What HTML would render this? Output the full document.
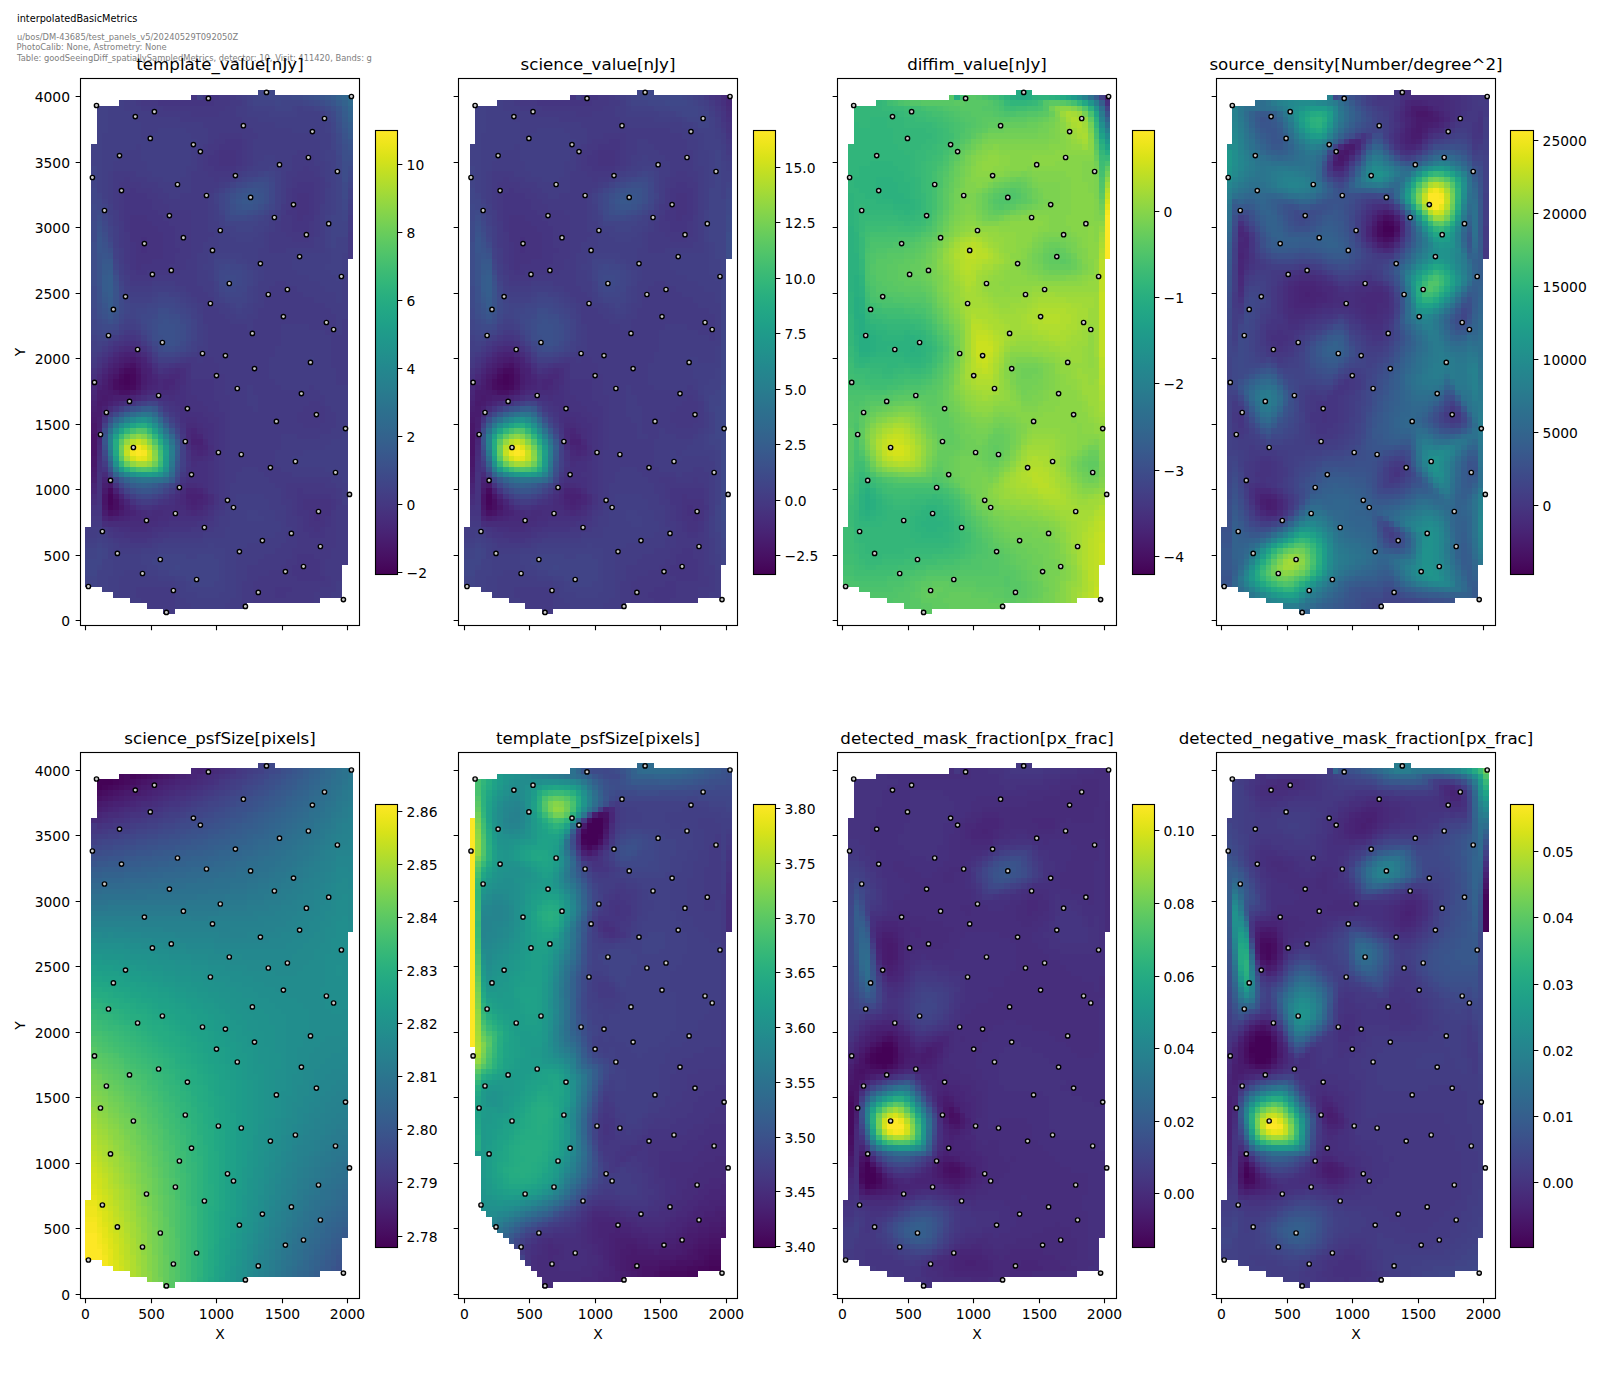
<!DOCTYPE html>
<html><head><meta charset="utf-8"><title>interpolatedBasicMetrics</title>
<style>html,body{margin:0;padding:0;background:#fff}svg{display:block}text{font-family:"DejaVu Sans","Liberation Sans",sans-serif;fill:#000}.t{font-size:13.89px}.h{font-size:16.67px}.g{font-size:8.33px;fill:#808080}.s{stroke:#000;stroke-width:1.11;fill:none}.k{stroke:#000;stroke-width:1.11}.p circle{fill:#cccccc;stroke:#000;stroke-width:1.4}</style></head><body>
<svg width="1600" height="1400" viewBox="0 0 1600 1400">
<rect width="1600" height="1400" fill="#fff"/>
<defs><linearGradient id="vg" x1="0" y1="0" x2="0" y2="1"><stop offset="0.0000" stop-color="#fde725"/><stop offset="0.0312" stop-color="#ece51b"/><stop offset="0.0625" stop-color="#d8e219"/><stop offset="0.0938" stop-color="#c2df23"/><stop offset="0.1250" stop-color="#addc30"/><stop offset="0.1562" stop-color="#98d83e"/><stop offset="0.1875" stop-color="#84d44b"/><stop offset="0.2188" stop-color="#70cf57"/><stop offset="0.2500" stop-color="#5ec962"/><stop offset="0.2812" stop-color="#4ec36b"/><stop offset="0.3125" stop-color="#3fbc73"/><stop offset="0.3438" stop-color="#32b67a"/><stop offset="0.3750" stop-color="#28ae80"/><stop offset="0.4062" stop-color="#22a785"/><stop offset="0.4375" stop-color="#1fa088"/><stop offset="0.4688" stop-color="#1f988b"/><stop offset="0.5000" stop-color="#21918c"/><stop offset="0.5312" stop-color="#23898e"/><stop offset="0.5625" stop-color="#26828e"/><stop offset="0.5938" stop-color="#297a8e"/><stop offset="0.6250" stop-color="#2c728e"/><stop offset="0.6562" stop-color="#2f6b8e"/><stop offset="0.6875" stop-color="#33638d"/><stop offset="0.7188" stop-color="#375b8d"/><stop offset="0.7500" stop-color="#3b528b"/><stop offset="0.7812" stop-color="#3e4989"/><stop offset="0.8125" stop-color="#424086"/><stop offset="0.8438" stop-color="#453781"/><stop offset="0.8750" stop-color="#472d7b"/><stop offset="0.9062" stop-color="#482374"/><stop offset="0.9375" stop-color="#48186a"/><stop offset="0.9688" stop-color="#470d60"/><stop offset="1.0000" stop-color="#440154"/></linearGradient><g id="pp" class="p"><circle cx="96.5" cy="105.5" r="2.15"/><circle cx="135.3" cy="116.6" r="2.15"/><circle cx="154.4" cy="111.7" r="2.15"/><circle cx="208.4" cy="98.4" r="2.15"/><circle cx="266.5" cy="92.4" r="2.15"/><circle cx="351.4" cy="96.5" r="2.15"/><circle cx="324.5" cy="118.5" r="2.15"/><circle cx="312.4" cy="131.6" r="2.15"/><circle cx="243.4" cy="125.7" r="2.15"/><circle cx="150.3" cy="138.4" r="2.15"/><circle cx="193.4" cy="144.6" r="2.15"/><circle cx="200.4" cy="151.6" r="2.15"/><circle cx="119.5" cy="155.6" r="2.15"/><circle cx="308.4" cy="157.5" r="2.15"/><circle cx="279.5" cy="164.7" r="2.15"/><circle cx="337.4" cy="171.5" r="2.15"/><circle cx="92.4" cy="177.5" r="2.15"/><circle cx="235.4" cy="175.6" r="2.15"/><circle cx="177.5" cy="184.5" r="2.15"/><circle cx="121.5" cy="190.6" r="2.15"/><circle cx="206.5" cy="195.5" r="2.15"/><circle cx="250.6" cy="197.4" r="2.15"/><circle cx="293.5" cy="204.6" r="2.15"/><circle cx="104.5" cy="210.5" r="2.15"/><circle cx="169.4" cy="215.6" r="2.15"/><circle cx="274.4" cy="217.5" r="2.15"/><circle cx="328.7" cy="223.7" r="2.15"/><circle cx="220.3" cy="230.5" r="2.15"/><circle cx="306.4" cy="234.7" r="2.15"/><circle cx="183.4" cy="237.7" r="2.15"/><circle cx="144.4" cy="243.6" r="2.15"/><circle cx="212.5" cy="250.4" r="2.15"/><circle cx="299.6" cy="256.6" r="2.15"/><circle cx="260.4" cy="263.6" r="2.15"/><circle cx="171.3" cy="270.4" r="2.15"/><circle cx="152.4" cy="274.4" r="2.15"/><circle cx="341.4" cy="276.5" r="2.15"/><circle cx="229.3" cy="283.5" r="2.15"/><circle cx="287.4" cy="289.5" r="2.15"/><circle cx="268.3" cy="294.5" r="2.15"/><circle cx="125.5" cy="296.6" r="2.15"/><circle cx="210.4" cy="303.5" r="2.15"/><circle cx="113.4" cy="309.4" r="2.15"/><circle cx="283.4" cy="316.6" r="2.15"/><circle cx="326.4" cy="322.5" r="2.15"/><circle cx="333.6" cy="329.5" r="2.15"/><circle cx="252.4" cy="333.4" r="2.15"/><circle cx="108.5" cy="335.5" r="2.15"/><circle cx="162.4" cy="342.5" r="2.15"/><circle cx="137.6" cy="349.5" r="2.15"/><circle cx="202.5" cy="353.5" r="2.15"/><circle cx="225.4" cy="355.6" r="2.15"/><circle cx="310.5" cy="362.4" r="2.15"/><circle cx="254.5" cy="368.6" r="2.15"/><circle cx="216.5" cy="375.6" r="2.15"/><circle cx="94.5" cy="382.4" r="2.15"/><circle cx="237.3" cy="388.5" r="2.15"/><circle cx="301.4" cy="393.6" r="2.15"/><circle cx="158.6" cy="395.5" r="2.15"/><circle cx="129.5" cy="401.4" r="2.15"/><circle cx="187.4" cy="408.6" r="2.15"/><circle cx="106.4" cy="412.5" r="2.15"/><circle cx="316.4" cy="414.6" r="2.15"/><circle cx="276.4" cy="421.4" r="2.15"/><circle cx="345.5" cy="428.6" r="2.15"/><circle cx="100.5" cy="434.5" r="2.15"/><circle cx="185.3" cy="441.5" r="2.15"/><circle cx="133.4" cy="447.5" r="2.15"/><circle cx="218.4" cy="452.5" r="2.15"/><circle cx="241.3" cy="454.5" r="2.15"/><circle cx="295.4" cy="461.5" r="2.15"/><circle cx="270.4" cy="467.6" r="2.15"/><circle cx="335.5" cy="472.5" r="2.15"/><circle cx="191.5" cy="474.6" r="2.15"/><circle cx="110.5" cy="480.4" r="2.15"/><circle cx="179.4" cy="487.5" r="2.15"/><circle cx="349.5" cy="494.4" r="2.15"/><circle cx="227.5" cy="500.3" r="2.15"/><circle cx="233.5" cy="507.5" r="2.15"/><circle cx="318.5" cy="511.5" r="2.15"/><circle cx="175.4" cy="513.5" r="2.15"/><circle cx="146.5" cy="520.5" r="2.15"/><circle cx="204.4" cy="527.5" r="2.15"/><circle cx="102.4" cy="531.5" r="2.15"/><circle cx="291.4" cy="533.4" r="2.15"/><circle cx="262.4" cy="540.6" r="2.15"/><circle cx="320.4" cy="546.5" r="2.15"/><circle cx="239.4" cy="551.6" r="2.15"/><circle cx="117.4" cy="553.4" r="2.15"/><circle cx="160.3" cy="559.5" r="2.15"/><circle cx="303.5" cy="566.5" r="2.15"/><circle cx="285.4" cy="571.6" r="2.15"/><circle cx="142.5" cy="573.5" r="2.15"/><circle cx="196.6" cy="579.5" r="2.15"/><circle cx="88.4" cy="586.5" r="2.15"/><circle cx="173.4" cy="590.5" r="2.15"/><circle cx="258.3" cy="592.4" r="2.15"/><circle cx="343.4" cy="599.6" r="2.15"/><circle cx="245.4" cy="606.4" r="2.15"/><circle cx="166.4" cy="612.4" r="2.15"/></g></defs>
<text x="17" y="22" style="font-size:9.72px">interpolatedBasicMetrics</text>
<text class="g" x="17" y="40">u/bos/DM-43685/test_panels_v5/20240529T092050Z</text>
<text class="g" x="16.5" y="50">PhotoCalib: None, Astrometry: None</text>
<text class="g" x="17" y="60.5">Table: goodSeeingDiff_spatiallySampledMetrics, detector: 10, Visit: 411420, Bands: g</text>
<g transform="translate(85.40,89.50) scale(5.5780,5.4640)" shape-rendering="crispEdges"><path fill="#450559" d="M7 52h1v1h-1zM7 53h1v1h-1zM4 74h1v1h-1zM4 75h1v1h-1z"/><path fill="#46085c" d="M8 52h1v1h-1zM6 53h1v1h-1zM8 53h1v1h-1zM7 54h1v1h-1zM4 76h1v1h-1z"/><path fill="#460b5e" d="M7 51h2v1h-2zM6 52h1v1h-1zM6 54h1v1h-1zM8 54h1v1h-1zM4 73h1v1h-1z"/><path fill="#470e61" d="M5 53h1v1h-1zM5 54h1v1h-1zM5 75h1v1h-1zM5 76h1v1h-1z"/><path fill="#471164" d="M8 50h1v1h-1zM6 51h1v1h-1zM9 52h1v1h-1zM9 53h1v1h-1zM6 55h2v1h-2zM4 77h1v1h-1z"/><path fill="#481467" d="M7 50h1v1h-1zM9 51h1v1h-1zM5 52h1v1h-1zM9 54h1v1h-1zM1 63h1v1h-1zM1 64h1v1h-1zM1 65h1v1h-1zM1 66h1v1h-1zM3 74h1v1h-1zM5 74h1v1h-1zM3 75h1v1h-1zM5 77h1v1h-1z"/><path fill="#481769" d="M4 53h1v1h-1zM4 54h1v1h-1zM5 55h1v1h-1zM8 55h1v1h-1zM1 61h1v1h-1zM1 62h1v1h-1zM1 67h1v1h-1zM1 68h1v1h-1zM3 76h1v1h-1zM6 76h1v1h-1z"/><path fill="#481a6c" d="M8 49h1v1h-1zM6 50h1v1h-1zM9 50h1v1h-1zM5 51h1v1h-1zM4 52h1v1h-1zM4 55h1v1h-1zM3 56h1v1h-1zM2 57h1v1h-1zM1 60h1v1h-1zM1 69h1v1h-1zM4 72h1v1h-1zM3 73h1v1h-1z"/><path fill="#481c6e" d="M7 49h1v1h-1zM10 52h1v1h-1zM10 53h1v1h-1zM3 54h1v1h-1zM2 55h2v1h-2zM9 55h1v1h-1zM2 56h1v1h-1zM4 56h1v1h-1zM3 57h1v1h-1zM2 58h1v1h-1zM1 59h2v1h-2zM1 70h1v1h-1zM6 75h1v1h-1zM3 77h1v1h-1zM6 77h1v1h-1z"/><path fill="#481f70" d="M6 49h1v1h-1zM9 49h1v1h-1zM5 50h1v1h-1zM4 51h1v1h-1zM10 51h1v1h-1zM3 53h1v1h-1zM10 54h1v1h-1zM5 56h3v1h-3zM1 58h1v1h-1zM2 60h1v1h-1zM2 61h1v1h-1zM1 71h1v1h-1zM3 72h1v1h-1zM4 78h1v1h-1z"/><path fill="#482173" d="M7 48h2v1h-2zM10 50h1v1h-1zM11 51h1v1h-1zM3 52h1v1h-1zM11 52h1v1h-1zM11 53h1v1h-1zM2 54h1v1h-1zM1 57h1v1h-1zM4 57h1v1h-1zM3 58h1v1h-1zM2 62h1v1h-1zM2 63h1v1h-1zM19 64h2v1h-2zM5 73h1v1h-1zM18 74h3v1h-3zM19 75h1v1h-1zM7 76h1v1h-1zM7 77h1v1h-1zM5 78h1v1h-1z"/><path fill="#482475" d="M6 48h1v1h-1zM5 49h1v1h-1zM10 49h1v1h-1zM4 50h1v1h-1zM12 53h1v1h-1zM11 54h1v1h-1zM10 55h1v1h-1zM1 56h1v1h-1zM8 56h1v1h-1zM19 63h1v1h-1zM20 65h1v1h-1zM3 71h1v1h-1zM1 72h1v1h-1zM18 73h2v1h-2zM6 74h1v1h-1zM18 75h1v1h-1zM20 75h1v1h-1zM19 76h1v1h-1zM8 77h1v1h-1zM3 78h1v1h-1zM6 78h1v1h-1z"/><path fill="#482677" d="M9 48h1v1h-1zM11 50h1v1h-1zM3 51h1v1h-1zM12 52h1v1h-1zM2 53h1v1h-1zM14 53h2v1h-2zM12 54h1v1h-1zM14 54h1v1h-1zM1 55h1v1h-1zM5 57h1v1h-1zM19 62h1v1h-1zM20 63h1v1h-1zM2 64h1v1h-1zM19 65h1v1h-1zM21 65h1v1h-1zM20 66h1v1h-1zM1 73h1v1h-1zM20 73h1v1h-1zM21 74h1v1h-1zM7 75h1v1h-1zM21 75h1v1h-1zM18 76h1v1h-1zM20 76h1v1h-1zM7 78h1v1h-1z"/><path fill="#482979" d="M7 47h2v1h-2zM5 48h1v1h-1zM4 49h1v1h-1zM2 52h1v1h-1zM15 52h2v1h-2zM13 53h1v1h-1zM1 54h1v1h-1zM13 54h1v1h-1zM15 54h1v1h-1zM11 55h1v1h-1zM9 56h1v1h-1zM18 62h1v1h-1zM18 63h1v1h-1zM21 64h1v1h-1zM2 65h1v1h-1zM19 66h1v1h-1zM21 66h1v1h-1zM17 74h1v1h-1zM17 75h1v1h-1zM8 76h1v1h-1zM9 77h1v1h-1zM19 77h1v1h-1zM8 78h2v1h-2z"/><path fill="#472c7a" d="M6 47h1v1h-1zM9 47h1v1h-1zM10 48h1v1h-1zM3 50h1v1h-1zM12 51h1v1h-1zM16 51h1v1h-1zM13 52h2v1h-2zM16 53h1v1h-1zM16 54h1v1h-1zM12 55h4v1h-4zM6 57h1v1h-1zM4 58h1v1h-1zM3 59h1v1h-1zM18 61h2v1h-2zM20 62h1v1h-1zM18 64h1v1h-1zM2 66h1v1h-1zM19 67h2v1h-2zM3 70h1v1h-1zM4 71h1v1h-1zM18 72h2v1h-2zM17 73h1v1h-1zM21 73h1v1h-1zM1 74h1v1h-1zM22 74h1v1h-1zM16 75h1v1h-1zM22 75h1v1h-1zM16 76h2v1h-2zM21 76h1v1h-1zM10 77h1v1h-1zM12 77h2v1h-2zM18 77h1v1h-1zM20 77h1v1h-1zM10 78h3v1h-3zM4 79h7v1h-7z"/><path fill="#472e7c" d="M11 49h1v1h-1zM2 51h1v1h-1zM15 51h1v1h-1zM17 51h1v1h-1zM17 52h1v1h-1zM1 53h1v1h-1zM17 53h1v1h-1zM16 55h1v1h-1zM10 56h1v1h-1zM15 56h1v1h-1zM18 60h2v1h-2zM20 61h1v1h-1zM21 62h1v1h-1zM21 63h1v1h-1zM18 65h1v1h-1zM22 65h1v1h-1zM22 66h1v1h-1zM2 67h1v1h-1zM21 67h1v1h-1zM19 68h1v1h-1zM20 72h1v1h-1zM16 74h1v1h-1zM1 75h1v1h-1zM13 76h3v1h-3zM11 77h1v1h-1zM14 77h4v1h-4zM21 77h1v1h-1zM13 78h2v1h-2zM3 79h1v1h-1zM11 79h2v1h-2zM8 80h3v1h-3z"/><path fill="#46307e" d="M10 27h1v1h-1zM10 28h1v1h-1zM10 29h1v1h-1zM7 46h2v1h-2zM5 47h1v1h-1zM4 48h1v1h-1zM3 49h1v1h-1zM12 50h1v1h-1zM14 51h1v1h-1zM1 52h1v1h-1zM17 54h1v1h-1zM17 55h1v1h-1zM13 56h2v1h-2zM16 56h2v1h-2zM7 57h1v1h-1zM16 57h2v1h-2zM17 58h2v1h-2zM17 59h4v1h-4zM17 60h1v1h-1zM20 60h2v1h-2zM21 61h2v1h-2zM22 62h1v1h-1zM22 63h1v1h-1zM22 64h1v1h-1zM22 67h1v1h-1zM2 68h1v1h-1zM20 68h2v1h-2zM2 69h1v1h-1zM19 69h3v1h-3zM19 70h3v1h-3zM18 71h4v1h-4zM17 72h1v1h-1zM21 72h1v1h-1zM15 75h1v1h-1zM9 76h1v1h-1zM12 76h1v1h-1zM22 76h1v1h-1zM41 77h1v1h-1zM15 78h6v1h-6zM41 78h1v1h-1zM13 79h2v1h-2zM6 80h2v1h-2zM11 80h1v1h-1z"/><path fill="#46337f" d="M24 11h3v1h-3zM24 12h3v1h-3zM24 13h3v1h-3zM38 19h2v1h-2zM38 20h2v1h-2zM37 21h3v1h-3zM38 22h2v1h-2zM8 23h3v1h-3zM38 23h1v1h-1zM8 24h4v1h-4zM8 25h5v1h-5zM8 26h6v1h-6zM8 27h2v1h-2zM11 27h3v1h-3zM9 28h1v1h-1zM11 28h3v1h-3zM9 29h1v1h-1zM11 29h3v1h-3zM9 30h5v1h-5zM9 31h3v1h-3zM9 32h1v1h-1zM6 46h1v1h-1zM9 46h1v1h-1zM10 47h1v1h-1zM11 48h1v1h-1zM2 50h1v1h-1zM16 50h3v1h-3zM1 51h1v1h-1zM13 51h1v1h-1zM18 51h1v1h-1zM18 52h1v1h-1zM18 53h1v1h-1zM18 54h1v1h-1zM18 55h1v1h-1zM11 56h2v1h-2zM18 56h2v1h-2zM15 57h1v1h-1zM18 57h3v1h-3zM16 58h1v1h-1zM19 58h3v1h-3zM21 59h2v1h-2zM22 60h2v1h-2zM17 61h1v1h-1zM23 61h1v1h-1zM23 62h1v1h-1zM23 63h1v1h-1zM23 64h1v1h-1zM23 65h1v1h-1zM18 66h1v1h-1zM23 66h1v1h-1zM18 67h1v1h-1zM22 68h1v1h-1zM18 69h1v1h-1zM22 69h1v1h-1zM2 70h1v1h-1zM18 70h1v1h-1zM22 70h1v1h-1zM2 71h1v1h-1zM22 71h1v1h-1zM2 72h1v1h-1zM5 72h1v1h-1zM22 72h1v1h-1zM2 73h1v1h-1zM16 73h1v1h-1zM22 73h1v1h-1zM2 74h1v1h-1zM15 74h1v1h-1zM23 74h1v1h-1zM2 75h1v1h-1zM8 75h1v1h-1zM14 75h1v1h-1zM23 75h1v1h-1zM39 75h5v1h-5zM1 76h1v1h-1zM10 76h2v1h-2zM39 76h5v1h-5zM22 77h1v1h-1zM40 77h1v1h-1zM42 77h2v1h-2zM21 78h1v1h-1zM40 78h1v1h-1zM42 78h1v1h-1zM15 79h5v1h-5zM40 79h3v1h-3zM5 80h1v1h-1zM12 80h2v1h-2zM41 80h1v1h-1zM7 81h5v1h-5z"/><path fill="#453581" d="M19 1h1v1h-1zM22 1h2v1h-2zM13 2h10v1h-10zM25 9h3v1h-3zM24 10h4v1h-4zM23 11h1v1h-1zM27 11h1v1h-1zM22 12h2v1h-2zM27 12h1v1h-1zM22 13h2v1h-2zM27 13h1v1h-1zM23 14h4v1h-4zM38 17h3v1h-3zM8 18h1v1h-1zM37 18h4v1h-4zM7 19h4v1h-4zM37 19h1v1h-1zM40 19h1v1h-1zM7 20h5v1h-5zM37 20h1v1h-1zM40 20h1v1h-1zM7 21h5v1h-5zM40 21h1v1h-1zM7 22h6v1h-6zM36 22h2v1h-2zM40 22h1v1h-1zM7 23h1v1h-1zM11 23h3v1h-3zM37 23h1v1h-1zM39 23h2v1h-2zM7 24h1v1h-1zM12 24h3v1h-3zM37 24h3v1h-3zM7 25h1v1h-1zM13 25h3v1h-3zM37 25h3v1h-3zM14 26h2v1h-2zM14 27h2v1h-2zM8 28h1v1h-1zM14 28h2v1h-2zM8 29h1v1h-1zM14 29h3v1h-3zM8 30h1v1h-1zM14 30h2v1h-2zM8 31h1v1h-1zM12 31h4v1h-4zM8 32h1v1h-1zM10 32h5v1h-5zM9 33h2v1h-2zM7 45h2v1h-2zM5 46h1v1h-1zM4 47h1v1h-1zM3 48h1v1h-1zM2 49h1v1h-1zM15 50h1v1h-1zM19 53h4v1h-4zM19 54h4v1h-4zM19 55h4v1h-4zM20 56h3v1h-3zM8 57h1v1h-1zM14 57h1v1h-1zM21 57h3v1h-3zM5 58h1v1h-1zM15 58h1v1h-1zM22 58h2v1h-2zM16 59h1v1h-1zM23 59h2v1h-2zM3 60h1v1h-1zM24 60h1v1h-1zM24 61h1v1h-1zM17 62h1v1h-1zM24 62h1v1h-1zM24 63h1v1h-1zM24 64h1v1h-1zM24 65h1v1h-1zM23 67h1v1h-1zM18 68h1v1h-1zM23 68h1v1h-1zM3 69h1v1h-1zM23 69h1v1h-1zM23 70h1v1h-1zM17 71h1v1h-1zM23 71h1v1h-1zM23 72h1v1h-1zM6 73h1v1h-1zM23 73h1v1h-1zM38 73h1v1h-1zM7 74h1v1h-1zM38 74h6v1h-6zM13 75h1v1h-1zM38 75h1v1h-1zM44 75h1v1h-1zM2 76h1v1h-1zM23 76h1v1h-1zM38 76h1v1h-1zM44 76h1v1h-1zM1 77h2v1h-2zM38 77h2v1h-2zM22 78h1v1h-1zM39 78h1v1h-1zM43 78h1v1h-1zM20 79h2v1h-2zM39 79h1v1h-1zM43 79h1v1h-1zM4 80h1v1h-1zM14 80h5v1h-5zM39 80h2v1h-2zM42 80h1v1h-1zM5 81h2v1h-2zM12 81h1v1h-1zM40 81h3v1h-3zM8 82h3v1h-3zM38 85h3v1h-3zM38 86h4v1h-4zM37 87h5v1h-5zM37 88h5v1h-5zM38 89h5v1h-5zM34 91h3v1h-3zM34 92h2v1h-2z"/><path fill="#453882" d="M21 1h1v1h-1zM24 1h2v1h-2zM10 2h3v1h-3zM23 2h3v1h-3zM14 3h11v1h-11zM19 4h5v1h-5zM24 8h4v1h-4zM23 9h2v1h-2zM28 9h1v1h-1zM22 10h2v1h-2zM28 10h1v1h-1zM21 11h2v1h-2zM28 11h1v1h-1zM21 12h1v1h-1zM28 12h1v1h-1zM21 13h1v1h-1zM28 13h1v1h-1zM21 14h2v1h-2zM27 14h1v1h-1zM39 14h1v1h-1zM22 15h5v1h-5zM38 15h3v1h-3zM7 16h1v1h-1zM23 16h1v1h-1zM37 16h5v1h-5zM6 17h4v1h-4zM37 17h1v1h-1zM41 17h1v1h-1zM6 18h2v1h-2zM9 18h3v1h-3zM36 18h1v1h-1zM41 18h1v1h-1zM6 19h1v1h-1zM11 19h2v1h-2zM36 19h1v1h-1zM41 19h1v1h-1zM6 20h1v1h-1zM12 20h2v1h-2zM36 20h1v1h-1zM41 20h1v1h-1zM6 21h1v1h-1zM12 21h3v1h-3zM36 21h1v1h-1zM41 21h1v1h-1zM6 22h1v1h-1zM13 22h6v1h-6zM41 22h1v1h-1zM6 23h1v1h-1zM14 23h5v1h-5zM35 23h2v1h-2zM15 24h4v1h-4zM35 24h2v1h-2zM40 24h1v1h-1zM16 25h3v1h-3zM35 25h2v1h-2zM40 25h1v1h-1zM7 26h1v1h-1zM16 26h3v1h-3zM36 26h5v1h-5zM47 26h1v1h-1zM7 27h1v1h-1zM16 27h3v1h-3zM37 27h3v1h-3zM47 27h1v1h-1zM7 28h1v1h-1zM16 28h3v1h-3zM47 28h1v1h-1zM7 29h1v1h-1zM17 29h2v1h-2zM47 29h1v1h-1zM7 30h1v1h-1zM16 30h3v1h-3zM47 30h1v1h-1zM7 31h1v1h-1zM16 31h2v1h-2zM15 32h3v1h-3zM8 33h1v1h-1zM11 33h6v1h-6zM8 34h4v1h-4zM6 45h1v1h-1zM9 45h1v1h-1zM12 49h1v1h-1zM18 49h2v1h-2zM21 49h2v1h-2zM1 50h1v1h-1zM13 50h2v1h-2zM19 50h5v1h-5zM19 51h5v1h-5zM19 52h6v1h-6zM23 53h2v1h-2zM23 54h2v1h-2zM23 55h2v1h-2zM23 56h3v1h-3zM24 57h2v1h-2zM40 57h2v1h-2zM24 58h2v1h-2zM39 58h4v1h-4zM25 59h1v1h-1zM38 59h5v1h-5zM16 60h1v1h-1zM25 60h1v1h-1zM38 60h5v1h-5zM25 61h1v1h-1zM39 61h3v1h-3zM25 62h1v1h-1zM17 63h1v1h-1zM25 63h1v1h-1zM25 64h1v1h-1zM25 65h1v1h-1zM24 66h1v1h-1zM24 67h1v1h-1zM24 68h1v1h-1zM24 69h1v1h-1zM24 70h1v1h-1zM24 71h1v1h-1zM24 72h1v1h-1zM36 72h7v1h-7zM24 73h1v1h-1zM36 73h2v1h-2zM39 73h6v1h-6zM24 74h1v1h-1zM36 74h2v1h-2zM44 74h1v1h-1zM24 75h1v1h-1zM37 75h1v1h-1zM45 75h1v1h-1zM24 76h1v1h-1zM37 76h1v1h-1zM23 77h1v1h-1zM37 77h1v1h-1zM44 77h1v1h-1zM1 78h2v1h-2zM38 78h1v1h-1zM44 78h1v1h-1zM22 79h1v1h-1zM38 79h1v1h-1zM44 79h1v1h-1zM3 80h1v1h-1zM19 80h3v1h-3zM38 80h1v1h-1zM43 80h2v1h-2zM4 81h1v1h-1zM13 81h2v1h-2zM38 81h2v1h-2zM43 81h2v1h-2zM6 82h2v1h-2zM11 82h1v1h-1zM38 82h7v1h-7zM38 83h7v1h-7zM37 84h7v1h-7zM37 85h1v1h-1zM41 85h3v1h-3zM36 86h2v1h-2zM42 86h1v1h-1zM35 87h2v1h-2zM42 87h1v1h-1zM33 88h4v1h-4zM42 88h1v1h-1zM31 89h7v1h-7zM43 89h1v1h-1zM30 90h14v1h-14zM30 91h4v1h-4zM37 91h5v1h-5zM30 92h4v1h-4zM36 92h5v1h-5zM30 93h11v1h-11z"/><path fill="#443a83" d="M26 1h1v1h-1zM9 2h1v1h-1zM26 2h2v1h-2zM10 3h4v1h-4zM25 3h2v1h-2zM12 4h7v1h-7zM24 4h3v1h-3zM17 5h11v1h-11zM21 6h8v1h-8zM22 7h8v1h-8zM22 8h2v1h-2zM28 8h3v1h-3zM22 9h1v1h-1zM29 9h1v1h-1zM21 10h1v1h-1zM29 10h1v1h-1zM20 11h1v1h-1zM29 11h1v1h-1zM38 11h2v1h-2zM20 12h1v1h-1zM29 12h1v1h-1zM37 12h4v1h-4zM20 13h1v1h-1zM29 13h1v1h-1zM37 13h4v1h-4zM20 14h1v1h-1zM28 14h1v1h-1zM37 14h2v1h-2zM40 14h2v1h-2zM5 15h4v1h-4zM19 15h3v1h-3zM36 15h2v1h-2zM41 15h1v1h-1zM5 16h2v1h-2zM8 16h3v1h-3zM19 16h4v1h-4zM24 16h2v1h-2zM36 16h1v1h-1zM42 16h1v1h-1zM5 17h1v1h-1zM10 17h3v1h-3zM19 17h5v1h-5zM36 17h1v1h-1zM42 17h1v1h-1zM5 18h1v1h-1zM12 18h2v1h-2zM19 18h4v1h-4zM42 18h1v1h-1zM5 19h1v1h-1zM13 19h2v1h-2zM17 19h5v1h-5zM42 19h1v1h-1zM5 20h1v1h-1zM14 20h8v1h-8zM42 20h1v1h-1zM5 21h1v1h-1zM15 21h7v1h-7zM35 21h1v1h-1zM19 22h3v1h-3zM35 22h1v1h-1zM19 23h3v1h-3zM41 23h1v1h-1zM47 23h1v1h-1zM6 24h1v1h-1zM19 24h3v1h-3zM34 24h1v1h-1zM41 24h1v1h-1zM47 24h1v1h-1zM6 25h1v1h-1zM19 25h3v1h-3zM34 25h1v1h-1zM41 25h1v1h-1zM47 25h1v1h-1zM6 26h1v1h-1zM19 26h4v1h-4zM33 26h3v1h-3zM41 26h1v1h-1zM6 27h1v1h-1zM19 27h3v1h-3zM33 27h4v1h-4zM40 27h1v1h-1zM6 28h1v1h-1zM19 28h2v1h-2zM33 28h8v1h-8zM19 29h2v1h-2zM33 29h3v1h-3zM19 30h1v1h-1zM18 31h2v1h-2zM7 32h1v1h-1zM18 32h2v1h-2zM7 33h1v1h-1zM17 33h3v1h-3zM12 34h8v1h-8zM8 35h4v1h-4zM16 35h4v1h-4zM34 35h2v1h-2zM18 36h3v1h-3zM33 36h5v1h-5zM19 37h3v1h-3zM32 37h7v1h-7zM20 38h3v1h-3zM32 38h9v1h-9zM21 39h2v1h-2zM32 39h11v1h-11zM21 40h3v1h-3zM31 40h13v1h-13zM21 41h4v1h-4zM31 41h14v1h-14zM21 42h5v1h-5zM30 42h15v1h-15zM46 42h1v1h-1zM22 43h7v1h-7zM30 43h5v1h-5zM40 43h5v1h-5zM46 43h1v1h-1zM7 44h2v1h-2zM22 44h13v1h-13zM43 44h2v1h-2zM46 44h1v1h-1zM22 45h13v1h-13zM44 45h3v1h-3zM4 46h1v1h-1zM10 46h1v1h-1zM22 46h13v1h-13zM44 46h3v1h-3zM3 47h1v1h-1zM11 47h1v1h-1zM22 47h12v1h-12zM44 47h3v1h-3zM2 48h1v1h-1zM20 48h14v1h-14zM44 48h3v1h-3zM1 49h1v1h-1zM17 49h1v1h-1zM20 49h1v1h-1zM23 49h10v1h-10zM44 49h3v1h-3zM24 50h9v1h-9zM44 50h3v1h-3zM24 51h9v1h-9zM45 51h2v1h-2zM25 52h8v1h-8zM45 52h2v1h-2zM25 53h9v1h-9zM45 53h2v1h-2zM25 54h4v1h-4zM30 54h5v1h-5zM40 54h1v1h-1zM25 55h4v1h-4zM30 55h12v1h-12zM26 56h3v1h-3zM31 56h12v1h-12zM13 57h1v1h-1zM26 57h3v1h-3zM31 57h9v1h-9zM42 57h1v1h-1zM14 58h1v1h-1zM26 58h4v1h-4zM31 58h8v1h-8zM43 58h1v1h-1zM15 59h1v1h-1zM26 59h12v1h-12zM43 59h2v1h-2zM26 60h12v1h-12zM43 60h2v1h-2zM26 61h13v1h-13zM42 61h3v1h-3zM26 62h18v1h-18zM26 63h9v1h-9zM38 63h4v1h-4zM26 64h9v1h-9zM26 65h9v1h-9zM25 66h9v1h-9zM25 67h9v1h-9zM25 68h9v1h-9zM25 69h3v1h-3zM31 69h4v1h-4zM17 70h1v1h-1zM25 70h2v1h-2zM32 70h5v1h-5zM25 71h2v1h-2zM33 71h11v1h-11zM25 72h1v1h-1zM34 72h2v1h-2zM43 72h2v1h-2zM25 73h1v1h-1zM35 73h1v1h-1zM45 73h1v1h-1zM14 74h1v1h-1zM25 74h1v1h-1zM35 74h1v1h-1zM45 74h1v1h-1zM9 75h1v1h-1zM12 75h1v1h-1zM25 75h1v1h-1zM35 75h2v1h-2zM36 76h1v1h-1zM45 76h2v1h-2zM24 77h1v1h-1zM36 77h1v1h-1zM45 77h2v1h-2zM23 78h1v1h-1zM36 78h2v1h-2zM45 78h2v1h-2zM1 79h2v1h-2zM23 79h1v1h-1zM36 79h2v1h-2zM45 79h2v1h-2zM22 80h1v1h-1zM37 80h1v1h-1zM45 80h2v1h-2zM15 81h6v1h-6zM36 81h2v1h-2zM45 81h2v1h-2zM5 82h1v1h-1zM12 82h2v1h-2zM36 82h2v1h-2zM45 82h2v1h-2zM6 83h6v1h-6zM35 83h3v1h-3zM45 83h2v1h-2zM34 84h3v1h-3zM44 84h3v1h-3zM32 85h5v1h-5zM44 85h3v1h-3zM31 86h5v1h-5zM43 86h4v1h-4zM29 87h6v1h-6zM43 87h3v1h-3zM29 88h4v1h-4zM43 88h3v1h-3zM29 89h2v1h-2zM44 89h2v1h-2zM28 90h2v1h-2zM44 90h1v1h-1zM9 91h7v1h-7zM28 91h2v1h-2zM42 91h3v1h-3zM9 92h7v1h-7zM28 92h2v1h-2zM41 92h3v1h-3zM10 93h6v1h-6zM28 93h2v1h-2zM41 93h1v1h-1zM11 94h5v1h-5zM28 94h1v1h-1zM14 95h2v1h-2z"/><path fill="#433d84" d="M27 1h1v1h-1zM7 2h2v1h-2zM28 2h1v1h-1zM7 3h3v1h-3zM27 3h2v1h-2zM9 4h3v1h-3zM27 4h2v1h-2zM9 5h8v1h-8zM28 5h3v1h-3zM10 6h11v1h-11zM29 6h5v1h-5zM10 7h3v1h-3zM18 7h4v1h-4zM30 7h7v1h-7zM10 8h2v1h-2zM19 8h3v1h-3zM31 8h10v1h-10zM20 9h2v1h-2zM30 9h12v1h-12zM9 10h1v1h-1zM19 10h2v1h-2zM30 10h12v1h-12zM7 11h3v1h-3zM19 11h1v1h-1zM30 11h8v1h-8zM40 11h2v1h-2zM6 12h4v1h-4zM19 12h1v1h-1zM30 12h2v1h-2zM34 12h3v1h-3zM41 12h1v1h-1zM5 13h6v1h-6zM19 13h1v1h-1zM30 13h1v1h-1zM35 13h2v1h-2zM41 13h2v1h-2zM5 14h6v1h-6zM18 14h2v1h-2zM29 14h1v1h-1zM35 14h2v1h-2zM42 14h1v1h-1zM4 15h1v1h-1zM9 15h3v1h-3zM18 15h1v1h-1zM27 15h1v1h-1zM35 15h1v1h-1zM42 15h1v1h-1zM4 16h1v1h-1zM11 16h3v1h-3zM17 16h2v1h-2zM26 16h1v1h-1zM35 16h1v1h-1zM4 17h1v1h-1zM13 17h3v1h-3zM17 17h2v1h-2zM24 17h1v1h-1zM35 17h1v1h-1zM43 17h1v1h-1zM4 18h1v1h-1zM14 18h5v1h-5zM23 18h1v1h-1zM35 18h1v1h-1zM4 19h1v1h-1zM15 19h2v1h-2zM22 19h1v1h-1zM35 19h1v1h-1zM4 20h1v1h-1zM22 20h1v1h-1zM35 20h1v1h-1zM22 21h1v1h-1zM42 21h1v1h-1zM47 21h1v1h-1zM5 22h1v1h-1zM22 22h1v1h-1zM34 22h1v1h-1zM42 22h1v1h-1zM47 22h1v1h-1zM5 23h1v1h-1zM22 23h1v1h-1zM34 23h1v1h-1zM42 23h1v1h-1zM5 24h1v1h-1zM22 24h2v1h-2zM33 24h1v1h-1zM42 24h1v1h-1zM22 25h2v1h-2zM33 25h1v1h-1zM42 25h1v1h-1zM23 26h1v1h-1zM32 26h1v1h-1zM42 26h1v1h-1zM22 27h2v1h-2zM32 27h1v1h-1zM41 27h2v1h-2zM21 28h3v1h-3zM32 28h1v1h-1zM41 28h2v1h-2zM6 29h1v1h-1zM21 29h2v1h-2zM31 29h2v1h-2zM36 29h7v1h-7zM6 30h1v1h-1zM20 30h2v1h-2zM31 30h7v1h-7zM6 31h1v1h-1zM20 31h2v1h-2zM31 31h6v1h-6zM20 32h1v1h-1zM32 32h5v1h-5zM20 33h2v1h-2zM32 33h6v1h-6zM7 34h1v1h-1zM20 34h2v1h-2zM32 34h8v1h-8zM46 34h1v1h-1zM7 35h1v1h-1zM12 35h4v1h-4zM20 35h3v1h-3zM31 35h3v1h-3zM36 35h6v1h-6zM46 35h1v1h-1zM8 36h4v1h-4zM16 36h2v1h-2zM21 36h2v1h-2zM31 36h2v1h-2zM38 36h5v1h-5zM46 36h1v1h-1zM18 37h1v1h-1zM22 37h1v1h-1zM31 37h1v1h-1zM39 37h6v1h-6zM46 37h1v1h-1zM19 38h1v1h-1zM31 38h1v1h-1zM41 38h4v1h-4zM46 38h1v1h-1zM20 39h1v1h-1zM23 39h2v1h-2zM30 39h2v1h-2zM43 39h4v1h-4zM20 40h1v1h-1zM24 40h2v1h-2zM30 40h1v1h-1zM44 40h3v1h-3zM25 41h2v1h-2zM29 41h2v1h-2zM45 41h2v1h-2zM26 42h4v1h-4zM45 42h1v1h-1zM21 43h1v1h-1zM29 43h1v1h-1zM35 43h5v1h-5zM45 43h1v1h-1zM9 44h1v1h-1zM21 44h1v1h-1zM35 44h8v1h-8zM45 44h1v1h-1zM5 45h1v1h-1zM21 45h1v1h-1zM35 45h9v1h-9zM21 46h1v1h-1zM35 46h9v1h-9zM20 47h2v1h-2zM34 47h10v1h-10zM1 48h1v1h-1zM12 48h1v1h-1zM19 48h1v1h-1zM34 48h10v1h-10zM16 49h1v1h-1zM33 49h7v1h-7zM41 49h3v1h-3zM33 50h7v1h-7zM41 50h3v1h-3zM33 51h12v1h-12zM33 52h12v1h-12zM34 53h11v1h-11zM29 54h1v1h-1zM35 54h5v1h-5zM41 54h6v1h-6zM29 55h1v1h-1zM42 55h5v1h-5zM29 56h2v1h-2zM43 56h4v1h-4zM9 57h1v1h-1zM29 57h2v1h-2zM43 57h4v1h-4zM30 58h1v1h-1zM44 58h3v1h-3zM4 59h1v1h-1zM45 59h2v1h-2zM45 60h2v1h-2zM16 61h1v1h-1zM45 61h2v1h-2zM44 62h2v1h-2zM35 63h3v1h-3zM42 63h4v1h-4zM35 64h9v1h-9zM35 65h8v1h-8zM34 66h5v1h-5zM34 67h3v1h-3zM3 68h1v1h-1zM34 68h4v1h-4zM28 69h3v1h-3zM35 69h8v1h-8zM27 70h5v1h-5zM37 70h8v1h-8zM27 71h6v1h-6zM44 71h2v1h-2zM16 72h1v1h-1zM26 72h8v1h-8zM45 72h2v1h-2zM15 73h1v1h-1zM26 73h9v1h-9zM46 73h1v1h-1zM26 74h1v1h-1zM32 74h3v1h-3zM46 74h1v1h-1zM10 75h2v1h-2zM26 75h1v1h-1zM33 75h2v1h-2zM46 75h1v1h-1zM25 76h1v1h-1zM33 76h3v1h-3zM25 77h1v1h-1zM34 77h2v1h-2zM24 78h2v1h-2zM34 78h2v1h-2zM24 79h2v1h-2zM35 79h1v1h-1zM0 80h3v1h-3zM23 80h2v1h-2zM35 80h2v1h-2zM0 81h2v1h-2zM3 81h1v1h-1zM21 81h4v1h-4zM34 81h2v1h-2zM4 82h1v1h-1zM14 82h7v1h-7zM32 82h4v1h-4zM5 83h1v1h-1zM12 83h1v1h-1zM29 83h6v1h-6zM5 84h5v1h-5zM28 84h6v1h-6zM27 85h5v1h-5zM27 86h4v1h-4zM27 87h2v1h-2zM7 88h3v1h-3zM27 88h2v1h-2zM6 89h7v1h-7zM27 89h2v1h-2zM6 90h10v1h-10zM27 90h1v1h-1zM45 90h1v1h-1zM6 91h3v1h-3zM16 91h1v1h-1zM27 91h1v1h-1zM45 91h1v1h-1zM6 92h3v1h-3zM16 92h1v1h-1zM27 92h1v1h-1zM44 92h2v1h-2zM8 93h2v1h-2zM16 93h2v1h-2zM26 93h2v1h-2zM16 94h3v1h-3zM25 94h3v1h-3z"/><path fill="#423f85" d="M28 1h1v1h-1zM6 2h1v1h-1zM4 3h3v1h-3zM29 3h1v1h-1zM38 3h1v1h-1zM4 4h5v1h-5zM29 4h4v1h-4zM38 4h4v1h-4zM4 5h5v1h-5zM31 5h12v1h-12zM4 6h6v1h-6zM34 6h9v1h-9zM4 7h6v1h-6zM13 7h5v1h-5zM37 7h6v1h-6zM3 8h7v1h-7zM12 8h7v1h-7zM41 8h3v1h-3zM3 9h17v1h-17zM42 9h2v1h-2zM3 10h6v1h-6zM10 10h9v1h-9zM42 10h2v1h-2zM3 11h4v1h-4zM10 11h9v1h-9zM42 11h1v1h-1zM3 12h3v1h-3zM10 12h9v1h-9zM32 12h2v1h-2zM42 12h1v1h-1zM3 13h2v1h-2zM11 13h8v1h-8zM31 13h4v1h-4zM43 13h1v1h-1zM3 14h2v1h-2zM11 14h7v1h-7zM30 14h3v1h-3zM34 14h1v1h-1zM43 14h1v1h-1zM3 15h1v1h-1zM12 15h6v1h-6zM28 15h1v1h-1zM43 15h1v1h-1zM3 16h1v1h-1zM14 16h3v1h-3zM43 16h1v1h-1zM3 17h1v1h-1zM16 17h1v1h-1zM25 17h1v1h-1zM3 18h1v1h-1zM43 18h1v1h-1zM3 19h1v1h-1zM43 19h1v1h-1zM43 20h1v1h-1zM47 20h1v1h-1zM4 21h1v1h-1zM23 21h1v1h-1zM43 21h1v1h-1zM4 22h1v1h-1zM23 22h1v1h-1zM43 22h1v1h-1zM23 23h1v1h-1zM33 23h1v1h-1zM5 25h1v1h-1zM24 25h1v1h-1zM32 25h1v1h-1zM5 26h1v1h-1zM24 26h2v1h-2zM31 26h1v1h-1zM5 27h1v1h-1zM24 27h3v1h-3zM30 27h2v1h-2zM5 28h1v1h-1zM24 28h8v1h-8zM23 29h8v1h-8zM43 29h1v1h-1zM22 30h1v1h-1zM28 30h3v1h-3zM38 30h6v1h-6zM46 30h1v1h-1zM22 31h1v1h-1zM29 31h2v1h-2zM37 31h7v1h-7zM46 31h1v1h-1zM6 32h1v1h-1zM21 32h2v1h-2zM30 32h2v1h-2zM37 32h6v1h-6zM46 32h1v1h-1zM6 33h1v1h-1zM22 33h1v1h-1zM31 33h1v1h-1zM38 33h6v1h-6zM46 33h1v1h-1zM22 34h1v1h-1zM31 34h1v1h-1zM40 34h5v1h-5zM42 35h4v1h-4zM7 36h1v1h-1zM12 36h4v1h-4zM30 36h1v1h-1zM43 36h3v1h-3zM8 37h4v1h-4zM17 37h1v1h-1zM23 37h1v1h-1zM30 37h1v1h-1zM45 37h1v1h-1zM18 38h1v1h-1zM23 38h1v1h-1zM30 38h1v1h-1zM45 38h1v1h-1zM19 39h1v1h-1zM25 39h1v1h-1zM29 39h1v1h-1zM26 40h1v1h-1zM28 40h2v1h-2zM20 41h1v1h-1zM27 41h2v1h-2zM20 42h1v1h-1zM7 43h2v1h-2zM20 43h1v1h-1zM6 44h1v1h-1zM20 44h1v1h-1zM4 45h1v1h-1zM10 45h1v1h-1zM20 45h1v1h-1zM1 46h1v1h-1zM3 46h1v1h-1zM20 46h1v1h-1zM1 47h2v1h-2zM18 48h1v1h-1zM13 49h3v1h-3zM40 49h1v1h-1zM40 50h1v1h-1zM6 58h1v1h-1zM46 62h1v1h-1zM46 63h1v1h-1zM17 64h1v1h-1zM44 64h3v1h-3zM43 65h4v1h-4zM39 66h8v1h-8zM37 67h10v1h-10zM38 68h9v1h-9zM17 69h1v1h-1zM43 69h4v1h-4zM45 70h2v1h-2zM46 71h1v1h-1zM8 74h1v1h-1zM13 74h1v1h-1zM27 74h5v1h-5zM27 75h6v1h-6zM26 76h7v1h-7zM26 77h3v1h-3zM31 77h3v1h-3zM26 78h3v1h-3zM32 78h2v1h-2zM26 79h9v1h-9zM25 80h10v1h-10zM2 81h1v1h-1zM25 81h9v1h-9zM0 82h2v1h-2zM3 82h1v1h-1zM21 82h11v1h-11zM4 83h1v1h-1zM13 83h9v1h-9zM23 83h6v1h-6zM4 84h1v1h-1zM10 84h3v1h-3zM25 84h3v1h-3zM4 85h6v1h-6zM25 85h2v1h-2zM5 86h5v1h-5zM25 86h2v1h-2zM5 87h6v1h-6zM25 87h2v1h-2zM5 88h2v1h-2zM10 88h3v1h-3zM25 88h2v1h-2zM4 89h2v1h-2zM13 89h3v1h-3zM25 89h2v1h-2zM4 90h2v1h-2zM16 90h2v1h-2zM25 90h2v1h-2zM4 91h2v1h-2zM17 91h1v1h-1zM25 91h2v1h-2zM5 92h1v1h-1zM17 92h3v1h-3zM24 92h3v1h-3zM18 93h8v1h-8zM19 94h6v1h-6z"/><path fill="#424186" d="M20 1h1v1h-1zM29 1h1v1h-1zM29 2h1v1h-1zM2 3h2v1h-2zM30 3h4v1h-4zM37 3h1v1h-1zM39 3h2v1h-2zM2 4h2v1h-2zM33 4h5v1h-5zM42 4h1v1h-1zM2 5h2v1h-2zM2 6h2v1h-2zM43 6h1v1h-1zM2 7h2v1h-2zM43 7h1v1h-1zM2 8h1v1h-1zM2 9h1v1h-1zM1 10h2v1h-2zM1 11h2v1h-2zM43 11h2v1h-2zM1 12h2v1h-2zM43 12h2v1h-2zM1 13h2v1h-2zM44 13h1v1h-1zM2 14h1v1h-1zM33 14h1v1h-1zM44 14h1v1h-1zM2 15h1v1h-1zM29 15h2v1h-2zM34 15h1v1h-1zM44 15h1v1h-1zM2 16h1v1h-1zM27 16h1v1h-1zM34 16h1v1h-1zM44 16h1v1h-1zM2 17h1v1h-1zM34 17h1v1h-1zM44 17h1v1h-1zM2 18h1v1h-1zM24 18h1v1h-1zM34 18h1v1h-1zM44 18h1v1h-1zM47 18h1v1h-1zM23 19h1v1h-1zM34 19h1v1h-1zM44 19h1v1h-1zM47 19h1v1h-1zM3 20h1v1h-1zM23 20h1v1h-1zM34 20h1v1h-1zM44 20h1v1h-1zM34 21h1v1h-1zM44 21h1v1h-1zM33 22h1v1h-1zM44 22h1v1h-1zM4 23h1v1h-1zM24 23h1v1h-1zM32 23h1v1h-1zM43 23h1v1h-1zM4 24h1v1h-1zM24 24h1v1h-1zM31 24h2v1h-2zM43 24h1v1h-1zM25 25h2v1h-2zM30 25h2v1h-2zM43 25h1v1h-1zM26 26h5v1h-5zM43 26h1v1h-1zM27 27h3v1h-3zM43 27h1v1h-1zM45 27h2v1h-2zM43 28h1v1h-1zM45 28h2v1h-2zM5 29h1v1h-1zM44 29h3v1h-3zM5 30h1v1h-1zM23 30h5v1h-5zM44 30h2v1h-2zM27 31h2v1h-2zM44 31h2v1h-2zM29 32h1v1h-1zM43 32h3v1h-3zM30 33h1v1h-1zM44 33h2v1h-2zM6 34h1v1h-1zM30 34h1v1h-1zM45 34h1v1h-1zM23 35h1v1h-1zM30 35h1v1h-1zM23 36h1v1h-1zM29 36h1v1h-1zM7 37h1v1h-1zM12 37h1v1h-1zM15 37h2v1h-2zM29 37h1v1h-1zM8 38h4v1h-4zM17 38h1v1h-1zM24 38h1v1h-1zM29 38h1v1h-1zM18 39h1v1h-1zM26 39h1v1h-1zM28 39h1v1h-1zM19 40h1v1h-1zM27 40h1v1h-1zM19 41h1v1h-1zM7 42h2v1h-2zM6 43h1v1h-1zM9 43h1v1h-1zM1 45h1v1h-1zM2 46h1v1h-1zM11 46h1v1h-1zM19 46h1v1h-1zM19 47h1v1h-1zM17 48h1v1h-1zM10 57h1v1h-1zM15 60h1v1h-1zM3 61h1v1h-1zM17 65h1v1h-1zM17 66h1v1h-1zM17 67h1v1h-1zM17 68h1v1h-1zM4 70h1v1h-1zM29 77h2v1h-2zM29 78h3v1h-3zM2 82h1v1h-1zM0 83h2v1h-2zM3 83h1v1h-1zM22 83h1v1h-1zM13 84h12v1h-12zM10 85h3v1h-3zM18 85h2v1h-2zM23 85h2v1h-2zM3 86h2v1h-2zM10 86h2v1h-2zM24 86h1v1h-1zM3 87h2v1h-2zM11 87h2v1h-2zM24 87h1v1h-1zM2 88h3v1h-3zM13 88h2v1h-2zM24 88h1v1h-1zM2 89h2v1h-2zM16 89h2v1h-2zM24 89h1v1h-1zM2 90h2v1h-2zM18 90h1v1h-1zM23 90h2v1h-2zM3 91h1v1h-1zM18 91h7v1h-7zM20 92h4v1h-4z"/><path fill="#414487" d="M30 1h1v1h-1zM30 2h4v1h-4zM35 2h4v1h-4zM34 3h3v1h-3zM41 3h1v1h-1zM43 5h1v1h-1zM44 8h1v1h-1zM44 9h1v1h-1zM44 10h1v1h-1zM1 14h1v1h-1zM1 15h1v1h-1zM31 15h1v1h-1zM33 15h1v1h-1zM1 16h1v1h-1zM28 16h1v1h-1zM45 16h1v1h-1zM1 17h1v1h-1zM26 17h1v1h-1zM45 17h1v1h-1zM47 17h1v1h-1zM45 18h1v1h-1zM2 19h1v1h-1zM45 19h1v1h-1zM45 20h1v1h-1zM3 21h1v1h-1zM45 21h1v1h-1zM3 22h1v1h-1zM24 22h1v1h-1zM45 22h1v1h-1zM31 23h1v1h-1zM44 23h2v1h-2zM25 24h6v1h-6zM44 24h3v1h-3zM4 25h1v1h-1zM27 25h3v1h-3zM44 25h3v1h-3zM4 26h1v1h-1zM44 26h3v1h-3zM44 27h1v1h-1zM44 28h1v1h-1zM5 31h1v1h-1zM23 31h4v1h-4zM23 32h1v1h-1zM28 32h1v1h-1zM23 33h1v1h-1zM29 33h1v1h-1zM23 34h1v1h-1zM29 34h1v1h-1zM6 35h1v1h-1zM29 35h1v1h-1zM13 37h2v1h-2zM24 37h1v1h-1zM28 37h1v1h-1zM7 38h1v1h-1zM12 38h1v1h-1zM16 38h1v1h-1zM25 38h4v1h-4zM8 39h3v1h-3zM17 39h1v1h-1zM27 39h1v1h-1zM8 40h1v1h-1zM18 40h1v1h-1zM7 41h2v1h-2zM9 42h1v1h-1zM19 42h1v1h-1zM19 43h1v1h-1zM1 44h1v1h-1zM5 44h1v1h-1zM10 44h1v1h-1zM19 44h1v1h-1zM2 45h2v1h-2zM19 45h1v1h-1zM12 47h1v1h-1zM18 47h1v1h-1zM16 48h1v1h-1zM12 57h1v1h-1zM14 59h1v1h-1zM16 62h1v1h-1zM3 67h1v1h-1zM7 73h1v1h-1zM14 73h1v1h-1zM12 74h1v1h-1zM2 83h1v1h-1zM0 84h2v1h-2zM3 84h1v1h-1zM0 85h2v1h-2zM3 85h1v1h-1zM13 85h5v1h-5zM20 85h3v1h-3zM12 86h12v1h-12zM2 87h1v1h-1zM13 87h3v1h-3zM17 87h7v1h-7zM15 88h9v1h-9zM0 89h2v1h-2zM18 89h6v1h-6zM0 90h2v1h-2zM19 90h4v1h-4z"/><path fill="#404688" d="M31 0h2v1h-2zM31 1h2v1h-2zM34 2h1v1h-1zM39 2h1v1h-1zM42 3h1v1h-1zM43 4h1v1h-1zM44 6h1v1h-1zM44 7h1v1h-1zM45 12h1v1h-1zM45 13h1v1h-1zM45 14h1v1h-1zM32 15h1v1h-1zM45 15h1v1h-1zM29 16h1v1h-1zM33 16h1v1h-1zM47 16h1v1h-1zM1 18h1v1h-1zM25 18h1v1h-1zM1 19h1v1h-1zM24 19h1v1h-1zM1 20h2v1h-2zM24 20h1v1h-1zM2 21h1v1h-1zM24 21h1v1h-1zM33 21h1v1h-1zM32 22h1v1h-1zM46 22h1v1h-1zM3 23h1v1h-1zM30 23h1v1h-1zM46 23h1v1h-1zM4 27h1v1h-1zM5 32h1v1h-1zM24 32h1v1h-1zM26 32h2v1h-2zM28 33h1v1h-1zM28 34h1v1h-1zM28 35h1v1h-1zM6 36h1v1h-1zM24 36h1v1h-1zM27 36h2v1h-2zM25 37h3v1h-3zM13 38h3v1h-3zM7 39h1v1h-1zM11 39h2v1h-2zM16 39h1v1h-1zM7 40h1v1h-1zM9 40h2v1h-2zM17 40h1v1h-1zM9 41h1v1h-1zM18 41h1v1h-1zM1 42h1v1h-1zM6 42h1v1h-1zM1 43h1v1h-1zM10 43h1v1h-1zM2 44h1v1h-1zM4 44h1v1h-1zM11 45h1v1h-1zM18 46h1v1h-1zM13 48h3v1h-3zM11 57h1v1h-1zM13 58h1v1h-1zM5 71h1v1h-1zM16 71h1v1h-1zM6 72h1v1h-1zM15 72h1v1h-1zM9 74h1v1h-1zM2 84h1v1h-1zM2 85h1v1h-1zM0 86h3v1h-3zM0 87h2v1h-2zM16 87h1v1h-1zM0 88h2v1h-2z"/><path fill="#3f4889" d="M33 0h1v1h-1zM33 1h4v1h-4zM40 2h1v1h-1zM44 5h1v1h-1zM45 10h1v1h-1zM45 11h1v1h-1zM47 15h1v1h-1zM30 16h1v1h-1zM27 17h1v1h-1zM33 17h1v1h-1zM33 18h1v1h-1zM33 19h1v1h-1zM33 20h1v1h-1zM46 20h1v1h-1zM1 21h1v1h-1zM46 21h1v1h-1zM1 22h1v1h-1zM1 23h1v1h-1zM25 23h1v1h-1zM29 23h1v1h-1zM3 24h1v1h-1zM25 32h1v1h-1zM24 33h4v1h-4zM24 34h1v1h-1zM27 34h1v1h-1zM24 35h1v1h-1zM27 35h1v1h-1zM25 36h2v1h-2zM6 37h1v1h-1zM13 39h3v1h-3zM1 40h1v1h-1zM11 40h2v1h-2zM16 40h1v1h-1zM1 41h1v1h-1zM6 41h1v1h-1zM10 41h2v1h-2zM17 41h1v1h-1zM10 42h1v1h-1zM18 42h1v1h-1zM2 43h1v1h-1zM5 43h1v1h-1zM18 43h1v1h-1zM3 44h1v1h-1zM11 44h1v1h-1zM18 44h1v1h-1zM18 45h1v1h-1zM12 46h1v1h-1zM17 47h1v1h-1zM7 58h1v1h-1zM10 74h2v1h-2z"/><path fill="#3e4a89" d="M37 1h2v1h-2zM41 2h1v1h-1zM43 3h1v1h-1zM44 4h1v1h-1zM45 8h1v1h-1zM45 9h1v1h-1zM47 14h1v1h-1zM31 16h2v1h-2zM28 17h1v1h-1zM46 17h1v1h-1zM26 18h1v1h-1zM46 18h1v1h-1zM25 19h1v1h-1zM46 19h1v1h-1zM25 20h1v1h-1zM25 21h1v1h-1zM32 21h1v1h-1zM2 22h1v1h-1zM25 22h1v1h-1zM31 22h1v1h-1zM26 23h3v1h-3zM1 24h1v1h-1zM1 25h1v1h-1zM3 25h1v1h-1zM1 26h1v1h-1zM1 27h1v1h-1zM4 28h1v1h-1zM5 33h1v1h-1zM25 34h2v1h-2zM25 35h2v1h-2zM1 36h1v1h-1zM1 37h1v1h-1zM1 38h1v1h-1zM6 38h1v1h-1zM1 39h1v1h-1zM6 39h1v1h-1zM6 40h1v1h-1zM15 40h1v1h-1zM12 41h1v1h-1zM2 42h1v1h-1zM11 42h1v1h-1zM17 42h1v1h-1zM3 43h2v1h-2zM11 43h1v1h-1zM17 46h1v1h-1zM13 47h1v1h-1zM16 47h1v1h-1zM5 59h1v1h-1zM15 61h1v1h-1zM3 66h1v1h-1z"/><path fill="#3d4d8a" d="M39 1h1v1h-1zM42 2h1v1h-1zM45 7h1v1h-1zM46 13h2v1h-2zM46 14h1v1h-1zM46 15h1v1h-1zM46 16h1v1h-1zM29 17h1v1h-1zM32 17h1v1h-1zM30 22h1v1h-1zM2 23h1v1h-1zM3 26h1v1h-1zM1 28h1v1h-1zM1 29h1v1h-1zM1 30h1v1h-1zM1 31h1v1h-1zM1 32h1v1h-1zM1 33h1v1h-1zM1 34h1v1h-1zM1 35h1v1h-1zM13 40h2v1h-2zM2 41h1v1h-1zM15 41h2v1h-2zM3 42h1v1h-1zM5 42h1v1h-1zM12 42h1v1h-1zM12 43h1v1h-1zM17 43h1v1h-1zM12 44h1v1h-1zM17 44h1v1h-1zM12 45h1v1h-1zM17 45h1v1h-1zM13 46h1v1h-1zM14 47h2v1h-2zM3 62h1v1h-1zM16 63h1v1h-1zM16 70h1v1h-1zM8 73h1v1h-1zM13 73h1v1h-1z"/><path fill="#3c4f8a" d="M40 1h1v1h-1zM44 3h1v1h-1zM45 6h1v1h-1zM46 10h1v1h-1zM46 11h1v1h-1zM46 12h2v1h-2zM30 17h2v1h-2zM27 18h1v1h-1zM32 18h1v1h-1zM26 19h1v1h-1zM32 19h1v1h-1zM32 20h1v1h-1zM26 21h1v1h-1zM31 21h1v1h-1zM26 22h1v1h-1zM29 22h1v1h-1zM2 24h1v1h-1zM3 27h1v1h-1zM4 29h1v1h-1zM5 34h1v1h-1zM2 39h1v1h-1zM2 40h1v1h-1zM5 41h1v1h-1zM13 41h2v1h-2zM13 42h1v1h-1zM15 42h2v1h-2zM16 43h1v1h-1zM16 44h1v1h-1zM13 45h1v1h-1zM16 45h1v1h-1zM16 46h1v1h-1zM4 60h1v1h-1zM14 72h1v1h-1z"/><path fill="#3b518b" d="M41 1h1v1h-1zM43 2h1v1h-1zM45 5h1v1h-1zM46 9h1v1h-1zM47 11h1v1h-1zM28 18h1v1h-1zM31 18h1v1h-1zM26 20h1v1h-1zM27 22h2v1h-2zM2 25h1v1h-1zM3 28h1v1h-1zM5 35h1v1h-1zM2 36h1v1h-1zM2 37h1v1h-1zM2 38h1v1h-1zM3 41h1v1h-1zM4 42h1v1h-1zM14 42h1v1h-1zM13 43h3v1h-3zM13 44h3v1h-3zM14 45h2v1h-2zM14 46h2v1h-2zM8 58h1v1h-1zM14 60h1v1h-1zM3 65h1v1h-1zM16 69h1v1h-1zM12 73h1v1h-1z"/><path fill="#3a538b" d="M45 4h1v1h-1zM46 8h1v1h-1zM47 10h1v1h-1zM29 18h2v1h-2zM27 19h1v1h-1zM31 19h1v1h-1zM31 20h1v1h-1zM27 21h1v1h-1zM30 21h1v1h-1zM2 26h1v1h-1zM3 29h1v1h-1zM2 30h1v1h-1zM4 30h1v1h-1zM2 31h1v1h-1zM2 32h1v1h-1zM2 33h1v1h-1zM2 34h1v1h-1zM2 35h1v1h-1zM5 36h1v1h-1zM5 37h1v1h-1zM5 38h1v1h-1zM5 39h1v1h-1zM3 40h1v1h-1zM5 40h1v1h-1zM4 69h1v1h-1zM7 72h1v1h-1zM9 73h1v1h-1z"/><path fill="#39558c" d="M42 1h1v1h-1zM44 2h1v1h-1zM45 3h1v1h-1zM46 7h1v1h-1zM47 9h1v1h-1zM28 19h1v1h-1zM30 19h1v1h-1zM27 20h1v1h-1zM30 20h1v1h-1zM28 21h2v1h-2zM2 27h1v1h-1zM2 28h1v1h-1zM2 29h1v1h-1zM3 30h1v1h-1zM3 39h1v1h-1zM4 41h1v1h-1zM9 58h1v1h-1zM13 59h1v1h-1zM3 63h1v1h-1zM3 64h1v1h-1zM16 68h1v1h-1zM13 72h1v1h-1zM10 73h2v1h-2z"/><path fill="#38588c" d="M43 1h1v1h-1zM46 6h1v1h-1zM29 19h1v1h-1zM28 20h2v1h-2zM3 31h2v1h-2zM3 38h1v1h-1zM4 40h1v1h-1zM12 58h1v1h-1zM6 59h1v1h-1zM15 62h1v1h-1zM16 64h1v1h-1zM6 71h1v1h-1z"/><path fill="#375a8c" d="M46 5h1v1h-1zM47 8h1v1h-1zM3 32h2v1h-2zM3 33h1v1h-1zM3 37h1v1h-1zM16 67h1v1h-1z"/><path fill="#365c8d" d="M44 1h1v1h-1zM45 2h1v1h-1zM46 4h1v1h-1zM47 7h1v1h-1zM4 33h1v1h-1zM3 34h1v1h-1zM3 35h1v1h-1zM3 36h1v1h-1zM4 38h1v1h-1zM4 39h1v1h-1zM10 58h1v1h-1zM16 66h1v1h-1zM15 71h1v1h-1zM8 72h1v1h-1zM12 72h1v1h-1z"/><path fill="#355e8d" d="M46 3h1v1h-1zM47 6h1v1h-1zM4 34h1v1h-1zM4 35h1v1h-1zM4 36h1v1h-1zM4 37h1v1h-1zM11 58h1v1h-1zM16 65h1v1h-1z"/><path fill="#34608d" d="M4 61h1v1h-1zM14 61h1v1h-1zM9 72h1v1h-1zM11 72h1v1h-1z"/><path fill="#33628d" d="M45 1h1v1h-1zM46 2h1v1h-1zM47 5h1v1h-1zM4 68h1v1h-1zM10 72h1v1h-1z"/><path fill="#32648e" d="M47 4h1v1h-1zM7 59h1v1h-1zM5 60h1v1h-1zM5 70h1v1h-1zM7 71h1v1h-1z"/><path fill="#31668e" d="M46 1h1v1h-1zM47 3h1v1h-1z"/><path fill="#31688e" d="M13 60h1v1h-1zM15 63h1v1h-1z"/><path fill="#306a8e" d="M47 2h1v1h-1zM12 59h1v1h-1zM15 70h1v1h-1zM14 71h1v1h-1z"/><path fill="#2f6c8e" d="M8 59h1v1h-1zM8 71h1v1h-1z"/><path fill="#2e6e8e" d="M47 1h1v1h-1zM4 67h1v1h-1z"/><path fill="#2d708e" d="M4 62h1v1h-1zM13 71h1v1h-1z"/><path fill="#2c718e" d="M6 60h1v1h-1zM14 62h1v1h-1zM15 69h1v1h-1zM9 71h1v1h-1zM12 71h1v1h-1z"/><path fill="#2c738e" d="M9 59h1v1h-1zM15 64h1v1h-1zM10 71h2v1h-2z"/><path fill="#2b758e" d="M11 59h1v1h-1z"/><path fill="#2a778e" d="M10 59h1v1h-1zM15 68h1v1h-1z"/><path fill="#29798e" d="M5 61h1v1h-1zM13 61h1v1h-1zM4 66h1v1h-1zM6 70h1v1h-1z"/><path fill="#297b8e" d="M15 65h1v1h-1zM15 67h1v1h-1z"/><path fill="#287d8e" d="M12 60h1v1h-1zM15 66h1v1h-1zM5 69h1v1h-1z"/><path fill="#277f8e" d="M7 60h1v1h-1zM4 63h1v1h-1z"/><path fill="#26818e" d="M14 63h1v1h-1zM4 65h1v1h-1z"/><path fill="#26828e" d="M4 64h1v1h-1zM14 70h1v1h-1z"/><path fill="#23888e" d="M8 60h1v1h-1zM7 70h1v1h-1z"/><path fill="#238a8d" d="M13 62h1v1h-1z"/><path fill="#228c8d" d="M11 60h1v1h-1zM6 61h1v1h-1z"/><path fill="#218e8d" d="M5 62h1v1h-1z"/><path fill="#21908d" d="M9 60h1v1h-1zM12 61h1v1h-1zM14 64h1v1h-1z"/><path fill="#20928c" d="M5 68h1v1h-1zM8 70h1v1h-1zM13 70h1v1h-1z"/><path fill="#20938c" d="M10 60h1v1h-1zM14 69h1v1h-1z"/><path fill="#1f998a" d="M7 61h1v1h-1zM9 70h1v1h-1zM12 70h1v1h-1z"/><path fill="#1e9b8a" d="M14 65h1v1h-1zM14 68h1v1h-1zM6 69h1v1h-1zM10 70h1v1h-1z"/><path fill="#1e9d89" d="M13 63h1v1h-1zM14 67h1v1h-1zM11 70h1v1h-1z"/><path fill="#1f9f88" d="M14 66h1v1h-1zM5 67h1v1h-1z"/><path fill="#1fa188" d="M5 63h1v1h-1z"/><path fill="#1fa287" d="M11 61h1v1h-1zM12 62h1v1h-1z"/><path fill="#20a486" d="M8 61h1v1h-1zM6 62h1v1h-1z"/><path fill="#22a884" d="M5 66h1v1h-1z"/><path fill="#25ac82" d="M9 61h1v1h-1zM5 64h1v1h-1zM13 64h1v1h-1zM5 65h1v1h-1zM13 69h1v1h-1z"/><path fill="#27ad81" d="M10 61h1v1h-1z"/><path fill="#29af7f" d="M7 69h1v1h-1z"/><path fill="#31b57b" d="M7 62h1v1h-1zM12 63h1v1h-1z"/><path fill="#34b679" d="M11 62h1v1h-1zM6 68h1v1h-1z"/><path fill="#37b878" d="M13 65h1v1h-1z"/><path fill="#3aba76" d="M6 63h1v1h-1zM13 68h1v1h-1z"/><path fill="#3dbc74" d="M8 69h1v1h-1zM12 69h1v1h-1z"/><path fill="#40bd72" d="M13 66h1v1h-1z"/><path fill="#44bf70" d="M8 62h1v1h-1zM13 67h1v1h-1z"/><path fill="#4cc26c" d="M9 69h1v1h-1zM11 69h1v1h-1z"/><path fill="#50c46a" d="M10 62h1v1h-1zM12 64h1v1h-1zM10 69h1v1h-1z"/><path fill="#54c568" d="M9 62h1v1h-1z"/><path fill="#58c765" d="M6 67h1v1h-1z"/><path fill="#5cc863" d="M11 63h1v1h-1zM6 64h1v1h-1z"/><path fill="#60ca60" d="M7 63h1v1h-1z"/><path fill="#69cd5b" d="M6 66h1v1h-1zM7 68h1v1h-1z"/><path fill="#6ece58" d="M6 65h1v1h-1zM12 68h1v1h-1z"/><path fill="#73d056" d="M12 65h1v1h-1z"/><path fill="#81d34d" d="M8 63h1v1h-1zM10 63h1v1h-1z"/><path fill="#86d549" d="M11 64h1v1h-1zM12 66h1v1h-1z"/><path fill="#8bd646" d="M12 67h1v1h-1z"/><path fill="#90d743" d="M9 63h1v1h-1zM8 68h1v1h-1z"/><path fill="#95d840" d="M7 64h1v1h-1zM11 68h1v1h-1z"/><path fill="#a5db36" d="M7 67h1v1h-1zM9 68h2v1h-2z"/><path fill="#b0dd2f" d="M11 65h1v1h-1z"/><path fill="#b5de2b" d="M10 64h1v1h-1z"/><path fill="#bade28" d="M8 64h1v1h-1zM7 65h1v1h-1z"/><path fill="#c5e021" d="M7 66h1v1h-1zM11 67h1v1h-1z"/><path fill="#cae11f" d="M9 64h1v1h-1zM11 66h1v1h-1z"/><path fill="#d5e21a" d="M8 67h1v1h-1z"/><path fill="#dfe318" d="M10 65h1v1h-1z"/><path fill="#e5e419" d="M10 67h1v1h-1z"/><path fill="#eae51a" d="M8 65h1v1h-1zM9 67h1v1h-1z"/><path fill="#f4e61e" d="M9 65h1v1h-1zM8 66h1v1h-1z"/><path fill="#f8e621" d="M10 66h1v1h-1z"/><path fill="#fde725" d="M9 66h1v1h-1z"/></g>
<use href="#pp" x="0.00" y="0.00"/>
<rect class="s" x="80.5" y="78.5" width="279.0" height="547.0"/><text class="t" text-anchor="end" x="70.0" y="625.6">0</text><text class="t" text-anchor="end" x="70.0" y="560.6">500</text><text class="t" text-anchor="end" x="70.0" y="494.6">1000</text><text class="t" text-anchor="end" x="70.0" y="429.6">1500</text><text class="t" text-anchor="end" x="70.0" y="363.6">2000</text><text class="t" text-anchor="end" x="70.0" y="298.6">2500</text><text class="t" text-anchor="end" x="70.0" y="232.6">3000</text><text class="t" text-anchor="end" x="70.0" y="167.6">3500</text><text class="t" text-anchor="end" x="70.0" y="101.6">4000</text><path class="k" d="M85.5 625.5v4.86M151.5 625.5v4.86M216.5 625.5v4.86M282.5 625.5v4.86M347.5 625.5v4.86M80.5 620.5h-4.86M80.5 555.5h-4.86M80.5 489.5h-4.86M80.5 424.5h-4.86M80.5 358.5h-4.86M80.5 293.5h-4.86M80.5 227.5h-4.86M80.5 162.5h-4.86M80.5 96.5h-4.86"/><text class="t" text-anchor="middle" transform="translate(24.5,352.0) rotate(-90)">Y</text><text class="h" text-anchor="middle" x="220.0" y="70.2">template_value[nJy]</text>
<rect x="375.5" y="130.5" width="22.0" height="444.0" fill="url(#vg)" class="k"/><text class="t" x="406.6" y="577.5">−2</text><text class="t" x="406.6" y="509.5">0</text><text class="t" x="406.6" y="441.5">2</text><text class="t" x="406.6" y="373.5">4</text><text class="t" x="406.6" y="305.5">6</text><text class="t" x="406.6" y="237.5">8</text><text class="t" x="406.6" y="169.5">10</text><path class="k" d="M397.5 572.5h4.86M397.5 504.5h4.86M397.5 436.5h4.86M397.5 368.5h4.86M397.5 300.5h4.86M397.5 232.5h4.86M397.5 164.5h4.86"/>
<g transform="translate(464.00,89.50) scale(5.5780,5.4640)" shape-rendering="crispEdges"><path fill="#450559" d="M7 52h1v1h-1zM7 53h1v1h-1zM4 74h1v1h-1zM4 75h1v1h-1z"/><path fill="#46085c" d="M8 52h1v1h-1zM6 53h1v1h-1zM8 53h1v1h-1zM7 54h1v1h-1zM4 76h1v1h-1z"/><path fill="#460b5e" d="M7 51h2v1h-2zM6 52h1v1h-1zM6 54h1v1h-1zM8 54h1v1h-1zM4 73h1v1h-1z"/><path fill="#470e61" d="M5 53h1v1h-1zM5 54h1v1h-1zM5 75h1v1h-1zM5 76h1v1h-1z"/><path fill="#471164" d="M8 50h1v1h-1zM6 51h1v1h-1zM9 52h1v1h-1zM9 53h1v1h-1zM6 55h2v1h-2zM4 77h1v1h-1z"/><path fill="#481467" d="M7 50h1v1h-1zM9 51h1v1h-1zM5 52h1v1h-1zM9 54h1v1h-1zM1 63h1v1h-1zM1 64h1v1h-1zM1 65h1v1h-1zM1 66h1v1h-1zM3 74h1v1h-1zM5 74h1v1h-1zM3 75h1v1h-1zM5 77h1v1h-1z"/><path fill="#481769" d="M4 53h1v1h-1zM4 54h1v1h-1zM5 55h1v1h-1zM8 55h1v1h-1zM1 61h1v1h-1zM1 62h1v1h-1zM1 67h1v1h-1zM1 68h1v1h-1zM3 76h1v1h-1zM6 76h1v1h-1z"/><path fill="#481a6c" d="M8 49h1v1h-1zM6 50h1v1h-1zM9 50h1v1h-1zM5 51h1v1h-1zM4 52h1v1h-1zM4 55h1v1h-1zM3 56h1v1h-1zM2 57h1v1h-1zM1 60h1v1h-1zM1 69h1v1h-1zM4 72h1v1h-1zM3 73h1v1h-1z"/><path fill="#481c6e" d="M7 49h1v1h-1zM10 52h1v1h-1zM10 53h1v1h-1zM3 54h1v1h-1zM2 55h2v1h-2zM9 55h1v1h-1zM2 56h1v1h-1zM4 56h1v1h-1zM3 57h1v1h-1zM2 58h1v1h-1zM1 59h2v1h-2zM1 70h1v1h-1zM6 75h1v1h-1zM3 77h1v1h-1zM6 77h1v1h-1z"/><path fill="#481f70" d="M6 49h1v1h-1zM9 49h1v1h-1zM5 50h1v1h-1zM4 51h1v1h-1zM10 51h1v1h-1zM3 53h1v1h-1zM10 54h1v1h-1zM5 56h3v1h-3zM1 58h1v1h-1zM2 60h1v1h-1zM2 61h1v1h-1zM1 71h1v1h-1zM3 72h1v1h-1zM4 78h1v1h-1z"/><path fill="#482173" d="M7 48h2v1h-2zM10 50h1v1h-1zM11 51h1v1h-1zM3 52h1v1h-1zM11 52h1v1h-1zM11 53h1v1h-1zM2 54h1v1h-1zM1 57h1v1h-1zM4 57h1v1h-1zM3 58h1v1h-1zM2 62h1v1h-1zM2 63h1v1h-1zM19 64h2v1h-2zM5 73h1v1h-1zM18 74h3v1h-3zM19 75h1v1h-1zM7 76h1v1h-1zM7 77h1v1h-1zM5 78h1v1h-1z"/><path fill="#482475" d="M6 48h1v1h-1zM5 49h1v1h-1zM10 49h1v1h-1zM4 50h1v1h-1zM12 53h1v1h-1zM11 54h1v1h-1zM10 55h1v1h-1zM1 56h1v1h-1zM8 56h1v1h-1zM19 63h1v1h-1zM20 65h1v1h-1zM3 71h1v1h-1zM1 72h1v1h-1zM18 73h2v1h-2zM6 74h1v1h-1zM18 75h1v1h-1zM20 75h1v1h-1zM19 76h1v1h-1zM8 77h1v1h-1zM3 78h1v1h-1zM6 78h1v1h-1z"/><path fill="#482677" d="M47 1h1v1h-1zM9 48h1v1h-1zM11 50h1v1h-1zM3 51h1v1h-1zM12 52h1v1h-1zM2 53h1v1h-1zM14 53h2v1h-2zM12 54h1v1h-1zM14 54h1v1h-1zM1 55h1v1h-1zM5 57h1v1h-1zM19 62h1v1h-1zM20 63h1v1h-1zM2 64h1v1h-1zM19 65h1v1h-1zM21 65h1v1h-1zM20 66h1v1h-1zM1 73h1v1h-1zM20 73h1v1h-1zM21 74h1v1h-1zM7 75h1v1h-1zM21 75h1v1h-1zM18 76h1v1h-1zM20 76h1v1h-1zM7 78h1v1h-1z"/><path fill="#482979" d="M47 2h1v1h-1zM7 47h2v1h-2zM5 48h1v1h-1zM4 49h1v1h-1zM2 52h1v1h-1zM15 52h2v1h-2zM13 53h1v1h-1zM1 54h1v1h-1zM13 54h1v1h-1zM15 54h1v1h-1zM11 55h1v1h-1zM9 56h1v1h-1zM18 62h1v1h-1zM18 63h1v1h-1zM21 64h1v1h-1zM2 65h1v1h-1zM19 66h1v1h-1zM21 66h1v1h-1zM17 74h1v1h-1zM17 75h1v1h-1zM8 76h1v1h-1zM9 77h1v1h-1zM19 77h1v1h-1zM8 78h2v1h-2z"/><path fill="#472c7a" d="M46 1h1v1h-1zM47 3h1v1h-1zM6 47h1v1h-1zM9 47h1v1h-1zM10 48h1v1h-1zM3 50h1v1h-1zM12 51h1v1h-1zM16 51h1v1h-1zM13 52h2v1h-2zM16 53h1v1h-1zM16 54h1v1h-1zM12 55h4v1h-4zM6 57h1v1h-1zM4 58h1v1h-1zM3 59h1v1h-1zM18 61h2v1h-2zM20 62h1v1h-1zM18 64h1v1h-1zM2 66h1v1h-1zM19 67h2v1h-2zM3 70h1v1h-1zM4 71h1v1h-1zM18 72h2v1h-2zM17 73h1v1h-1zM21 73h1v1h-1zM1 74h1v1h-1zM22 74h1v1h-1zM16 75h1v1h-1zM22 75h1v1h-1zM16 76h2v1h-2zM21 76h1v1h-1zM10 77h1v1h-1zM12 77h2v1h-2zM18 77h1v1h-1zM20 77h1v1h-1zM10 78h3v1h-3zM4 79h7v1h-7z"/><path fill="#472e7c" d="M47 4h1v1h-1zM11 49h1v1h-1zM2 51h1v1h-1zM15 51h1v1h-1zM17 51h1v1h-1zM17 52h1v1h-1zM1 53h1v1h-1zM17 53h1v1h-1zM16 55h1v1h-1zM10 56h1v1h-1zM15 56h1v1h-1zM18 60h2v1h-2zM20 61h1v1h-1zM21 62h1v1h-1zM21 63h1v1h-1zM18 65h1v1h-1zM22 65h1v1h-1zM22 66h1v1h-1zM2 67h1v1h-1zM21 67h1v1h-1zM19 68h1v1h-1zM20 72h1v1h-1zM16 74h1v1h-1zM1 75h1v1h-1zM13 76h3v1h-3zM11 77h1v1h-1zM14 77h4v1h-4zM21 77h1v1h-1zM13 78h2v1h-2zM3 79h1v1h-1zM11 79h2v1h-2zM8 80h3v1h-3z"/><path fill="#46307e" d="M46 2h1v1h-1zM47 5h1v1h-1zM10 27h1v1h-1zM10 28h1v1h-1zM10 29h1v1h-1zM7 46h2v1h-2zM5 47h1v1h-1zM4 48h1v1h-1zM3 49h1v1h-1zM12 50h1v1h-1zM14 51h1v1h-1zM1 52h1v1h-1zM17 54h1v1h-1zM17 55h1v1h-1zM13 56h2v1h-2zM16 56h2v1h-2zM7 57h1v1h-1zM16 57h2v1h-2zM17 58h2v1h-2zM17 59h4v1h-4zM17 60h1v1h-1zM20 60h2v1h-2zM21 61h2v1h-2zM22 62h1v1h-1zM22 63h1v1h-1zM22 64h1v1h-1zM22 67h1v1h-1zM2 68h1v1h-1zM20 68h2v1h-2zM2 69h1v1h-1zM19 69h3v1h-3zM19 70h2v1h-2zM18 71h4v1h-4zM17 72h1v1h-1zM21 72h1v1h-1zM15 75h1v1h-1zM9 76h1v1h-1zM12 76h1v1h-1zM22 76h1v1h-1zM40 76h1v1h-1zM40 77h2v1h-2zM15 78h6v1h-6zM41 78h1v1h-1zM13 79h2v1h-2zM6 80h2v1h-2zM11 80h1v1h-1z"/><path fill="#46337f" d="M45 1h1v1h-1zM46 3h1v1h-1zM47 6h1v1h-1zM47 7h1v1h-1zM24 11h3v1h-3zM24 12h3v1h-3zM24 13h3v1h-3zM38 19h2v1h-2zM38 20h2v1h-2zM37 21h3v1h-3zM38 22h2v1h-2zM8 23h3v1h-3zM38 23h1v1h-1zM8 24h4v1h-4zM8 25h5v1h-5zM8 26h6v1h-6zM8 27h2v1h-2zM11 27h3v1h-3zM9 28h1v1h-1zM11 28h3v1h-3zM9 29h1v1h-1zM11 29h3v1h-3zM9 30h5v1h-5zM9 31h3v1h-3zM9 32h1v1h-1zM6 46h1v1h-1zM9 46h1v1h-1zM10 47h1v1h-1zM11 48h1v1h-1zM2 50h1v1h-1zM16 50h3v1h-3zM1 51h1v1h-1zM13 51h1v1h-1zM18 51h1v1h-1zM18 52h1v1h-1zM18 53h1v1h-1zM18 54h1v1h-1zM18 55h1v1h-1zM11 56h2v1h-2zM18 56h2v1h-2zM15 57h1v1h-1zM18 57h3v1h-3zM16 58h1v1h-1zM19 58h3v1h-3zM21 59h2v1h-2zM22 60h2v1h-2zM17 61h1v1h-1zM23 61h1v1h-1zM23 62h1v1h-1zM23 63h1v1h-1zM23 64h1v1h-1zM23 65h1v1h-1zM18 66h1v1h-1zM23 66h1v1h-1zM18 67h1v1h-1zM22 68h1v1h-1zM18 69h1v1h-1zM22 69h1v1h-1zM2 70h1v1h-1zM18 70h1v1h-1zM21 70h2v1h-2zM2 71h1v1h-1zM22 71h1v1h-1zM2 72h1v1h-1zM5 72h1v1h-1zM22 72h1v1h-1zM2 73h1v1h-1zM16 73h1v1h-1zM22 73h1v1h-1zM2 74h1v1h-1zM15 74h1v1h-1zM23 74h1v1h-1zM39 74h1v1h-1zM2 75h1v1h-1zM8 75h1v1h-1zM14 75h1v1h-1zM23 75h1v1h-1zM39 75h4v1h-4zM1 76h1v1h-1zM10 76h2v1h-2zM39 76h1v1h-1zM41 76h2v1h-2zM22 77h1v1h-1zM39 77h1v1h-1zM42 77h1v1h-1zM21 78h1v1h-1zM39 78h2v1h-2zM42 78h1v1h-1zM15 79h5v1h-5zM40 79h2v1h-2zM5 80h1v1h-1zM12 80h2v1h-2zM40 80h2v1h-2zM7 81h5v1h-5z"/><path fill="#453581" d="M19 1h1v1h-1zM22 1h2v1h-2zM44 1h1v1h-1zM13 2h10v1h-10zM45 2h1v1h-1zM46 4h1v1h-1zM46 5h1v1h-1zM47 8h1v1h-1zM26 9h2v1h-2zM24 10h4v1h-4zM23 11h1v1h-1zM27 11h1v1h-1zM22 12h2v1h-2zM27 12h1v1h-1zM22 13h2v1h-2zM27 13h1v1h-1zM23 14h4v1h-4zM38 17h2v1h-2zM8 18h1v1h-1zM37 18h4v1h-4zM7 19h4v1h-4zM37 19h1v1h-1zM40 19h1v1h-1zM7 20h5v1h-5zM37 20h1v1h-1zM40 20h1v1h-1zM7 21h5v1h-5zM40 21h1v1h-1zM7 22h6v1h-6zM36 22h2v1h-2zM40 22h1v1h-1zM7 23h1v1h-1zM11 23h3v1h-3zM36 23h2v1h-2zM39 23h2v1h-2zM7 24h1v1h-1zM12 24h3v1h-3zM37 24h3v1h-3zM7 25h1v1h-1zM13 25h3v1h-3zM37 25h3v1h-3zM14 26h2v1h-2zM14 27h2v1h-2zM8 28h1v1h-1zM14 28h2v1h-2zM8 29h1v1h-1zM14 29h3v1h-3zM8 30h1v1h-1zM14 30h2v1h-2zM8 31h1v1h-1zM12 31h4v1h-4zM8 32h1v1h-1zM10 32h5v1h-5zM9 33h2v1h-2zM7 45h2v1h-2zM5 46h1v1h-1zM4 47h1v1h-1zM3 48h1v1h-1zM2 49h1v1h-1zM15 50h1v1h-1zM19 53h4v1h-4zM19 54h4v1h-4zM19 55h4v1h-4zM20 56h3v1h-3zM8 57h1v1h-1zM14 57h1v1h-1zM21 57h3v1h-3zM5 58h1v1h-1zM15 58h1v1h-1zM22 58h3v1h-3zM16 59h1v1h-1zM23 59h2v1h-2zM3 60h1v1h-1zM24 60h1v1h-1zM24 61h1v1h-1zM17 62h1v1h-1zM24 62h1v1h-1zM24 63h1v1h-1zM24 64h1v1h-1zM24 65h1v1h-1zM23 67h1v1h-1zM18 68h1v1h-1zM23 68h1v1h-1zM3 69h1v1h-1zM23 69h1v1h-1zM23 70h1v1h-1zM17 71h1v1h-1zM23 71h1v1h-1zM23 72h1v1h-1zM6 73h1v1h-1zM23 73h1v1h-1zM37 73h6v1h-6zM7 74h1v1h-1zM37 74h2v1h-2zM40 74h3v1h-3zM13 75h1v1h-1zM37 75h2v1h-2zM2 76h1v1h-1zM23 76h1v1h-1zM38 76h1v1h-1zM43 76h1v1h-1zM1 77h2v1h-2zM38 77h1v1h-1zM22 78h1v1h-1zM38 78h1v1h-1zM20 79h2v1h-2zM39 79h1v1h-1zM42 79h1v1h-1zM4 80h1v1h-1zM14 80h5v1h-5zM39 80h1v1h-1zM42 80h1v1h-1zM5 81h2v1h-2zM12 81h1v1h-1zM40 81h2v1h-2zM8 82h3v1h-3zM39 84h2v1h-2zM38 85h3v1h-3zM38 86h4v1h-4zM37 87h5v1h-5zM37 88h5v1h-5zM38 89h4v1h-4zM36 90h2v1h-2zM34 91h4v1h-4zM33 92h5v1h-5zM34 93h3v1h-3z"/><path fill="#453882" d="M21 1h1v1h-1zM24 1h2v1h-2zM10 2h3v1h-3zM23 2h3v1h-3zM14 3h11v1h-11zM45 3h1v1h-1zM20 4h3v1h-3zM46 6h1v1h-1zM25 8h4v1h-4zM23 9h3v1h-3zM28 9h1v1h-1zM47 9h1v1h-1zM22 10h2v1h-2zM28 10h1v1h-1zM21 11h2v1h-2zM28 11h1v1h-1zM21 12h1v1h-1zM28 12h1v1h-1zM21 13h1v1h-1zM28 13h1v1h-1zM21 14h2v1h-2zM27 14h1v1h-1zM22 15h5v1h-5zM38 15h2v1h-2zM7 16h1v1h-1zM23 16h1v1h-1zM37 16h4v1h-4zM6 17h4v1h-4zM37 17h1v1h-1zM40 17h2v1h-2zM6 18h2v1h-2zM9 18h3v1h-3zM36 18h1v1h-1zM41 18h1v1h-1zM6 19h1v1h-1zM11 19h2v1h-2zM36 19h1v1h-1zM41 19h1v1h-1zM6 20h1v1h-1zM12 20h2v1h-2zM36 20h1v1h-1zM41 20h1v1h-1zM6 21h1v1h-1zM12 21h3v1h-3zM36 21h1v1h-1zM41 21h1v1h-1zM6 22h1v1h-1zM13 22h5v1h-5zM41 22h1v1h-1zM6 23h1v1h-1zM14 23h5v1h-5zM35 23h1v1h-1zM15 24h4v1h-4zM35 24h2v1h-2zM40 24h1v1h-1zM16 25h3v1h-3zM35 25h2v1h-2zM40 25h1v1h-1zM7 26h1v1h-1zM16 26h3v1h-3zM36 26h5v1h-5zM7 27h1v1h-1zM16 27h3v1h-3zM37 27h3v1h-3zM7 28h1v1h-1zM16 28h3v1h-3zM7 29h1v1h-1zM17 29h2v1h-2zM7 30h1v1h-1zM16 30h3v1h-3zM7 31h1v1h-1zM16 31h2v1h-2zM15 32h3v1h-3zM8 33h1v1h-1zM11 33h6v1h-6zM8 34h4v1h-4zM6 45h1v1h-1zM9 45h1v1h-1zM12 49h1v1h-1zM18 49h2v1h-2zM21 49h2v1h-2zM1 50h1v1h-1zM13 50h2v1h-2zM19 50h5v1h-5zM19 51h5v1h-5zM19 52h6v1h-6zM23 53h2v1h-2zM23 54h2v1h-2zM23 55h2v1h-2zM23 56h3v1h-3zM40 56h1v1h-1zM24 57h2v1h-2zM39 57h3v1h-3zM25 58h1v1h-1zM38 58h4v1h-4zM25 59h1v1h-1zM37 59h5v1h-5zM16 60h1v1h-1zM25 60h1v1h-1zM37 60h5v1h-5zM25 61h1v1h-1zM38 61h3v1h-3zM25 62h1v1h-1zM17 63h1v1h-1zM25 63h1v1h-1zM25 64h1v1h-1zM25 65h1v1h-1zM24 66h1v1h-1zM24 67h1v1h-1zM24 68h1v1h-1zM24 69h1v1h-1zM24 70h1v1h-1zM24 71h1v1h-1zM35 71h3v1h-3zM41 71h1v1h-1zM24 72h1v1h-1zM36 72h7v1h-7zM24 73h1v1h-1zM36 73h1v1h-1zM43 73h1v1h-1zM24 74h1v1h-1zM36 74h1v1h-1zM43 74h1v1h-1zM24 75h1v1h-1zM43 75h1v1h-1zM24 76h1v1h-1zM37 76h1v1h-1zM23 77h1v1h-1zM37 77h1v1h-1zM43 77h1v1h-1zM1 78h2v1h-2zM37 78h1v1h-1zM43 78h1v1h-1zM22 79h1v1h-1zM38 79h1v1h-1zM3 80h1v1h-1zM19 80h3v1h-3zM38 80h1v1h-1zM4 81h1v1h-1zM13 81h2v1h-2zM38 81h2v1h-2zM42 81h1v1h-1zM6 82h2v1h-2zM11 82h1v1h-1zM38 82h5v1h-5zM38 83h5v1h-5zM37 84h2v1h-2zM41 84h2v1h-2zM37 85h1v1h-1zM41 85h2v1h-2zM36 86h2v1h-2zM42 86h1v1h-1zM35 87h2v1h-2zM42 87h1v1h-1zM33 88h4v1h-4zM42 88h1v1h-1zM31 89h7v1h-7zM42 89h2v1h-2zM30 90h6v1h-6zM38 90h6v1h-6zM30 91h4v1h-4zM38 91h4v1h-4zM30 92h3v1h-3zM38 92h4v1h-4zM30 93h4v1h-4zM37 93h5v1h-5z"/><path fill="#443a83" d="M26 1h1v1h-1zM43 1h1v1h-1zM9 2h1v1h-1zM26 2h2v1h-2zM44 2h1v1h-1zM10 3h4v1h-4zM25 3h2v1h-2zM12 4h8v1h-8zM23 4h4v1h-4zM45 4h1v1h-1zM17 5h11v1h-11zM21 6h8v1h-8zM22 7h15v1h-15zM46 7h1v1h-1zM22 8h3v1h-3zM29 8h10v1h-10zM22 9h1v1h-1zM29 9h2v1h-2zM33 9h7v1h-7zM21 10h1v1h-1zM29 10h2v1h-2zM34 10h6v1h-6zM47 10h1v1h-1zM20 11h1v1h-1zM29 11h2v1h-2zM35 11h6v1h-6zM47 11h1v1h-1zM20 12h1v1h-1zM29 12h1v1h-1zM36 12h5v1h-5zM20 13h1v1h-1zM29 13h1v1h-1zM37 13h4v1h-4zM20 14h1v1h-1zM28 14h1v1h-1zM37 14h4v1h-4zM5 15h4v1h-4zM19 15h3v1h-3zM37 15h1v1h-1zM40 15h2v1h-2zM5 16h2v1h-2zM8 16h3v1h-3zM19 16h4v1h-4zM24 16h2v1h-2zM36 16h1v1h-1zM41 16h1v1h-1zM5 17h1v1h-1zM10 17h3v1h-3zM19 17h5v1h-5zM36 17h1v1h-1zM5 18h1v1h-1zM12 18h2v1h-2zM19 18h4v1h-4zM5 19h1v1h-1zM13 19h2v1h-2zM17 19h5v1h-5zM5 20h1v1h-1zM14 20h8v1h-8zM5 21h1v1h-1zM15 21h7v1h-7zM35 21h1v1h-1zM18 22h4v1h-4zM35 22h1v1h-1zM19 23h3v1h-3zM41 23h1v1h-1zM6 24h1v1h-1zM19 24h3v1h-3zM34 24h1v1h-1zM41 24h1v1h-1zM6 25h1v1h-1zM19 25h3v1h-3zM34 25h1v1h-1zM41 25h1v1h-1zM6 26h1v1h-1zM19 26h4v1h-4zM33 26h3v1h-3zM41 26h1v1h-1zM6 27h1v1h-1zM19 27h3v1h-3zM33 27h4v1h-4zM40 27h2v1h-2zM6 28h1v1h-1zM19 28h2v1h-2zM33 28h8v1h-8zM19 29h2v1h-2zM33 29h3v1h-3zM19 30h1v1h-1zM18 31h2v1h-2zM7 32h1v1h-1zM18 32h2v1h-2zM7 33h1v1h-1zM17 33h3v1h-3zM12 34h8v1h-8zM8 35h4v1h-4zM16 35h4v1h-4zM34 35h2v1h-2zM18 36h3v1h-3zM33 36h5v1h-5zM19 37h3v1h-3zM32 37h7v1h-7zM20 38h3v1h-3zM32 38h9v1h-9zM21 39h2v1h-2zM32 39h10v1h-10zM21 40h3v1h-3zM31 40h13v1h-13zM21 41h4v1h-4zM31 41h14v1h-14zM21 42h5v1h-5zM30 42h15v1h-15zM22 43h6v1h-6zM30 43h6v1h-6zM40 43h5v1h-5zM7 44h2v1h-2zM22 44h13v1h-13zM42 44h3v1h-3zM22 45h13v1h-13zM44 45h1v1h-1zM4 46h1v1h-1zM10 46h1v1h-1zM22 46h13v1h-13zM3 47h1v1h-1zM11 47h1v1h-1zM22 47h13v1h-13zM2 48h1v1h-1zM20 48h14v1h-14zM1 49h1v1h-1zM17 49h1v1h-1zM20 49h1v1h-1zM23 49h11v1h-11zM24 50h9v1h-9zM24 51h9v1h-9zM25 52h8v1h-8zM25 53h8v1h-8zM25 54h4v1h-4zM30 54h4v1h-4zM40 54h1v1h-1zM25 55h4v1h-4zM30 55h12v1h-12zM26 56h3v1h-3zM31 56h9v1h-9zM41 56h1v1h-1zM13 57h1v1h-1zM26 57h3v1h-3zM31 57h8v1h-8zM42 57h1v1h-1zM14 58h1v1h-1zM26 58h3v1h-3zM32 58h6v1h-6zM42 58h1v1h-1zM15 59h1v1h-1zM26 59h3v1h-3zM32 59h5v1h-5zM42 59h1v1h-1zM26 60h4v1h-4zM32 60h5v1h-5zM42 60h1v1h-1zM26 61h5v1h-5zM32 61h6v1h-6zM41 61h2v1h-2zM26 62h5v1h-5zM32 62h3v1h-3zM36 62h6v1h-6zM26 63h5v1h-5zM33 63h2v1h-2zM38 63h3v1h-3zM26 64h8v1h-8zM26 65h8v1h-8zM25 66h9v1h-9zM25 67h9v1h-9zM25 68h9v1h-9zM25 69h3v1h-3zM31 69h4v1h-4zM41 69h2v1h-2zM17 70h1v1h-1zM25 70h2v1h-2zM32 70h6v1h-6zM39 70h5v1h-5zM25 71h2v1h-2zM33 71h2v1h-2zM38 71h3v1h-3zM42 71h2v1h-2zM25 72h1v1h-1zM34 72h2v1h-2zM43 72h1v1h-1zM25 73h1v1h-1zM34 73h2v1h-2zM14 74h1v1h-1zM25 74h1v1h-1zM35 74h1v1h-1zM9 75h1v1h-1zM12 75h1v1h-1zM25 75h1v1h-1zM35 75h2v1h-2zM36 76h1v1h-1zM24 77h1v1h-1zM36 77h1v1h-1zM23 78h1v1h-1zM36 78h1v1h-1zM1 79h2v1h-2zM23 79h1v1h-1zM36 79h2v1h-2zM43 79h1v1h-1zM22 80h1v1h-1zM37 80h1v1h-1zM43 80h1v1h-1zM15 81h6v1h-6zM37 81h1v1h-1zM43 81h1v1h-1zM5 82h1v1h-1zM12 82h2v1h-2zM36 82h2v1h-2zM43 82h1v1h-1zM6 83h6v1h-6zM36 83h2v1h-2zM43 83h1v1h-1zM34 84h3v1h-3zM43 84h1v1h-1zM32 85h5v1h-5zM43 85h1v1h-1zM31 86h5v1h-5zM43 86h1v1h-1zM29 87h6v1h-6zM43 87h2v1h-2zM29 88h4v1h-4zM43 88h2v1h-2zM29 89h2v1h-2zM44 89h1v1h-1zM28 90h2v1h-2zM44 90h1v1h-1zM9 91h7v1h-7zM28 91h2v1h-2zM42 91h3v1h-3zM9 92h7v1h-7zM28 92h2v1h-2zM42 92h2v1h-2zM10 93h6v1h-6zM28 93h2v1h-2zM11 94h5v1h-5zM28 94h1v1h-1zM14 95h2v1h-2z"/><path fill="#433d84" d="M27 1h1v1h-1zM7 2h2v1h-2zM28 2h1v1h-1zM7 3h3v1h-3zM27 3h2v1h-2zM44 3h1v1h-1zM9 4h3v1h-3zM27 4h2v1h-2zM9 5h8v1h-8zM28 5h6v1h-6zM45 5h1v1h-1zM10 6h11v1h-11zM29 6h10v1h-10zM45 6h1v1h-1zM10 7h3v1h-3zM18 7h4v1h-4zM37 7h3v1h-3zM10 8h2v1h-2zM19 8h3v1h-3zM39 8h2v1h-2zM46 8h1v1h-1zM20 9h2v1h-2zM31 9h2v1h-2zM40 9h2v1h-2zM46 9h1v1h-1zM9 10h1v1h-1zM19 10h2v1h-2zM31 10h3v1h-3zM40 10h2v1h-2zM7 11h3v1h-3zM19 11h1v1h-1zM31 11h4v1h-4zM41 11h1v1h-1zM6 12h4v1h-4zM19 12h1v1h-1zM30 12h2v1h-2zM33 12h3v1h-3zM41 12h1v1h-1zM47 12h1v1h-1zM5 13h6v1h-6zM18 13h2v1h-2zM30 13h1v1h-1zM35 13h2v1h-2zM41 13h1v1h-1zM5 14h6v1h-6zM18 14h2v1h-2zM29 14h1v1h-1zM35 14h2v1h-2zM41 14h2v1h-2zM4 15h1v1h-1zM9 15h3v1h-3zM18 15h1v1h-1zM27 15h1v1h-1zM35 15h2v1h-2zM42 15h1v1h-1zM4 16h1v1h-1zM11 16h3v1h-3zM17 16h2v1h-2zM26 16h1v1h-1zM35 16h1v1h-1zM42 16h1v1h-1zM4 17h1v1h-1zM13 17h3v1h-3zM17 17h2v1h-2zM24 17h1v1h-1zM35 17h1v1h-1zM42 17h1v1h-1zM4 18h1v1h-1zM14 18h5v1h-5zM23 18h1v1h-1zM35 18h1v1h-1zM42 18h1v1h-1zM4 19h1v1h-1zM15 19h2v1h-2zM22 19h1v1h-1zM35 19h1v1h-1zM42 19h1v1h-1zM4 20h1v1h-1zM22 20h1v1h-1zM35 20h1v1h-1zM42 20h1v1h-1zM22 21h1v1h-1zM42 21h1v1h-1zM5 22h1v1h-1zM22 22h1v1h-1zM34 22h1v1h-1zM42 22h1v1h-1zM5 23h1v1h-1zM22 23h1v1h-1zM34 23h1v1h-1zM42 23h1v1h-1zM5 24h1v1h-1zM22 24h2v1h-2zM33 24h1v1h-1zM42 24h1v1h-1zM22 25h2v1h-2zM33 25h1v1h-1zM42 25h1v1h-1zM23 26h1v1h-1zM32 26h1v1h-1zM42 26h1v1h-1zM22 27h2v1h-2zM32 27h1v1h-1zM42 27h1v1h-1zM21 28h3v1h-3zM32 28h1v1h-1zM41 28h2v1h-2zM6 29h1v1h-1zM21 29h2v1h-2zM31 29h2v1h-2zM36 29h7v1h-7zM6 30h1v1h-1zM20 30h2v1h-2zM31 30h7v1h-7zM6 31h1v1h-1zM20 31h2v1h-2zM31 31h6v1h-6zM20 32h1v1h-1zM32 32h5v1h-5zM20 33h2v1h-2zM32 33h6v1h-6zM7 34h1v1h-1zM20 34h2v1h-2zM32 34h8v1h-8zM7 35h1v1h-1zM12 35h4v1h-4zM20 35h3v1h-3zM31 35h3v1h-3zM36 35h6v1h-6zM8 36h4v1h-4zM16 36h2v1h-2zM21 36h2v1h-2zM31 36h2v1h-2zM38 36h5v1h-5zM18 37h1v1h-1zM22 37h1v1h-1zM31 37h1v1h-1zM39 37h6v1h-6zM19 38h1v1h-1zM31 38h1v1h-1zM41 38h4v1h-4zM20 39h1v1h-1zM23 39h2v1h-2zM30 39h2v1h-2zM42 39h4v1h-4zM20 40h1v1h-1zM24 40h2v1h-2zM30 40h1v1h-1zM44 40h2v1h-2zM25 41h2v1h-2zM29 41h2v1h-2zM45 41h1v1h-1zM26 42h4v1h-4zM45 42h1v1h-1zM21 43h1v1h-1zM28 43h2v1h-2zM36 43h4v1h-4zM45 43h1v1h-1zM9 44h1v1h-1zM21 44h1v1h-1zM35 44h7v1h-7zM45 44h1v1h-1zM5 45h1v1h-1zM21 45h1v1h-1zM35 45h9v1h-9zM45 45h1v1h-1zM21 46h1v1h-1zM35 46h11v1h-11zM20 47h2v1h-2zM35 47h10v1h-10zM1 48h1v1h-1zM12 48h1v1h-1zM19 48h1v1h-1zM34 48h11v1h-11zM16 49h1v1h-1zM34 49h6v1h-6zM42 49h3v1h-3zM33 50h7v1h-7zM33 51h8v1h-8zM33 52h8v1h-8zM33 53h9v1h-9zM29 54h1v1h-1zM34 54h6v1h-6zM41 54h1v1h-1zM29 55h1v1h-1zM29 56h2v1h-2zM42 56h1v1h-1zM9 57h1v1h-1zM29 57h2v1h-2zM29 58h3v1h-3zM4 59h1v1h-1zM29 59h3v1h-3zM43 59h1v1h-1zM30 60h2v1h-2zM43 60h1v1h-1zM16 61h1v1h-1zM31 61h1v1h-1zM43 61h1v1h-1zM31 62h1v1h-1zM35 62h1v1h-1zM42 62h1v1h-1zM31 63h2v1h-2zM35 63h3v1h-3zM41 63h1v1h-1zM34 64h7v1h-7zM34 65h6v1h-6zM34 66h3v1h-3zM38 66h1v1h-1zM34 67h3v1h-3zM39 67h5v1h-5zM3 68h1v1h-1zM34 68h11v1h-11zM28 69h3v1h-3zM35 69h6v1h-6zM43 69h2v1h-2zM27 70h5v1h-5zM38 70h1v1h-1zM44 70h1v1h-1zM27 71h6v1h-6zM44 71h1v1h-1zM16 72h1v1h-1zM26 72h8v1h-8zM44 72h1v1h-1zM15 73h1v1h-1zM26 73h8v1h-8zM44 73h1v1h-1zM26 74h1v1h-1zM32 74h3v1h-3zM44 74h1v1h-1zM10 75h2v1h-2zM26 75h1v1h-1zM33 75h2v1h-2zM44 75h1v1h-1zM25 76h1v1h-1zM33 76h3v1h-3zM44 76h1v1h-1zM25 77h1v1h-1zM34 77h2v1h-2zM44 77h1v1h-1zM24 78h2v1h-2zM34 78h2v1h-2zM24 79h2v1h-2zM35 79h1v1h-1zM0 80h3v1h-3zM23 80h2v1h-2zM35 80h2v1h-2zM0 81h2v1h-2zM3 81h1v1h-1zM21 81h4v1h-4zM34 81h3v1h-3zM4 82h1v1h-1zM14 82h7v1h-7zM32 82h4v1h-4zM44 82h1v1h-1zM5 83h1v1h-1zM12 83h1v1h-1zM29 83h7v1h-7zM44 83h1v1h-1zM5 84h5v1h-5zM28 84h6v1h-6zM44 84h1v1h-1zM27 85h5v1h-5zM44 85h1v1h-1zM27 86h4v1h-4zM44 86h1v1h-1zM27 87h2v1h-2zM7 88h3v1h-3zM27 88h2v1h-2zM45 88h1v1h-1zM6 89h7v1h-7zM27 89h2v1h-2zM45 89h1v1h-1zM6 90h10v1h-10zM27 90h1v1h-1zM45 90h1v1h-1zM6 91h3v1h-3zM16 91h1v1h-1zM27 91h1v1h-1zM45 91h1v1h-1zM6 92h3v1h-3zM16 92h1v1h-1zM27 92h1v1h-1zM44 92h2v1h-2zM8 93h2v1h-2zM16 93h2v1h-2zM26 93h2v1h-2zM16 94h3v1h-3zM25 94h3v1h-3z"/><path fill="#423f85" d="M20 1h1v1h-1zM28 1h1v1h-1zM42 1h1v1h-1zM6 2h1v1h-1zM43 2h1v1h-1zM4 3h3v1h-3zM29 3h1v1h-1zM4 4h5v1h-5zM29 4h6v1h-6zM44 4h1v1h-1zM4 5h5v1h-5zM34 5h5v1h-5zM4 6h6v1h-6zM39 6h2v1h-2zM4 7h6v1h-6zM13 7h5v1h-5zM40 7h2v1h-2zM45 7h1v1h-1zM3 8h7v1h-7zM12 8h7v1h-7zM41 8h2v1h-2zM45 8h1v1h-1zM3 9h17v1h-17zM42 9h1v1h-1zM3 10h6v1h-6zM10 10h9v1h-9zM42 10h1v1h-1zM46 10h1v1h-1zM3 11h4v1h-4zM10 11h9v1h-9zM42 11h2v1h-2zM46 11h1v1h-1zM3 12h3v1h-3zM10 12h9v1h-9zM32 12h1v1h-1zM42 12h2v1h-2zM46 12h1v1h-1zM3 13h2v1h-2zM11 13h7v1h-7zM31 13h4v1h-4zM42 13h2v1h-2zM47 13h1v1h-1zM3 14h2v1h-2zM11 14h7v1h-7zM30 14h2v1h-2zM34 14h1v1h-1zM43 14h1v1h-1zM47 14h1v1h-1zM3 15h1v1h-1zM12 15h6v1h-6zM28 15h1v1h-1zM43 15h1v1h-1zM3 16h1v1h-1zM14 16h3v1h-3zM43 16h1v1h-1zM3 17h1v1h-1zM16 17h1v1h-1zM25 17h1v1h-1zM43 17h1v1h-1zM3 18h1v1h-1zM43 18h1v1h-1zM3 19h1v1h-1zM43 19h1v1h-1zM43 20h1v1h-1zM4 21h1v1h-1zM23 21h1v1h-1zM34 21h1v1h-1zM43 21h1v1h-1zM4 22h1v1h-1zM23 22h1v1h-1zM23 23h1v1h-1zM33 23h1v1h-1zM5 25h1v1h-1zM24 25h1v1h-1zM32 25h1v1h-1zM5 26h1v1h-1zM24 26h2v1h-2zM31 26h1v1h-1zM5 27h1v1h-1zM24 27h3v1h-3zM30 27h2v1h-2zM5 28h1v1h-1zM24 28h8v1h-8zM43 28h1v1h-1zM23 29h8v1h-8zM43 29h1v1h-1zM22 30h1v1h-1zM28 30h3v1h-3zM38 30h6v1h-6zM22 31h1v1h-1zM29 31h2v1h-2zM37 31h7v1h-7zM6 32h1v1h-1zM21 32h2v1h-2zM30 32h2v1h-2zM37 32h7v1h-7zM6 33h1v1h-1zM22 33h1v1h-1zM31 33h1v1h-1zM38 33h6v1h-6zM22 34h1v1h-1zM31 34h1v1h-1zM40 34h5v1h-5zM42 35h4v1h-4zM7 36h1v1h-1zM12 36h4v1h-4zM30 36h1v1h-1zM43 36h3v1h-3zM8 37h4v1h-4zM17 37h1v1h-1zM23 37h1v1h-1zM30 37h1v1h-1zM45 37h1v1h-1zM18 38h1v1h-1zM23 38h1v1h-1zM30 38h1v1h-1zM45 38h1v1h-1zM19 39h1v1h-1zM25 39h1v1h-1zM29 39h1v1h-1zM26 40h1v1h-1zM29 40h1v1h-1zM20 41h1v1h-1zM27 41h2v1h-2zM20 42h1v1h-1zM7 43h2v1h-2zM20 43h1v1h-1zM6 44h1v1h-1zM20 44h1v1h-1zM4 45h1v1h-1zM10 45h1v1h-1zM20 45h1v1h-1zM1 46h1v1h-1zM3 46h1v1h-1zM20 46h1v1h-1zM1 47h2v1h-2zM45 47h1v1h-1zM18 48h1v1h-1zM45 48h1v1h-1zM13 49h3v1h-3zM40 49h2v1h-2zM45 49h1v1h-1zM40 50h6v1h-6zM41 51h4v1h-4zM41 52h4v1h-4zM42 53h2v1h-2zM42 54h1v1h-1zM42 55h1v1h-1zM43 57h1v1h-1zM6 58h1v1h-1zM43 58h1v1h-1zM43 62h1v1h-1zM42 63h1v1h-1zM17 64h1v1h-1zM41 64h2v1h-2zM40 65h3v1h-3zM37 66h1v1h-1zM39 66h6v1h-6zM37 67h2v1h-2zM44 67h1v1h-1zM17 69h1v1h-1zM8 74h1v1h-1zM13 74h1v1h-1zM27 74h5v1h-5zM27 75h6v1h-6zM26 76h7v1h-7zM26 77h3v1h-3zM31 77h3v1h-3zM26 78h3v1h-3zM32 78h2v1h-2zM44 78h1v1h-1zM26 79h4v1h-4zM32 79h3v1h-3zM44 79h1v1h-1zM25 80h10v1h-10zM44 80h1v1h-1zM2 81h1v1h-1zM25 81h9v1h-9zM44 81h1v1h-1zM0 82h2v1h-2zM3 82h1v1h-1zM21 82h11v1h-11zM4 83h1v1h-1zM13 83h9v1h-9zM23 83h6v1h-6zM4 84h1v1h-1zM10 84h3v1h-3zM25 84h3v1h-3zM4 85h6v1h-6zM25 85h2v1h-2zM45 85h1v1h-1zM5 86h5v1h-5zM25 86h2v1h-2zM45 86h1v1h-1zM5 87h6v1h-6zM25 87h2v1h-2zM45 87h1v1h-1zM5 88h2v1h-2zM10 88h3v1h-3zM25 88h2v1h-2zM4 89h2v1h-2zM13 89h3v1h-3zM25 89h2v1h-2zM4 90h2v1h-2zM16 90h2v1h-2zM25 90h2v1h-2zM4 91h2v1h-2zM17 91h1v1h-1zM25 91h2v1h-2zM5 92h1v1h-1zM17 92h3v1h-3zM24 92h3v1h-3zM18 93h8v1h-8zM19 94h6v1h-6z"/><path fill="#424186" d="M29 1h1v1h-1zM41 1h1v1h-1zM29 2h1v1h-1zM42 2h1v1h-1zM2 3h2v1h-2zM30 3h4v1h-4zM43 3h1v1h-1zM2 4h2v1h-2zM35 4h3v1h-3zM2 5h2v1h-2zM39 5h1v1h-1zM44 5h1v1h-1zM2 6h2v1h-2zM41 6h1v1h-1zM44 6h1v1h-1zM2 7h2v1h-2zM42 7h3v1h-3zM2 8h1v1h-1zM43 8h2v1h-2zM2 9h1v1h-1zM43 9h3v1h-3zM1 10h2v1h-2zM43 10h3v1h-3zM1 11h2v1h-2zM44 11h1v1h-1zM1 12h2v1h-2zM44 12h1v1h-1zM1 13h2v1h-2zM44 13h1v1h-1zM46 13h1v1h-1zM2 14h1v1h-1zM32 14h2v1h-2zM44 14h1v1h-1zM46 14h1v1h-1zM2 15h1v1h-1zM29 15h2v1h-2zM34 15h1v1h-1zM44 15h1v1h-1zM46 15h2v1h-2zM2 16h1v1h-1zM27 16h1v1h-1zM34 16h1v1h-1zM44 16h1v1h-1zM46 16h2v1h-2zM2 17h1v1h-1zM34 17h1v1h-1zM44 17h1v1h-1zM46 17h1v1h-1zM2 18h1v1h-1zM24 18h1v1h-1zM34 18h1v1h-1zM46 18h1v1h-1zM23 19h1v1h-1zM46 19h1v1h-1zM3 20h1v1h-1zM23 20h1v1h-1zM34 20h1v1h-1zM33 22h1v1h-1zM43 22h1v1h-1zM4 23h1v1h-1zM24 23h1v1h-1zM32 23h1v1h-1zM43 23h1v1h-1zM4 24h1v1h-1zM24 24h1v1h-1zM31 24h2v1h-2zM43 24h1v1h-1zM25 25h2v1h-2zM30 25h2v1h-2zM43 25h1v1h-1zM26 26h5v1h-5zM43 26h1v1h-1zM27 27h3v1h-3zM43 27h1v1h-1zM44 28h1v1h-1zM5 29h1v1h-1zM44 29h1v1h-1zM5 30h1v1h-1zM23 30h5v1h-5zM44 30h1v1h-1zM27 31h2v1h-2zM44 31h2v1h-2zM29 32h1v1h-1zM44 32h2v1h-2zM30 33h1v1h-1zM44 33h2v1h-2zM6 34h1v1h-1zM30 34h1v1h-1zM45 34h1v1h-1zM23 35h1v1h-1zM30 35h1v1h-1zM23 36h1v1h-1zM29 36h1v1h-1zM7 37h1v1h-1zM12 37h1v1h-1zM15 37h2v1h-2zM29 37h1v1h-1zM8 38h4v1h-4zM17 38h1v1h-1zM24 38h1v1h-1zM29 38h1v1h-1zM18 39h1v1h-1zM26 39h1v1h-1zM28 39h1v1h-1zM19 40h1v1h-1zM27 40h2v1h-2zM19 41h1v1h-1zM7 42h2v1h-2zM6 43h1v1h-1zM9 43h1v1h-1zM1 45h1v1h-1zM2 46h1v1h-1zM11 46h1v1h-1zM19 46h1v1h-1zM19 47h1v1h-1zM17 48h1v1h-1zM45 51h1v1h-1zM45 52h1v1h-1zM44 53h2v1h-2zM43 54h3v1h-3zM43 55h2v1h-2zM43 56h1v1h-1zM10 57h1v1h-1zM44 59h1v1h-1zM15 60h1v1h-1zM44 60h1v1h-1zM3 61h1v1h-1zM44 61h1v1h-1zM44 62h1v1h-1zM43 63h1v1h-1zM43 64h1v1h-1zM17 65h1v1h-1zM43 65h2v1h-2zM17 66h1v1h-1zM45 66h1v1h-1zM17 67h1v1h-1zM45 67h1v1h-1zM17 68h1v1h-1zM45 68h1v1h-1zM45 69h1v1h-1zM4 70h1v1h-1zM45 70h1v1h-1zM45 71h1v1h-1zM45 72h1v1h-1zM45 73h1v1h-1zM45 74h1v1h-1zM45 75h1v1h-1zM29 77h2v1h-2zM29 78h3v1h-3zM30 79h2v1h-2zM45 81h1v1h-1zM2 82h1v1h-1zM45 82h1v1h-1zM0 83h2v1h-2zM3 83h1v1h-1zM22 83h1v1h-1zM45 83h1v1h-1zM13 84h12v1h-12zM45 84h1v1h-1zM10 85h3v1h-3zM18 85h2v1h-2zM23 85h2v1h-2zM3 86h2v1h-2zM10 86h2v1h-2zM24 86h1v1h-1zM3 87h2v1h-2zM11 87h2v1h-2zM24 87h1v1h-1zM2 88h3v1h-3zM13 88h2v1h-2zM24 88h1v1h-1zM2 89h2v1h-2zM16 89h2v1h-2zM24 89h1v1h-1zM2 90h2v1h-2zM18 90h1v1h-1zM23 90h2v1h-2zM3 91h1v1h-1zM18 91h7v1h-7zM20 92h4v1h-4z"/><path fill="#414487" d="M30 1h1v1h-1zM40 1h1v1h-1zM30 2h3v1h-3zM41 2h1v1h-1zM34 3h3v1h-3zM42 3h1v1h-1zM38 4h1v1h-1zM42 4h2v1h-2zM40 5h4v1h-4zM42 6h2v1h-2zM45 11h1v1h-1zM45 12h1v1h-1zM45 13h1v1h-1zM1 14h1v1h-1zM45 14h1v1h-1zM1 15h1v1h-1zM31 15h1v1h-1zM33 15h1v1h-1zM45 15h1v1h-1zM1 16h1v1h-1zM28 16h1v1h-1zM45 16h1v1h-1zM1 17h1v1h-1zM26 17h1v1h-1zM45 17h1v1h-1zM47 17h1v1h-1zM44 18h2v1h-2zM2 19h1v1h-1zM34 19h1v1h-1zM44 19h2v1h-2zM44 20h3v1h-3zM3 21h1v1h-1zM44 21h3v1h-3zM3 22h1v1h-1zM24 22h1v1h-1zM44 22h3v1h-3zM31 23h1v1h-1zM44 23h3v1h-3zM25 24h6v1h-6zM44 24h3v1h-3zM4 25h1v1h-1zM27 25h3v1h-3zM44 25h3v1h-3zM4 26h1v1h-1zM44 26h3v1h-3zM44 27h3v1h-3zM45 28h2v1h-2zM45 29h2v1h-2zM45 30h2v1h-2zM5 31h1v1h-1zM23 31h4v1h-4zM46 31h1v1h-1zM23 32h1v1h-1zM28 32h1v1h-1zM46 32h1v1h-1zM23 33h1v1h-1zM29 33h1v1h-1zM46 33h1v1h-1zM23 34h1v1h-1zM29 34h1v1h-1zM46 34h1v1h-1zM6 35h1v1h-1zM29 35h1v1h-1zM46 35h1v1h-1zM46 36h1v1h-1zM13 37h2v1h-2zM24 37h1v1h-1zM28 37h1v1h-1zM46 37h1v1h-1zM7 38h1v1h-1zM12 38h1v1h-1zM16 38h1v1h-1zM25 38h4v1h-4zM46 38h1v1h-1zM8 39h3v1h-3zM17 39h1v1h-1zM27 39h1v1h-1zM46 39h1v1h-1zM8 40h1v1h-1zM18 40h1v1h-1zM46 40h1v1h-1zM7 41h2v1h-2zM46 41h1v1h-1zM9 42h1v1h-1zM19 42h1v1h-1zM46 42h1v1h-1zM19 43h1v1h-1zM46 43h1v1h-1zM1 44h1v1h-1zM5 44h1v1h-1zM10 44h1v1h-1zM19 44h1v1h-1zM2 45h2v1h-2zM19 45h1v1h-1zM12 47h1v1h-1zM18 47h1v1h-1zM16 48h1v1h-1zM45 55h1v1h-1zM44 56h2v1h-2zM12 57h1v1h-1zM44 57h2v1h-2zM44 58h1v1h-1zM14 59h1v1h-1zM16 62h1v1h-1zM44 63h1v1h-1zM44 64h2v1h-2zM45 65h1v1h-1zM3 67h1v1h-1zM7 73h1v1h-1zM14 73h1v1h-1zM12 74h1v1h-1zM45 76h1v1h-1zM45 77h1v1h-1zM45 78h1v1h-1zM45 79h1v1h-1zM45 80h1v1h-1zM2 83h1v1h-1zM0 84h2v1h-2zM3 84h1v1h-1zM46 84h1v1h-1zM0 85h2v1h-2zM3 85h1v1h-1zM13 85h5v1h-5zM20 85h3v1h-3zM46 85h1v1h-1zM12 86h12v1h-12zM46 86h1v1h-1zM2 87h1v1h-1zM13 87h3v1h-3zM17 87h7v1h-7zM15 88h9v1h-9zM0 89h2v1h-2zM18 89h6v1h-6zM0 90h2v1h-2zM19 90h4v1h-4z"/><path fill="#404688" d="M31 0h1v1h-1zM31 1h1v1h-1zM39 1h1v1h-1zM33 2h3v1h-3zM40 2h1v1h-1zM37 3h5v1h-5zM39 4h3v1h-3zM32 15h1v1h-1zM29 16h1v1h-1zM33 16h1v1h-1zM1 18h1v1h-1zM25 18h1v1h-1zM47 18h1v1h-1zM1 19h1v1h-1zM24 19h1v1h-1zM47 19h1v1h-1zM1 20h2v1h-2zM24 20h1v1h-1zM2 21h1v1h-1zM24 21h1v1h-1zM33 21h1v1h-1zM32 22h1v1h-1zM3 23h1v1h-1zM30 23h1v1h-1zM4 27h1v1h-1zM5 32h1v1h-1zM24 32h1v1h-1zM26 32h2v1h-2zM28 33h1v1h-1zM28 34h1v1h-1zM28 35h1v1h-1zM6 36h1v1h-1zM24 36h1v1h-1zM27 36h2v1h-2zM25 37h3v1h-3zM13 38h3v1h-3zM7 39h1v1h-1zM11 39h2v1h-2zM16 39h1v1h-1zM7 40h1v1h-1zM9 40h2v1h-2zM17 40h1v1h-1zM9 41h1v1h-1zM18 41h1v1h-1zM1 42h1v1h-1zM6 42h1v1h-1zM1 43h1v1h-1zM10 43h1v1h-1zM2 44h1v1h-1zM4 44h1v1h-1zM46 44h1v1h-1zM11 45h1v1h-1zM46 45h1v1h-1zM18 46h1v1h-1zM46 46h1v1h-1zM46 47h1v1h-1zM13 48h3v1h-3zM46 48h1v1h-1zM46 49h1v1h-1zM46 50h1v1h-1zM46 51h1v1h-1zM46 52h1v1h-1zM46 53h1v1h-1zM11 57h1v1h-1zM13 58h1v1h-1zM45 58h1v1h-1zM45 59h1v1h-1zM45 60h1v1h-1zM45 61h1v1h-1zM45 62h1v1h-1zM45 63h1v1h-1zM5 71h1v1h-1zM16 71h1v1h-1zM6 72h1v1h-1zM15 72h1v1h-1zM9 74h1v1h-1zM46 82h1v1h-1zM46 83h1v1h-1zM2 84h1v1h-1zM2 85h1v1h-1zM0 86h3v1h-3zM0 87h2v1h-2zM16 87h1v1h-1zM0 88h2v1h-2z"/><path fill="#3f4889" d="M32 0h2v1h-2zM32 1h7v1h-7zM36 2h4v1h-4zM30 16h1v1h-1zM27 17h1v1h-1zM33 17h1v1h-1zM33 18h1v1h-1zM33 19h1v1h-1zM33 20h1v1h-1zM47 20h1v1h-1zM1 21h1v1h-1zM47 21h1v1h-1zM1 22h1v1h-1zM47 22h1v1h-1zM1 23h1v1h-1zM25 23h1v1h-1zM29 23h1v1h-1zM3 24h1v1h-1zM25 32h1v1h-1zM24 33h4v1h-4zM24 34h1v1h-1zM27 34h1v1h-1zM24 35h1v1h-1zM27 35h1v1h-1zM25 36h2v1h-2zM6 37h1v1h-1zM13 39h3v1h-3zM1 40h1v1h-1zM11 40h2v1h-2zM16 40h1v1h-1zM1 41h1v1h-1zM6 41h1v1h-1zM10 41h2v1h-2zM17 41h1v1h-1zM10 42h1v1h-1zM18 42h1v1h-1zM2 43h1v1h-1zM5 43h1v1h-1zM18 43h1v1h-1zM3 44h1v1h-1zM11 44h1v1h-1zM18 44h1v1h-1zM18 45h1v1h-1zM12 46h1v1h-1zM17 47h1v1h-1zM46 54h1v1h-1zM46 55h1v1h-1zM46 56h1v1h-1zM46 57h1v1h-1zM7 58h1v1h-1zM46 58h1v1h-1zM46 59h1v1h-1zM46 60h1v1h-1zM46 61h1v1h-1zM46 62h1v1h-1zM46 63h1v1h-1zM46 64h1v1h-1zM46 65h1v1h-1zM46 66h1v1h-1zM46 67h1v1h-1zM46 68h1v1h-1zM46 69h1v1h-1zM46 70h1v1h-1zM46 71h1v1h-1zM46 72h1v1h-1zM46 73h1v1h-1zM10 74h2v1h-2zM46 74h1v1h-1zM46 79h1v1h-1zM46 80h1v1h-1zM46 81h1v1h-1z"/><path fill="#3e4a89" d="M31 16h2v1h-2zM28 17h1v1h-1zM26 18h1v1h-1zM25 19h1v1h-1zM25 20h1v1h-1zM25 21h1v1h-1zM32 21h1v1h-1zM2 22h1v1h-1zM25 22h1v1h-1zM31 22h1v1h-1zM26 23h3v1h-3zM47 23h1v1h-1zM1 24h1v1h-1zM47 24h1v1h-1zM1 25h1v1h-1zM3 25h1v1h-1zM47 25h1v1h-1zM1 26h1v1h-1zM1 27h1v1h-1zM4 28h1v1h-1zM5 33h1v1h-1zM25 34h2v1h-2zM25 35h2v1h-2zM1 36h1v1h-1zM1 37h1v1h-1zM1 38h1v1h-1zM6 38h1v1h-1zM1 39h1v1h-1zM6 39h1v1h-1zM6 40h1v1h-1zM15 40h1v1h-1zM12 41h1v1h-1zM2 42h1v1h-1zM11 42h1v1h-1zM17 42h1v1h-1zM3 43h2v1h-2zM11 43h1v1h-1zM17 46h1v1h-1zM13 47h1v1h-1zM16 47h1v1h-1zM5 59h1v1h-1zM15 61h1v1h-1zM3 66h1v1h-1zM46 75h1v1h-1zM46 76h1v1h-1zM46 77h1v1h-1zM46 78h1v1h-1z"/><path fill="#3d4d8a" d="M29 17h1v1h-1zM32 17h1v1h-1zM30 22h1v1h-1zM2 23h1v1h-1zM3 26h1v1h-1zM47 26h1v1h-1zM47 27h1v1h-1zM1 28h1v1h-1zM47 28h1v1h-1zM1 29h1v1h-1zM47 29h1v1h-1zM1 30h1v1h-1zM47 30h1v1h-1zM1 31h1v1h-1zM1 32h1v1h-1zM1 33h1v1h-1zM1 34h1v1h-1zM1 35h1v1h-1zM13 40h2v1h-2zM2 41h1v1h-1zM15 41h2v1h-2zM3 42h1v1h-1zM5 42h1v1h-1zM12 42h1v1h-1zM12 43h1v1h-1zM17 43h1v1h-1zM12 44h1v1h-1zM17 44h1v1h-1zM12 45h1v1h-1zM17 45h1v1h-1zM13 46h1v1h-1zM14 47h2v1h-2zM3 62h1v1h-1zM16 63h1v1h-1zM16 70h1v1h-1zM8 73h1v1h-1zM13 73h1v1h-1z"/><path fill="#3c4f8a" d="M30 17h2v1h-2zM27 18h1v1h-1zM32 18h1v1h-1zM26 19h1v1h-1zM32 19h1v1h-1zM32 20h1v1h-1zM26 21h1v1h-1zM31 21h1v1h-1zM26 22h1v1h-1zM29 22h1v1h-1zM2 24h1v1h-1zM3 27h1v1h-1zM4 29h1v1h-1zM5 34h1v1h-1zM2 39h1v1h-1zM2 40h1v1h-1zM5 41h1v1h-1zM13 41h2v1h-2zM13 42h1v1h-1zM15 42h2v1h-2zM16 43h1v1h-1zM16 44h1v1h-1zM13 45h1v1h-1zM16 45h1v1h-1zM16 46h1v1h-1zM4 60h1v1h-1zM14 72h1v1h-1z"/><path fill="#3b518b" d="M28 18h1v1h-1zM26 20h1v1h-1zM27 22h2v1h-2zM2 25h1v1h-1zM3 28h1v1h-1zM5 35h1v1h-1zM2 36h1v1h-1zM2 37h1v1h-1zM2 38h1v1h-1zM3 41h1v1h-1zM4 42h1v1h-1zM14 42h1v1h-1zM13 43h3v1h-3zM13 44h3v1h-3zM14 45h2v1h-2zM14 46h2v1h-2zM8 58h1v1h-1zM14 60h1v1h-1zM3 65h1v1h-1zM16 69h1v1h-1zM12 73h1v1h-1z"/><path fill="#3a538b" d="M29 18h3v1h-3zM27 19h1v1h-1zM31 19h1v1h-1zM31 20h1v1h-1zM27 21h1v1h-1zM30 21h1v1h-1zM2 26h1v1h-1zM3 29h1v1h-1zM2 30h1v1h-1zM4 30h1v1h-1zM2 31h1v1h-1zM2 32h1v1h-1zM2 33h1v1h-1zM2 34h1v1h-1zM2 35h1v1h-1zM5 36h1v1h-1zM5 37h1v1h-1zM5 38h1v1h-1zM5 39h1v1h-1zM3 40h1v1h-1zM5 40h1v1h-1zM4 69h1v1h-1zM7 72h1v1h-1zM9 73h1v1h-1z"/><path fill="#39558c" d="M28 19h1v1h-1zM30 19h1v1h-1zM27 20h1v1h-1zM30 20h1v1h-1zM28 21h2v1h-2zM2 27h1v1h-1zM2 28h1v1h-1zM2 29h1v1h-1zM3 30h1v1h-1zM3 39h1v1h-1zM4 41h1v1h-1zM9 58h1v1h-1zM13 59h1v1h-1zM3 63h1v1h-1zM3 64h1v1h-1zM16 68h1v1h-1zM13 72h1v1h-1zM10 73h2v1h-2z"/><path fill="#38588c" d="M29 19h1v1h-1zM28 20h2v1h-2zM3 31h2v1h-2zM3 38h1v1h-1zM4 40h1v1h-1zM12 58h1v1h-1zM6 59h1v1h-1zM15 62h1v1h-1zM16 64h1v1h-1zM6 71h1v1h-1z"/><path fill="#375a8c" d="M3 32h2v1h-2zM3 33h1v1h-1zM3 37h1v1h-1zM16 67h1v1h-1z"/><path fill="#365c8d" d="M4 33h1v1h-1zM3 34h1v1h-1zM3 35h1v1h-1zM3 36h1v1h-1zM4 38h1v1h-1zM4 39h1v1h-1zM10 58h1v1h-1zM16 66h1v1h-1zM15 71h1v1h-1zM8 72h1v1h-1zM12 72h1v1h-1z"/><path fill="#355e8d" d="M4 34h1v1h-1zM4 35h1v1h-1zM4 36h1v1h-1zM4 37h1v1h-1zM11 58h1v1h-1zM16 65h1v1h-1z"/><path fill="#34608d" d="M4 61h1v1h-1zM14 61h1v1h-1zM9 72h1v1h-1zM11 72h1v1h-1z"/><path fill="#33628d" d="M4 68h1v1h-1zM10 72h1v1h-1z"/><path fill="#32648e" d="M7 59h1v1h-1zM5 60h1v1h-1zM5 70h1v1h-1zM7 71h1v1h-1z"/><path fill="#31668e" d="M15 63h1v1h-1z"/><path fill="#31688e" d="M13 60h1v1h-1z"/><path fill="#306a8e" d="M12 59h1v1h-1zM15 70h1v1h-1zM14 71h1v1h-1z"/><path fill="#2f6c8e" d="M8 59h1v1h-1zM8 71h1v1h-1z"/><path fill="#2e6e8e" d="M4 67h1v1h-1z"/><path fill="#2d708e" d="M4 62h1v1h-1zM13 71h1v1h-1z"/><path fill="#2c718e" d="M6 60h1v1h-1zM14 62h1v1h-1zM15 69h1v1h-1zM9 71h1v1h-1zM12 71h1v1h-1z"/><path fill="#2c738e" d="M9 59h1v1h-1zM15 64h1v1h-1zM10 71h2v1h-2z"/><path fill="#2b758e" d="M11 59h1v1h-1z"/><path fill="#2a778e" d="M10 59h1v1h-1zM15 68h1v1h-1z"/><path fill="#29798e" d="M5 61h1v1h-1zM13 61h1v1h-1zM4 66h1v1h-1zM6 70h1v1h-1z"/><path fill="#297b8e" d="M15 65h1v1h-1zM15 67h1v1h-1z"/><path fill="#287d8e" d="M12 60h1v1h-1zM15 66h1v1h-1zM5 69h1v1h-1z"/><path fill="#277f8e" d="M7 60h1v1h-1zM4 63h1v1h-1z"/><path fill="#26818e" d="M14 63h1v1h-1zM4 65h1v1h-1z"/><path fill="#26828e" d="M4 64h1v1h-1zM14 70h1v1h-1z"/><path fill="#23888e" d="M8 60h1v1h-1zM7 70h1v1h-1z"/><path fill="#238a8d" d="M13 62h1v1h-1z"/><path fill="#228c8d" d="M11 60h1v1h-1zM6 61h1v1h-1z"/><path fill="#218e8d" d="M5 62h1v1h-1z"/><path fill="#21908d" d="M9 60h1v1h-1zM12 61h1v1h-1zM14 64h1v1h-1z"/><path fill="#20928c" d="M5 68h1v1h-1zM8 70h1v1h-1zM13 70h1v1h-1z"/><path fill="#20938c" d="M10 60h1v1h-1zM14 69h1v1h-1z"/><path fill="#1f998a" d="M7 61h1v1h-1zM9 70h1v1h-1zM12 70h1v1h-1z"/><path fill="#1e9b8a" d="M14 65h1v1h-1zM14 68h1v1h-1zM6 69h1v1h-1zM10 70h1v1h-1z"/><path fill="#1e9d89" d="M13 63h1v1h-1zM14 67h1v1h-1zM11 70h1v1h-1z"/><path fill="#1f9f88" d="M14 66h1v1h-1zM5 67h1v1h-1z"/><path fill="#1fa188" d="M5 63h1v1h-1z"/><path fill="#1fa287" d="M11 61h1v1h-1zM12 62h1v1h-1z"/><path fill="#20a486" d="M8 61h1v1h-1zM6 62h1v1h-1z"/><path fill="#22a884" d="M5 66h1v1h-1z"/><path fill="#25ac82" d="M9 61h1v1h-1zM5 64h1v1h-1zM13 64h1v1h-1zM5 65h1v1h-1zM13 69h1v1h-1z"/><path fill="#27ad81" d="M10 61h1v1h-1z"/><path fill="#29af7f" d="M7 69h1v1h-1z"/><path fill="#31b57b" d="M7 62h1v1h-1zM12 63h1v1h-1z"/><path fill="#34b679" d="M11 62h1v1h-1zM6 68h1v1h-1z"/><path fill="#37b878" d="M13 65h1v1h-1z"/><path fill="#3aba76" d="M6 63h1v1h-1zM13 68h1v1h-1z"/><path fill="#3dbc74" d="M8 69h1v1h-1zM12 69h1v1h-1z"/><path fill="#40bd72" d="M13 66h1v1h-1z"/><path fill="#44bf70" d="M8 62h1v1h-1zM13 67h1v1h-1z"/><path fill="#4cc26c" d="M9 69h1v1h-1zM11 69h1v1h-1z"/><path fill="#50c46a" d="M10 62h1v1h-1zM12 64h1v1h-1zM10 69h1v1h-1z"/><path fill="#54c568" d="M9 62h1v1h-1z"/><path fill="#58c765" d="M6 67h1v1h-1z"/><path fill="#5cc863" d="M11 63h1v1h-1zM6 64h1v1h-1z"/><path fill="#60ca60" d="M7 63h1v1h-1z"/><path fill="#69cd5b" d="M6 66h1v1h-1zM7 68h1v1h-1z"/><path fill="#6ece58" d="M6 65h1v1h-1zM12 68h1v1h-1z"/><path fill="#73d056" d="M12 65h1v1h-1z"/><path fill="#81d34d" d="M8 63h1v1h-1zM10 63h1v1h-1z"/><path fill="#86d549" d="M11 64h1v1h-1zM12 66h1v1h-1z"/><path fill="#8bd646" d="M12 67h1v1h-1z"/><path fill="#90d743" d="M9 63h1v1h-1zM8 68h1v1h-1z"/><path fill="#95d840" d="M7 64h1v1h-1zM11 68h1v1h-1z"/><path fill="#a5db36" d="M7 67h1v1h-1zM9 68h2v1h-2z"/><path fill="#b0dd2f" d="M11 65h1v1h-1z"/><path fill="#b5de2b" d="M10 64h1v1h-1z"/><path fill="#bade28" d="M8 64h1v1h-1zM7 65h1v1h-1z"/><path fill="#c5e021" d="M7 66h1v1h-1zM11 67h1v1h-1z"/><path fill="#cae11f" d="M9 64h1v1h-1zM11 66h1v1h-1z"/><path fill="#d5e21a" d="M8 67h1v1h-1z"/><path fill="#dfe318" d="M10 65h1v1h-1z"/><path fill="#e5e419" d="M10 67h1v1h-1z"/><path fill="#eae51a" d="M8 65h1v1h-1zM9 67h1v1h-1z"/><path fill="#f4e61e" d="M9 65h1v1h-1zM8 66h1v1h-1z"/><path fill="#f8e621" d="M10 66h1v1h-1z"/><path fill="#fde725" d="M9 66h1v1h-1z"/></g>
<use href="#pp" x="378.60" y="0.00"/>
<rect class="s" x="458.5" y="78.5" width="279.0" height="547.0"/><path class="k" d="M464.5 625.5v4.86M529.5 625.5v4.86M595.5 625.5v4.86M660.5 625.5v4.86M726.5 625.5v4.86M458.5 620.5h-4.86M458.5 555.5h-4.86M458.5 489.5h-4.86M458.5 424.5h-4.86M458.5 358.5h-4.86M458.5 293.5h-4.86M458.5 227.5h-4.86M458.5 162.5h-4.86M458.5 96.5h-4.86"/><text class="h" text-anchor="middle" x="598.0" y="70.2">science_value[nJy]</text>
<rect x="753.5" y="130.5" width="22.0" height="444.0" fill="url(#vg)" class="k"/><text class="t" x="784.6" y="560.5">−2.5</text><text class="t" x="784.6" y="505.5">0.0</text><text class="t" x="784.6" y="449.5">2.5</text><text class="t" x="784.6" y="394.5">5.0</text><text class="t" x="784.6" y="338.5">7.5</text><text class="t" x="784.6" y="283.5">10.0</text><text class="t" x="784.6" y="227.5">12.5</text><text class="t" x="784.6" y="172.5">15.0</text><path class="k" d="M775.5 555.5h4.86M775.5 500.5h4.86M775.5 444.5h4.86M775.5 389.5h4.86M775.5 333.5h4.86M775.5 278.5h4.86M775.5 222.5h4.86M775.5 167.5h4.86"/>
<g transform="translate(842.60,89.50) scale(5.5780,5.4640)" shape-rendering="crispEdges"><path fill="#481c6e" d="M47 1h1v1h-1z"/><path fill="#46307e" d="M47 2h1v1h-1z"/><path fill="#424186" d="M46 1h1v1h-1z"/><path fill="#414487" d="M47 3h1v1h-1z"/><path fill="#3a538b" d="M47 4h1v1h-1z"/><path fill="#365c8d" d="M45 1h1v1h-1z"/><path fill="#355e8d" d="M46 2h1v1h-1z"/><path fill="#32648e" d="M47 5h1v1h-1z"/><path fill="#2d708e" d="M46 3h1v1h-1z"/><path fill="#2c718e" d="M44 1h1v1h-1zM47 6h1v1h-1z"/><path fill="#297b8e" d="M46 4h1v1h-1z"/><path fill="#287d8e" d="M45 2h1v1h-1z"/><path fill="#277f8e" d="M47 7h1v1h-1z"/><path fill="#26828e" d="M43 1h1v1h-1z"/><path fill="#25848e" d="M46 5h1v1h-1z"/><path fill="#228c8d" d="M47 8h1v1h-1z"/><path fill="#21908d" d="M42 1h1v1h-1zM46 6h1v1h-1z"/><path fill="#20938c" d="M45 3h1v1h-1z"/><path fill="#1f958b" d="M44 2h1v1h-1z"/><path fill="#1f978b" d="M47 9h1v1h-1z"/><path fill="#1f998a" d="M46 7h1v1h-1z"/><path fill="#1e9b8a" d="M41 1h1v1h-1z"/><path fill="#1fa287" d="M46 8h1v1h-1zM47 10h1v1h-1z"/><path fill="#20a486" d="M40 1h1v1h-1zM45 4h1v1h-1z"/><path fill="#22a884" d="M43 2h1v1h-1z"/><path fill="#24aa83" d="M31 0h2v1h-2zM31 1h2v1h-2zM39 1h1v1h-1z"/><path fill="#25ac82" d="M33 0h1v1h-1zM20 1h1v1h-1zM33 1h1v1h-1zM46 9h1v1h-1z"/><path fill="#27ad81" d="M30 1h1v1h-1zM47 11h1v1h-1zM2 38h1v1h-1zM2 39h1v1h-1zM2 40h1v1h-1zM2 41h2v1h-2zM3 42h1v1h-1zM3 43h1v1h-1zM3 44h1v1h-1zM3 45h2v1h-2zM3 46h2v1h-2zM3 47h2v1h-2zM4 74h1v1h-1zM4 75h1v1h-1zM4 76h1v1h-1z"/><path fill="#29af7f" d="M38 1h1v1h-1zM45 5h1v1h-1zM2 34h1v1h-1zM2 35h1v1h-1zM2 36h1v1h-1zM2 37h1v1h-1zM3 38h1v1h-1zM3 39h1v1h-1zM3 40h1v1h-1zM2 42h1v1h-1zM2 43h1v1h-1zM2 44h1v1h-1zM4 44h1v1h-1zM5 45h1v1h-1zM5 46h1v1h-1zM5 47h1v1h-1zM12 47h1v1h-1zM3 48h2v1h-2zM4 73h1v1h-1zM5 75h1v1h-1zM5 76h1v1h-1zM4 77h1v1h-1z"/><path fill="#2cb17e" d="M34 1h1v1h-1zM37 1h1v1h-1zM44 3h1v1h-1zM46 10h1v1h-1zM6 16h3v1h-3zM6 17h4v1h-4zM6 18h4v1h-4zM7 19h4v1h-4zM9 20h3v1h-3zM1 25h1v1h-1zM1 26h1v1h-1zM1 27h1v1h-1zM1 28h1v1h-1zM1 29h1v1h-1zM1 30h2v1h-2zM1 31h2v1h-2zM1 32h2v1h-2zM1 33h2v1h-2zM1 34h1v1h-1zM1 35h1v1h-1zM1 36h1v1h-1zM3 36h1v1h-1zM3 37h1v1h-1zM4 43h1v1h-1zM5 44h1v1h-1zM2 45h1v1h-1zM6 45h1v1h-1zM11 45h2v1h-2zM2 46h1v1h-1zM6 46h8v1h-8zM6 47h2v1h-2zM9 47h3v1h-3zM13 47h1v1h-1zM5 48h1v1h-1zM11 48h3v1h-3zM3 74h1v1h-1zM5 74h1v1h-1zM3 75h1v1h-1zM3 76h1v1h-1zM3 77h1v1h-1zM5 77h1v1h-1zM16 77h1v1h-1zM4 78h1v1h-1zM15 78h2v1h-2zM14 79h4v1h-4zM15 80h2v1h-2z"/><path fill="#2eb37c" d="M29 1h1v1h-1zM35 1h2v1h-2zM5 13h4v1h-4zM3 14h7v1h-7zM3 15h8v1h-8zM2 16h4v1h-4zM9 16h2v1h-2zM2 17h4v1h-4zM10 17h2v1h-2zM3 18h3v1h-3zM10 18h2v1h-2zM1 19h1v1h-1zM4 19h3v1h-3zM11 19h1v1h-1zM1 20h1v1h-1zM6 20h3v1h-3zM12 20h1v1h-1zM1 21h1v1h-1zM9 21h4v1h-4zM1 22h1v1h-1zM11 22h1v1h-1zM1 23h1v1h-1zM1 24h1v1h-1zM2 26h1v1h-1zM2 27h1v1h-1zM2 28h1v1h-1zM2 29h1v1h-1zM3 34h1v1h-1zM3 35h1v1h-1zM1 37h1v1h-1zM1 38h1v1h-1zM1 39h1v1h-1zM1 40h1v1h-1zM4 42h1v1h-1zM5 43h1v1h-1zM6 44h2v1h-2zM11 44h1v1h-1zM7 45h4v1h-4zM13 45h1v1h-1zM14 46h1v1h-1zM2 47h1v1h-1zM8 47h1v1h-1zM14 47h1v1h-1zM6 48h5v1h-5zM14 48h1v1h-1zM3 49h2v1h-2zM11 49h3v1h-3zM4 72h1v1h-1zM3 73h1v1h-1zM5 73h1v1h-1zM6 75h1v1h-1zM6 76h1v1h-1zM15 76h2v1h-2zM6 77h1v1h-1zM14 77h2v1h-2zM17 77h1v1h-1zM3 78h1v1h-1zM5 78h1v1h-1zM13 78h2v1h-2zM17 78h2v1h-2zM13 79h1v1h-1zM18 79h1v1h-1zM13 80h2v1h-2zM17 80h2v1h-2zM14 81h4v1h-4z"/><path fill="#31b57b" d="M30 2h3v1h-3zM42 2h1v1h-1zM5 5h3v1h-3zM2 6h1v1h-1zM5 6h3v1h-3zM45 6h1v1h-1zM2 7h7v1h-7zM2 8h7v1h-7zM2 9h7v1h-7zM1 10h9v1h-9zM1 11h10v1h-10zM1 12h11v1h-11zM1 13h4v1h-4zM9 13h3v1h-3zM1 14h2v1h-2zM10 14h2v1h-2zM1 15h2v1h-2zM11 15h1v1h-1zM1 16h1v1h-1zM11 16h2v1h-2zM1 17h1v1h-1zM12 17h1v1h-1zM1 18h2v1h-2zM12 18h1v1h-1zM2 19h2v1h-2zM12 19h1v1h-1zM2 20h4v1h-4zM13 20h1v1h-1zM2 21h1v1h-1zM4 21h5v1h-5zM13 21h1v1h-1zM2 22h1v1h-1zM9 22h2v1h-2zM12 22h1v1h-1zM2 23h1v1h-1zM2 24h1v1h-1zM2 25h1v1h-1zM3 33h1v1h-1zM1 41h1v1h-1zM4 41h1v1h-1zM1 42h1v1h-1zM1 43h1v1h-1zM6 43h2v1h-2zM8 44h3v1h-3zM12 44h2v1h-2zM14 45h1v1h-1zM15 47h1v1h-1zM2 48h1v1h-1zM2 49h1v1h-1zM5 49h6v1h-6zM14 49h1v1h-1zM3 50h1v1h-1zM8 50h2v1h-2zM12 50h2v1h-2zM3 72h1v1h-1zM6 74h1v1h-1zM7 76h1v1h-1zM14 76h1v1h-1zM17 76h1v1h-1zM7 77h1v1h-1zM13 77h1v1h-1zM18 77h1v1h-1zM6 78h2v1h-2zM12 78h1v1h-1zM3 79h4v1h-4zM12 79h1v1h-1zM19 79h1v1h-1zM12 80h1v1h-1zM19 80h1v1h-1zM12 81h2v1h-2zM18 81h1v1h-1zM13 82h6v1h-6z"/><path fill="#34b679" d="M6 2h1v1h-1zM33 2h1v1h-1zM2 3h5v1h-5zM2 4h8v1h-8zM2 5h3v1h-3zM8 5h3v1h-3zM3 6h2v1h-2zM8 6h3v1h-3zM9 7h6v1h-6zM9 8h7v1h-7zM9 9h6v1h-6zM10 10h4v1h-4zM11 11h2v1h-2zM46 11h1v1h-1zM12 12h1v1h-1zM12 13h1v1h-1zM12 14h1v1h-1zM12 15h1v1h-1zM13 16h1v1h-1zM13 17h1v1h-1zM13 18h1v1h-1zM13 19h1v1h-1zM3 21h1v1h-1zM3 22h6v1h-6zM13 22h1v1h-1zM10 23h3v1h-3zM3 31h1v1h-1zM3 32h1v1h-1zM4 40h1v1h-1zM5 42h2v1h-2zM8 43h5v1h-5zM1 44h1v1h-1zM14 44h1v1h-1zM1 45h1v1h-1zM1 46h1v1h-1zM15 46h1v1h-1zM15 48h1v1h-1zM15 49h1v1h-1zM2 50h1v1h-1zM4 50h4v1h-4zM10 50h2v1h-2zM14 50h1v1h-1zM7 51h2v1h-2zM3 71h2v1h-2zM7 75h1v1h-1zM15 75h3v1h-3zM8 76h1v1h-1zM12 76h2v1h-2zM18 76h1v1h-1zM2 77h1v1h-1zM8 77h5v1h-5zM2 78h1v1h-1zM8 78h4v1h-4zM19 78h1v1h-1zM2 79h1v1h-1zM7 79h5v1h-5zM2 80h10v1h-10zM3 81h9v1h-9zM19 81h1v1h-1zM3 82h10v1h-10zM19 82h1v1h-1zM4 83h15v1h-15zM4 84h7v1h-7zM5 85h2v1h-2z"/><path fill="#37b878" d="M28 1h1v1h-1zM7 2h1v1h-1zM29 2h1v1h-1zM34 2h1v1h-1zM7 3h2v1h-2zM10 4h1v1h-1zM11 5h2v1h-2zM11 6h5v1h-5zM15 7h2v1h-2zM16 8h1v1h-1zM15 9h2v1h-2zM14 10h2v1h-2zM13 11h2v1h-2zM13 12h2v1h-2zM47 12h1v1h-1zM13 13h1v1h-1zM13 14h1v1h-1zM13 15h1v1h-1zM14 19h1v1h-1zM14 20h1v1h-1zM14 21h1v1h-1zM14 22h1v1h-1zM3 23h7v1h-7zM13 23h1v1h-1zM3 24h1v1h-1zM11 24h1v1h-1zM3 25h1v1h-1zM3 27h1v1h-1zM3 28h1v1h-1zM3 29h1v1h-1zM3 30h1v1h-1zM5 41h1v1h-1zM7 42h5v1h-5zM13 43h1v1h-1zM15 45h1v1h-1zM1 47h1v1h-1zM16 47h1v1h-1zM1 48h1v1h-1zM5 51h2v1h-2zM9 51h2v1h-2zM12 51h2v1h-2zM7 52h2v1h-2zM3 70h1v1h-1zM5 72h1v1h-1zM6 73h1v1h-1zM2 74h1v1h-1zM7 74h1v1h-1zM16 74h1v1h-1zM2 75h1v1h-1zM8 75h1v1h-1zM12 75h3v1h-3zM2 76h1v1h-1zM9 76h3v1h-3zM19 77h1v1h-1zM20 79h1v1h-1zM20 80h1v1h-1zM2 81h1v1h-1zM20 81h1v1h-1zM2 82h1v1h-1zM20 82h1v1h-1zM3 83h1v1h-1zM19 83h1v1h-1zM3 84h1v1h-1zM11 84h7v1h-7zM3 85h2v1h-2zM7 85h5v1h-5zM4 86h3v1h-3z"/><path fill="#3aba76" d="M9 3h2v1h-2zM11 4h2v1h-2zM13 5h2v1h-2zM16 6h1v1h-1zM17 7h1v1h-1zM17 8h1v1h-1zM17 9h1v1h-1zM16 10h1v1h-1zM15 11h2v1h-2zM15 12h1v1h-1zM46 12h1v1h-1zM14 13h1v1h-1zM14 14h1v1h-1zM14 15h1v1h-1zM14 16h1v1h-1zM14 17h1v1h-1zM14 18h1v1h-1zM14 23h1v1h-1zM4 24h7v1h-7zM12 24h2v1h-2zM3 26h1v1h-1zM4 39h1v1h-1zM6 41h2v1h-2zM12 42h2v1h-2zM14 43h1v1h-1zM15 44h1v1h-1zM16 46h1v1h-1zM16 48h1v1h-1zM1 49h1v1h-1zM15 50h1v1h-1zM2 51h3v1h-3zM11 51h1v1h-1zM14 51h1v1h-1zM4 52h3v1h-3zM9 52h1v1h-1zM2 72h1v1h-1zM2 73h1v1h-1zM8 74h1v1h-1zM13 74h3v1h-3zM17 74h1v1h-1zM9 75h3v1h-3zM18 75h1v1h-1zM1 76h1v1h-1zM19 76h1v1h-1zM1 77h1v1h-1zM1 78h1v1h-1zM20 78h1v1h-1zM1 79h1v1h-1zM2 83h1v1h-1zM20 83h1v1h-1zM2 84h1v1h-1zM18 84h2v1h-2zM12 85h4v1h-4zM3 86h1v1h-1zM7 86h4v1h-4zM4 87h2v1h-2z"/><path fill="#3dbc74" d="M11 3h1v1h-1zM30 3h1v1h-1zM13 4h2v1h-2zM15 5h2v1h-2zM17 6h1v1h-1zM18 7h1v1h-1zM45 7h1v1h-1zM18 8h1v1h-1zM18 9h1v1h-1zM17 10h1v1h-1zM17 11h1v1h-1zM16 12h1v1h-1zM15 13h1v1h-1zM46 13h1v1h-1zM15 14h1v1h-1zM15 15h1v1h-1zM15 16h1v1h-1zM15 17h1v1h-1zM15 18h1v1h-1zM15 19h1v1h-1zM15 20h1v1h-1zM15 21h1v1h-1zM15 22h1v1h-1zM14 24h1v1h-1zM4 25h4v1h-4zM10 25h3v1h-3zM4 38h1v1h-1zM5 40h2v1h-2zM8 41h4v1h-4zM14 42h1v1h-1zM16 45h1v1h-1zM16 49h1v1h-1zM1 50h1v1h-1zM1 51h1v1h-1zM15 51h1v1h-1zM2 52h2v1h-2zM10 52h4v1h-4zM4 53h5v1h-5zM3 69h1v1h-1zM2 70h1v1h-1zM4 70h1v1h-1zM2 71h1v1h-1zM5 71h1v1h-1zM6 72h1v1h-1zM7 73h1v1h-1zM9 74h4v1h-4zM18 74h1v1h-1zM1 75h1v1h-1zM19 75h1v1h-1zM20 77h1v1h-1zM21 79h1v1h-1zM0 80h2v1h-2zM21 80h1v1h-1zM0 81h2v1h-2zM21 81h1v1h-1zM0 82h2v1h-2zM21 82h1v1h-1zM0 83h2v1h-2zM21 83h1v1h-1zM0 84h2v1h-2zM20 84h1v1h-1zM2 85h1v1h-1zM16 85h3v1h-3zM2 86h1v1h-1zM11 86h3v1h-3zM3 87h1v1h-1zM6 87h4v1h-4z"/><path fill="#40bd72" d="M27 1h1v1h-1zM8 2h1v1h-1zM35 2h1v1h-1zM12 3h2v1h-2zM29 3h1v1h-1zM31 3h2v1h-2zM15 4h1v1h-1zM17 5h1v1h-1zM18 6h1v1h-1zM19 8h1v1h-1zM18 10h1v1h-1zM17 12h1v1h-1zM16 13h1v1h-1zM16 14h1v1h-1zM46 14h1v1h-1zM15 23h1v1h-1zM8 25h2v1h-2zM13 25h1v1h-1zM4 26h1v1h-1zM4 37h1v1h-1zM5 39h1v1h-1zM7 40h4v1h-4zM12 41h2v1h-2zM15 43h1v1h-1zM17 47h1v1h-1zM16 50h1v1h-1zM1 52h1v1h-1zM14 52h1v1h-1zM2 53h2v1h-2zM9 53h2v1h-2zM5 54h3v1h-3zM2 68h2v1h-2zM2 69h1v1h-1zM7 72h1v1h-1zM8 73h10v1h-10zM1 74h1v1h-1zM20 76h1v1h-1zM21 78h1v1h-1zM22 81h1v1h-1zM22 82h1v1h-1zM21 84h1v1h-1zM0 85h2v1h-2zM19 85h2v1h-2zM0 86h2v1h-2zM14 86h3v1h-3zM2 87h1v1h-1zM10 87h3v1h-3zM2 88h7v1h-7z"/><path fill="#44bf70" d="M21 1h1v1h-1zM26 1h1v1h-1zM9 2h1v1h-1zM28 2h1v1h-1zM41 2h1v1h-1zM14 3h1v1h-1zM33 3h2v1h-2zM16 4h2v1h-2zM18 5h1v1h-1zM19 6h1v1h-1zM19 7h1v1h-1zM45 8h1v1h-1zM19 9h1v1h-1zM18 11h1v1h-1zM17 13h1v1h-1zM16 15h1v1h-1zM46 15h1v1h-1zM16 16h1v1h-1zM16 17h1v1h-1zM16 18h1v1h-1zM16 19h1v1h-1zM16 20h1v1h-1zM16 21h1v1h-1zM15 24h1v1h-1zM14 25h1v1h-1zM5 26h8v1h-8zM4 27h1v1h-1zM4 28h1v1h-1zM4 36h1v1h-1zM6 39h1v1h-1zM11 40h2v1h-2zM14 41h1v1h-1zM15 42h1v1h-1zM16 44h1v1h-1zM17 46h1v1h-1zM17 48h1v1h-1zM17 49h1v1h-1zM15 52h1v1h-1zM1 53h1v1h-1zM11 53h3v1h-3zM1 54h4v1h-4zM8 54h2v1h-2zM2 66h1v1h-1zM2 67h1v1h-1zM6 71h1v1h-1zM1 72h1v1h-1zM8 72h1v1h-1zM1 73h1v1h-1zM18 73h1v1h-1zM19 74h1v1h-1zM20 75h1v1h-1zM22 80h1v1h-1zM22 83h1v1h-1zM22 84h1v1h-1zM21 85h1v1h-1zM17 86h3v1h-3zM0 87h2v1h-2zM13 87h2v1h-2zM0 88h2v1h-2zM9 88h2v1h-2zM2 89h6v1h-6z"/><path fill="#48c16e" d="M15 3h2v1h-2zM28 3h1v1h-1zM35 3h1v1h-1zM18 4h1v1h-1zM44 4h1v1h-1zM19 5h1v1h-1zM20 6h1v1h-1zM20 7h1v1h-1zM20 8h1v1h-1zM19 10h1v1h-1zM18 12h1v1h-1zM47 13h1v1h-1zM17 14h1v1h-1zM16 22h1v1h-1zM13 26h1v1h-1zM5 27h5v1h-5zM4 29h1v1h-1zM4 35h1v1h-1zM5 38h1v1h-1zM7 39h4v1h-4zM13 40h2v1h-2zM16 43h1v1h-1zM17 45h1v1h-1zM16 51h1v1h-1zM14 53h1v1h-1zM10 54h1v1h-1zM1 55h7v1h-7zM2 64h1v1h-1zM2 65h1v1h-1zM3 67h1v1h-1zM4 69h1v1h-1zM1 71h1v1h-1zM9 72h9v1h-9zM21 77h1v1h-1zM22 79h1v1h-1zM23 81h1v1h-1zM23 82h1v1h-1zM23 83h1v1h-1zM23 84h1v1h-1zM22 85h1v1h-1zM20 86h1v1h-1zM15 87h3v1h-3zM11 88h2v1h-2zM0 89h2v1h-2zM8 89h3v1h-3zM3 90h5v1h-5z"/><path fill="#4cc26c" d="M25 1h1v1h-1zM10 2h1v1h-1zM27 2h1v1h-1zM17 3h1v1h-1zM19 4h1v1h-1zM29 4h2v1h-2zM20 5h1v1h-1zM21 6h1v1h-1zM21 7h1v1h-1zM20 9h1v1h-1zM19 11h1v1h-1zM18 13h1v1h-1zM17 15h1v1h-1zM17 16h1v1h-1zM46 16h1v1h-1zM17 17h1v1h-1zM16 23h1v1h-1zM15 25h1v1h-1zM10 27h3v1h-3zM5 28h4v1h-4zM5 29h1v1h-1zM4 30h1v1h-1zM4 31h1v1h-1zM4 32h1v1h-1zM4 33h1v1h-1zM4 34h1v1h-1zM5 36h1v1h-1zM5 37h1v1h-1zM6 38h3v1h-3zM11 39h3v1h-3zM15 41h1v1h-1zM18 47h1v1h-1zM17 50h1v1h-1zM16 52h1v1h-1zM15 53h1v1h-1zM11 54h3v1h-3zM8 55h1v1h-1zM1 56h3v1h-3zM2 57h1v1h-1zM2 61h1v1h-1zM2 62h1v1h-1zM2 63h1v1h-1zM1 70h1v1h-1zM5 70h1v1h-1zM7 71h1v1h-1zM19 73h1v1h-1zM20 74h1v1h-1zM21 76h1v1h-1zM22 78h1v1h-1zM23 80h1v1h-1zM24 82h1v1h-1zM24 83h1v1h-1zM24 84h1v1h-1zM23 85h1v1h-1zM21 86h2v1h-2zM18 87h3v1h-3zM13 88h2v1h-2zM11 89h1v1h-1zM0 90h3v1h-3zM8 90h3v1h-3zM3 91h6v1h-6z"/><path fill="#50c46a" d="M11 2h1v1h-1zM40 2h1v1h-1zM18 3h1v1h-1zM27 3h1v1h-1zM43 3h1v1h-1zM20 4h1v1h-1zM28 4h1v1h-1zM31 4h2v1h-2zM21 5h1v1h-1zM22 6h1v1h-1zM21 8h1v1h-1zM45 9h1v1h-1zM20 10h1v1h-1zM18 14h1v1h-1zM46 17h1v1h-1zM17 18h1v1h-1zM17 19h1v1h-1zM29 19h2v1h-2zM17 20h1v1h-1zM28 20h2v1h-2zM17 21h1v1h-1zM16 24h1v1h-1zM14 26h1v1h-1zM13 27h1v1h-1zM9 28h3v1h-3zM6 29h2v1h-2zM5 30h1v1h-1zM5 31h1v1h-1zM5 34h1v1h-1zM5 35h1v1h-1zM6 37h2v1h-2zM9 38h3v1h-3zM14 39h1v1h-1zM15 40h1v1h-1zM16 42h1v1h-1zM17 44h1v1h-1zM18 46h1v1h-1zM18 48h1v1h-1zM17 51h1v1h-1zM14 54h1v1h-1zM9 55h2v1h-2zM4 56h3v1h-3zM1 57h1v1h-1zM3 57h1v1h-1zM1 58h2v1h-2zM2 59h1v1h-1zM2 60h1v1h-1zM3 66h1v1h-1zM4 68h1v1h-1zM1 69h1v1h-1zM8 71h1v1h-1zM16 71h1v1h-1zM18 72h1v1h-1zM21 75h1v1h-1zM22 77h1v1h-1zM23 79h1v1h-1zM24 81h1v1h-1zM25 83h1v1h-1zM25 84h1v1h-1zM24 85h2v1h-2zM23 86h2v1h-2zM21 87h4v1h-4zM15 88h5v1h-5zM12 89h2v1h-2zM11 90h1v1h-1zM9 91h2v1h-2zM5 92h5v1h-5zM8 93h1v1h-1z"/><path fill="#54c568" d="M24 1h1v1h-1zM12 2h2v1h-2zM26 2h1v1h-1zM36 2h1v1h-1zM19 3h2v1h-2zM25 3h2v1h-2zM36 3h1v1h-1zM21 4h2v1h-2zM27 4h1v1h-1zM33 4h2v1h-2zM22 5h2v1h-2zM23 6h1v1h-1zM22 7h1v1h-1zM22 8h1v1h-1zM21 9h1v1h-1zM19 12h1v1h-1zM18 15h1v1h-1zM30 18h1v1h-1zM46 18h1v1h-1zM28 19h1v1h-1zM31 19h1v1h-1zM27 20h1v1h-1zM30 20h1v1h-1zM28 21h1v1h-1zM17 22h1v1h-1zM16 25h1v1h-1zM15 26h1v1h-1zM12 28h1v1h-1zM8 29h3v1h-3zM6 30h2v1h-2zM5 32h1v1h-1zM5 33h1v1h-1zM6 35h1v1h-1zM6 36h2v1h-2zM8 37h3v1h-3zM12 38h3v1h-3zM15 39h1v1h-1zM16 41h1v1h-1zM17 43h1v1h-1zM18 45h1v1h-1zM18 49h1v1h-1zM17 52h1v1h-1zM16 53h1v1h-1zM15 54h1v1h-1zM11 55h4v1h-4zM7 56h2v1h-2zM4 57h1v1h-1zM3 58h1v1h-1zM1 59h1v1h-1zM1 60h1v1h-1zM1 61h1v1h-1zM1 66h1v1h-1zM1 67h1v1h-1zM1 68h1v1h-1zM9 71h1v1h-1zM17 71h1v1h-1zM20 73h1v1h-1zM23 78h1v1h-1zM24 80h1v1h-1zM25 82h1v1h-1zM26 84h1v1h-1zM26 85h1v1h-1zM25 86h3v1h-3zM25 87h3v1h-3zM20 88h8v1h-8zM14 89h1v1h-1zM29 89h1v1h-1zM12 90h1v1h-1zM29 90h1v1h-1zM11 91h2v1h-2zM10 92h2v1h-2zM9 93h3v1h-3zM11 94h1v1h-1z"/><path fill="#58c765" d="M19 1h1v1h-1zM22 1h2v1h-2zM14 2h6v1h-6zM22 2h4v1h-4zM39 2h1v1h-1zM21 3h4v1h-4zM23 4h4v1h-4zM35 4h1v1h-1zM24 5h1v1h-1zM28 5h2v1h-2zM24 6h1v1h-1zM23 7h1v1h-1zM45 10h1v1h-1zM20 11h1v1h-1zM19 13h1v1h-1zM18 16h1v1h-1zM18 17h1v1h-1zM29 18h1v1h-1zM31 18h1v1h-1zM27 19h1v1h-1zM31 20h1v1h-1zM27 21h1v1h-1zM29 21h1v1h-1zM17 23h1v1h-1zM14 27h1v1h-1zM13 28h1v1h-1zM11 29h2v1h-2zM8 30h3v1h-3zM6 31h3v1h-3zM6 32h2v1h-2zM6 33h2v1h-2zM6 34h2v1h-2zM7 35h2v1h-2zM8 36h2v1h-2zM11 37h4v1h-4zM18 44h1v1h-1zM18 50h1v1h-1zM17 53h1v1h-1zM16 54h1v1h-1zM15 55h2v1h-2zM9 56h1v1h-1zM5 57h2v1h-2zM4 58h1v1h-1zM3 59h1v1h-1zM1 62h1v1h-1zM1 63h1v1h-1zM1 64h1v1h-1zM1 65h1v1h-1zM3 65h1v1h-1zM16 70h2v1h-2zM10 71h6v1h-6zM18 71h1v1h-1zM19 72h1v1h-1zM21 74h1v1h-1zM22 76h1v1h-1zM24 79h1v1h-1zM25 81h1v1h-1zM26 82h1v1h-1zM26 83h1v1h-1zM27 84h1v1h-1zM27 85h2v1h-2zM28 86h1v1h-1zM28 87h2v1h-2zM28 88h3v1h-3zM15 89h14v1h-14zM30 89h1v1h-1zM13 90h1v1h-1zM24 90h5v1h-5zM30 90h2v1h-2zM13 91h1v1h-1zM29 91h3v1h-3zM12 92h1v1h-1zM29 92h2v1h-2zM12 93h2v1h-2zM12 94h2v1h-2zM14 95h1v1h-1z"/><path fill="#5cc863" d="M20 2h2v1h-2zM37 2h2v1h-2zM36 4h1v1h-1zM25 5h3v1h-3zM30 5h3v1h-3zM25 6h1v1h-1zM24 7h1v1h-1zM23 8h1v1h-1zM22 9h1v1h-1zM21 10h1v1h-1zM20 12h1v1h-1zM19 14h1v1h-1zM18 18h1v1h-1zM28 18h1v1h-1zM18 19h1v1h-1zM32 19h1v1h-1zM46 19h1v1h-1zM18 20h1v1h-1zM26 20h1v1h-1zM32 20h1v1h-1zM18 21h1v1h-1zM30 21h1v1h-1zM17 24h1v1h-1zM16 26h1v1h-1zM15 27h1v1h-1zM14 28h1v1h-1zM13 29h1v1h-1zM11 30h2v1h-2zM38 30h1v1h-1zM9 31h2v1h-2zM39 31h1v1h-1zM8 32h2v1h-2zM8 33h2v1h-2zM8 34h2v1h-2zM9 35h2v1h-2zM10 36h4v1h-4zM15 38h1v1h-1zM16 40h1v1h-1zM17 42h1v1h-1zM19 47h1v1h-1zM18 51h1v1h-1zM17 54h1v1h-1zM10 56h7v1h-7zM7 57h1v1h-1zM15 57h2v1h-2zM3 60h1v1h-1zM3 61h1v1h-1zM3 64h1v1h-1zM4 67h1v1h-1zM17 69h1v1h-1zM6 70h1v1h-1zM22 75h1v1h-1zM23 77h1v1h-1zM24 78h1v1h-1zM25 80h1v1h-1zM26 81h1v1h-1zM27 83h1v1h-1zM28 84h1v1h-1zM29 85h1v1h-1zM29 86h1v1h-1zM30 87h1v1h-1zM31 88h1v1h-1zM31 89h1v1h-1zM14 90h2v1h-2zM19 90h5v1h-5zM32 90h1v1h-1zM24 91h5v1h-5zM32 91h1v1h-1zM13 92h1v1h-1zM27 92h2v1h-2zM31 92h2v1h-2zM29 93h2v1h-2zM14 94h2v1h-2zM15 95h1v1h-1z"/><path fill="#60ca60" d="M33 5h2v1h-2zM44 5h1v1h-1zM26 6h2v1h-2zM25 7h1v1h-1zM45 11h1v1h-1zM47 14h1v1h-1zM19 15h1v1h-1zM19 16h1v1h-1zM30 17h2v1h-2zM27 18h1v1h-1zM32 18h1v1h-1zM26 19h1v1h-1zM33 20h1v1h-1zM26 21h1v1h-1zM18 22h1v1h-1zM27 22h2v1h-2zM17 25h1v1h-1zM14 29h1v1h-1zM38 29h1v1h-1zM13 30h1v1h-1zM37 30h1v1h-1zM39 30h1v1h-1zM11 31h2v1h-2zM37 31h2v1h-2zM40 31h1v1h-1zM10 32h2v1h-2zM10 33h1v1h-1zM10 34h2v1h-2zM11 35h3v1h-3zM14 36h1v1h-1zM15 37h1v1h-1zM16 39h1v1h-1zM17 41h1v1h-1zM18 43h1v1h-1zM19 45h1v1h-1zM19 46h1v1h-1zM19 48h1v1h-1zM19 49h1v1h-1zM18 52h1v1h-1zM17 55h1v1h-1zM17 56h1v1h-1zM8 57h1v1h-1zM14 57h1v1h-1zM17 57h1v1h-1zM5 58h1v1h-1zM15 58h3v1h-3zM4 59h1v1h-1zM16 59h3v1h-3zM17 60h2v1h-2zM17 61h2v1h-2zM3 62h1v1h-1zM17 62h3v1h-3zM3 63h1v1h-1zM18 63h2v1h-2zM18 64h2v1h-2zM27 65h1v1h-1zM27 66h1v1h-1zM17 68h1v1h-1zM44 68h2v1h-2zM5 69h1v1h-1zM16 69h1v1h-1zM44 69h1v1h-1zM18 70h1v1h-1zM19 71h1v1h-1zM20 72h1v1h-1zM21 73h1v1h-1zM22 74h1v1h-1zM23 76h1v1h-1zM25 79h1v1h-1zM26 80h1v1h-1zM27 82h1v1h-1zM28 83h1v1h-1zM29 84h1v1h-1zM30 85h1v1h-1zM30 86h1v1h-1zM31 87h1v1h-1zM32 88h1v1h-1zM32 89h1v1h-1zM16 90h3v1h-3zM33 90h1v1h-1zM14 91h2v1h-2zM18 91h6v1h-6zM33 91h1v1h-1zM14 92h1v1h-1zM17 92h2v1h-2zM23 92h4v1h-4zM33 92h1v1h-1zM14 93h4v1h-4zM26 93h3v1h-3zM31 93h2v1h-2zM16 94h3v1h-3z"/><path fill="#65cb5e" d="M35 5h1v1h-1zM28 6h5v1h-5zM24 8h1v1h-1zM22 10h1v1h-1zM21 11h1v1h-1zM20 13h1v1h-1zM19 17h1v1h-1zM29 17h1v1h-1zM32 17h1v1h-1zM19 18h1v1h-1zM33 18h1v1h-1zM33 19h1v1h-1zM46 20h1v1h-1zM31 21h1v1h-1zM26 22h1v1h-1zM29 22h1v1h-1zM18 23h1v1h-1zM16 27h1v1h-1zM15 28h1v1h-1zM37 29h1v1h-1zM39 29h1v1h-1zM14 30h1v1h-1zM36 30h1v1h-1zM40 30h1v1h-1zM13 31h1v1h-1zM36 31h1v1h-1zM12 32h2v1h-2zM37 32h4v1h-4zM11 33h2v1h-2zM12 34h2v1h-2zM14 35h1v1h-1zM15 36h1v1h-1zM16 38h1v1h-1zM17 40h1v1h-1zM19 50h1v1h-1zM18 53h1v1h-1zM18 54h1v1h-1zM9 57h2v1h-2zM13 57h1v1h-1zM6 58h1v1h-1zM14 58h1v1h-1zM18 58h1v1h-1zM15 59h1v1h-1zM16 60h1v1h-1zM19 60h1v1h-1zM16 61h1v1h-1zM19 61h1v1h-1zM17 63h1v1h-1zM20 63h1v1h-1zM27 63h2v1h-2zM17 64h1v1h-1zM20 64h1v1h-1zM26 64h3v1h-3zM18 65h3v1h-3zM26 65h1v1h-1zM28 65h1v1h-1zM17 66h3v1h-3zM26 66h1v1h-1zM28 66h1v1h-1zM17 67h2v1h-2zM26 67h2v1h-2zM44 67h2v1h-2zM18 68h1v1h-1zM43 68h1v1h-1zM18 69h1v1h-1zM45 69h1v1h-1zM7 70h1v1h-1zM15 70h1v1h-1zM24 77h1v1h-1zM25 78h1v1h-1zM27 81h1v1h-1zM28 82h1v1h-1zM29 83h1v1h-1zM30 84h1v1h-1zM31 85h1v1h-1zM31 86h2v1h-2zM32 87h1v1h-1zM33 88h1v1h-1zM33 89h1v1h-1zM34 90h1v1h-1zM16 91h2v1h-2zM34 91h1v1h-1zM15 92h2v1h-2zM19 92h4v1h-4zM34 92h1v1h-1zM18 93h8v1h-8zM33 93h1v1h-1zM19 94h10v1h-10z"/><path fill="#69cd5b" d="M37 4h1v1h-1zM36 5h1v1h-1zM33 6h2v1h-2zM26 7h3v1h-3zM23 9h1v1h-1zM21 12h1v1h-1zM45 12h1v1h-1zM20 14h1v1h-1zM20 15h1v1h-1zM31 16h1v1h-1zM28 17h1v1h-1zM26 18h1v1h-1zM19 19h1v1h-1zM25 19h1v1h-1zM19 20h1v1h-1zM25 20h1v1h-1zM34 20h1v1h-1zM19 21h1v1h-1zM25 21h1v1h-1zM32 21h1v1h-1zM18 24h1v1h-1zM17 26h1v1h-1zM37 28h2v1h-2zM15 29h1v1h-1zM36 29h1v1h-1zM14 31h1v1h-1zM41 31h1v1h-1zM14 32h1v1h-1zM36 32h1v1h-1zM41 32h1v1h-1zM13 33h2v1h-2zM14 34h1v1h-1zM15 35h1v1h-1zM16 37h1v1h-1zM18 42h1v1h-1zM19 44h1v1h-1zM19 51h1v1h-1zM18 55h1v1h-1zM18 56h1v1h-1zM11 57h2v1h-2zM18 57h1v1h-1zM7 58h1v1h-1zM5 59h1v1h-1zM14 59h1v1h-1zM19 59h1v1h-1zM4 60h1v1h-1zM15 60h1v1h-1zM20 61h1v1h-1zM16 62h1v1h-1zM20 62h1v1h-1zM27 62h2v1h-2zM26 63h1v1h-1zM29 63h1v1h-1zM21 64h1v1h-1zM29 64h1v1h-1zM17 65h1v1h-1zM21 65h1v1h-1zM25 65h1v1h-1zM29 65h1v1h-1zM4 66h1v1h-1zM20 66h1v1h-1zM25 66h1v1h-1zM44 66h2v1h-2zM19 67h1v1h-1zM25 67h1v1h-1zM28 67h1v1h-1zM43 67h1v1h-1zM16 68h1v1h-1zM19 68h1v1h-1zM26 68h2v1h-2zM19 69h1v1h-1zM43 69h1v1h-1zM8 70h1v1h-1zM19 70h1v1h-1zM44 70h2v1h-2zM20 71h1v1h-1zM23 75h1v1h-1zM26 79h1v1h-1zM27 80h1v1h-1zM28 81h1v1h-1zM29 82h1v1h-1zM30 83h2v1h-2zM31 84h2v1h-2zM32 85h2v1h-2zM33 86h1v1h-1zM33 87h2v1h-2zM34 88h1v1h-1zM34 89h1v1h-1zM35 90h1v1h-1zM35 91h1v1h-1zM35 92h1v1h-1zM34 93h1v1h-1z"/><path fill="#6ece58" d="M42 3h1v1h-1zM35 6h1v1h-1zM29 7h6v1h-6zM25 8h1v1h-1zM24 9h1v1h-1zM23 10h1v1h-1zM22 11h1v1h-1zM21 13h1v1h-1zM20 16h1v1h-1zM30 16h1v1h-1zM32 16h1v1h-1zM20 17h1v1h-1zM27 17h1v1h-1zM33 17h1v1h-1zM34 18h1v1h-1zM34 19h1v1h-1zM33 21h1v1h-1zM46 21h1v1h-1zM19 22h1v1h-1zM25 22h1v1h-1zM30 22h1v1h-1zM26 23h2v1h-2zM18 25h1v1h-1zM16 28h1v1h-1zM36 28h1v1h-1zM39 28h1v1h-1zM40 29h1v1h-1zM15 30h1v1h-1zM35 30h1v1h-1zM41 30h1v1h-1zM15 31h1v1h-1zM35 31h1v1h-1zM15 33h1v1h-1zM37 33h4v1h-4zM15 34h1v1h-1zM16 36h1v1h-1zM17 39h1v1h-1zM18 41h1v1h-1zM19 43h1v1h-1zM20 47h1v1h-1zM32 51h3v1h-3zM19 52h1v1h-1zM32 52h2v1h-2zM19 53h1v1h-1zM19 57h1v1h-1zM8 58h1v1h-1zM13 58h1v1h-1zM19 58h1v1h-1zM20 59h1v1h-1zM20 60h1v1h-1zM4 61h1v1h-1zM15 61h1v1h-1zM21 61h1v1h-1zM28 61h1v1h-1zM21 62h1v1h-1zM29 62h1v1h-1zM16 63h1v1h-1zM21 63h2v1h-2zM22 64h2v1h-2zM25 64h1v1h-1zM22 65h3v1h-3zM21 66h4v1h-4zM29 66h1v1h-1zM16 67h1v1h-1zM20 67h1v1h-1zM24 67h1v1h-1zM5 68h1v1h-1zM20 68h1v1h-1zM25 68h1v1h-1zM42 68h1v1h-1zM15 69h1v1h-1zM20 69h1v1h-1zM26 69h1v1h-1zM42 69h1v1h-1zM9 70h1v1h-1zM14 70h1v1h-1zM20 70h1v1h-1zM43 70h1v1h-1zM21 71h1v1h-1zM44 71h1v1h-1zM21 72h1v1h-1zM22 73h1v1h-1zM23 74h1v1h-1zM24 76h1v1h-1zM25 77h1v1h-1zM26 78h1v1h-1zM27 79h1v1h-1zM28 80h1v1h-1zM29 81h1v1h-1zM30 82h2v1h-2zM32 83h2v1h-2zM33 84h2v1h-2zM34 85h2v1h-2zM34 86h2v1h-2zM35 87h1v1h-1zM35 88h1v1h-1zM35 89h1v1h-1zM36 91h1v1h-1zM35 93h1v1h-1z"/><path fill="#73d056" d="M37 3h1v1h-1zM37 5h1v1h-1zM36 6h1v1h-1zM44 6h1v1h-1zM35 7h2v1h-2zM26 8h9v1h-9zM45 13h1v1h-1zM21 14h1v1h-1zM21 15h1v1h-1zM47 15h1v1h-1zM29 16h1v1h-1zM33 16h1v1h-1zM20 18h1v1h-1zM25 18h1v1h-1zM20 19h1v1h-1zM24 19h1v1h-1zM35 19h1v1h-1zM20 20h1v1h-1zM24 20h1v1h-1zM35 20h1v1h-1zM24 21h1v1h-1zM34 21h1v1h-1zM31 22h1v1h-1zM19 23h1v1h-1zM25 23h1v1h-1zM28 23h1v1h-1zM17 27h1v1h-1zM37 27h3v1h-3zM40 28h1v1h-1zM16 29h1v1h-1zM35 29h1v1h-1zM34 30h1v1h-1zM34 31h1v1h-1zM42 31h1v1h-1zM15 32h1v1h-1zM35 32h1v1h-1zM42 32h1v1h-1zM36 33h1v1h-1zM41 33h1v1h-1zM16 35h1v1h-1zM17 38h1v1h-1zM18 40h1v1h-1zM20 45h1v1h-1zM20 46h1v1h-1zM20 48h1v1h-1zM20 49h1v1h-1zM31 50h4v1h-4zM31 51h1v1h-1zM35 51h1v1h-1zM31 52h1v1h-1zM34 52h2v1h-2zM31 53h4v1h-4zM19 54h1v1h-1zM32 54h2v1h-2zM19 55h1v1h-1zM32 55h1v1h-1zM19 56h1v1h-1zM9 58h1v1h-1zM20 58h1v1h-1zM6 59h1v1h-1zM5 60h1v1h-1zM14 60h1v1h-1zM21 60h1v1h-1zM22 61h1v1h-1zM27 61h1v1h-1zM29 61h1v1h-1zM15 62h1v1h-1zM22 62h2v1h-2zM26 62h1v1h-1zM30 62h1v1h-1zM23 63h3v1h-3zM30 63h1v1h-1zM16 64h1v1h-1zM24 64h1v1h-1zM30 64h1v1h-1zM4 65h1v1h-1zM16 65h1v1h-1zM44 65h2v1h-2zM16 66h1v1h-1zM43 66h1v1h-1zM21 67h3v1h-3zM29 67h1v1h-1zM42 67h1v1h-1zM21 68h4v1h-4zM28 68h1v1h-1zM6 69h1v1h-1zM21 69h3v1h-3zM25 69h1v1h-1zM27 69h1v1h-1zM10 70h1v1h-1zM13 70h1v1h-1zM21 70h2v1h-2zM26 70h1v1h-1zM22 71h1v1h-1zM43 71h1v1h-1zM45 71h1v1h-1zM22 72h1v1h-1zM23 73h1v1h-1zM24 75h1v1h-1zM25 76h1v1h-1zM26 77h1v1h-1zM27 78h1v1h-1zM28 79h1v1h-1zM29 80h1v1h-1zM30 81h4v1h-4zM32 82h4v1h-4zM34 83h3v1h-3zM35 84h2v1h-2zM36 85h1v1h-1zM36 86h2v1h-2zM36 87h2v1h-2zM36 88h1v1h-1zM36 89h1v1h-1zM36 90h1v1h-1zM36 92h1v1h-1zM36 93h1v1h-1z"/><path fill="#77d153" d="M43 4h1v1h-1zM37 6h1v1h-1zM35 8h2v1h-2zM25 9h1v1h-1zM24 10h1v1h-1zM23 11h1v1h-1zM22 12h1v1h-1zM22 13h1v1h-1zM45 14h1v1h-1zM32 15h1v1h-1zM45 15h1v1h-1zM21 16h1v1h-1zM28 16h1v1h-1zM21 17h1v1h-1zM26 17h1v1h-1zM34 17h1v1h-1zM35 18h1v1h-1zM36 20h1v1h-1zM20 21h1v1h-1zM35 21h1v1h-1zM20 22h1v1h-1zM24 22h1v1h-1zM32 22h1v1h-1zM46 22h1v1h-1zM19 24h1v1h-1zM18 26h1v1h-1zM36 27h1v1h-1zM40 27h1v1h-1zM17 28h1v1h-1zM35 28h1v1h-1zM41 28h1v1h-1zM34 29h1v1h-1zM41 29h1v1h-1zM16 30h1v1h-1zM16 31h1v1h-1zM16 32h1v1h-1zM34 32h1v1h-1zM16 33h1v1h-1zM35 33h1v1h-1zM42 33h1v1h-1zM16 34h1v1h-1zM17 37h1v1h-1zM18 39h1v1h-1zM19 42h1v1h-1zM20 44h1v1h-1zM20 50h1v1h-1zM35 50h1v1h-1zM30 51h1v1h-1zM35 53h1v1h-1zM31 54h1v1h-1zM34 54h2v1h-2zM33 55h2v1h-2zM32 56h2v1h-2zM20 57h1v1h-1zM10 58h3v1h-3zM7 59h1v1h-1zM13 59h1v1h-1zM21 59h1v1h-1zM22 60h1v1h-1zM27 60h3v1h-3zM14 61h1v1h-1zM23 61h1v1h-1zM26 61h1v1h-1zM30 61h1v1h-1zM4 62h1v1h-1zM24 62h2v1h-2zM15 63h1v1h-1zM4 64h1v1h-1zM30 65h1v1h-1zM15 68h1v1h-1zM41 68h1v1h-1zM24 69h1v1h-1zM11 70h2v1h-2zM23 70h3v1h-3zM27 70h1v1h-1zM42 70h1v1h-1zM23 71h2v1h-2zM26 71h1v1h-1zM23 72h2v1h-2zM24 73h1v1h-1zM24 74h1v1h-1zM28 78h1v1h-1zM29 79h3v1h-3zM30 80h5v1h-5zM34 81h3v1h-3zM36 82h1v1h-1zM37 83h1v1h-1zM37 84h1v1h-1zM37 85h1v1h-1zM38 86h1v1h-1zM38 87h1v1h-1zM37 88h2v1h-2zM37 89h1v1h-1zM37 90h1v1h-1zM37 91h1v1h-1zM37 92h1v1h-1zM37 93h1v1h-1z"/><path fill="#7cd250" d="M38 5h1v1h-1zM37 7h1v1h-1zM44 7h1v1h-1zM37 8h1v1h-1zM26 9h11v1h-11zM22 14h1v1h-1zM22 15h1v1h-1zM30 15h2v1h-2zM33 15h1v1h-1zM27 16h1v1h-1zM34 16h1v1h-1zM45 16h1v1h-1zM35 17h4v1h-4zM45 17h1v1h-1zM21 18h1v1h-1zM24 18h1v1h-1zM36 18h3v1h-3zM45 18h1v1h-1zM21 19h3v1h-3zM36 19h3v1h-3zM45 19h1v1h-1zM21 20h3v1h-3zM37 20h2v1h-2zM21 21h1v1h-1zM23 21h1v1h-1zM36 21h2v1h-2zM21 22h1v1h-1zM33 22h1v1h-1zM20 23h1v1h-1zM24 23h1v1h-1zM29 23h1v1h-1zM19 25h1v1h-1zM36 26h5v1h-5zM35 27h1v1h-1zM41 27h1v1h-1zM34 28h1v1h-1zM42 29h1v1h-1zM33 30h1v1h-1zM42 30h1v1h-1zM33 31h1v1h-1zM33 32h1v1h-1zM43 32h1v1h-1zM34 33h1v1h-1zM17 34h1v1h-1zM36 34h4v1h-4zM17 35h1v1h-1zM17 36h1v1h-1zM18 38h1v1h-1zM19 41h1v1h-1zM20 43h1v1h-1zM31 49h4v1h-4zM30 50h1v1h-1zM36 50h1v1h-1zM20 51h1v1h-1zM36 51h1v1h-1zM30 52h1v1h-1zM36 52h1v1h-1zM30 53h1v1h-1zM36 53h1v1h-1zM36 54h1v1h-1zM31 55h1v1h-1zM35 55h1v1h-1zM20 56h1v1h-1zM34 56h2v1h-2zM32 57h3v1h-3zM21 58h1v1h-1zM8 59h1v1h-1zM22 59h1v1h-1zM28 59h1v1h-1zM23 60h1v1h-1zM30 60h1v1h-1zM24 61h2v1h-2zM31 61h1v1h-1zM31 62h1v1h-1zM4 63h1v1h-1zM31 63h1v1h-1zM31 64h1v1h-1zM45 64h1v1h-1zM43 65h1v1h-1zM30 66h1v1h-1zM42 66h1v1h-1zM5 67h1v1h-1zM15 67h1v1h-1zM41 67h1v1h-1zM29 68h1v1h-1zM46 68h1v1h-1zM28 69h1v1h-1zM41 69h1v1h-1zM46 69h1v1h-1zM46 70h1v1h-1zM25 71h1v1h-1zM42 71h1v1h-1zM25 72h1v1h-1zM43 72h3v1h-3zM25 73h1v1h-1zM25 74h1v1h-1zM25 75h1v1h-1zM26 76h1v1h-1zM27 77h2v1h-2zM29 78h2v1h-2zM32 79h3v1h-3zM35 80h2v1h-2zM37 81h1v1h-1zM37 82h1v1h-1zM38 83h1v1h-1zM38 84h1v1h-1zM38 85h1v1h-1zM39 87h1v1h-1zM38 89h1v1h-1zM38 90h1v1h-1zM38 91h1v1h-1z"/><path fill="#81d34d" d="M41 3h1v1h-1zM38 4h1v1h-1zM38 6h1v1h-1zM38 7h1v1h-1zM38 8h1v1h-1zM37 9h2v1h-2zM25 10h2v1h-2zM28 10h9v1h-9zM24 11h1v1h-1zM23 12h1v1h-1zM23 13h1v1h-1zM43 13h2v1h-2zM33 14h1v1h-1zM43 14h2v1h-2zM29 15h1v1h-1zM34 15h6v1h-6zM43 15h2v1h-2zM22 16h1v1h-1zM35 16h6v1h-6zM43 16h2v1h-2zM22 17h2v1h-2zM25 17h1v1h-1zM39 17h2v1h-2zM44 17h1v1h-1zM22 18h2v1h-2zM39 18h2v1h-2zM44 18h1v1h-1zM39 19h2v1h-2zM39 20h2v1h-2zM45 20h1v1h-1zM22 21h1v1h-1zM38 21h3v1h-3zM45 21h1v1h-1zM22 22h2v1h-2zM34 22h7v1h-7zM45 22h1v1h-1zM21 23h1v1h-1zM30 23h2v1h-2zM37 23h3v1h-3zM45 23h2v1h-2zM20 24h1v1h-1zM25 24h3v1h-3zM37 24h3v1h-3zM37 25h4v1h-4zM19 26h1v1h-1zM35 26h1v1h-1zM41 26h1v1h-1zM18 27h1v1h-1zM34 27h1v1h-1zM42 27h1v1h-1zM42 28h1v1h-1zM17 29h1v1h-1zM33 29h1v1h-1zM43 29h1v1h-1zM17 30h1v1h-1zM43 30h1v1h-1zM32 31h1v1h-1zM43 31h1v1h-1zM32 32h1v1h-1zM17 33h1v1h-1zM33 33h1v1h-1zM43 33h1v1h-1zM35 34h1v1h-1zM40 34h2v1h-2zM18 37h1v1h-1zM19 40h1v1h-1zM20 42h1v1h-1zM30 49h1v1h-1zM35 49h1v1h-1zM37 50h1v1h-1zM37 51h1v1h-1zM20 52h1v1h-1zM37 52h1v1h-1zM20 53h1v1h-1zM37 53h1v1h-1zM30 54h1v1h-1zM37 54h1v1h-1zM20 55h1v1h-1zM36 55h1v1h-1zM31 56h1v1h-1zM36 56h1v1h-1zM21 57h1v1h-1zM35 57h1v1h-1zM32 58h3v1h-3zM9 59h1v1h-1zM12 59h1v1h-1zM27 59h1v1h-1zM29 59h2v1h-2zM6 60h1v1h-1zM13 60h1v1h-1zM24 60h3v1h-3zM31 60h1v1h-1zM5 61h1v1h-1zM32 61h1v1h-1zM14 62h1v1h-1zM32 62h1v1h-1zM15 64h1v1h-1zM44 64h1v1h-1zM15 65h1v1h-1zM31 65h1v1h-1zM15 66h1v1h-1zM46 66h1v1h-1zM30 67h1v1h-1zM46 67h1v1h-1zM7 69h1v1h-1zM14 69h1v1h-1zM41 70h1v1h-1zM27 71h1v1h-1zM46 71h1v1h-1zM26 72h1v1h-1zM26 75h1v1h-1zM27 76h1v1h-1zM29 77h1v1h-1zM31 78h3v1h-3zM35 79h2v1h-2zM37 80h1v1h-1zM38 82h1v1h-1zM39 85h1v1h-1zM39 86h1v1h-1zM39 88h1v1h-1zM39 89h1v1h-1zM38 92h1v1h-1zM38 93h1v1h-1z"/><path fill="#86d549" d="M38 3h1v1h-1zM39 8h1v1h-1zM44 8h1v1h-1zM39 9h1v1h-1zM27 10h1v1h-1zM37 10h3v1h-3zM25 11h1v1h-1zM28 11h10v1h-10zM24 12h1v1h-1zM30 12h4v1h-4zM40 12h5v1h-5zM30 13h4v1h-4zM38 13h5v1h-5zM23 14h1v1h-1zM29 14h4v1h-4zM34 14h9v1h-9zM23 15h1v1h-1zM27 15h2v1h-2zM40 15h3v1h-3zM23 16h4v1h-4zM41 16h2v1h-2zM24 17h1v1h-1zM41 17h3v1h-3zM41 18h3v1h-3zM41 19h4v1h-4zM41 20h4v1h-4zM41 21h4v1h-4zM41 22h4v1h-4zM22 23h2v1h-2zM32 23h2v1h-2zM35 23h2v1h-2zM40 23h5v1h-5zM21 24h1v1h-1zM24 24h1v1h-1zM28 24h2v1h-2zM36 24h1v1h-1zM40 24h6v1h-6zM20 25h1v1h-1zM35 25h2v1h-2zM41 25h3v1h-3zM45 25h1v1h-1zM34 26h1v1h-1zM42 26h2v1h-2zM45 26h1v1h-1zM43 27h1v1h-1zM45 27h1v1h-1zM18 28h1v1h-1zM33 28h1v1h-1zM43 28h1v1h-1zM32 29h1v1h-1zM32 30h1v1h-1zM17 31h1v1h-1zM31 31h1v1h-1zM44 31h1v1h-1zM17 32h1v1h-1zM31 32h1v1h-1zM44 32h1v1h-1zM32 33h1v1h-1zM44 33h1v1h-1zM18 34h1v1h-1zM33 34h2v1h-2zM42 34h1v1h-1zM18 35h1v1h-1zM18 36h1v1h-1zM19 39h1v1h-1zM20 41h1v1h-1zM21 44h1v1h-1zM21 45h1v1h-1zM21 46h1v1h-1zM21 47h1v1h-1zM21 48h1v1h-1zM30 48h4v1h-4zM36 49h1v1h-1zM29 50h1v1h-1zM29 51h1v1h-1zM29 52h1v1h-1zM38 52h1v1h-1zM38 53h1v1h-1zM20 54h1v1h-1zM38 54h1v1h-1zM30 55h1v1h-1zM37 55h2v1h-2zM21 56h1v1h-1zM30 56h1v1h-1zM37 56h2v1h-2zM31 57h1v1h-1zM36 57h3v1h-3zM22 58h1v1h-1zM27 58h5v1h-5zM35 58h3v1h-3zM10 59h2v1h-2zM23 59h2v1h-2zM26 59h1v1h-1zM31 59h5v1h-5zM41 59h1v1h-1zM7 60h1v1h-1zM32 60h3v1h-3zM41 60h1v1h-1zM13 61h1v1h-1zM33 61h1v1h-1zM42 61h1v1h-1zM42 62h1v1h-1zM32 63h1v1h-1zM42 63h4v1h-4zM42 64h2v1h-2zM46 64h1v1h-1zM42 65h1v1h-1zM46 65h1v1h-1zM5 66h1v1h-1zM41 66h1v1h-1zM40 67h1v1h-1zM40 68h1v1h-1zM29 69h1v1h-1zM40 69h1v1h-1zM28 70h1v1h-1zM41 71h1v1h-1zM42 72h1v1h-1zM46 72h1v1h-1zM26 73h1v1h-1zM43 73h2v1h-2zM26 74h1v1h-1zM27 75h1v1h-1zM28 76h1v1h-1zM30 77h3v1h-3zM34 78h2v1h-2zM37 79h1v1h-1zM38 80h1v1h-1zM38 81h1v1h-1zM39 83h1v1h-1zM39 84h1v1h-1zM40 87h1v1h-1zM40 88h1v1h-1zM40 89h1v1h-1zM39 90h1v1h-1zM39 91h1v1h-1zM39 92h1v1h-1zM39 93h1v1h-1z"/><path fill="#8bd646" d="M39 3h2v1h-2zM39 6h1v1h-1zM39 7h1v1h-1zM40 9h1v1h-1zM44 9h1v1h-1zM40 10h1v1h-1zM44 10h1v1h-1zM26 11h2v1h-2zM38 11h7v1h-7zM25 12h1v1h-1zM28 12h2v1h-2zM34 12h6v1h-6zM24 13h1v1h-1zM28 13h2v1h-2zM34 13h4v1h-4zM24 14h1v1h-1zM27 14h2v1h-2zM24 15h3v1h-3zM47 16h1v1h-1zM34 23h1v1h-1zM22 24h2v1h-2zM30 24h6v1h-6zM46 24h1v1h-1zM21 25h1v1h-1zM28 25h7v1h-7zM44 25h1v1h-1zM20 26h1v1h-1zM31 26h3v1h-3zM44 26h1v1h-1zM19 27h1v1h-1zM31 27h3v1h-3zM44 27h1v1h-1zM31 28h2v1h-2zM44 28h2v1h-2zM31 29h1v1h-1zM44 29h2v1h-2zM30 30h2v1h-2zM44 30h2v1h-2zM30 32h1v1h-1zM18 33h1v1h-1zM29 33h3v1h-3zM29 34h4v1h-4zM43 34h1v1h-1zM28 35h15v1h-15zM29 36h1v1h-1zM19 37h1v1h-1zM19 38h1v1h-1zM20 40h1v1h-1zM21 43h1v1h-1zM34 48h2v1h-2zM21 49h1v1h-1zM29 49h1v1h-1zM37 49h1v1h-1zM38 50h1v1h-1zM38 51h1v1h-1zM39 52h1v1h-1zM29 53h1v1h-1zM39 53h1v1h-1zM29 54h1v1h-1zM39 54h2v1h-2zM21 55h1v1h-1zM39 55h3v1h-3zM39 56h3v1h-3zM22 57h1v1h-1zM28 57h3v1h-3zM39 57h4v1h-4zM23 58h1v1h-1zM38 58h5v1h-5zM25 59h1v1h-1zM36 59h5v1h-5zM42 59h2v1h-2zM12 60h1v1h-1zM35 60h6v1h-6zM42 60h2v1h-2zM34 61h8v1h-8zM43 61h2v1h-2zM5 62h1v1h-1zM33 62h1v1h-1zM39 62h3v1h-3zM43 62h2v1h-2zM14 63h1v1h-1zM40 63h2v1h-2zM46 63h1v1h-1zM32 64h1v1h-1zM40 64h2v1h-2zM40 65h2v1h-2zM31 66h1v1h-1zM40 66h1v1h-1zM6 68h1v1h-1zM14 68h1v1h-1zM30 68h1v1h-1zM8 69h1v1h-1zM13 69h1v1h-1zM40 70h1v1h-1zM27 72h1v1h-1zM42 73h1v1h-1zM45 73h1v1h-1zM27 74h1v1h-1zM29 76h2v1h-2zM33 77h2v1h-2zM36 78h1v1h-1zM38 79h1v1h-1zM39 81h1v1h-1zM39 82h1v1h-1zM40 85h1v1h-1zM40 86h1v1h-1z"/><path fill="#90d743" d="M39 5h1v1h-1zM40 8h1v1h-1zM41 10h2v1h-2zM26 12h2v1h-2zM25 13h3v1h-3zM25 14h2v1h-2zM22 25h1v1h-1zM24 25h4v1h-4zM28 26h3v1h-3zM29 27h2v1h-2zM29 28h2v1h-2zM18 29h1v1h-1zM29 29h2v1h-2zM30 31h1v1h-1zM45 31h1v1h-1zM18 32h1v1h-1zM29 32h1v1h-1zM45 32h1v1h-1zM28 33h1v1h-1zM45 33h1v1h-1zM27 34h2v1h-2zM44 34h1v1h-1zM19 35h1v1h-1zM26 35h2v1h-2zM43 35h1v1h-1zM19 36h1v1h-1zM26 36h3v1h-3zM30 36h4v1h-4zM27 37h5v1h-5zM20 39h1v1h-1zM21 42h1v1h-1zM44 45h1v1h-1zM44 46h1v1h-1zM30 47h4v1h-4zM44 47h1v1h-1zM29 48h1v1h-1zM36 48h2v1h-2zM44 48h1v1h-1zM38 49h1v1h-1zM44 49h1v1h-1zM21 50h1v1h-1zM39 50h1v1h-1zM44 50h1v1h-1zM21 51h1v1h-1zM39 51h2v1h-2zM40 52h1v1h-1zM40 53h2v1h-2zM21 54h1v1h-1zM41 54h1v1h-1zM29 55h1v1h-1zM42 55h1v1h-1zM22 56h1v1h-1zM29 56h1v1h-1zM42 56h1v1h-1zM23 57h1v1h-1zM27 57h1v1h-1zM43 57h1v1h-1zM24 58h3v1h-3zM43 58h1v1h-1zM8 60h1v1h-1zM44 60h1v1h-1zM6 61h1v1h-1zM45 61h1v1h-1zM13 62h1v1h-1zM34 62h5v1h-5zM45 62h2v1h-2zM5 63h1v1h-1zM33 63h1v1h-1zM38 63h2v1h-2zM14 64h1v1h-1zM39 64h1v1h-1zM5 65h1v1h-1zM39 65h1v1h-1zM14 67h1v1h-1zM31 67h1v1h-1zM39 67h1v1h-1zM39 68h1v1h-1zM9 69h1v1h-1zM28 71h1v1h-1zM41 72h1v1h-1zM27 73h1v1h-1zM46 73h1v1h-1zM43 74h1v1h-1zM28 75h2v1h-2zM31 76h3v1h-3zM35 77h1v1h-1zM37 78h1v1h-1zM39 80h1v1h-1zM40 83h1v1h-1zM40 84h1v1h-1zM41 87h1v1h-1zM41 88h1v1h-1zM41 89h1v1h-1zM40 90h1v1h-1zM40 91h1v1h-1zM40 92h1v1h-1zM40 93h1v1h-1z"/><path fill="#95d840" d="M43 5h1v1h-1zM40 7h1v1h-1zM41 9h1v1h-1zM23 25h1v1h-1zM46 25h1v1h-1zM21 26h1v1h-1zM26 26h2v1h-2zM27 27h2v1h-2zM19 28h1v1h-1zM28 28h1v1h-1zM28 29h1v1h-1zM18 30h1v1h-1zM29 30h1v1h-1zM18 31h1v1h-1zM29 31h1v1h-1zM28 32h1v1h-1zM19 33h1v1h-1zM27 33h1v1h-1zM19 34h1v1h-1zM26 34h1v1h-1zM45 34h1v1h-1zM25 35h1v1h-1zM44 35h2v1h-2zM20 36h1v1h-1zM25 36h1v1h-1zM34 36h12v1h-12zM20 37h1v1h-1zM26 37h1v1h-1zM32 37h2v1h-2zM20 38h1v1h-1zM27 38h5v1h-5zM28 39h2v1h-2zM21 41h1v1h-1zM44 43h1v1h-1zM44 44h1v1h-1zM31 46h4v1h-4zM34 47h3v1h-3zM43 47h1v1h-1zM38 48h1v1h-1zM43 48h1v1h-1zM39 49h2v1h-2zM43 49h1v1h-1zM45 49h1v1h-1zM40 50h4v1h-4zM45 50h1v1h-1zM28 51h1v1h-1zM41 51h1v1h-1zM43 51h3v1h-3zM21 52h1v1h-1zM28 52h1v1h-1zM41 52h1v1h-1zM44 52h2v1h-2zM21 53h1v1h-1zM28 53h1v1h-1zM42 53h1v1h-1zM44 53h1v1h-1zM28 54h1v1h-1zM42 54h1v1h-1zM22 55h1v1h-1zM28 55h1v1h-1zM23 56h1v1h-1zM27 56h2v1h-2zM43 56h1v1h-1zM24 57h3v1h-3zM44 58h1v1h-1zM44 59h1v1h-1zM9 60h1v1h-1zM11 60h1v1h-1zM45 60h1v1h-1zM12 61h1v1h-1zM46 61h1v1h-1zM34 63h4v1h-4zM5 64h1v1h-1zM33 64h1v1h-1zM38 64h1v1h-1zM14 65h1v1h-1zM32 65h1v1h-1zM38 65h1v1h-1zM14 66h1v1h-1zM39 66h1v1h-1zM10 69h3v1h-3zM30 69h1v1h-1zM39 69h1v1h-1zM29 70h1v1h-1zM40 71h1v1h-1zM28 72h1v1h-1zM28 73h1v1h-1zM41 73h1v1h-1zM28 74h1v1h-1zM42 74h1v1h-1zM44 74h1v1h-1zM30 75h2v1h-2zM34 76h1v1h-1zM36 77h2v1h-2zM38 78h1v1h-1zM39 79h1v1h-1zM40 81h1v1h-1zM40 82h1v1h-1zM41 85h1v1h-1zM41 86h1v1h-1zM41 90h1v1h-1z"/><path fill="#9bd93c" d="M39 4h1v1h-1zM42 4h1v1h-1zM40 6h1v1h-1zM41 8h1v1h-1zM42 9h1v1h-1zM43 10h1v1h-1zM22 26h1v1h-1zM24 26h2v1h-2zM20 27h1v1h-1zM26 27h1v1h-1zM27 28h1v1h-1zM28 30h1v1h-1zM19 32h1v1h-1zM27 32h1v1h-1zM26 33h1v1h-1zM25 34h1v1h-1zM20 35h1v1h-1zM25 37h1v1h-1zM34 37h2v1h-2zM38 37h8v1h-8zM21 38h1v1h-1zM26 38h1v1h-1zM32 38h2v1h-2zM45 38h1v1h-1zM21 39h1v1h-1zM27 39h1v1h-1zM30 39h3v1h-3zM45 39h1v1h-1zM21 40h1v1h-1zM28 40h3v1h-3zM44 40h2v1h-2zM44 41h2v1h-2zM44 42h2v1h-2zM45 43h1v1h-1zM43 44h1v1h-1zM45 44h1v1h-1zM31 45h3v1h-3zM43 45h1v1h-1zM45 45h1v1h-1zM30 46h1v1h-1zM35 46h2v1h-2zM42 46h2v1h-2zM45 46h1v1h-1zM29 47h1v1h-1zM37 47h2v1h-2zM41 47h2v1h-2zM45 47h1v1h-1zM39 48h4v1h-4zM45 48h1v1h-1zM41 49h2v1h-2zM28 50h1v1h-1zM42 51h1v1h-1zM42 52h2v1h-2zM43 53h1v1h-1zM45 53h1v1h-1zM22 54h1v1h-1zM43 54h3v1h-3zM23 55h1v1h-1zM43 55h3v1h-3zM24 56h1v1h-1zM26 56h1v1h-1zM44 56h2v1h-2zM44 57h2v1h-2zM45 58h1v1h-1zM45 59h1v1h-1zM10 60h1v1h-1zM46 60h1v1h-1zM7 61h1v1h-1zM6 62h1v1h-1zM13 63h1v1h-1zM34 64h4v1h-4zM37 65h1v1h-1zM32 66h1v1h-1zM38 66h1v1h-1zM6 67h1v1h-1zM38 67h1v1h-1zM31 68h1v1h-1zM38 68h1v1h-1zM39 70h1v1h-1zM29 71h1v1h-1zM40 72h1v1h-1zM29 73h1v1h-1zM29 74h2v1h-2zM41 74h1v1h-1zM45 74h1v1h-1zM32 75h3v1h-3zM42 75h2v1h-2zM35 76h2v1h-2zM38 77h1v1h-1zM39 78h1v1h-1zM40 79h1v1h-1zM40 80h1v1h-1zM41 83h1v1h-1zM41 84h1v1h-1zM42 88h1v1h-1zM42 89h1v1h-1zM42 90h1v1h-1zM41 91h1v1h-1zM41 92h1v1h-1zM41 93h1v1h-1z"/><path fill="#a0da39" d="M43 6h1v1h-1zM41 7h1v1h-1zM47 17h1v1h-1zM23 26h1v1h-1zM46 26h1v1h-1zM25 27h1v1h-1zM26 28h1v1h-1zM19 29h1v1h-1zM27 29h1v1h-1zM19 30h1v1h-1zM19 31h1v1h-1zM28 31h1v1h-1zM25 33h1v1h-1zM20 34h1v1h-1zM24 34h1v1h-1zM24 35h1v1h-1zM21 36h1v1h-1zM24 36h1v1h-1zM21 37h1v1h-1zM24 37h1v1h-1zM36 37h2v1h-2zM25 38h1v1h-1zM34 38h1v1h-1zM40 38h5v1h-5zM26 39h1v1h-1zM33 39h1v1h-1zM43 39h2v1h-2zM27 40h1v1h-1zM31 40h2v1h-2zM28 41h4v1h-4zM22 42h1v1h-1zM29 42h3v1h-3zM43 42h1v1h-1zM22 43h1v1h-1zM30 43h2v1h-2zM43 43h1v1h-1zM22 44h1v1h-1zM30 44h4v1h-4zM42 44h1v1h-1zM22 45h1v1h-1zM30 45h1v1h-1zM34 45h2v1h-2zM41 45h2v1h-2zM22 46h1v1h-1zM29 46h1v1h-1zM37 46h1v1h-1zM40 46h2v1h-2zM22 47h1v1h-1zM39 47h2v1h-2zM22 48h1v1h-1zM22 49h1v1h-1zM28 49h1v1h-1zM22 53h1v1h-1zM27 54h1v1h-1zM24 55h1v1h-1zM27 55h1v1h-1zM25 56h1v1h-1zM46 59h1v1h-1zM8 61h1v1h-1zM12 62h1v1h-1zM13 64h1v1h-1zM33 65h4v1h-4zM37 66h1v1h-1zM32 67h1v1h-1zM37 67h1v1h-1zM7 68h1v1h-1zM13 68h1v1h-1zM38 69h1v1h-1zM30 70h1v1h-1zM39 71h1v1h-1zM29 72h1v1h-1zM39 72h1v1h-1zM30 73h1v1h-1zM40 73h1v1h-1zM31 74h3v1h-3zM40 74h1v1h-1zM46 74h1v1h-1zM35 75h1v1h-1zM41 75h1v1h-1zM44 75h2v1h-2zM37 76h1v1h-1zM42 76h3v1h-3zM39 77h2v1h-2zM40 78h1v1h-1zM41 79h1v1h-1zM41 80h1v1h-1zM41 81h1v1h-1zM41 82h1v1h-1zM42 87h1v1h-1zM42 91h1v1h-1z"/><path fill="#a5db36" d="M41 4h1v1h-1zM40 5h1v1h-1zM43 7h1v1h-1zM42 8h1v1h-1zM43 9h1v1h-1zM21 27h1v1h-1zM46 27h1v1h-1zM20 28h1v1h-1zM27 30h1v1h-1zM27 31h1v1h-1zM25 32h2v1h-2zM20 33h1v1h-1zM24 33h1v1h-1zM21 35h1v1h-1zM23 36h1v1h-1zM22 37h2v1h-2zM22 38h3v1h-3zM35 38h5v1h-5zM22 39h4v1h-4zM34 39h1v1h-1zM41 39h2v1h-2zM22 40h1v1h-1zM26 40h1v1h-1zM33 40h1v1h-1zM42 40h2v1h-2zM22 41h1v1h-1zM27 41h1v1h-1zM32 41h1v1h-1zM42 41h2v1h-2zM28 42h1v1h-1zM32 42h1v1h-1zM42 42h1v1h-1zM29 43h1v1h-1zM32 43h2v1h-2zM42 43h1v1h-1zM29 44h1v1h-1zM34 44h1v1h-1zM41 44h1v1h-1zM29 45h1v1h-1zM36 45h1v1h-1zM40 45h1v1h-1zM38 46h2v1h-2zM28 48h1v1h-1zM22 50h1v1h-1zM22 51h1v1h-1zM22 52h1v1h-1zM27 52h1v1h-1zM27 53h1v1h-1zM23 54h1v1h-1zM25 55h2v1h-2zM46 57h1v1h-1zM46 58h1v1h-1zM11 61h1v1h-1zM6 63h1v1h-1zM6 66h1v1h-1zM33 66h4v1h-4zM13 67h1v1h-1zM32 68h1v1h-1zM37 68h1v1h-1zM31 69h1v1h-1zM38 70h1v1h-1zM30 71h1v1h-1zM38 71h1v1h-1zM30 72h1v1h-1zM31 73h2v1h-2zM39 73h1v1h-1zM34 74h1v1h-1zM36 75h1v1h-1zM40 75h1v1h-1zM46 75h1v1h-1zM38 76h4v1h-4zM45 76h1v1h-1zM41 77h4v1h-4zM41 78h3v1h-3zM42 79h1v1h-1zM42 80h1v1h-1zM42 81h1v1h-1zM42 82h1v1h-1zM42 83h1v1h-1zM42 84h1v1h-1zM42 85h1v1h-1zM42 86h1v1h-1zM42 92h1v1h-1z"/><path fill="#aadc32" d="M40 4h1v1h-1zM42 5h1v1h-1zM41 6h1v1h-1zM42 7h1v1h-1zM43 8h1v1h-1zM22 27h1v1h-1zM24 27h1v1h-1zM25 28h1v1h-1zM46 28h1v1h-1zM20 29h1v1h-1zM26 29h1v1h-1zM20 31h1v1h-1zM26 31h1v1h-1zM20 32h1v1h-1zM21 34h1v1h-1zM23 35h1v1h-1zM22 36h1v1h-1zM35 39h6v1h-6zM23 40h3v1h-3zM34 40h1v1h-1zM40 40h2v1h-2zM24 41h3v1h-3zM33 41h2v1h-2zM41 41h1v1h-1zM26 42h2v1h-2zM33 42h1v1h-1zM41 42h1v1h-1zM27 43h2v1h-2zM34 43h1v1h-1zM40 43h2v1h-2zM28 44h1v1h-1zM35 44h2v1h-2zM39 44h2v1h-2zM37 45h3v1h-3zM28 47h1v1h-1zM27 50h1v1h-1zM27 51h1v1h-1zM23 53h1v1h-1zM24 54h3v1h-3zM46 55h1v1h-1zM46 56h1v1h-1zM9 61h2v1h-2zM7 62h1v1h-1zM12 63h1v1h-1zM13 65h1v1h-1zM13 66h1v1h-1zM33 67h1v1h-1zM35 67h2v1h-2zM8 68h1v1h-1zM12 68h1v1h-1zM36 68h1v1h-1zM32 69h1v1h-1zM37 69h1v1h-1zM31 70h1v1h-1zM37 70h1v1h-1zM31 71h1v1h-1zM31 72h2v1h-2zM38 72h1v1h-1zM33 73h2v1h-2zM35 74h1v1h-1zM39 74h1v1h-1zM37 75h3v1h-3zM44 78h1v1h-1zM43 79h1v1h-1zM43 80h1v1h-1zM43 88h1v1h-1zM43 89h1v1h-1zM43 90h1v1h-1zM43 91h1v1h-1z"/><path fill="#b0dd2f" d="M41 5h1v1h-1zM42 6h1v1h-1zM23 27h1v1h-1zM21 28h1v1h-1zM46 29h1v1h-1zM20 30h1v1h-1zM26 30h1v1h-1zM25 31h1v1h-1zM24 32h1v1h-1zM21 33h1v1h-1zM23 33h1v1h-1zM22 34h2v1h-2zM22 35h1v1h-1zM35 40h5v1h-5zM23 41h1v1h-1zM35 41h1v1h-1zM39 41h2v1h-2zM25 42h1v1h-1zM34 42h2v1h-2zM39 42h2v1h-2zM26 43h1v1h-1zM35 43h5v1h-5zM27 44h1v1h-1zM37 44h2v1h-2zM28 45h1v1h-1zM28 46h1v1h-1zM27 49h1v1h-1zM23 52h1v1h-1zM24 53h3v1h-3zM46 54h1v1h-1zM8 62h1v1h-1zM11 62h1v1h-1zM6 64h1v1h-1zM6 65h1v1h-1zM34 67h1v1h-1zM9 68h1v1h-1zM11 68h1v1h-1zM33 68h3v1h-3zM36 69h1v1h-1zM32 70h1v1h-1zM32 71h2v1h-2zM37 71h1v1h-1zM33 72h1v1h-1zM37 72h1v1h-1zM38 73h1v1h-1zM36 74h3v1h-3zM46 76h1v1h-1zM45 77h1v1h-1zM44 79h1v1h-1zM43 81h1v1h-1zM43 82h1v1h-1zM43 83h1v1h-1zM43 84h1v1h-1zM43 85h1v1h-1zM43 86h1v1h-1zM43 87h1v1h-1zM43 92h1v1h-1z"/><path fill="#b5de2b" d="M47 18h1v1h-1zM22 28h1v1h-1zM24 28h1v1h-1zM21 29h1v1h-1zM25 29h1v1h-1zM21 30h1v1h-1zM46 30h1v1h-1zM21 31h1v1h-1zM24 31h1v1h-1zM21 32h1v1h-1zM23 32h1v1h-1zM22 33h1v1h-1zM36 41h3v1h-3zM23 42h2v1h-2zM36 42h3v1h-3zM25 43h1v1h-1zM27 45h1v1h-1zM27 48h1v1h-1zM23 49h1v1h-1zM23 50h1v1h-1zM23 51h1v1h-1zM46 51h1v1h-1zM24 52h3v1h-3zM46 52h1v1h-1zM46 53h1v1h-1zM7 63h1v1h-1zM12 64h1v1h-1zM7 67h1v1h-1zM10 68h1v1h-1zM33 69h3v1h-3zM33 70h1v1h-1zM35 70h2v1h-2zM36 71h1v1h-1zM34 72h1v1h-1zM35 73h3v1h-3zM46 77h1v1h-1zM45 78h1v1h-1zM44 80h1v1h-1zM44 81h1v1h-1zM44 90h1v1h-1zM44 91h1v1h-1z"/><path fill="#bade28" d="M23 28h1v1h-1zM24 29h1v1h-1zM24 30h2v1h-2zM22 31h2v1h-2zM46 31h1v1h-1zM22 32h1v1h-1zM46 32h1v1h-1zM23 43h2v1h-2zM23 44h1v1h-1zM26 44h1v1h-1zM23 45h1v1h-1zM23 46h1v1h-1zM27 46h1v1h-1zM23 47h1v1h-1zM27 47h1v1h-1zM23 48h1v1h-1zM46 49h1v1h-1zM26 50h1v1h-1zM46 50h1v1h-1zM24 51h1v1h-1zM26 51h1v1h-1zM9 62h2v1h-2zM11 63h1v1h-1zM12 65h1v1h-1zM12 66h1v1h-1zM12 67h1v1h-1zM34 70h1v1h-1zM34 71h2v1h-2zM35 72h2v1h-2zM46 78h1v1h-1zM45 79h1v1h-1zM45 80h1v1h-1zM44 82h1v1h-1zM44 83h1v1h-1zM44 84h1v1h-1zM44 85h1v1h-1zM44 86h1v1h-1zM44 87h1v1h-1zM44 88h1v1h-1zM44 89h1v1h-1zM44 92h1v1h-1z"/><path fill="#c0df25" d="M22 29h2v1h-2zM22 30h2v1h-2zM46 33h1v1h-1zM46 34h1v1h-1zM46 35h1v1h-1zM46 36h1v1h-1zM24 44h2v1h-2zM46 44h1v1h-1zM26 45h1v1h-1zM46 45h1v1h-1zM46 46h1v1h-1zM46 47h1v1h-1zM46 48h1v1h-1zM26 49h1v1h-1zM24 50h1v1h-1zM25 51h1v1h-1zM8 63h1v1h-1zM7 64h1v1h-1zM11 64h1v1h-1zM7 66h1v1h-1zM8 67h1v1h-1zM46 79h1v1h-1zM46 80h1v1h-1zM45 81h1v1h-1zM45 82h1v1h-1zM45 83h1v1h-1zM45 84h1v1h-1zM45 85h1v1h-1zM45 86h1v1h-1zM45 87h1v1h-1zM45 88h1v1h-1zM45 89h1v1h-1zM45 90h1v1h-1z"/><path fill="#c5e021" d="M47 19h1v1h-1zM46 37h1v1h-1zM46 38h1v1h-1zM46 39h1v1h-1zM46 40h1v1h-1zM46 41h1v1h-1zM46 42h1v1h-1zM46 43h1v1h-1zM24 45h2v1h-2zM26 46h1v1h-1zM26 48h1v1h-1zM24 49h1v1h-1zM25 50h1v1h-1zM9 63h2v1h-2zM7 65h1v1h-1zM11 67h1v1h-1zM46 81h1v1h-1zM46 82h1v1h-1zM45 91h1v1h-1zM45 92h1v1h-1z"/><path fill="#cae11f" d="M24 46h2v1h-2zM24 47h3v1h-3zM24 48h2v1h-2zM25 49h1v1h-1zM8 64h1v1h-1zM10 64h1v1h-1zM11 65h1v1h-1zM11 66h1v1h-1zM9 67h2v1h-2zM46 83h1v1h-1zM46 84h1v1h-1zM46 85h1v1h-1zM46 86h1v1h-1z"/><path fill="#d0e11c" d="M9 64h1v1h-1zM8 65h1v1h-1zM8 66h1v1h-1z"/><path fill="#d5e21a" d="M47 20h1v1h-1zM9 65h2v1h-2zM9 66h2v1h-2z"/><path fill="#e5e419" d="M47 21h1v1h-1z"/><path fill="#f4e61e" d="M47 22h1v1h-1z"/><path fill="#fde725" d="M47 23h1v1h-1zM47 24h1v1h-1zM47 25h1v1h-1zM47 26h1v1h-1zM47 27h1v1h-1zM47 28h1v1h-1zM47 29h1v1h-1zM47 30h1v1h-1z"/></g>
<use href="#pp" x="757.20" y="0.00"/>
<rect class="s" x="837.5" y="78.5" width="279.0" height="547.0"/><path class="k" d="M842.5 625.5v4.86M908.5 625.5v4.86M973.5 625.5v4.86M1039.5 625.5v4.86M1104.5 625.5v4.86M837.5 620.5h-4.86M837.5 555.5h-4.86M837.5 489.5h-4.86M837.5 424.5h-4.86M837.5 358.5h-4.86M837.5 293.5h-4.86M837.5 227.5h-4.86M837.5 162.5h-4.86M837.5 96.5h-4.86"/><text class="h" text-anchor="middle" x="977.0" y="70.2">diffim_value[nJy]</text>
<rect x="1132.5" y="130.5" width="22.0" height="444.0" fill="url(#vg)" class="k"/><text class="t" x="1163.6" y="561.5">−4</text><text class="t" x="1163.6" y="475.5">−3</text><text class="t" x="1163.6" y="388.5">−2</text><text class="t" x="1163.6" y="302.5">−1</text><text class="t" x="1163.6" y="216.5">0</text><path class="k" d="M1154.5 556.5h4.86M1154.5 470.5h4.86M1154.5 383.5h4.86M1154.5 297.5h4.86M1154.5 211.5h4.86"/>
<g transform="translate(1221.20,89.50) scale(5.5780,5.4640)" shape-rendering="crispEdges"><path fill="#440256" d="M29 25h2v1h-2z"/><path fill="#450559" d="M29 24h1v1h-1zM29 26h2v1h-2z"/><path fill="#46085c" d="M30 24h1v1h-1z"/><path fill="#460b5e" d="M28 25h1v1h-1zM28 26h1v1h-1z"/><path fill="#470e61" d="M29 23h1v1h-1zM28 24h1v1h-1zM31 25h1v1h-1zM29 27h1v1h-1z"/><path fill="#471164" d="M30 23h1v1h-1zM30 27h1v1h-1z"/><path fill="#481467" d="M31 24h1v1h-1zM31 26h1v1h-1zM28 27h1v1h-1z"/><path fill="#481769" d="M35 4h2v1h-2zM22 11h1v1h-1zM21 12h1v1h-1zM28 23h1v1h-1zM27 25h1v1h-1zM27 26h1v1h-1z"/><path fill="#481a6c" d="M37 4h1v1h-1zM35 5h3v1h-3zM35 6h1v1h-1zM35 7h1v1h-1zM23 10h1v1h-1zM21 11h1v1h-1zM21 13h1v1h-1zM29 28h1v1h-1z"/><path fill="#481c6e" d="M34 3h3v1h-3zM34 4h1v1h-1zM38 5h1v1h-1zM36 6h1v1h-1zM34 7h1v1h-1zM34 8h2v1h-2zM22 10h1v1h-1zM22 12h1v1h-1zM20 13h1v1h-1zM29 22h1v1h-1zM27 24h1v1h-1zM8 75h1v1h-1zM8 76h1v1h-1z"/><path fill="#481f70" d="M38 4h1v1h-1zM34 5h1v1h-1zM34 6h1v1h-1zM37 6h1v1h-1zM36 7h1v1h-1zM34 9h1v1h-1zM23 11h1v1h-1zM31 23h1v1h-1zM27 27h1v1h-1zM31 27h1v1h-1zM28 28h1v1h-1zM30 28h1v1h-1zM7 75h1v1h-1zM9 75h1v1h-1zM9 76h1v1h-1z"/><path fill="#482173" d="M37 3h1v1h-1zM33 4h1v1h-1zM39 5h1v1h-1zM38 6h1v1h-1zM33 7h1v1h-1zM33 8h1v1h-1zM33 9h1v1h-1zM35 9h1v1h-1zM20 12h1v1h-1zM28 22h1v1h-1zM30 22h1v1h-1zM27 23h1v1h-1zM15 37h1v1h-1zM7 74h2v1h-2zM7 76h1v1h-1z"/><path fill="#482475" d="M34 2h2v1h-2zM33 3h1v1h-1zM39 4h1v1h-1zM33 5h1v1h-1zM33 6h1v1h-1zM36 8h1v1h-1zM20 14h2v1h-2zM26 25h1v1h-1zM26 26h1v1h-1zM3 30h1v1h-1zM14 36h3v1h-3zM14 37h1v1h-1zM16 37h2v1h-2zM14 38h3v1h-3zM9 74h1v1h-1zM8 77h2v1h-2z"/><path fill="#482677" d="M33 2h1v1h-1zM36 2h1v1h-1zM38 3h1v1h-1zM40 5h1v1h-1zM39 6h1v1h-1zM37 7h1v1h-1zM32 8h1v1h-1zM24 9h1v1h-1zM32 9h1v1h-1zM24 10h1v1h-1zM33 10h2v1h-2zM22 13h1v1h-1zM3 26h1v1h-1zM4 27h1v1h-1zM3 28h2v1h-2zM3 29h1v1h-1zM3 31h1v1h-1zM3 32h1v1h-1zM3 33h1v1h-1zM14 35h3v1h-3zM13 36h1v1h-1zM17 36h1v1h-1zM13 37h1v1h-1zM18 37h1v1h-1zM13 38h1v1h-1zM17 38h2v1h-2zM13 39h4v1h-4zM6 74h1v1h-1zM6 75h1v1h-1zM10 75h1v1h-1zM10 76h1v1h-1z"/><path fill="#482979" d="M37 2h3v1h-3zM39 3h1v1h-1zM32 4h1v1h-1zM40 4h1v1h-1zM32 5h1v1h-1zM32 7h1v1h-1zM38 7h1v1h-1zM23 9h1v1h-1zM21 10h1v1h-1zM27 22h1v1h-1zM26 24h1v1h-1zM32 24h1v1h-1zM3 25h1v1h-1zM32 25h1v1h-1zM4 26h1v1h-1zM3 27h1v1h-1zM26 27h1v1h-1zM27 28h1v1h-1zM4 29h1v1h-1zM29 29h1v1h-1zM4 30h1v1h-1zM3 34h1v1h-1zM3 35h1v1h-1zM13 35h1v1h-1zM17 35h1v1h-1zM12 36h1v1h-1zM18 36h2v1h-2zM12 37h1v1h-1zM19 37h1v1h-1zM26 37h3v1h-3zM12 38h1v1h-1zM19 38h1v1h-1zM25 38h4v1h-4zM12 39h1v1h-1zM17 39h1v1h-1zM26 39h2v1h-2zM13 40h3v1h-3zM26 40h2v1h-2zM6 73h3v1h-3zM7 77h1v1h-1z"/><path fill="#472c7a" d="M34 1h6v1h-6zM40 2h1v1h-1zM32 3h1v1h-1zM40 3h1v1h-1zM32 6h1v1h-1zM40 6h1v1h-1zM39 7h1v1h-1zM32 10h1v1h-1zM35 10h1v1h-1zM20 11h1v1h-1zM23 12h1v1h-1zM29 21h1v1h-1zM26 23h1v1h-1zM32 26h1v1h-1zM31 28h1v1h-1zM30 29h1v1h-1zM4 31h1v1h-1zM14 34h3v1h-3zM12 35h1v1h-1zM18 35h1v1h-1zM3 36h1v1h-1zM20 36h1v1h-1zM27 36h2v1h-2zM20 37h1v1h-1zM24 37h2v1h-2zM29 37h1v1h-1zM20 38h2v1h-2zM24 38h1v1h-1zM29 38h1v1h-1zM18 39h2v1h-2zM24 39h2v1h-2zM28 39h2v1h-2zM12 40h1v1h-1zM16 40h1v1h-1zM25 40h1v1h-1zM28 40h1v1h-1zM12 41h3v1h-3zM26 41h2v1h-2zM10 74h1v1h-1zM6 76h1v1h-1zM10 77h1v1h-1z"/><path fill="#472e7c" d="M33 0h1v1h-1zM33 1h1v1h-1zM40 1h1v1h-1zM32 2h1v1h-1zM41 2h1v1h-1zM41 3h1v1h-1zM41 4h1v1h-1zM41 5h1v1h-1zM31 8h1v1h-1zM37 8h1v1h-1zM31 9h1v1h-1zM36 9h1v1h-1zM28 21h1v1h-1zM28 29h1v1h-1zM4 32h1v1h-1zM13 34h1v1h-1zM17 34h1v1h-1zM19 35h1v1h-1zM11 36h1v1h-1zM24 36h3v1h-3zM3 37h1v1h-1zM11 37h1v1h-1zM21 37h3v1h-3zM11 38h1v1h-1zM22 38h2v1h-2zM11 39h1v1h-1zM20 39h4v1h-4zM11 40h1v1h-1zM17 40h1v1h-1zM24 40h1v1h-1zM29 40h1v1h-1zM15 41h1v1h-1zM25 41h1v1h-1zM28 41h1v1h-1zM12 42h2v1h-2zM26 42h3v1h-3zM9 73h1v1h-1zM11 75h1v1h-1zM11 76h1v1h-1z"/><path fill="#46307e" d="M32 0h1v1h-1zM32 1h1v1h-1zM41 1h2v1h-2zM42 2h1v1h-1zM42 3h1v1h-1zM31 4h1v1h-1zM42 4h1v1h-1zM31 5h1v1h-1zM31 7h1v1h-1zM24 11h1v1h-1zM33 11h1v1h-1zM22 14h1v1h-1zM21 15h1v1h-1zM27 21h1v1h-1zM26 22h1v1h-1zM31 22h1v1h-1zM3 24h1v1h-1zM14 33h2v1h-2zM12 34h1v1h-1zM18 34h1v1h-1zM11 35h1v1h-1zM26 35h2v1h-2zM21 36h1v1h-1zM23 36h1v1h-1zM29 36h1v1h-1zM18 40h2v1h-2zM23 40h1v1h-1zM11 41h1v1h-1zM16 41h1v1h-1zM24 41h1v1h-1zM29 41h1v1h-1zM14 42h1v1h-1zM25 42h1v1h-1zM12 43h2v1h-2zM26 43h3v1h-3zM10 44h1v1h-1zM9 45h3v1h-3zM10 46h1v1h-1zM6 72h2v1h-2zM5 73h1v1h-1zM5 74h1v1h-1zM6 77h1v1h-1zM8 78h1v1h-1z"/><path fill="#46337f" d="M43 1h1v1h-1zM43 2h1v1h-1zM31 3h1v1h-1zM43 3h1v1h-1zM42 5h1v1h-1zM46 5h1v1h-1zM31 6h1v1h-1zM41 6h1v1h-1zM46 6h1v1h-1zM40 7h1v1h-1zM46 7h1v1h-1zM38 8h1v1h-1zM25 9h1v1h-1zM31 10h1v1h-1zM32 11h1v1h-1zM34 11h1v1h-1zM20 15h1v1h-1zM30 21h1v1h-1zM25 24h1v1h-1zM4 25h1v1h-1zM25 25h1v1h-1zM25 26h1v1h-1zM26 28h1v1h-1zM27 29h1v1h-1zM5 30h1v1h-1zM5 31h1v1h-1zM4 33h1v1h-1zM13 33h1v1h-1zM16 33h1v1h-1zM11 34h1v1h-1zM20 35h1v1h-1zM24 35h2v1h-2zM28 35h1v1h-1zM10 36h1v1h-1zM22 36h1v1h-1zM10 37h1v1h-1zM3 38h1v1h-1zM10 38h1v1h-1zM30 38h1v1h-1zM10 39h1v1h-1zM30 39h1v1h-1zM10 40h1v1h-1zM20 40h3v1h-3zM30 40h1v1h-1zM17 41h1v1h-1zM11 42h1v1h-1zM15 42h1v1h-1zM29 42h1v1h-1zM10 43h2v1h-2zM14 43h1v1h-1zM8 44h2v1h-2zM11 44h2v1h-2zM27 44h2v1h-2zM8 45h1v1h-1zM12 45h1v1h-1zM9 46h1v1h-1zM11 46h1v1h-1zM9 47h2v1h-2zM18 59h1v1h-1zM18 60h1v1h-1zM7 68h2v1h-2zM7 69h2v1h-2zM6 70h3v1h-3zM31 70h1v1h-1zM7 71h1v1h-1zM5 72h1v1h-1zM8 72h1v1h-1zM10 73h1v1h-1zM11 74h1v1h-1zM5 75h1v1h-1zM7 78h1v1h-1zM9 78h1v1h-1z"/><path fill="#453581" d="M31 0h1v1h-1zM28 1h4v1h-4zM44 1h1v1h-1zM31 2h1v1h-1zM44 2h1v1h-1zM44 3h1v1h-1zM43 4h1v1h-1zM46 4h1v1h-1zM45 6h1v1h-1zM45 7h1v1h-1zM25 8h1v1h-1zM30 8h1v1h-1zM39 8h1v1h-1zM45 8h2v1h-2zM19 13h1v1h-1zM19 14h1v1h-1zM26 21h1v1h-1zM25 23h1v1h-1zM32 23h1v1h-1zM5 27h1v1h-1zM25 27h1v1h-1zM32 27h1v1h-1zM5 28h1v1h-1zM5 29h1v1h-1zM5 32h1v1h-1zM12 33h1v1h-1zM17 33h1v1h-1zM19 34h1v1h-1zM26 34h1v1h-1zM10 35h1v1h-1zM23 35h1v1h-1zM30 37h1v1h-1zM10 41h1v1h-1zM18 41h2v1h-2zM23 41h1v1h-1zM30 41h1v1h-1zM9 42h2v1h-2zM16 42h1v1h-1zM24 42h1v1h-1zM8 43h2v1h-2zM25 43h1v1h-1zM29 43h1v1h-1zM13 44h1v1h-1zM26 44h1v1h-1zM27 45h2v1h-2zM8 46h1v1h-1zM12 46h1v1h-1zM11 47h1v1h-1zM22 53h1v1h-1zM21 54h2v1h-2zM20 55h2v1h-2zM19 56h2v1h-2zM17 57h4v1h-4zM17 58h4v1h-4zM3 59h1v1h-1zM16 59h2v1h-2zM19 59h2v1h-2zM41 59h1v1h-1zM3 60h1v1h-1zM16 60h2v1h-2zM19 60h2v1h-2zM3 61h1v1h-1zM17 61h3v1h-3zM17 62h2v1h-2zM7 67h2v1h-2zM6 68h1v1h-1zM9 68h1v1h-1zM6 69h1v1h-1zM9 69h1v1h-1zM31 69h1v1h-1zM9 70h1v1h-1zM6 71h1v1h-1zM8 71h2v1h-2zM9 72h1v1h-1zM11 77h1v1h-1z"/><path fill="#453882" d="M45 1h2v1h-2zM28 2h3v1h-3zM45 2h1v1h-1zM30 3h1v1h-1zM45 3h2v1h-2zM30 4h1v1h-1zM44 4h2v1h-2zM30 5h1v1h-1zM43 5h3v1h-3zM30 6h1v1h-1zM42 6h1v1h-1zM30 7h1v1h-1zM41 7h1v1h-1zM30 9h1v1h-1zM37 9h1v1h-1zM45 9h2v1h-2zM36 10h1v1h-1zM25 22h1v1h-1zM5 26h1v1h-1zM47 29h1v1h-1zM47 30h1v1h-1zM6 31h1v1h-1zM6 32h1v1h-1zM5 33h1v1h-1zM11 33h1v1h-1zM4 34h1v1h-1zM10 34h1v1h-1zM25 34h1v1h-1zM21 35h2v1h-2zM9 36h1v1h-1zM9 37h1v1h-1zM9 38h1v1h-1zM3 39h1v1h-1zM9 39h1v1h-1zM9 40h1v1h-1zM9 41h1v1h-1zM20 41h1v1h-1zM22 41h1v1h-1zM8 42h1v1h-1zM17 42h1v1h-1zM23 42h1v1h-1zM15 43h1v1h-1zM14 44h1v1h-1zM25 44h1v1h-1zM29 44h1v1h-1zM13 45h1v1h-1zM26 45h1v1h-1zM27 46h1v1h-1zM8 47h1v1h-1zM12 47h1v1h-1zM9 48h3v1h-3zM23 53h1v1h-1zM23 54h1v1h-1zM22 55h1v1h-1zM16 56h2v1h-2zM21 56h1v1h-1zM16 57h1v1h-1zM21 57h1v1h-1zM16 58h1v1h-1zM21 58h1v1h-1zM41 58h1v1h-1zM2 59h1v1h-1zM21 59h1v1h-1zM42 59h1v1h-1zM2 60h1v1h-1zM21 60h1v1h-1zM41 60h1v1h-1zM16 61h1v1h-1zM20 61h1v1h-1zM3 62h1v1h-1zM16 62h1v1h-1zM19 62h2v1h-2zM17 63h3v1h-3zM6 67h1v1h-1zM9 67h1v1h-1zM5 68h1v1h-1zM10 68h1v1h-1zM5 69h1v1h-1zM10 69h1v1h-1zM30 69h1v1h-1zM32 69h1v1h-1zM5 70h1v1h-1zM10 70h1v1h-1zM30 70h1v1h-1zM5 71h1v1h-1zM10 71h1v1h-1zM30 71h1v1h-1zM12 75h1v1h-1zM5 76h1v1h-1zM10 78h1v1h-1z"/><path fill="#443a83" d="M27 1h1v1h-1zM47 1h1v1h-1zM27 2h1v1h-1zM46 2h2v1h-2zM29 3h1v1h-1zM47 3h1v1h-1zM47 4h1v1h-1zM43 6h2v1h-2zM44 7h1v1h-1zM40 8h1v1h-1zM22 9h1v1h-1zM45 10h1v1h-1zM35 11h1v1h-1zM23 13h1v1h-1zM22 15h1v1h-1zM27 20h2v1h-2zM47 25h1v1h-1zM47 26h1v1h-1zM47 27h1v1h-1zM47 28h1v1h-1zM31 29h1v1h-1zM28 30h3v1h-3zM7 32h1v1h-1zM14 32h2v1h-2zM9 33h2v1h-2zM18 33h1v1h-1zM26 33h1v1h-1zM9 34h1v1h-1zM20 34h1v1h-1zM24 34h1v1h-1zM27 34h1v1h-1zM4 35h1v1h-1zM9 35h1v1h-1zM29 35h1v1h-1zM30 36h1v1h-1zM2 37h1v1h-1zM2 38h1v1h-1zM2 39h1v1h-1zM3 40h1v1h-1zM8 41h1v1h-1zM18 42h1v1h-1zM30 42h1v1h-1zM7 43h1v1h-1zM16 43h1v1h-1zM24 43h1v1h-1zM7 44h1v1h-1zM7 45h1v1h-1zM29 45h1v1h-1zM7 46h1v1h-1zM13 46h1v1h-1zM26 46h1v1h-1zM28 46h1v1h-1zM8 48h1v1h-1zM12 48h1v1h-1zM10 49h1v1h-1zM23 52h1v1h-1zM21 53h1v1h-1zM24 53h1v1h-1zM20 54h1v1h-1zM24 54h1v1h-1zM16 55h1v1h-1zM19 55h1v1h-1zM23 55h1v1h-1zM15 56h1v1h-1zM18 56h1v1h-1zM22 56h1v1h-1zM2 57h1v1h-1zM15 57h1v1h-1zM22 57h1v1h-1zM2 58h2v1h-2zM15 58h1v1h-1zM22 58h1v1h-1zM15 59h1v1h-1zM22 59h1v1h-1zM40 59h1v1h-1zM15 60h1v1h-1zM22 60h1v1h-1zM42 60h1v1h-1zM2 61h1v1h-1zM21 61h1v1h-1zM2 62h1v1h-1zM4 62h1v1h-1zM21 62h1v1h-1zM3 63h1v1h-1zM16 63h1v1h-1zM20 63h1v1h-1zM17 64h2v1h-2zM5 65h1v1h-1zM5 66h5v1h-5zM5 67h1v1h-1zM10 67h1v1h-1zM4 68h1v1h-1zM31 68h2v1h-2zM4 69h1v1h-1zM11 69h1v1h-1zM4 70h1v1h-1zM11 70h1v1h-1zM32 70h1v1h-1zM4 71h1v1h-1zM31 71h1v1h-1zM4 72h1v1h-1zM10 72h1v1h-1zM11 73h1v1h-1zM12 74h1v1h-1zM12 76h1v1h-1zM6 78h1v1h-1z"/><path fill="#433d84" d="M26 1h1v1h-1zM28 3h1v1h-1zM29 4h1v1h-1zM47 5h1v1h-1zM47 6h1v1h-1zM42 7h2v1h-2zM47 7h1v1h-1zM26 8h1v1h-1zM44 8h1v1h-1zM47 8h1v1h-1zM25 10h1v1h-1zM46 10h1v1h-1zM19 12h1v1h-1zM19 15h1v1h-1zM21 16h1v1h-1zM26 20h1v1h-1zM29 20h1v1h-1zM25 21h1v1h-1zM47 22h1v1h-1zM47 23h1v1h-1zM4 24h1v1h-1zM47 24h1v1h-1zM25 28h1v1h-1zM32 28h1v1h-1zM26 29h1v1h-1zM6 30h1v1h-1zM27 30h1v1h-1zM7 31h1v1h-1zM2 32h1v1h-1zM8 32h1v1h-1zM13 32h1v1h-1zM16 32h1v1h-1zM2 33h1v1h-1zM6 33h3v1h-3zM25 33h1v1h-1zM27 33h1v1h-1zM2 34h1v1h-1zM5 34h1v1h-1zM8 34h1v1h-1zM23 34h1v1h-1zM28 34h1v1h-1zM2 35h1v1h-1zM8 35h1v1h-1zM2 36h1v1h-1zM8 36h1v1h-1zM8 37h1v1h-1zM2 40h1v1h-1zM8 40h1v1h-1zM2 41h1v1h-1zM7 41h1v1h-1zM21 41h1v1h-1zM2 42h1v1h-1zM7 42h1v1h-1zM19 42h1v1h-1zM2 43h1v1h-1zM17 43h1v1h-1zM23 43h1v1h-1zM30 43h1v1h-1zM15 44h1v1h-1zM24 44h1v1h-1zM14 45h1v1h-1zM25 45h1v1h-1zM29 46h1v1h-1zM7 47h1v1h-1zM13 47h1v1h-1zM26 47h3v1h-3zM11 49h1v1h-1zM22 52h1v1h-1zM24 52h1v1h-1zM15 55h1v1h-1zM17 55h2v1h-2zM23 56h1v1h-1zM23 57h1v1h-1zM23 58h1v1h-1zM23 59h1v1h-1zM40 60h1v1h-1zM4 61h1v1h-1zM15 61h1v1h-1zM22 61h1v1h-1zM15 62h1v1h-1zM22 62h1v1h-1zM2 63h1v1h-1zM4 63h1v1h-1zM15 63h1v1h-1zM21 63h1v1h-1zM3 64h3v1h-3zM15 64h2v1h-2zM19 64h2v1h-2zM3 65h2v1h-2zM6 65h2v1h-2zM4 66h1v1h-1zM10 66h2v1h-2zM4 67h1v1h-1zM11 67h1v1h-1zM11 68h1v1h-1zM30 68h1v1h-1zM11 71h1v1h-1zM11 72h1v1h-1zM4 73h1v1h-1zM4 74h1v1h-1zM5 77h1v1h-1zM30 81h1v1h-1z"/><path fill="#423f85" d="M26 2h1v1h-1zM29 5h1v1h-1zM29 6h1v1h-1zM29 7h1v1h-1zM24 8h1v1h-1zM29 8h1v1h-1zM41 8h1v1h-1zM38 9h1v1h-1zM47 9h1v1h-1zM47 10h1v1h-1zM31 11h1v1h-1zM45 11h1v1h-1zM47 11h1v1h-1zM24 12h1v1h-1zM33 12h1v1h-1zM47 19h1v1h-1zM47 20h1v1h-1zM47 21h1v1h-1zM3 23h1v1h-1zM24 23h1v1h-1zM24 24h1v1h-1zM24 25h1v1h-1zM2 29h1v1h-1zM2 30h1v1h-1zM2 31h1v1h-1zM27 31h2v1h-2zM9 32h4v1h-4zM17 32h1v1h-1zM26 32h2v1h-2zM19 33h1v1h-1zM24 33h1v1h-1zM28 33h1v1h-1zM6 34h2v1h-2zM21 34h2v1h-2zM5 35h1v1h-1zM4 36h1v1h-1zM8 38h1v1h-1zM8 39h1v1h-1zM31 39h1v1h-1zM7 40h1v1h-1zM3 41h1v1h-1zM22 42h1v1h-1zM2 44h1v1h-1zM6 44h1v1h-1zM16 44h1v1h-1zM30 44h1v1h-1zM2 45h1v1h-1zM6 45h1v1h-1zM6 46h1v1h-1zM14 46h1v1h-1zM25 46h1v1h-1zM6 47h1v1h-1zM7 48h1v1h-1zM13 48h1v1h-1zM26 48h2v1h-2zM9 49h1v1h-1zM12 49h1v1h-1zM10 50h2v1h-2zM23 51h2v1h-2zM25 52h1v1h-1zM25 53h1v1h-1zM15 54h2v1h-2zM25 54h1v1h-1zM14 55h1v1h-1zM24 55h1v1h-1zM2 56h1v1h-1zM14 56h1v1h-1zM24 56h1v1h-1zM14 57h1v1h-1zM14 58h1v1h-1zM4 60h1v1h-1zM23 60h1v1h-1zM14 61h1v1h-1zM23 61h1v1h-1zM14 62h1v1h-1zM23 62h1v1h-1zM5 63h1v1h-1zM14 63h1v1h-1zM22 63h1v1h-1zM2 64h1v1h-1zM6 64h1v1h-1zM13 64h2v1h-2zM21 64h1v1h-1zM2 65h1v1h-1zM8 65h13v1h-13zM3 66h1v1h-1zM12 66h3v1h-3zM3 67h1v1h-1zM12 67h1v1h-1zM3 68h1v1h-1zM12 68h1v1h-1zM12 69h1v1h-1zM29 69h1v1h-1zM12 70h1v1h-1zM29 70h1v1h-1zM29 71h1v1h-1zM32 71h1v1h-1zM29 72h2v1h-2zM12 73h1v1h-1zM7 79h2v1h-2z"/><path fill="#424186" d="M27 3h1v1h-1zM28 4h1v1h-1zM28 5h1v1h-1zM42 8h2v1h-2zM39 9h1v1h-1zM44 9h1v1h-1zM30 10h1v1h-1zM46 11h1v1h-1zM47 12h1v1h-1zM47 13h1v1h-1zM47 14h1v1h-1zM47 15h1v1h-1zM20 16h1v1h-1zM47 16h1v1h-1zM47 17h1v1h-1zM47 18h1v1h-1zM25 20h1v1h-1zM31 21h1v1h-1zM24 22h1v1h-1zM5 25h1v1h-1zM24 26h1v1h-1zM2 28h1v1h-1zM6 28h1v1h-1zM6 29h1v1h-1zM26 30h1v1h-1zM8 31h1v1h-1zM26 31h1v1h-1zM29 31h1v1h-1zM25 32h1v1h-1zM28 32h1v1h-1zM6 35h2v1h-2zM7 36h1v1h-1zM4 37h1v1h-1zM7 37h1v1h-1zM31 38h1v1h-1zM7 39h1v1h-1zM31 40h1v1h-1zM3 42h1v1h-1zM6 42h1v1h-1zM20 42h1v1h-1zM6 43h1v1h-1zM18 43h1v1h-1zM23 44h1v1h-1zM15 45h1v1h-1zM24 45h1v1h-1zM30 45h1v1h-1zM2 46h1v1h-1zM14 47h1v1h-1zM25 47h1v1h-1zM29 47h1v1h-1zM6 48h1v1h-1zM25 48h1v1h-1zM28 48h1v1h-1zM7 49h1v1h-1zM13 49h1v1h-1zM26 49h2v1h-2zM12 50h2v1h-2zM26 50h1v1h-1zM25 51h1v1h-1zM21 52h1v1h-1zM20 53h1v1h-1zM14 54h1v1h-1zM17 54h3v1h-3zM1 56h1v1h-1zM1 57h1v1h-1zM3 57h1v1h-1zM24 57h1v1h-1zM41 57h1v1h-1zM1 58h1v1h-1zM24 58h1v1h-1zM40 58h1v1h-1zM42 58h1v1h-1zM1 59h1v1h-1zM14 59h1v1h-1zM24 59h1v1h-1zM1 60h1v1h-1zM14 60h1v1h-1zM24 60h1v1h-1zM1 61h1v1h-1zM41 61h1v1h-1zM1 62h1v1h-1zM5 62h1v1h-1zM1 63h1v1h-1zM6 63h1v1h-1zM13 63h1v1h-1zM23 63h1v1h-1zM1 64h1v1h-1zM7 64h1v1h-1zM11 64h2v1h-2zM22 64h1v1h-1zM1 65h1v1h-1zM21 65h1v1h-1zM1 66h2v1h-2zM15 66h3v1h-3zM13 67h2v1h-2zM31 67h2v1h-2zM13 68h1v1h-1zM3 69h1v1h-1zM33 69h1v1h-1zM33 70h1v1h-1zM12 71h1v1h-1zM12 72h1v1h-1zM31 72h1v1h-1zM13 74h1v1h-1zM4 75h1v1h-1zM13 75h1v1h-1zM12 77h1v1h-1zM5 78h1v1h-1zM29 80h1v1h-1zM30 82h2v1h-2z"/><path fill="#414487" d="M25 1h1v1h-1zM27 4h1v1h-1zM28 6h1v1h-1zM27 7h1v1h-1zM40 9h1v1h-1zM20 10h1v1h-1zM37 10h1v1h-1zM32 12h1v1h-1zM34 12h1v1h-1zM45 12h2v1h-2zM30 20h1v1h-1zM24 21h1v1h-1zM4 23h1v1h-1zM33 25h1v1h-1zM33 26h1v1h-1zM2 27h1v1h-1zM6 27h1v1h-1zM24 27h1v1h-1zM25 29h1v1h-1zM7 30h1v1h-1zM14 31h2v1h-2zM25 31h1v1h-1zM18 32h1v1h-1zM20 33h1v1h-1zM23 33h1v1h-1zM29 34h1v1h-1zM30 35h1v1h-1zM5 36h2v1h-2zM31 37h1v1h-1zM4 38h1v1h-1zM7 38h1v1h-1zM6 40h1v1h-1zM6 41h1v1h-1zM31 41h1v1h-1zM5 44h1v1h-1zM17 44h1v1h-1zM5 45h1v1h-1zM5 46h1v1h-1zM24 46h1v1h-1zM30 46h1v1h-1zM2 47h1v1h-1zM5 47h1v1h-1zM14 48h1v1h-1zM29 48h1v1h-1zM1 49h1v1h-1zM6 49h1v1h-1zM8 49h1v1h-1zM14 49h1v1h-1zM25 49h1v1h-1zM28 49h1v1h-1zM1 50h1v1h-1zM14 50h1v1h-1zM24 50h2v1h-2zM27 50h1v1h-1zM1 51h1v1h-1zM11 51h4v1h-4zM22 51h1v1h-1zM26 51h1v1h-1zM1 52h1v1h-1zM13 52h2v1h-2zM26 52h1v1h-1zM1 53h1v1h-1zM14 53h3v1h-3zM1 54h1v1h-1zM1 55h2v1h-2zM25 55h1v1h-1zM25 56h1v1h-1zM25 57h1v1h-1zM4 59h1v1h-1zM39 59h1v1h-1zM39 60h1v1h-1zM13 61h1v1h-1zM24 61h1v1h-1zM42 61h1v1h-1zM13 62h1v1h-1zM24 62h1v1h-1zM12 63h1v1h-1zM9 64h2v1h-2zM23 64h1v1h-1zM22 65h1v1h-1zM18 66h2v1h-2zM1 67h2v1h-2zM15 67h2v1h-2zM30 67h1v1h-1zM1 68h1v1h-1zM14 68h1v1h-1zM29 68h1v1h-1zM33 68h1v1h-1zM1 69h1v1h-1zM13 69h1v1h-1zM3 70h1v1h-1zM13 70h1v1h-1zM3 71h1v1h-1zM4 76h1v1h-1zM11 78h1v1h-1zM6 79h1v1h-1zM9 79h1v1h-1zM30 80h1v1h-1zM29 81h1v1h-1zM31 81h1v1h-1zM29 93h4v1h-4zM28 94h1v1h-1z"/><path fill="#404688" d="M25 2h1v1h-1zM26 3h1v1h-1zM27 5h1v1h-1zM27 6h1v1h-1zM26 7h1v1h-1zM28 7h1v1h-1zM26 9h1v1h-1zM29 9h1v1h-1zM41 9h1v1h-1zM43 9h1v1h-1zM44 10h1v1h-1zM36 11h1v1h-1zM23 14h1v1h-1zM22 16h1v1h-1zM24 20h1v1h-1zM32 22h1v1h-1zM2 26h1v1h-1zM6 26h1v1h-1zM25 30h1v1h-1zM31 30h1v1h-1zM9 31h1v1h-1zM13 31h1v1h-1zM16 31h1v1h-1zM24 32h1v1h-1zM29 32h1v1h-1zM21 33h2v1h-2zM5 37h2v1h-2zM6 38h1v1h-1zM4 39h1v1h-1zM6 39h1v1h-1zM43 41h1v1h-1zM5 42h1v1h-1zM21 42h1v1h-1zM3 43h1v1h-1zM5 43h1v1h-1zM19 43h1v1h-1zM22 43h1v1h-1zM1 45h1v1h-1zM16 45h1v1h-1zM23 45h1v1h-1zM1 46h1v1h-1zM15 46h1v1h-1zM1 47h1v1h-1zM24 47h1v1h-1zM1 48h2v1h-2zM5 48h1v1h-1zM5 49h1v1h-1zM24 49h1v1h-1zM23 50h1v1h-1zM27 51h1v1h-1zM12 52h1v1h-1zM15 52h1v1h-1zM13 53h1v1h-1zM17 53h1v1h-1zM26 53h1v1h-1zM13 54h1v1h-1zM26 54h1v1h-1zM13 55h1v1h-1zM13 56h1v1h-1zM25 58h1v1h-1zM13 59h1v1h-1zM25 59h1v1h-1zM13 60h1v1h-1zM25 60h1v1h-1zM43 60h1v1h-1zM5 61h1v1h-1zM40 61h1v1h-1zM12 62h1v1h-1zM11 63h1v1h-1zM24 63h1v1h-1zM8 64h1v1h-1zM24 64h1v1h-1zM23 65h1v1h-1zM20 66h2v1h-2zM17 67h1v1h-1zM2 68h1v1h-1zM15 68h1v1h-1zM14 69h1v1h-1zM1 70h1v1h-1zM28 70h1v1h-1zM1 71h1v1h-1zM13 71h1v1h-1zM28 71h1v1h-1zM33 71h1v1h-1zM3 72h1v1h-1zM13 72h1v1h-1zM28 72h1v1h-1zM32 72h1v1h-1zM13 73h1v1h-1zM13 76h1v1h-1zM29 92h2v1h-2zM33 93h2v1h-2zM27 94h1v1h-1z"/><path fill="#3f4889" d="M20 1h1v1h-1zM42 9h1v1h-1zM46 13h1v1h-1zM21 17h1v1h-1zM26 19h2v1h-2zM14 23h1v1h-1zM23 23h1v1h-1zM5 24h1v1h-1zM33 24h1v1h-1zM2 25h1v1h-1zM33 27h1v1h-1zM24 28h1v1h-1zM32 29h1v1h-1zM10 31h3v1h-3zM17 31h1v1h-1zM24 31h1v1h-1zM30 31h1v1h-1zM19 32h1v1h-1zM23 32h1v1h-1zM29 33h1v1h-1zM5 38h1v1h-1zM5 39h1v1h-1zM4 40h2v1h-2zM43 40h1v1h-1zM5 41h1v1h-1zM1 42h1v1h-1zM31 42h1v1h-1zM43 42h1v1h-1zM1 43h1v1h-1zM4 43h1v1h-1zM1 44h1v1h-1zM3 44h2v1h-2zM31 44h1v1h-1zM4 45h1v1h-1zM31 45h1v1h-1zM4 46h1v1h-1zM4 47h1v1h-1zM30 47h1v1h-1zM4 48h1v1h-1zM24 48h1v1h-1zM2 49h1v1h-1zM4 49h1v1h-1zM29 49h1v1h-1zM2 50h1v1h-1zM4 50h3v1h-3zM9 50h1v1h-1zM15 50h1v1h-1zM28 50h1v1h-1zM2 51h1v1h-1zM10 51h1v1h-1zM15 51h1v1h-1zM21 51h1v1h-1zM2 52h1v1h-1zM11 52h1v1h-1zM16 52h1v1h-1zM20 52h1v1h-1zM27 52h1v1h-1zM12 53h1v1h-1zM18 53h2v1h-2zM27 53h1v1h-1zM2 54h1v1h-1zM26 55h1v1h-1zM3 56h1v1h-1zM26 56h1v1h-1zM13 57h1v1h-1zM26 57h1v1h-1zM40 57h1v1h-1zM13 58h1v1h-1zM12 61h1v1h-1zM25 61h1v1h-1zM6 62h1v1h-1zM11 62h1v1h-1zM25 62h1v1h-1zM7 63h1v1h-1zM9 63h2v1h-2zM22 66h2v1h-2zM32 66h1v1h-1zM18 67h1v1h-1zM29 67h1v1h-1zM33 67h1v1h-1zM16 68h1v1h-1zM2 69h1v1h-1zM15 69h1v1h-1zM28 69h1v1h-1zM14 70h1v1h-1zM1 72h1v1h-1zM3 73h1v1h-1zM29 73h2v1h-2zM4 77h1v1h-1zM5 79h1v1h-1zM31 92h1v1h-1zM27 93h2v1h-2zM35 93h1v1h-1zM26 94h1v1h-1z"/><path fill="#3e4a89" d="M24 1h1v1h-1zM26 4h1v1h-1zM26 6h1v1h-1zM25 7h1v1h-1zM19 11h1v1h-1zM25 11h1v1h-1zM44 11h1v1h-1zM45 13h1v1h-1zM19 16h1v1h-1zM25 19h1v1h-1zM28 19h1v1h-1zM23 21h1v1h-1zM13 22h1v1h-1zM23 22h1v1h-1zM13 23h1v1h-1zM15 23h1v1h-1zM14 24h1v1h-1zM23 24h1v1h-1zM23 25h1v1h-1zM7 29h1v1h-1zM8 30h1v1h-1zM20 32h1v1h-1zM30 34h1v1h-1zM31 36h1v1h-1zM1 40h1v1h-1zM1 41h1v1h-1zM4 41h1v1h-1zM4 42h1v1h-1zM31 43h1v1h-1zM18 44h1v1h-1zM3 45h1v1h-1zM3 46h1v1h-1zM23 46h1v1h-1zM3 47h1v1h-1zM15 47h1v1h-1zM3 48h1v1h-1zM15 48h1v1h-1zM30 48h1v1h-1zM3 49h1v1h-1zM15 49h1v1h-1zM23 49h1v1h-1zM3 50h1v1h-1zM7 50h1v1h-1zM22 50h1v1h-1zM3 51h2v1h-2zM16 51h1v1h-1zM28 51h1v1h-1zM3 52h1v1h-1zM17 52h1v1h-1zM2 53h1v1h-1zM12 54h1v1h-1zM27 54h1v1h-1zM4 58h1v1h-1zM26 58h1v1h-1zM43 59h1v1h-1zM12 60h1v1h-1zM39 61h1v1h-1zM25 63h1v1h-1zM24 65h1v1h-1zM31 66h1v1h-1zM19 67h3v1h-3zM17 68h1v1h-1zM28 68h1v1h-1zM16 69h1v1h-1zM2 70h1v1h-1zM15 70h1v1h-1zM34 70h1v1h-1zM14 71h1v1h-1zM33 72h1v1h-1zM1 73h1v1h-1zM14 73h1v1h-1zM28 73h1v1h-1zM31 73h1v1h-1zM1 74h1v1h-1zM3 74h1v1h-1zM14 74h1v1h-1zM10 79h1v1h-1zM29 79h1v1h-1zM29 82h1v1h-1zM30 83h2v1h-2zM29 91h2v1h-2zM26 93h1v1h-1zM36 93h1v1h-1zM25 94h1v1h-1z"/><path fill="#3d4d8a" d="M25 3h1v1h-1zM26 5h1v1h-1zM23 8h1v1h-1zM27 8h2v1h-2zM38 10h2v1h-2zM43 10h1v1h-1zM35 12h1v1h-1zM24 13h1v1h-1zM46 14h1v1h-1zM23 15h1v1h-1zM20 17h1v1h-1zM24 19h1v1h-1zM29 19h1v1h-1zM23 20h1v1h-1zM3 22h2v1h-2zM14 22h3v1h-3zM2 24h1v1h-1zM13 24h1v1h-1zM15 24h1v1h-1zM6 25h1v1h-1zM23 26h1v1h-1zM24 29h1v1h-1zM14 30h1v1h-1zM24 30h1v1h-1zM18 31h1v1h-1zM21 32h2v1h-2zM30 32h1v1h-1zM1 38h1v1h-1zM1 39h1v1h-1zM44 40h1v1h-1zM42 42h1v1h-1zM20 43h2v1h-2zM22 44h1v1h-1zM17 45h1v1h-1zM16 46h1v1h-1zM31 46h1v1h-1zM8 50h1v1h-1zM29 50h1v1h-1zM5 51h1v1h-1zM18 52h2v1h-2zM28 52h1v1h-1zM27 55h1v1h-1zM41 56h1v1h-1zM39 58h1v1h-1zM12 59h1v1h-1zM26 59h1v1h-1zM5 60h1v1h-1zM38 60h1v1h-1zM11 61h1v1h-1zM43 61h1v1h-1zM10 62h1v1h-1zM25 64h1v1h-1zM24 66h1v1h-1zM30 66h1v1h-1zM33 66h1v1h-1zM22 67h2v1h-2zM28 67h1v1h-1zM2 71h1v1h-1zM34 71h1v1h-1zM14 72h1v1h-1zM32 73h1v1h-1zM1 75h1v1h-1zM3 75h1v1h-1zM14 75h1v1h-1zM4 78h1v1h-1zM28 79h1v1h-1zM6 80h2v1h-2zM32 82h1v1h-1zM25 92h4v1h-4zM32 92h1v1h-1zM25 93h1v1h-1zM37 93h1v1h-1z"/><path fill="#3c4f8a" d="M24 2h1v1h-1zM25 6h1v1h-1zM24 7h1v1h-1zM21 9h1v1h-1zM40 10h1v1h-1zM42 10h1v1h-1zM30 11h1v1h-1zM18 14h1v1h-1zM46 15h1v1h-1zM21 18h1v1h-1zM23 19h1v1h-1zM22 21h1v1h-1zM12 22h1v1h-1zM17 22h1v1h-1zM22 22h1v1h-1zM2 23h1v1h-1zM5 23h1v1h-1zM12 23h1v1h-1zM16 23h1v1h-1zM7 27h1v1h-1zM23 27h1v1h-1zM7 28h1v1h-1zM33 28h1v1h-1zM9 30h1v1h-1zM13 30h1v1h-1zM15 30h2v1h-2zM23 31h1v1h-1zM30 33h1v1h-1zM1 37h1v1h-1zM43 39h2v1h-2zM42 41h1v1h-1zM23 47h1v1h-1zM31 47h1v1h-1zM23 48h1v1h-1zM30 49h1v1h-1zM16 50h1v1h-1zM17 51h1v1h-1zM29 51h1v1h-1zM4 52h1v1h-1zM11 53h1v1h-1zM28 53h1v1h-1zM28 54h1v1h-1zM12 55h1v1h-1zM27 56h1v1h-1zM40 56h1v1h-1zM12 57h1v1h-1zM27 57h1v1h-1zM42 57h1v1h-1zM12 58h1v1h-1zM38 59h1v1h-1zM11 60h1v1h-1zM26 60h1v1h-1zM10 61h1v1h-1zM26 61h1v1h-1zM9 62h1v1h-1zM8 63h1v1h-1zM25 65h1v1h-1zM25 66h1v1h-1zM29 66h1v1h-1zM24 67h2v1h-2zM18 68h6v1h-6zM27 68h1v1h-1zM17 69h1v1h-1zM27 69h1v1h-1zM16 70h1v1h-1zM27 70h1v1h-1zM15 71h1v1h-1zM27 71h1v1h-1zM2 72h1v1h-1zM27 72h1v1h-1zM1 76h1v1h-1zM3 76h1v1h-1zM1 77h1v1h-1zM1 78h1v1h-1zM8 80h1v1h-1zM28 80h1v1h-1zM31 80h1v1h-1zM24 93h1v1h-1zM38 93h2v1h-2zM24 94h1v1h-1z"/><path fill="#3b518b" d="M21 1h1v1h-1zM23 1h1v1h-1zM25 4h1v1h-1zM41 10h1v1h-1zM37 11h1v1h-1zM31 12h1v1h-1zM44 12h1v1h-1zM45 14h1v1h-1zM18 15h1v1h-1zM46 16h1v1h-1zM22 17h1v1h-1zM22 19h1v1h-1zM22 20h1v1h-1zM12 21h1v1h-1zM17 21h2v1h-2zM22 23h1v1h-1zM12 24h1v1h-1zM16 24h1v1h-1zM22 24h1v1h-1zM13 25h3v1h-3zM23 28h1v1h-1zM8 29h1v1h-1zM10 30h3v1h-3zM17 30h1v1h-1zM23 30h1v1h-1zM19 31h1v1h-1zM31 31h1v1h-1zM31 35h1v1h-1zM1 36h1v1h-1zM44 38h1v1h-1zM44 41h1v1h-1zM42 43h2v1h-2zM19 44h1v1h-1zM32 45h1v1h-1zM16 47h1v1h-1zM16 48h1v1h-1zM16 49h1v1h-1zM22 49h1v1h-1zM21 50h1v1h-1zM30 50h1v1h-1zM6 51h1v1h-1zM18 51h1v1h-1zM20 51h1v1h-1zM10 52h1v1h-1zM29 52h1v1h-1zM3 53h1v1h-1zM3 55h1v1h-1zM28 55h1v1h-1zM12 56h1v1h-1zM4 57h1v1h-1zM27 58h1v1h-1zM6 61h1v1h-1zM26 62h1v1h-1zM41 62h1v1h-1zM26 63h1v1h-1zM32 65h1v1h-1zM26 66h1v1h-1zM26 67h2v1h-2zM24 68h3v1h-3zM26 69h1v1h-1zM34 69h1v1h-1zM16 71h1v1h-1zM15 72h1v1h-1zM2 73h1v1h-1zM15 73h1v1h-1zM27 73h1v1h-1zM28 74h3v1h-3zM1 79h1v1h-1zM4 79h1v1h-1zM0 80h2v1h-2zM5 80h1v1h-1zM32 81h1v1h-1zM29 83h1v1h-1zM32 83h1v1h-1zM29 90h2v1h-2zM25 91h4v1h-4zM31 91h1v1h-1zM24 92h1v1h-1zM33 92h1v1h-1zM40 93h1v1h-1zM23 94h1v1h-1z"/><path fill="#3a538b" d="M7 5h1v1h-1zM25 5h1v1h-1zM29 10h1v1h-1zM43 11h1v1h-1zM18 13h1v1h-1zM46 17h1v1h-1zM21 19h1v1h-1zM19 20h3v1h-3zM11 21h1v1h-1zM13 21h1v1h-1zM16 21h1v1h-1zM19 21h1v1h-1zM21 21h1v1h-1zM5 22h1v1h-1zM11 22h1v1h-1zM18 22h1v1h-1zM17 23h1v1h-1zM33 23h1v1h-1zM6 24h1v1h-1zM22 25h1v1h-1zM7 26h1v1h-1zM44 27h1v1h-1zM23 29h1v1h-1zM32 30h1v1h-1zM20 31h3v1h-3zM1 34h1v1h-1zM1 35h1v1h-1zM32 44h1v1h-1zM18 45h1v1h-1zM22 45h1v1h-1zM32 46h1v1h-1zM31 48h1v1h-1zM17 50h1v1h-1zM9 51h1v1h-1zM19 51h1v1h-1zM29 53h1v1h-1zM28 56h1v1h-1zM11 59h1v1h-1zM27 59h1v1h-1zM38 61h1v1h-1zM7 62h1v1h-1zM40 62h1v1h-1zM42 62h1v1h-1zM26 64h1v1h-1zM26 65h1v1h-1zM31 65h1v1h-1zM33 65h1v1h-1zM27 66h2v1h-2zM44 68h1v1h-1zM18 69h2v1h-2zM21 69h5v1h-5zM44 69h2v1h-2zM17 70h1v1h-1zM26 70h1v1h-1zM26 71h1v1h-1zM35 71h1v1h-1zM34 72h1v1h-1zM33 73h1v1h-1zM2 74h1v1h-1zM15 74h1v1h-1zM31 74h1v1h-1zM3 77h1v1h-1zM13 77h1v1h-1zM12 78h1v1h-1zM28 78h1v1h-1zM0 81h2v1h-2zM28 81h1v1h-1zM0 82h2v1h-2zM0 89h2v1h-2zM24 91h1v1h-1zM23 92h1v1h-1zM34 92h1v1h-1zM23 93h1v1h-1zM41 93h1v1h-1zM22 94h1v1h-1z"/><path fill="#39558c" d="M24 3h1v1h-1zM8 5h1v1h-1zM7 6h2v1h-2zM24 6h1v1h-1zM8 7h2v1h-2zM9 8h1v1h-1zM22 8h1v1h-1zM9 9h2v1h-2zM28 9h1v1h-1zM26 10h1v1h-1zM33 13h1v1h-1zM20 18h1v1h-1zM22 18h1v1h-1zM46 18h1v1h-1zM20 19h1v1h-1zM30 19h1v1h-1zM46 19h1v1h-1zM18 20h1v1h-1zM20 21h1v1h-1zM2 22h1v1h-1zM19 22h1v1h-1zM21 22h1v1h-1zM11 23h1v1h-1zM21 23h1v1h-1zM17 24h1v1h-1zM12 25h1v1h-1zM16 25h1v1h-1zM22 26h1v1h-1zM44 26h1v1h-1zM44 28h1v1h-1zM14 29h2v1h-2zM18 30h1v1h-1zM1 33h1v1h-1zM31 34h1v1h-1zM32 38h1v1h-1zM32 39h1v1h-1zM32 40h1v1h-1zM42 40h1v1h-1zM41 42h1v1h-1zM44 42h1v1h-1zM20 44h2v1h-2zM17 46h1v1h-1zM22 46h1v1h-1zM17 49h1v1h-1zM31 49h1v1h-1zM18 50h1v1h-1zM7 51h1v1h-1zM30 51h1v1h-1zM5 52h1v1h-1zM3 54h1v1h-1zM11 54h1v1h-1zM29 54h1v1h-1zM29 55h1v1h-1zM28 57h1v1h-1zM39 57h1v1h-1zM11 58h1v1h-1zM28 58h1v1h-1zM38 58h1v1h-1zM5 59h1v1h-1zM10 60h1v1h-1zM27 60h1v1h-1zM37 60h1v1h-1zM27 61h1v1h-1zM39 62h1v1h-1zM27 64h1v1h-1zM27 65h4v1h-4zM45 68h1v1h-1zM20 69h1v1h-1zM23 70h3v1h-3zM44 70h1v1h-1zM17 71h1v1h-1zM16 72h1v1h-1zM26 72h1v1h-1zM35 72h1v1h-1zM27 74h1v1h-1zM32 74h1v1h-1zM2 75h1v1h-1zM3 78h1v1h-1zM30 79h1v1h-1zM4 80h1v1h-1zM0 83h2v1h-2zM0 88h2v1h-2zM0 90h2v1h-2zM28 90h1v1h-1zM23 91h1v1h-1zM22 93h1v1h-1z"/><path fill="#38588c" d="M22 1h1v1h-1zM7 4h1v1h-1zM6 5h1v1h-1zM9 6h1v1h-1zM7 7h1v1h-1zM23 7h1v1h-1zM8 8h1v1h-1zM10 8h1v1h-1zM27 9h1v1h-1zM9 10h2v1h-2zM42 11h1v1h-1zM25 12h1v1h-1zM36 12h1v1h-1zM34 13h1v1h-1zM45 15h1v1h-1zM18 16h1v1h-1zM23 16h1v1h-1zM19 17h1v1h-1zM46 20h1v1h-1zM4 21h1v1h-1zM10 21h1v1h-1zM14 21h2v1h-2zM46 21h1v1h-1zM10 22h1v1h-1zM20 22h1v1h-1zM46 22h1v1h-1zM6 23h1v1h-1zM18 23h1v1h-1zM20 23h1v1h-1zM46 23h1v1h-1zM11 24h1v1h-1zM21 24h1v1h-1zM46 24h1v1h-1zM7 25h1v1h-1zM21 25h1v1h-1zM46 25h1v1h-1zM46 26h1v1h-1zM8 27h1v1h-1zM22 27h1v1h-1zM8 28h1v1h-1zM9 29h1v1h-1zM12 29h2v1h-2zM16 29h1v1h-1zM33 29h1v1h-1zM19 30h1v1h-1zM22 30h1v1h-1zM1 32h1v1h-1zM31 32h1v1h-1zM32 37h1v1h-1zM32 43h1v1h-1zM42 44h1v1h-1zM17 47h1v1h-1zM22 47h1v1h-1zM32 47h1v1h-1zM17 48h1v1h-1zM22 48h1v1h-1zM21 49h1v1h-1zM19 50h2v1h-2zM8 51h1v1h-1zM30 52h1v1h-1zM4 53h1v1h-1zM40 55h1v1h-1zM29 56h1v1h-1zM43 58h1v1h-1zM28 59h1v1h-1zM37 59h1v1h-1zM28 60h1v1h-1zM8 62h1v1h-1zM27 62h1v1h-1zM27 63h2v1h-2zM28 64h1v1h-1zM44 67h2v1h-2zM18 70h5v1h-5zM45 70h1v1h-1zM24 71h2v1h-2zM44 71h1v1h-1zM16 73h1v1h-1zM26 73h1v1h-1zM28 75h2v1h-2zM2 76h1v1h-1zM14 76h1v1h-1zM11 79h1v1h-1zM9 80h1v1h-1zM5 81h2v1h-2zM28 82h1v1h-1zM0 84h2v1h-2zM31 84h1v1h-1zM0 85h2v1h-2zM0 86h2v1h-2zM0 87h2v1h-2zM29 89h2v1h-2zM25 90h3v1h-3zM32 91h1v1h-1zM22 92h1v1h-1zM35 92h1v1h-1zM21 94h1v1h-1z"/><path fill="#375a8c" d="M23 2h1v1h-1zM6 4h1v1h-1zM8 4h1v1h-1zM24 4h1v1h-1zM9 5h1v1h-1zM24 5h1v1h-1zM6 6h1v1h-1zM10 7h1v1h-1zM8 9h1v1h-1zM38 11h1v1h-1zM32 13h1v1h-1zM44 13h1v1h-1zM19 19h1v1h-1zM17 20h1v1h-1zM31 20h1v1h-1zM2 21h2v1h-2zM5 21h1v1h-1zM19 23h1v1h-1zM18 24h1v1h-1zM20 24h1v1h-1zM11 25h1v1h-1zM17 25h1v1h-1zM44 25h1v1h-1zM12 26h4v1h-4zM21 26h1v1h-1zM34 26h1v1h-1zM34 27h1v1h-1zM46 27h1v1h-1zM22 28h1v1h-1zM46 28h1v1h-1zM10 29h2v1h-2zM17 29h1v1h-1zM22 29h1v1h-1zM44 29h1v1h-1zM46 29h1v1h-1zM20 30h2v1h-2zM1 31h1v1h-1zM31 33h1v1h-1zM44 37h1v1h-1zM43 38h1v1h-1zM32 41h1v1h-1zM41 41h1v1h-1zM41 43h1v1h-1zM43 44h1v1h-1zM19 45h1v1h-1zM33 45h1v1h-1zM18 46h1v1h-1zM32 48h1v1h-1zM18 49h1v1h-1zM31 50h1v1h-1zM10 53h1v1h-1zM30 53h1v1h-1zM30 54h1v1h-1zM41 55h1v1h-1zM4 56h1v1h-1zM29 57h1v1h-1zM29 58h1v1h-1zM44 60h1v1h-1zM9 61h1v1h-1zM28 61h1v1h-1zM28 62h1v1h-1zM29 64h1v1h-1zM32 64h2v1h-2zM34 68h1v1h-1zM18 71h1v1h-1zM23 71h1v1h-1zM17 72h1v1h-1zM24 72h2v1h-2zM44 72h1v1h-1zM34 73h1v1h-1zM26 74h1v1h-1zM27 75h1v1h-1zM30 75h1v1h-1zM2 77h1v1h-1zM27 78h1v1h-1zM3 79h1v1h-1zM30 84h1v1h-1zM28 89h1v1h-1zM24 90h1v1h-1zM31 90h1v1h-1zM45 91h1v1h-1zM36 92h1v1h-1zM45 92h1v1h-1zM21 93h1v1h-1zM20 94h1v1h-1z"/><path fill="#365c8d" d="M7 8h1v1h-1zM11 9h1v1h-1zM41 11h1v1h-1zM43 12h1v1h-1zM24 14h1v1h-1zM23 18h1v1h-1zM10 20h2v1h-2zM32 21h1v1h-1zM6 22h1v1h-1zM10 23h1v1h-1zM7 24h1v1h-1zM19 24h1v1h-1zM20 25h1v1h-1zM34 25h1v1h-1zM8 26h1v1h-1zM16 26h1v1h-1zM21 27h1v1h-1zM9 28h1v1h-1zM14 28h3v1h-3zM18 29h1v1h-1zM1 30h1v1h-1zM46 30h1v1h-1zM32 31h1v1h-1zM46 31h1v1h-1zM46 32h1v1h-1zM45 37h1v1h-1zM45 38h1v1h-1zM45 39h1v1h-1zM32 42h1v1h-1zM44 43h1v1h-1zM20 45h2v1h-2zM33 46h1v1h-1zM19 49h2v1h-2zM31 51h1v1h-1zM6 52h1v1h-1zM11 55h1v1h-1zM30 55h1v1h-1zM30 56h1v1h-1zM11 57h1v1h-1zM5 58h1v1h-1zM29 59h1v1h-1zM6 60h1v1h-1zM29 60h1v1h-1zM29 61h1v1h-1zM37 61h1v1h-1zM44 61h1v1h-1zM29 62h1v1h-1zM43 62h1v1h-1zM29 63h1v1h-1zM30 64h2v1h-2zM43 69h1v1h-1zM35 70h1v1h-1zM43 70h1v1h-1zM19 71h4v1h-4zM43 71h1v1h-1zM45 71h1v1h-1zM18 72h1v1h-1zM23 72h1v1h-1zM36 72h1v1h-1zM43 72h1v1h-1zM17 73h1v1h-1zM25 73h1v1h-1zM33 74h1v1h-1zM15 75h1v1h-1zM31 75h1v1h-1zM27 77h1v1h-1zM2 78h1v1h-1zM29 78h1v1h-1zM27 79h1v1h-1zM3 80h1v1h-1zM4 81h1v1h-1zM7 81h1v1h-1zM33 82h1v1h-1zM28 83h1v1h-1zM43 83h1v1h-1zM29 84h1v1h-1zM32 84h1v1h-1zM43 84h1v1h-1zM43 85h1v1h-1zM43 86h1v1h-1zM44 87h1v1h-1zM29 88h1v1h-1zM44 88h1v1h-1zM44 89h1v1h-1zM23 90h1v1h-1zM45 90h1v1h-1zM22 91h1v1h-1zM37 92h2v1h-2z"/><path fill="#355e8d" d="M10 6h1v1h-1zM23 6h1v1h-1zM6 7h1v1h-1zM8 10h1v1h-1zM11 10h1v1h-1zM10 11h1v1h-1zM39 11h2v1h-2zM18 12h1v1h-1zM45 16h1v1h-1zM19 18h1v1h-1zM24 18h2v1h-2zM30 18h1v1h-1zM9 20h1v1h-1zM12 20h1v1h-1zM9 21h1v1h-1zM7 23h1v1h-1zM10 24h1v1h-1zM18 25h2v1h-2zM11 26h1v1h-1zM17 26h1v1h-1zM20 26h1v1h-1zM9 27h1v1h-1zM14 27h3v1h-3zM10 28h4v1h-4zM17 28h1v1h-1zM21 28h1v1h-1zM34 28h1v1h-1zM1 29h1v1h-1zM19 29h3v1h-3zM46 33h1v1h-1zM46 34h1v1h-1zM32 36h1v1h-1zM45 36h1v1h-1zM45 40h1v1h-1zM33 44h1v1h-1zM41 44h1v1h-1zM19 46h1v1h-1zM21 46h1v1h-1zM18 47h1v1h-1zM33 47h1v1h-1zM18 48h1v1h-1zM21 48h1v1h-1zM32 49h1v1h-1zM9 52h1v1h-1zM31 52h1v1h-1zM31 53h1v1h-1zM4 54h1v1h-1zM31 54h1v1h-1zM11 56h1v1h-1zM39 56h1v1h-1zM42 56h1v1h-1zM30 57h1v1h-1zM30 58h1v1h-1zM10 59h1v1h-1zM36 60h1v1h-1zM7 61h1v1h-1zM38 62h1v1h-1zM30 63h1v1h-1zM34 66h1v1h-1zM44 66h2v1h-2zM34 67h1v1h-1zM43 68h1v1h-1zM19 72h1v1h-1zM21 72h2v1h-2zM24 73h1v1h-1zM35 73h2v1h-2zM43 73h2v1h-2zM16 74h1v1h-1zM25 74h1v1h-1zM43 74h1v1h-1zM26 75h1v1h-1zM27 76h2v1h-2zM2 79h1v1h-1zM3 81h1v1h-1zM43 81h1v1h-1zM43 82h1v1h-1zM33 83h1v1h-1zM44 85h1v1h-1zM44 86h1v1h-1zM2 87h1v1h-1zM43 87h1v1h-1zM28 88h1v1h-1zM26 89h2v1h-2zM44 90h1v1h-1zM33 91h1v1h-1zM21 92h1v1h-1zM39 92h1v1h-1zM20 93h1v1h-1zM19 94h1v1h-1z"/><path fill="#34608d" d="M23 3h1v1h-1zM9 4h1v1h-1zM22 7h1v1h-1zM11 8h1v1h-1zM7 9h1v1h-1zM19 10h1v1h-1zM9 11h1v1h-1zM11 11h1v1h-1zM29 11h1v1h-1zM30 12h1v1h-1zM35 13h1v1h-1zM23 17h1v1h-1zM26 18h1v1h-1zM18 19h1v1h-1zM2 20h1v1h-1zM4 20h2v1h-2zM6 21h1v1h-1zM9 22h1v1h-1zM44 24h1v1h-1zM8 25h1v1h-1zM10 25h1v1h-1zM18 26h2v1h-2zM11 27h3v1h-3zM17 27h1v1h-1zM20 27h1v1h-1zM1 28h1v1h-1zM18 28h1v1h-1zM33 30h1v1h-1zM45 31h1v1h-1zM45 35h2v1h-2zM42 39h1v1h-1zM45 41h1v1h-1zM21 47h1v1h-1zM19 48h2v1h-2zM32 50h1v1h-1zM7 52h1v1h-1zM5 53h1v1h-1zM4 55h1v1h-1zM31 55h1v1h-1zM31 56h1v1h-1zM31 57h1v1h-1zM38 57h1v1h-1zM37 58h1v1h-1zM30 59h1v1h-1zM30 60h1v1h-1zM30 61h1v1h-1zM30 62h1v1h-1zM31 63h3v1h-3zM20 72h1v1h-1zM18 73h2v1h-2zM22 73h2v1h-2zM17 74h1v1h-1zM24 74h1v1h-1zM34 74h1v1h-1zM25 75h1v1h-1zM32 75h1v1h-1zM26 76h1v1h-1zM29 76h1v1h-1zM26 77h1v1h-1zM28 77h1v1h-1zM43 79h1v1h-1zM2 80h1v1h-1zM27 80h1v1h-1zM43 80h1v1h-1zM3 82h2v1h-2zM42 83h1v1h-1zM44 84h1v1h-1zM2 86h1v1h-1zM29 87h1v1h-1zM2 88h1v1h-1zM30 88h1v1h-1zM24 89h2v1h-2zM45 89h1v1h-1zM22 90h1v1h-1zM40 92h2v1h-2zM44 92h1v1h-1zM18 94h1v1h-1z"/><path fill="#33628d" d="M5 4h1v1h-1zM23 4h1v1h-1zM5 5h1v1h-1zM23 5h1v1h-1zM6 8h1v1h-1zM21 8h1v1h-1zM20 9h1v1h-1zM28 10h1v1h-1zM8 11h1v1h-1zM37 12h1v1h-1zM44 14h1v1h-1zM24 15h1v1h-1zM27 18h1v1h-1zM29 18h1v1h-1zM8 20h1v1h-1zM13 20h1v1h-1zM16 20h1v1h-1zM8 21h1v1h-1zM7 22h1v1h-1zM8 23h2v1h-2zM8 24h2v1h-2zM9 25h1v1h-1zM9 26h2v1h-2zM10 27h1v1h-1zM18 27h2v1h-2zM19 28h2v1h-2zM44 30h1v1h-1zM45 32h1v1h-1zM44 36h1v1h-1zM46 36h1v1h-1zM46 37h1v1h-1zM40 42h1v1h-1zM45 42h1v1h-1zM33 43h1v1h-1zM42 45h1v1h-1zM20 46h1v1h-1zM34 46h1v1h-1zM19 47h2v1h-2zM33 48h1v1h-1zM32 51h1v1h-1zM8 52h1v1h-1zM40 54h1v1h-1zM31 58h1v1h-1zM31 59h1v1h-1zM36 59h1v1h-1zM9 60h1v1h-1zM8 61h1v1h-1zM36 61h1v1h-1zM31 62h1v1h-1zM40 63h1v1h-1zM34 65h1v1h-1zM43 67h1v1h-1zM36 71h1v1h-1zM45 72h1v1h-1zM20 73h2v1h-2zM37 73h1v1h-1zM18 74h1v1h-1zM23 74h1v1h-1zM42 74h1v1h-1zM24 75h1v1h-1zM42 75h2v1h-2zM25 76h1v1h-1zM30 76h1v1h-1zM42 76h1v1h-1zM24 77h2v1h-2zM42 77h1v1h-1zM26 78h1v1h-1zM42 78h2v1h-2zM42 79h1v1h-1zM10 80h1v1h-1zM32 80h1v1h-1zM42 80h1v1h-1zM2 81h1v1h-1zM8 81h1v1h-1zM27 81h1v1h-1zM33 81h1v1h-1zM42 81h1v1h-1zM2 82h1v1h-1zM5 82h1v1h-1zM42 82h1v1h-1zM2 83h2v1h-2zM44 83h1v1h-1zM2 84h1v1h-1zM28 84h1v1h-1zM42 84h1v1h-1zM2 85h1v1h-1zM42 85h1v1h-1zM28 87h1v1h-1zM27 88h1v1h-1zM43 88h1v1h-1zM45 88h1v1h-1zM31 89h1v1h-1zM21 91h1v1h-1zM34 91h1v1h-1zM44 91h1v1h-1zM20 92h1v1h-1zM42 92h2v1h-2zM19 93h1v1h-1z"/><path fill="#32648e" d="M22 2h1v1h-1zM10 5h1v1h-1zM5 6h1v1h-1zM7 10h1v1h-1zM12 10h1v1h-1zM27 10h1v1h-1zM26 11h1v1h-1zM42 12h1v1h-1zM25 13h1v1h-1zM31 13h1v1h-1zM18 17h1v1h-1zM45 17h1v1h-1zM28 18h1v1h-1zM3 20h1v1h-1zM6 20h1v1h-1zM7 21h1v1h-1zM8 22h1v1h-1zM33 22h1v1h-1zM44 23h1v1h-1zM34 24h1v1h-1zM1 27h1v1h-1zM45 30h1v1h-1zM45 33h1v1h-1zM45 34h1v1h-1zM32 35h1v1h-1zM46 38h1v1h-1zM41 40h1v1h-1zM40 43h1v1h-1zM45 43h1v1h-1zM44 44h1v1h-1zM34 45h1v1h-1zM41 45h1v1h-1zM43 45h1v1h-1zM34 47h1v1h-1zM33 49h1v1h-1zM32 52h1v1h-1zM32 53h1v1h-1zM10 54h1v1h-1zM32 54h1v1h-1zM32 55h1v1h-1zM32 56h1v1h-1zM5 57h1v1h-1zM32 57h1v1h-1zM32 58h1v1h-1zM6 59h1v1h-1zM44 59h1v1h-1zM31 60h1v1h-1zM35 60h1v1h-1zM31 61h1v1h-1zM32 62h2v1h-2zM37 62h1v1h-1zM39 63h1v1h-1zM41 63h1v1h-1zM34 64h1v1h-1zM45 65h1v1h-1zM42 73h1v1h-1zM19 74h4v1h-4zM44 74h1v1h-1zM16 75h1v1h-1zM18 75h2v1h-2zM23 75h1v1h-1zM33 75h1v1h-1zM23 76h2v1h-2zM31 76h1v1h-1zM43 76h1v1h-1zM14 77h1v1h-1zM23 77h1v1h-1zM29 77h1v1h-1zM43 77h1v1h-1zM13 78h1v1h-1zM23 78h3v1h-3zM24 79h3v1h-3zM26 80h1v1h-1zM6 82h1v1h-1zM27 82h1v1h-1zM44 82h1v1h-1zM4 83h1v1h-1zM3 84h1v1h-1zM33 84h1v1h-1zM3 85h1v1h-1zM28 86h2v1h-2zM26 88h1v1h-1zM2 89h1v1h-1zM23 89h1v1h-1zM32 90h1v1h-1zM17 94h1v1h-1zM15 95h1v1h-1z"/><path fill="#31668e" d="M11 7h1v1h-1zM6 9h1v1h-1zM12 11h1v1h-1zM10 12h1v1h-1zM43 13h1v1h-1zM18 18h1v1h-1zM5 19h1v1h-1zM8 19h2v1h-2zM17 19h1v1h-1zM7 20h1v1h-1zM14 20h2v1h-2zM1 26h1v1h-1zM43 26h1v1h-1zM43 27h1v1h-1zM34 29h1v1h-1zM32 32h1v1h-1zM43 37h1v1h-1zM46 39h1v1h-1zM46 40h1v1h-1zM40 41h1v1h-1zM45 44h1v1h-1zM33 50h1v1h-1zM6 53h1v1h-1zM9 53h1v1h-1zM5 54h1v1h-1zM41 54h1v1h-1zM33 57h1v1h-1zM37 57h1v1h-1zM10 58h1v1h-1zM33 58h1v1h-1zM36 58h1v1h-1zM32 59h2v1h-2zM35 59h1v1h-1zM32 60h1v1h-1zM32 61h1v1h-1zM44 62h1v1h-1zM34 63h1v1h-1zM44 65h1v1h-1zM42 71h1v1h-1zM37 72h1v1h-1zM42 72h1v1h-1zM35 74h4v1h-4zM17 75h1v1h-1zM20 75h3v1h-3zM15 76h1v1h-1zM19 76h4v1h-4zM22 77h1v1h-1zM30 77h1v1h-1zM41 77h1v1h-1zM22 78h1v1h-1zM44 78h1v1h-1zM12 79h1v1h-1zM23 79h1v1h-1zM31 79h1v1h-1zM44 79h1v1h-1zM24 80h2v1h-2zM44 80h1v1h-1zM26 81h1v1h-1zM44 81h1v1h-1zM27 83h1v1h-1zM28 85h2v1h-2zM3 86h1v1h-1zM42 86h1v1h-1zM27 87h1v1h-1zM30 87h1v1h-1zM45 87h1v1h-1zM25 88h1v1h-1zM43 89h1v1h-1zM2 90h1v1h-1zM21 90h1v1h-1zM35 91h1v1h-1zM18 93h1v1h-1z"/><path fill="#31688e" d="M22 6h1v1h-1zM5 7h1v1h-1zM12 9h1v1h-1zM7 11h1v1h-1zM18 11h1v1h-1zM9 12h1v1h-1zM11 12h1v1h-1zM17 14h1v1h-1zM33 14h1v1h-1zM17 15h1v1h-1zM17 16h1v1h-1zM45 18h1v1h-1zM4 19h1v1h-1zM6 19h2v1h-2zM10 19h1v1h-1zM31 19h1v1h-1zM45 29h1v1h-1zM33 31h1v1h-1zM32 34h1v1h-1zM46 41h1v1h-1zM34 44h1v1h-1zM40 44h1v1h-1zM34 48h1v1h-1zM33 51h1v1h-1zM33 55h1v1h-1zM39 55h1v1h-1zM33 56h1v1h-1zM38 56h1v1h-1zM43 57h1v1h-1zM34 58h2v1h-2zM34 59h1v1h-1zM7 60h1v1h-1zM33 60h2v1h-2zM33 61h3v1h-3zM34 62h1v1h-1zM38 63h1v1h-1zM42 63h1v1h-1zM43 66h1v1h-1zM35 69h1v1h-1zM42 69h1v1h-1zM42 70h1v1h-1zM45 73h1v1h-1zM34 75h1v1h-1zM44 75h1v1h-1zM18 76h1v1h-1zM32 76h1v1h-1zM41 76h1v1h-1zM20 77h2v1h-2zM44 77h1v1h-1zM21 78h1v1h-1zM30 78h1v1h-1zM41 78h1v1h-1zM22 79h1v1h-1zM41 79h1v1h-1zM23 80h1v1h-1zM24 81h2v1h-2zM26 82h1v1h-1zM4 84h1v1h-1zM27 84h1v1h-1zM30 85h2v1h-2zM27 86h1v1h-1zM45 86h1v1h-1zM26 87h1v1h-1zM24 88h1v1h-1zM22 89h1v1h-1zM20 91h1v1h-1zM19 92h1v1h-1z"/><path fill="#306a8e" d="M22 3h1v1h-1zM10 4h1v1h-1zM6 10h1v1h-1zM12 12h1v1h-1zM38 12h1v1h-1zM41 12h1v1h-1zM17 13h1v1h-1zM31 17h1v1h-1zM31 18h1v1h-1zM45 19h1v1h-1zM44 22h1v1h-1zM1 25h1v1h-1zM43 25h1v1h-1zM35 27h1v1h-1zM43 28h1v1h-1zM33 42h1v1h-1zM46 42h1v1h-1zM46 43h1v1h-1zM45 45h1v1h-1zM35 46h1v1h-1zM42 46h1v1h-1zM34 49h1v1h-1zM7 53h1v1h-1zM40 53h1v1h-1zM33 54h1v1h-1zM5 55h1v1h-1zM10 55h1v1h-1zM5 56h1v1h-1zM34 57h3v1h-3zM45 64h1v1h-1zM42 68h1v1h-1zM38 73h1v1h-1zM38 75h2v1h-2zM41 75h1v1h-1zM40 76h1v1h-1zM44 76h1v1h-1zM19 77h1v1h-1zM31 77h1v1h-1zM20 78h1v1h-1zM21 79h1v1h-1zM22 80h1v1h-1zM41 80h1v1h-1zM23 81h1v1h-1zM25 82h1v1h-1zM5 83h1v1h-1zM26 83h1v1h-1zM27 85h1v1h-1zM32 85h1v1h-1zM30 86h1v1h-1zM3 87h1v1h-1zM25 87h1v1h-1zM42 87h1v1h-1zM31 88h1v1h-1zM43 90h1v1h-1zM36 91h1v1h-1zM43 91h1v1h-1zM16 94h1v1h-1zM14 95h1v1h-1z"/><path fill="#2f6c8e" d="M4 4h1v1h-1zM22 4h1v1h-1zM22 5h1v1h-1zM11 6h1v1h-1zM21 7h1v1h-1zM5 8h1v1h-1zM13 11h1v1h-1zM8 12h1v1h-1zM17 12h1v1h-1zM40 12h1v1h-1zM36 13h1v1h-1zM32 14h1v1h-1zM34 14h1v1h-1zM44 15h1v1h-1zM24 16h1v1h-1zM24 17h1v1h-1zM30 17h1v1h-1zM5 18h2v1h-2zM3 19h1v1h-1zM11 19h1v1h-1zM44 21h1v1h-1zM1 24h1v1h-1zM35 26h1v1h-1zM35 28h1v1h-1zM45 28h1v1h-1zM44 31h1v1h-1zM32 33h1v1h-1zM42 38h1v1h-1zM33 39h1v1h-1zM33 40h1v1h-1zM33 41h1v1h-1zM34 43h1v1h-1zM46 44h1v1h-1zM35 45h1v1h-1zM40 45h1v1h-1zM44 45h1v1h-1zM41 46h1v1h-1zM43 46h1v1h-1zM35 47h1v1h-1zM34 50h1v1h-1zM33 52h1v1h-1zM8 53h1v1h-1zM33 53h1v1h-1zM34 56h1v1h-1zM37 56h1v1h-1zM10 57h1v1h-1zM6 58h1v1h-1zM9 59h1v1h-1zM8 60h1v1h-1zM45 61h1v1h-1zM36 62h1v1h-1zM39 74h1v1h-1zM41 74h1v1h-1zM40 75h1v1h-1zM16 76h2v1h-2zM33 76h1v1h-1zM22 81h1v1h-1zM41 81h1v1h-1zM7 82h1v1h-1zM24 82h1v1h-1zM25 83h1v1h-1zM26 84h1v1h-1zM4 85h1v1h-1zM45 85h1v1h-1zM26 86h1v1h-1zM23 88h1v1h-1zM33 90h1v1h-1zM3 91h1v1h-1zM17 93h1v1h-1z"/><path fill="#2e6e8e" d="M6 2h2v1h-2zM21 2h1v1h-1zM5 3h3v1h-3zM4 5h1v1h-1zM12 8h1v1h-1zM13 10h1v1h-1zM28 11h1v1h-1zM13 12h1v1h-1zM29 12h1v1h-1zM39 12h1v1h-1zM7 18h1v1h-1zM16 19h1v1h-1zM45 20h1v1h-1zM45 27h1v1h-1zM34 30h1v1h-1zM44 35h1v1h-1zM33 38h1v1h-1zM39 42h1v1h-1zM46 45h1v1h-1zM45 46h1v1h-1zM35 48h1v1h-1zM34 51h1v1h-1zM6 54h1v1h-1zM34 55h1v1h-1zM38 55h1v1h-1zM42 55h1v1h-1zM10 56h1v1h-1zM35 56h2v1h-2zM35 62h1v1h-1zM43 63h1v1h-1zM44 64h1v1h-1zM42 67h1v1h-1zM35 75h1v1h-1zM37 75h1v1h-1zM39 76h1v1h-1zM40 77h1v1h-1zM31 78h1v1h-1zM20 79h1v1h-1zM11 80h1v1h-1zM21 80h1v1h-1zM9 81h1v1h-1zM23 82h1v1h-1zM34 82h1v1h-1zM41 82h1v1h-1zM34 83h1v1h-1zM41 83h1v1h-1zM41 84h1v1h-1zM45 84h1v1h-1zM26 85h1v1h-1zM33 85h1v1h-1zM24 87h1v1h-1zM31 87h1v1h-1zM42 88h1v1h-1zM21 89h1v1h-1zM32 89h1v1h-1zM20 90h1v1h-1zM19 91h1v1h-1zM37 91h1v1h-1zM18 92h1v1h-1z"/><path fill="#2d708e" d="M4 3h1v1h-1zM8 3h1v1h-1zM5 9h1v1h-1zM6 11h1v1h-1zM27 11h1v1h-1zM7 12h1v1h-1zM26 12h1v1h-1zM11 13h2v1h-2zM30 13h1v1h-1zM42 13h1v1h-1zM25 14h1v1h-1zM43 14h1v1h-1zM32 15h1v1h-1zM31 16h2v1h-2zM17 17h1v1h-1zM4 18h1v1h-1zM8 18h1v1h-1zM17 18h1v1h-1zM12 19h1v1h-1zM44 20h1v1h-1zM45 21h1v1h-1zM1 23h1v1h-1zM45 26h1v1h-1zM39 43h1v1h-1zM35 44h1v1h-1zM46 46h1v1h-1zM36 47h1v1h-1zM42 47h2v1h-2zM46 47h1v1h-1zM35 49h1v1h-1zM34 52h1v1h-1zM9 54h1v1h-1zM34 54h1v1h-1zM39 54h1v1h-1zM44 58h1v1h-1zM37 63h1v1h-1zM43 65h1v1h-1zM35 68h1v1h-1zM36 70h1v1h-1zM46 70h1v1h-1zM46 71h1v1h-1zM41 73h1v1h-1zM45 74h1v1h-1zM36 75h1v1h-1zM34 76h1v1h-1zM15 77h1v1h-1zM18 77h1v1h-1zM32 77h1v1h-1zM19 78h1v1h-1zM21 81h1v1h-1zM22 82h1v1h-1zM24 83h1v1h-1zM45 83h1v1h-1zM25 84h1v1h-1zM41 85h1v1h-1zM25 86h1v1h-1zM31 86h1v1h-1zM3 88h1v1h-1zM22 88h1v1h-1zM15 94h1v1h-1z"/><path fill="#2c718e" d="M11 5h1v1h-1zM4 6h1v1h-1zM20 8h1v1h-1zM5 10h1v1h-1zM14 11h1v1h-1zM14 12h1v1h-1zM9 13h2v1h-2zM13 13h2v1h-2zM16 13h1v1h-1zM16 14h1v1h-1zM33 15h1v1h-1zM44 16h1v1h-1zM5 17h3v1h-3zM2 19h1v1h-1zM13 19h1v1h-1zM15 19h1v1h-1zM44 19h1v1h-1zM1 22h1v1h-1zM45 22h1v1h-1zM34 23h1v1h-1zM45 23h1v1h-1zM43 24h1v1h-1zM45 24h1v1h-1zM45 25h1v1h-1zM35 29h1v1h-1zM43 29h1v1h-1zM33 32h1v1h-1zM44 32h1v1h-1zM44 33h1v1h-1zM41 39h1v1h-1zM40 40h1v1h-1zM39 41h1v1h-1zM39 44h1v1h-1zM36 46h1v1h-1zM40 46h1v1h-1zM44 46h1v1h-1zM41 47h1v1h-1zM46 48h1v1h-1zM35 50h1v1h-1zM35 51h1v1h-1zM34 53h1v1h-1zM7 54h1v1h-1zM35 55h3v1h-3zM43 56h1v1h-1zM6 57h1v1h-1zM9 58h1v1h-1zM7 59h1v1h-1zM45 60h1v1h-1zM45 62h1v1h-1zM35 63h1v1h-1zM44 63h2v1h-2zM39 64h2v1h-2zM46 69h1v1h-1zM41 72h1v1h-1zM46 72h1v1h-1zM38 76h1v1h-1zM14 78h1v1h-1zM40 78h1v1h-1zM33 80h1v1h-1zM45 82h1v1h-1zM6 83h1v1h-1zM23 83h1v1h-1zM5 84h1v1h-1zM24 84h1v1h-1zM34 84h1v1h-1zM25 85h1v1h-1zM24 86h1v1h-1zM41 86h1v1h-1zM23 87h1v1h-1zM42 89h1v1h-1zM42 90h1v1h-1zM38 91h1v1h-1z"/><path fill="#2c738e" d="M8 2h1v1h-1zM9 3h1v1h-1zM21 3h1v1h-1zM21 6h1v1h-1zM4 7h1v1h-1zM12 7h1v1h-1zM13 9h1v1h-1zM19 9h1v1h-1zM18 10h1v1h-1zM17 11h1v1h-1zM6 12h1v1h-1zM15 12h2v1h-2zM7 13h2v1h-2zM15 13h1v1h-1zM31 14h1v1h-1zM16 15h1v1h-1zM6 16h1v1h-1zM25 17h1v1h-1zM44 17h1v1h-1zM3 18h1v1h-1zM9 18h1v1h-1zM44 18h1v1h-1zM14 19h1v1h-1zM35 25h1v1h-1zM34 31h1v1h-1zM44 34h1v1h-1zM43 36h1v1h-1zM33 37h1v1h-1zM34 42h1v1h-1zM36 45h1v1h-1zM45 47h1v1h-1zM36 48h1v1h-1zM46 49h1v1h-1zM46 50h1v1h-1zM40 52h1v1h-1zM41 53h1v1h-1zM8 54h1v1h-1zM35 54h1v1h-1zM6 55h1v1h-1zM44 57h1v1h-1zM8 59h1v1h-1zM36 63h1v1h-1zM38 64h1v1h-1zM35 67h1v1h-1zM46 68h1v1h-1zM41 71h1v1h-1zM40 74h1v1h-1zM45 75h1v1h-1zM45 76h1v1h-1zM16 77h2v1h-2zM33 77h1v1h-1zM45 77h1v1h-1zM32 78h1v1h-1zM45 78h1v1h-1zM32 79h1v1h-1zM45 79h1v1h-1zM20 80h1v1h-1zM45 80h1v1h-1zM34 81h1v1h-1zM45 81h1v1h-1zM21 82h1v1h-1zM22 83h1v1h-1zM23 84h1v1h-1zM24 85h1v1h-1zM4 86h1v1h-1zM32 88h1v1h-1zM3 90h1v1h-1zM34 90h1v1h-1zM39 91h1v1h-1zM42 91h1v1h-1zM16 93h1v1h-1z"/><path fill="#2b758e" d="M4 8h1v1h-1zM14 10h1v1h-1zM5 11h1v1h-1zM6 13h1v1h-1zM37 13h1v1h-1zM7 14h1v1h-1zM14 14h2v1h-2zM6 15h2v1h-2zM5 16h1v1h-1zM7 16h1v1h-1zM16 16h1v1h-1zM4 17h1v1h-1zM8 17h1v1h-1zM29 17h1v1h-1zM1 21h1v1h-1zM35 43h1v1h-1zM39 45h1v1h-1zM40 47h1v1h-1zM44 47h1v1h-1zM42 48h2v1h-2zM36 49h1v1h-1zM36 50h1v1h-1zM46 51h1v1h-1zM35 52h1v1h-1zM46 52h1v1h-1zM35 53h1v1h-1zM36 54h1v1h-1zM38 54h1v1h-1zM9 55h1v1h-1zM43 55h1v1h-1zM6 56h1v1h-1zM44 56h1v1h-1zM45 59h1v1h-1zM35 64h1v1h-1zM41 64h1v1h-1zM43 64h1v1h-1zM35 65h1v1h-1zM35 66h1v1h-1zM42 66h1v1h-1zM46 66h1v1h-1zM46 67h1v1h-1zM41 69h1v1h-1zM41 70h1v1h-1zM37 71h1v1h-1zM35 76h1v1h-1zM37 76h1v1h-1zM39 77h1v1h-1zM13 79h1v1h-1zM19 79h1v1h-1zM40 79h1v1h-1zM23 85h1v1h-1zM23 86h1v1h-1zM32 86h1v1h-1zM46 86h1v1h-1zM22 87h1v1h-1zM41 87h1v1h-1zM21 88h1v1h-1zM20 89h1v1h-1zM19 90h1v1h-1zM18 91h1v1h-1zM40 91h2v1h-2zM17 92h1v1h-1zM14 94h1v1h-1z"/><path fill="#2a778e" d="M3 3h1v1h-1zM3 4h1v1h-1zM11 4h1v1h-1zM21 4h1v1h-1zM21 5h1v1h-1zM4 9h1v1h-1zM15 11h2v1h-2zM41 13h1v1h-1zM6 14h1v1h-1zM8 14h2v1h-2zM12 14h2v1h-2zM8 15h1v1h-1zM15 15h1v1h-1zM25 15h1v1h-1zM8 16h1v1h-1zM26 17h1v1h-1zM32 17h1v1h-1zM10 18h1v1h-1zM16 18h1v1h-1zM32 20h1v1h-1zM33 36h1v1h-1zM36 44h1v1h-1zM37 46h1v1h-1zM37 47h1v1h-1zM37 48h1v1h-1zM41 48h1v1h-1zM45 48h1v1h-1zM42 49h2v1h-2zM36 51h1v1h-1zM39 53h1v1h-1zM46 53h1v1h-1zM37 54h1v1h-1zM42 54h2v1h-2zM44 55h1v1h-1zM9 56h1v1h-1zM9 57h1v1h-1zM7 58h1v1h-1zM45 58h1v1h-1zM42 64h1v1h-1zM46 65h1v1h-1zM41 68h1v1h-1zM36 76h1v1h-1zM34 77h1v1h-1zM18 78h1v1h-1zM40 80h1v1h-1zM20 81h1v1h-1zM8 82h1v1h-1zM21 83h1v1h-1zM22 84h1v1h-1zM34 85h1v1h-1zM32 87h1v1h-1zM3 89h1v1h-1zM33 89h1v1h-1zM4 91h1v1h-1zM5 92h1v1h-1zM15 93h1v1h-1z"/><path fill="#29798e" d="M10 3h1v1h-1zM3 5h1v1h-1zM12 6h1v1h-1zM4 10h1v1h-1zM5 12h1v1h-1zM28 12h1v1h-1zM29 13h1v1h-1zM10 14h2v1h-2zM5 15h1v1h-1zM31 15h1v1h-1zM4 16h1v1h-1zM3 17h1v1h-1zM9 17h1v1h-1zM16 17h1v1h-1zM27 17h1v1h-1zM2 18h1v1h-1zM11 18h1v1h-1zM1 20h1v1h-1zM43 23h1v1h-1zM36 27h1v1h-1zM36 28h1v1h-1zM35 30h1v1h-1zM43 30h1v1h-1zM42 37h1v1h-1zM38 42h1v1h-1zM38 43h1v1h-1zM39 46h1v1h-1zM40 48h1v1h-1zM44 48h1v1h-1zM37 49h1v1h-1zM37 50h1v1h-1zM42 50h2v1h-2zM40 51h1v1h-1zM42 51h2v1h-2zM36 52h1v1h-1zM42 52h2v1h-2zM36 53h3v1h-3zM42 53h2v1h-2zM46 54h1v1h-1zM7 55h1v1h-1zM46 55h1v1h-1zM46 56h1v1h-1zM45 57h1v1h-1zM8 58h1v1h-1zM46 63h1v1h-1zM37 64h1v1h-1zM46 64h1v1h-1zM42 65h1v1h-1zM38 72h1v1h-1zM39 73h1v1h-1zM46 73h1v1h-1zM33 78h1v1h-1zM10 81h1v1h-1zM40 81h1v1h-1zM20 82h1v1h-1zM40 83h1v1h-1zM21 84h1v1h-1zM40 84h1v1h-1zM22 85h1v1h-1zM46 85h1v1h-1zM22 86h1v1h-1zM33 86h1v1h-1zM21 87h1v1h-1zM41 88h1v1h-1z"/><path fill="#297b8e" d="M9 2h1v1h-1zM20 2h1v1h-1zM3 6h1v1h-1zM20 7h1v1h-1zM13 8h1v1h-1zM27 12h1v1h-1zM5 13h1v1h-1zM26 13h1v1h-1zM5 14h1v1h-1zM35 14h1v1h-1zM9 15h1v1h-1zM14 15h1v1h-1zM9 16h1v1h-1zM25 16h1v1h-1zM30 16h1v1h-1zM28 17h1v1h-1zM15 18h1v1h-1zM43 31h1v1h-1zM33 33h1v1h-1zM34 41h1v1h-1zM38 44h1v1h-1zM37 45h2v1h-2zM38 46h1v1h-1zM38 47h2v1h-2zM38 48h1v1h-1zM38 49h1v1h-1zM41 49h1v1h-1zM44 49h2v1h-2zM41 50h1v1h-1zM37 51h1v1h-1zM41 51h1v1h-1zM37 52h1v1h-1zM39 52h1v1h-1zM41 52h1v1h-1zM44 54h1v1h-1zM8 55h1v1h-1zM7 56h1v1h-1zM7 57h1v1h-1zM46 57h1v1h-1zM46 58h1v1h-1zM46 62h1v1h-1zM36 64h1v1h-1zM41 67h1v1h-1zM36 69h1v1h-1zM40 73h1v1h-1zM35 77h1v1h-1zM38 77h1v1h-1zM15 78h1v1h-1zM17 78h1v1h-1zM39 78h1v1h-1zM12 80h1v1h-1zM19 80h1v1h-1zM40 82h1v1h-1zM5 85h1v1h-1zM21 85h1v1h-1zM40 85h1v1h-1zM21 86h1v1h-1zM4 87h1v1h-1zM20 88h1v1h-1zM41 89h1v1h-1zM35 90h1v1h-1zM16 92h1v1h-1z"/><path fill="#287d8e" d="M3 7h1v1h-1zM14 9h1v1h-1zM15 10h1v1h-1zM17 10h1v1h-1zM4 11h1v1h-1zM38 13h1v1h-1zM30 14h1v1h-1zM4 15h1v1h-1zM10 15h1v1h-1zM13 15h1v1h-1zM15 16h1v1h-1zM12 18h1v1h-1zM14 18h1v1h-1zM32 18h1v1h-1zM1 19h1v1h-1zM33 21h1v1h-1zM36 29h1v1h-1zM43 32h1v1h-1zM33 35h1v1h-1zM38 41h1v1h-1zM35 42h1v1h-1zM36 43h1v1h-1zM37 44h1v1h-1zM39 48h1v1h-1zM39 49h2v1h-2zM38 50h3v1h-3zM44 50h1v1h-1zM38 51h2v1h-2zM38 52h1v1h-1zM44 52h1v1h-1zM44 53h1v1h-1zM8 56h1v1h-1zM45 56h1v1h-1zM8 57h1v1h-1zM46 59h1v1h-1zM46 60h1v1h-1zM46 61h1v1h-1zM16 78h1v1h-1zM34 78h1v1h-1zM18 79h1v1h-1zM33 79h1v1h-1zM20 83h1v1h-1zM46 84h1v1h-1zM40 86h1v1h-1zM33 88h1v1h-1zM17 91h1v1h-1zM11 94h3v1h-3z"/><path fill="#277f8e" d="M11 3h1v1h-1zM12 5h1v1h-1zM3 8h1v1h-1zM4 12h1v1h-1zM40 13h1v1h-1zM4 14h1v1h-1zM42 14h1v1h-1zM11 15h2v1h-2zM3 16h1v1h-1zM10 16h1v1h-1zM33 16h1v1h-1zM2 17h1v1h-1zM10 17h1v1h-1zM15 17h1v1h-1zM13 18h1v1h-1zM43 22h1v1h-1zM34 32h1v1h-1zM43 33h1v1h-1zM43 35h1v1h-1zM41 38h1v1h-1zM40 39h1v1h-1zM34 40h1v1h-1zM39 40h1v1h-1zM37 43h1v1h-1zM45 50h1v1h-1zM44 51h1v1h-1zM45 55h1v1h-1zM38 65h1v1h-1zM40 72h1v1h-1zM46 74h1v1h-1zM36 77h2v1h-2zM7 83h1v1h-1zM6 84h1v1h-1zM20 84h1v1h-1zM34 86h1v1h-1zM20 87h1v1h-1zM33 87h1v1h-1zM19 89h1v1h-1zM18 90h1v1h-1zM36 90h1v1h-1zM41 90h1v1h-1zM6 92h1v1h-1z"/><path fill="#26818e" d="M19 1h1v1h-1zM10 2h1v1h-1zM19 2h1v1h-1zM2 3h1v1h-1zM2 4h1v1h-1zM3 9h1v1h-1zM16 10h1v1h-1zM4 13h1v1h-1zM43 15h1v1h-1zM14 16h1v1h-1zM11 17h1v1h-1zM1 18h1v1h-1zM32 19h1v1h-1zM36 26h1v1h-1zM42 26h1v1h-1zM42 27h1v1h-1zM35 31h1v1h-1zM33 34h1v1h-1zM37 42h1v1h-1zM45 51h1v1h-1zM45 52h1v1h-1zM45 53h1v1h-1zM45 54h1v1h-1zM36 65h1v1h-1zM39 65h1v1h-1zM41 65h1v1h-1zM41 66h1v1h-1zM40 71h1v1h-1zM46 75h1v1h-1zM35 78h1v1h-1zM38 78h1v1h-1zM39 79h1v1h-1zM34 80h1v1h-1zM35 82h1v1h-1zM46 83h1v1h-1zM20 85h1v1h-1zM20 86h1v1h-1zM40 87h1v1h-1zM34 89h1v1h-1z"/><path fill="#26828e" d="M2 5h1v1h-1zM20 6h1v1h-1zM19 8h1v1h-1zM3 10h1v1h-1zM28 13h1v1h-1zM39 13h1v1h-1zM26 14h1v1h-1zM3 15h1v1h-1zM30 15h1v1h-1zM34 15h1v1h-1zM11 16h3v1h-3zM14 17h1v1h-1zM35 24h1v1h-1zM42 28h1v1h-1zM36 30h1v1h-1zM43 34h1v1h-1zM34 39h1v1h-1zM36 42h1v1h-1zM37 65h1v1h-1zM40 65h1v1h-1zM36 68h1v1h-1zM40 68h1v1h-1zM40 69h1v1h-1zM37 70h1v1h-1zM40 70h1v1h-1zM39 72h1v1h-1zM46 76h1v1h-1zM14 79h1v1h-1zM17 79h1v1h-1zM34 79h1v1h-1zM19 81h1v1h-1zM35 81h1v1h-1zM46 82h1v1h-1zM35 83h1v1h-1zM40 88h1v1h-1zM4 90h1v1h-1zM5 91h1v1h-1zM8 93h1v1h-1zM14 93h1v1h-1z"/><path fill="#25848e" d="M11 2h1v1h-1zM12 4h1v1h-1zM2 6h1v1h-1zM13 7h1v1h-1zM18 9h1v1h-1zM3 11h1v1h-1zM27 13h1v1h-1zM29 14h1v1h-1zM2 16h1v1h-1zM26 16h1v1h-1zM29 16h1v1h-1zM12 17h2v1h-2zM43 21h1v1h-1zM37 28h1v1h-1zM42 30h1v1h-1zM42 31h1v1h-1zM35 41h1v1h-1zM37 41h1v1h-1zM36 66h1v1h-1zM38 71h1v1h-1zM46 77h1v1h-1zM18 80h1v1h-1zM39 80h1v1h-1zM11 81h1v1h-1zM46 81h1v1h-1zM9 82h1v1h-1zM35 84h1v1h-1zM5 86h1v1h-1zM4 88h1v1h-1zM40 89h1v1h-1zM37 90h1v1h-1zM15 92h1v1h-1z"/><path fill="#24868e" d="M18 2h1v1h-1zM20 3h1v1h-1zM20 5h1v1h-1zM2 7h1v1h-1zM15 9h1v1h-1zM3 12h1v1h-1zM3 13h1v1h-1zM3 14h1v1h-1zM26 15h1v1h-1zM1 17h1v1h-1zM34 22h1v1h-1zM42 25h1v1h-1zM37 29h1v1h-1zM42 29h1v1h-1zM42 36h1v1h-1zM36 67h1v1h-1zM40 67h1v1h-1zM36 78h2v1h-2zM46 78h1v1h-1zM35 79h1v1h-1zM46 79h1v1h-1zM46 80h1v1h-1zM39 81h1v1h-1zM19 82h1v1h-1zM39 82h1v1h-1zM39 83h1v1h-1zM39 84h1v1h-1zM39 85h1v1h-1zM34 87h1v1h-1zM19 88h1v1h-1zM34 88h1v1h-1zM38 90h1v1h-1zM40 90h1v1h-1zM16 91h1v1h-1zM9 93h1v1h-1z"/><path fill="#23888e" d="M12 2h1v1h-1zM17 2h1v1h-1zM12 3h1v1h-1zM20 4h1v1h-1zM2 8h1v1h-1zM14 8h1v1h-1zM36 14h1v1h-1zM42 32h1v1h-1zM36 41h1v1h-1zM40 66h1v1h-1zM15 79h2v1h-2zM38 79h1v1h-1zM35 85h1v1h-1zM39 86h1v1h-1zM4 89h1v1h-1zM35 89h1v1h-1zM17 90h1v1h-1zM39 90h1v1h-1zM7 92h1v1h-1z"/><path fill="#238a8d" d="M13 2h1v1h-1zM13 6h1v1h-1zM2 9h1v1h-1zM28 14h1v1h-1zM41 14h1v1h-1zM2 15h1v1h-1zM43 20h1v1h-1zM36 31h1v1h-1zM34 33h1v1h-1zM34 38h1v1h-1zM38 40h1v1h-1zM37 66h2v1h-2zM39 71h1v1h-1zM36 79h1v1h-1zM13 80h1v1h-1zM35 80h1v1h-1zM19 83h1v1h-1zM35 86h1v1h-1zM19 87h1v1h-1zM39 87h1v1h-1zM39 88h1v1h-1zM18 89h1v1h-1zM10 93h1v1h-1z"/><path fill="#228c8d" d="M14 2h3v1h-3zM16 9h2v1h-2zM1 10h2v1h-2zM2 14h1v1h-1zM27 14h1v1h-1zM29 15h1v1h-1zM1 16h1v1h-1zM27 16h2v1h-2zM43 16h1v1h-1zM37 27h1v1h-1zM41 29h1v1h-1zM37 30h1v1h-1zM41 30h1v1h-1zM35 32h1v1h-1zM42 33h1v1h-1zM41 37h1v1h-1zM39 66h1v1h-1zM39 68h1v1h-1zM37 69h1v1h-1zM39 69h1v1h-1zM37 79h1v1h-1zM17 80h1v1h-1zM38 80h1v1h-1zM18 81h1v1h-1zM19 84h1v1h-1zM6 85h1v1h-1zM19 85h1v1h-1zM19 86h1v1h-1zM35 87h1v1h-1z"/><path fill="#218e8d" d="M13 3h1v1h-1zM19 7h1v1h-1zM2 11h1v1h-1zM2 12h1v1h-1zM2 13h1v1h-1zM33 17h1v1h-1zM43 19h1v1h-1zM36 25h1v1h-1zM38 29h1v1h-1zM41 31h1v1h-1zM40 38h1v1h-1zM39 39h1v1h-1zM37 67h1v1h-1zM39 67h1v1h-1zM38 70h2v1h-2zM36 80h1v1h-1zM36 81h1v1h-1zM38 81h1v1h-1zM38 82h1v1h-1zM8 83h1v1h-1zM38 83h1v1h-1zM38 84h1v1h-1zM38 85h1v1h-1zM38 86h1v1h-1zM35 88h1v1h-1zM36 89h1v1h-1zM39 89h1v1h-1zM6 91h1v1h-1zM11 93h1v1h-1zM13 93h1v1h-1z"/><path fill="#21908d" d="M13 5h1v1h-1zM27 15h1v1h-1zM43 17h1v1h-1zM43 18h1v1h-1zM42 24h1v1h-1zM38 30h1v1h-1zM34 37h1v1h-1zM37 68h1v1h-1zM37 80h1v1h-1zM36 82h1v1h-1zM36 83h1v1h-1zM5 87h1v1h-1zM38 87h1v1h-1zM5 90h1v1h-1zM8 92h1v1h-1zM14 92h1v1h-1zM12 93h1v1h-1z"/><path fill="#20928c" d="M13 4h1v1h-1zM14 7h1v1h-1zM37 14h1v1h-1zM1 15h1v1h-1zM28 15h1v1h-1zM42 15h1v1h-1zM41 27h1v1h-1zM38 28h1v1h-1zM41 28h1v1h-1zM40 29h1v1h-1zM40 30h1v1h-1zM41 32h1v1h-1zM42 34h1v1h-1zM42 35h1v1h-1zM35 40h1v1h-1zM38 67h1v1h-1zM38 68h1v1h-1zM38 69h1v1h-1zM12 81h1v1h-1zM37 81h1v1h-1zM10 82h1v1h-1zM37 82h1v1h-1zM37 83h1v1h-1zM7 84h1v1h-1zM36 84h2v1h-2zM36 85h2v1h-2zM36 86h2v1h-2zM38 88h1v1h-1zM37 89h1v1h-1z"/><path fill="#20938c" d="M14 3h1v1h-1zM19 3h1v1h-1zM15 8h1v1h-1zM35 15h1v1h-1zM35 23h1v1h-1zM39 29h1v1h-1zM39 30h1v1h-1zM37 31h1v1h-1zM40 31h1v1h-1zM34 34h1v1h-1zM34 36h1v1h-1zM37 40h1v1h-1zM16 80h1v1h-1zM18 82h1v1h-1zM36 87h2v1h-2zM36 88h1v1h-1zM38 89h1v1h-1zM15 91h1v1h-1z"/><path fill="#1f958b" d="M18 8h1v1h-1zM1 14h1v1h-1zM40 14h1v1h-1zM41 26h1v1h-1zM40 28h1v1h-1zM36 40h1v1h-1zM14 80h1v1h-1zM18 88h1v1h-1zM37 88h1v1h-1zM16 90h1v1h-1z"/><path fill="#1f978b" d="M19 6h1v1h-1zM1 11h1v1h-1zM1 12h1v1h-1zM1 13h1v1h-1zM34 16h1v1h-1zM33 20h1v1h-1zM37 26h1v1h-1zM39 28h1v1h-1zM36 32h1v1h-1zM34 35h1v1h-1zM15 80h1v1h-1zM17 81h1v1h-1zM5 88h1v1h-1zM17 89h1v1h-1zM9 92h1v1h-1z"/><path fill="#1f998a" d="M15 3h1v1h-1zM38 14h1v1h-1zM33 18h1v1h-1zM39 31h1v1h-1zM35 33h1v1h-1zM41 36h1v1h-1zM18 83h1v1h-1zM6 86h1v1h-1zM5 89h1v1h-1zM7 91h1v1h-1z"/><path fill="#1e9b8a" d="M16 3h3v1h-3zM14 6h1v1h-1zM16 8h1v1h-1zM39 14h1v1h-1zM42 23h1v1h-1zM38 27h1v1h-1zM38 31h1v1h-1zM41 33h1v1h-1zM38 39h1v1h-1zM18 87h1v1h-1z"/><path fill="#1e9d89" d="M14 4h1v1h-1zM19 4h1v1h-1zM19 5h1v1h-1zM17 8h1v1h-1zM33 19h1v1h-1zM36 24h1v1h-1zM41 25h1v1h-1zM40 27h1v1h-1zM40 32h1v1h-1zM40 37h1v1h-1zM39 38h1v1h-1zM35 39h1v1h-1zM11 82h1v1h-1zM9 83h1v1h-1zM18 84h1v1h-1zM7 85h1v1h-1zM18 85h1v1h-1zM18 86h1v1h-1zM6 90h1v1h-1zM10 92h1v1h-1zM13 92h1v1h-1z"/><path fill="#1f9f88" d="M14 5h1v1h-1zM15 7h1v1h-1zM39 27h1v1h-1zM13 81h1v1h-1z"/><path fill="#1fa188" d="M18 7h1v1h-1zM34 21h1v1h-1zM37 32h1v1h-1zM41 34h1v1h-1zM41 35h1v1h-1zM16 81h1v1h-1zM17 82h1v1h-1zM8 91h1v1h-1zM14 91h1v1h-1zM11 92h1v1h-1z"/><path fill="#1fa287" d="M41 15h1v1h-1zM40 26h1v1h-1zM35 34h1v1h-1zM36 39h2v1h-2zM8 84h1v1h-1zM12 92h1v1h-1z"/><path fill="#20a486" d="M15 4h1v1h-1zM42 16h1v1h-1zM37 25h1v1h-1zM36 33h1v1h-1zM6 87h1v1h-1zM15 90h1v1h-1z"/><path fill="#21a685" d="M15 6h1v1h-1zM16 7h1v1h-1zM36 15h1v1h-1zM42 22h1v1h-1zM38 26h1v1h-1zM39 32h1v1h-1zM35 38h1v1h-1zM15 81h1v1h-1zM17 88h1v1h-1zM16 89h1v1h-1z"/><path fill="#22a884" d="M18 4h1v1h-1zM18 6h1v1h-1zM34 17h1v1h-1zM38 32h1v1h-1zM40 33h1v1h-1zM40 36h1v1h-1zM14 81h1v1h-1zM12 82h1v1h-1zM17 83h1v1h-1zM6 89h1v1h-1zM7 90h1v1h-1z"/><path fill="#24aa83" d="M16 4h1v1h-1zM15 5h1v1h-1zM17 7h1v1h-1zM35 22h1v1h-1zM39 26h1v1h-1zM35 35h1v1h-1zM39 37h1v1h-1zM38 38h1v1h-1zM10 83h1v1h-1zM7 86h1v1h-1zM6 88h1v1h-1zM9 91h1v1h-1z"/><path fill="#25ac82" d="M17 4h1v1h-1zM41 24h1v1h-1zM35 37h1v1h-1zM16 82h1v1h-1zM17 87h1v1h-1zM13 91h1v1h-1z"/><path fill="#27ad81" d="M18 5h1v1h-1zM40 15h1v1h-1zM35 16h1v1h-1zM42 17h1v1h-1zM42 21h1v1h-1zM40 25h1v1h-1zM37 33h1v1h-1zM35 36h1v1h-1zM17 84h1v1h-1z"/><path fill="#29af7f" d="M16 6h1v1h-1zM40 34h1v1h-1zM40 35h1v1h-1zM8 85h1v1h-1zM17 85h1v1h-1zM17 86h1v1h-1zM14 90h1v1h-1zM10 91h1v1h-1z"/><path fill="#2cb17e" d="M16 5h1v1h-1zM17 6h1v1h-1zM42 20h1v1h-1zM39 33h1v1h-1zM36 34h1v1h-1zM36 38h2v1h-2z"/><path fill="#2eb37c" d="M17 5h1v1h-1zM37 15h1v1h-1zM42 18h1v1h-1zM42 19h1v1h-1zM36 23h1v1h-1zM38 25h1v1h-1zM13 82h1v1h-1zM9 84h1v1h-1zM8 90h1v1h-1z"/><path fill="#31b57b" d="M34 18h1v1h-1zM39 36h1v1h-1zM15 82h1v1h-1zM11 83h1v1h-1zM7 87h1v1h-1zM16 88h1v1h-1zM7 89h1v1h-1zM11 91h2v1h-2z"/><path fill="#34b679" d="M39 15h1v1h-1zM34 20h1v1h-1zM37 24h1v1h-1zM38 33h1v1h-1zM38 37h1v1h-1zM16 83h1v1h-1zM15 89h1v1h-1z"/><path fill="#37b878" d="M38 15h1v1h-1zM41 16h1v1h-1zM39 25h1v1h-1zM14 82h1v1h-1z"/><path fill="#3aba76" d="M34 19h1v1h-1zM39 34h1v1h-1zM36 35h1v1h-1zM8 86h1v1h-1zM7 88h1v1h-1zM9 90h1v1h-1zM13 90h1v1h-1z"/><path fill="#3dbc74" d="M41 23h1v1h-1zM37 34h1v1h-1zM39 35h1v1h-1zM36 37h2v1h-2zM16 84h1v1h-1z"/><path fill="#40bd72" d="M12 83h1v1h-1zM16 87h1v1h-1z"/><path fill="#44bf70" d="M36 16h1v1h-1zM40 24h1v1h-1zM36 36h1v1h-1zM38 36h1v1h-1zM15 83h1v1h-1zM10 84h1v1h-1zM9 85h1v1h-1zM16 85h1v1h-1zM8 89h1v1h-1zM14 89h1v1h-1z"/><path fill="#48c16e" d="M35 17h1v1h-1zM38 34h1v1h-1zM16 86h1v1h-1zM10 90h1v1h-1z"/><path fill="#4cc26c" d="M35 21h1v1h-1zM8 87h1v1h-1zM12 90h1v1h-1z"/><path fill="#50c46a" d="M37 35h2v1h-2zM37 36h1v1h-1zM13 83h1v1h-1zM15 88h1v1h-1zM11 90h1v1h-1z"/><path fill="#54c568" d="M40 16h1v1h-1zM41 17h1v1h-1zM41 22h1v1h-1zM14 83h1v1h-1zM8 88h1v1h-1zM13 89h1v1h-1z"/><path fill="#58c765" d="M38 24h1v1h-1zM15 84h1v1h-1zM9 89h1v1h-1z"/><path fill="#5cc863" d="M11 84h1v1h-1zM9 86h1v1h-1z"/><path fill="#60ca60" d="M36 22h1v1h-1zM39 24h1v1h-1z"/><path fill="#65cb5e" d="M10 85h1v1h-1zM15 85h1v1h-1zM15 87h1v1h-1zM12 89h1v1h-1z"/><path fill="#69cd5b" d="M37 16h1v1h-1zM39 16h1v1h-1zM35 18h1v1h-1zM41 18h1v1h-1zM41 21h1v1h-1zM37 23h1v1h-1zM12 84h1v1h-1zM15 86h1v1h-1zM14 88h1v1h-1zM10 89h1v1h-1z"/><path fill="#6ece58" d="M14 84h1v1h-1zM9 87h1v1h-1zM9 88h1v1h-1zM11 89h1v1h-1z"/><path fill="#73d056" d="M38 16h1v1h-1zM41 19h1v1h-1zM41 20h1v1h-1zM40 23h1v1h-1zM13 84h1v1h-1z"/><path fill="#77d153" d="M36 17h1v1h-1zM35 20h1v1h-1zM13 88h1v1h-1z"/><path fill="#7cd250" d="M35 19h1v1h-1zM10 86h1v1h-1z"/><path fill="#81d34d" d="M11 85h1v1h-1zM14 85h1v1h-1zM14 87h1v1h-1zM10 88h1v1h-1z"/><path fill="#86d549" d="M40 17h1v1h-1zM12 88h1v1h-1z"/><path fill="#8bd646" d="M14 86h1v1h-1zM10 87h1v1h-1zM11 88h1v1h-1z"/><path fill="#90d743" d="M12 85h2v1h-2z"/><path fill="#95d840" d="M40 22h1v1h-1zM13 87h1v1h-1z"/><path fill="#9bd93c" d="M38 23h2v1h-2zM11 86h1v1h-1z"/><path fill="#a0da39" d="M36 21h1v1h-1zM13 86h1v1h-1zM11 87h2v1h-2z"/><path fill="#a5db36" d="M36 18h1v1h-1zM12 86h1v1h-1z"/><path fill="#aadc32" d="M37 17h1v1h-1zM39 17h1v1h-1zM40 18h1v1h-1z"/><path fill="#b0dd2f" d="M37 22h1v1h-1z"/><path fill="#b5de2b" d="M40 21h1v1h-1z"/><path fill="#bade28" d="M38 17h1v1h-1z"/><path fill="#c0df25" d="M40 19h1v1h-1z"/><path fill="#c5e021" d="M36 19h1v1h-1zM36 20h1v1h-1zM40 20h1v1h-1z"/><path fill="#cae11f" d="M39 22h1v1h-1z"/><path fill="#d5e21a" d="M38 22h1v1h-1z"/><path fill="#dfe318" d="M39 18h1v1h-1z"/><path fill="#e5e419" d="M37 18h1v1h-1z"/><path fill="#eae51a" d="M37 21h1v1h-1zM39 21h1v1h-1z"/><path fill="#f4e61e" d="M38 18h1v1h-1z"/><path fill="#f8e621" d="M39 19h1v1h-1z"/><path fill="#fde725" d="M37 19h2v1h-2zM37 20h3v1h-3zM38 21h1v1h-1z"/></g>
<use href="#pp" x="1135.80" y="0.00"/>
<rect class="s" x="1216.5" y="78.5" width="279.0" height="547.0"/><path class="k" d="M1221.5 625.5v4.86M1287.5 625.5v4.86M1352.5 625.5v4.86M1418.5 625.5v4.86M1483.5 625.5v4.86M1216.5 620.5h-4.86M1216.5 555.5h-4.86M1216.5 489.5h-4.86M1216.5 424.5h-4.86M1216.5 358.5h-4.86M1216.5 293.5h-4.86M1216.5 227.5h-4.86M1216.5 162.5h-4.86M1216.5 96.5h-4.86"/><text class="h" text-anchor="middle" x="1356.0" y="70.2">source_density[Number/degree^2]</text>
<rect x="1510.5" y="130.5" width="23.0" height="444.0" fill="url(#vg)" class="k"/><text class="t" x="1542.6" y="510.5">0</text><text class="t" x="1542.6" y="437.5">5000</text><text class="t" x="1542.6" y="364.5">10000</text><text class="t" x="1542.6" y="291.5">15000</text><text class="t" x="1542.6" y="218.5">20000</text><text class="t" x="1542.6" y="145.5">25000</text><path class="k" d="M1533.5 505.5h4.86M1533.5 432.5h4.86M1533.5 359.5h4.86M1533.5 286.5h4.86M1533.5 213.5h4.86M1533.5 140.5h4.86"/>
<g transform="translate(85.40,763.00) scale(5.5780,5.4640)" shape-rendering="crispEdges"><path fill="#440256" d="M2 3h3v1h-3zM2 4h1v1h-1z"/><path fill="#450559" d="M8 2h1v1h-1zM5 3h1v1h-1zM3 4h1v1h-1z"/><path fill="#46085c" d="M6 2h1v1h-1zM9 2h1v1h-1zM6 3h1v1h-1zM4 4h1v1h-1z"/><path fill="#460b5e" d="M7 2h1v1h-1zM10 2h1v1h-1zM7 3h1v1h-1zM5 4h1v1h-1zM2 5h1v1h-1z"/><path fill="#470e61" d="M11 2h1v1h-1zM8 3h1v1h-1zM6 4h1v1h-1zM3 5h1v1h-1z"/><path fill="#471164" d="M12 2h1v1h-1zM9 3h1v1h-1zM7 4h1v1h-1zM4 5h1v1h-1zM2 6h1v1h-1z"/><path fill="#481467" d="M13 2h1v1h-1zM10 3h1v1h-1zM8 4h1v1h-1zM5 5h1v1h-1zM3 6h1v1h-1z"/><path fill="#481769" d="M14 2h1v1h-1zM11 3h1v1h-1zM9 4h1v1h-1zM6 5h1v1h-1zM4 6h1v1h-1z"/><path fill="#481a6c" d="M15 2h1v1h-1zM12 3h1v1h-1zM10 4h1v1h-1zM7 5h1v1h-1zM5 6h1v1h-1zM2 7h1v1h-1z"/><path fill="#481c6e" d="M13 3h1v1h-1zM11 4h1v1h-1zM8 5h2v1h-2zM6 6h1v1h-1zM3 7h1v1h-1z"/><path fill="#481f70" d="M16 2h1v1h-1zM14 3h1v1h-1zM12 4h1v1h-1zM10 5h1v1h-1zM7 6h1v1h-1zM4 7h1v1h-1zM2 8h1v1h-1z"/><path fill="#482173" d="M17 2h1v1h-1zM15 3h1v1h-1zM13 4h1v1h-1zM11 5h1v1h-1zM8 6h1v1h-1zM5 7h2v1h-2zM3 8h1v1h-1z"/><path fill="#482475" d="M20 1h1v1h-1zM18 2h1v1h-1zM16 3h1v1h-1zM14 4h1v1h-1zM12 5h1v1h-1zM9 6h2v1h-2zM7 7h1v1h-1zM4 8h1v1h-1z"/><path fill="#482677" d="M19 1h1v1h-1zM21 1h1v1h-1zM19 2h1v1h-1zM17 3h2v1h-2zM15 4h1v1h-1zM13 5h1v1h-1zM11 6h1v1h-1zM8 7h1v1h-1zM5 8h1v1h-1zM2 9h1v1h-1z"/><path fill="#482979" d="M22 1h1v1h-1zM20 2h1v1h-1zM19 3h1v1h-1zM16 4h2v1h-2zM14 5h1v1h-1zM12 6h1v1h-1zM9 7h1v1h-1zM6 8h1v1h-1zM3 9h1v1h-1z"/><path fill="#472c7a" d="M23 1h1v1h-1zM21 2h1v1h-1zM20 3h1v1h-1zM18 4h1v1h-1zM15 5h1v1h-1zM13 6h1v1h-1zM10 7h2v1h-2zM7 8h2v1h-2zM4 9h2v1h-2zM1 10h2v1h-2z"/><path fill="#472e7c" d="M24 1h1v1h-1zM22 2h1v1h-1zM21 3h1v1h-1zM19 4h1v1h-1zM16 5h2v1h-2zM14 6h1v1h-1zM12 7h1v1h-1zM9 8h1v1h-1zM6 9h1v1h-1zM3 10h1v1h-1z"/><path fill="#46307e" d="M25 1h1v1h-1zM23 2h1v1h-1zM22 3h1v1h-1zM20 4h1v1h-1zM18 5h1v1h-1zM15 6h1v1h-1zM13 7h1v1h-1zM10 8h1v1h-1zM7 9h1v1h-1zM4 10h1v1h-1z"/><path fill="#46337f" d="M26 1h1v1h-1zM24 2h1v1h-1zM23 3h1v1h-1zM21 4h1v1h-1zM19 5h1v1h-1zM16 6h2v1h-2zM14 7h1v1h-1zM11 8h2v1h-2zM8 9h2v1h-2zM5 10h2v1h-2zM2 11h1v1h-1z"/><path fill="#453581" d="M25 2h1v1h-1zM22 4h1v1h-1zM20 5h1v1h-1zM18 6h1v1h-1zM15 7h2v1h-2zM13 8h1v1h-1zM10 9h1v1h-1zM7 10h1v1h-1zM3 11h2v1h-2z"/><path fill="#453882" d="M27 1h1v1h-1zM26 2h1v1h-1zM24 3h1v1h-1zM23 4h1v1h-1zM21 5h1v1h-1zM19 6h1v1h-1zM17 7h1v1h-1zM14 8h1v1h-1zM11 9h2v1h-2zM8 10h2v1h-2zM1 11h1v1h-1zM5 11h1v1h-1zM1 12h2v1h-2z"/><path fill="#443a83" d="M28 1h1v1h-1zM27 2h1v1h-1zM25 3h1v1h-1zM24 4h1v1h-1zM22 5h1v1h-1zM20 6h1v1h-1zM18 7h1v1h-1zM15 8h2v1h-2zM13 9h1v1h-1zM10 10h1v1h-1zM6 11h2v1h-2zM3 12h1v1h-1z"/><path fill="#433d84" d="M29 1h1v1h-1zM28 2h1v1h-1zM26 3h1v1h-1zM25 4h1v1h-1zM23 5h1v1h-1zM21 6h1v1h-1zM19 7h1v1h-1zM17 8h1v1h-1zM14 9h1v1h-1zM11 10h2v1h-2zM8 11h1v1h-1zM4 12h2v1h-2zM1 13h1v1h-1z"/><path fill="#423f85" d="M30 1h1v1h-1zM27 3h1v1h-1zM26 4h1v1h-1zM24 5h1v1h-1zM22 6h1v1h-1zM20 7h1v1h-1zM18 8h1v1h-1zM15 9h2v1h-2zM13 10h1v1h-1zM9 11h2v1h-2zM6 12h2v1h-2zM2 13h2v1h-2z"/><path fill="#424186" d="M31 0h1v1h-1zM31 1h1v1h-1zM29 2h1v1h-1zM28 3h1v1h-1zM27 4h1v1h-1zM25 5h1v1h-1zM23 6h1v1h-1zM21 7h1v1h-1zM19 8h1v1h-1zM17 9h1v1h-1zM14 10h2v1h-2zM11 11h2v1h-2zM8 12h1v1h-1zM4 13h2v1h-2zM1 14h1v1h-1z"/><path fill="#414487" d="M30 2h1v1h-1zM29 3h1v1h-1zM26 5h1v1h-1zM24 6h1v1h-1zM22 7h2v1h-2zM20 8h2v1h-2zM18 9h1v1h-1zM16 10h1v1h-1zM13 11h1v1h-1zM9 12h2v1h-2zM6 13h1v1h-1zM2 14h1v1h-1z"/><path fill="#404688" d="M32 0h1v1h-1zM32 1h1v1h-1zM31 2h1v1h-1zM30 3h1v1h-1zM28 4h1v1h-1zM27 5h1v1h-1zM25 6h1v1h-1zM24 7h1v1h-1zM22 8h1v1h-1zM19 9h2v1h-2zM17 10h1v1h-1zM14 11h2v1h-2zM11 12h2v1h-2zM7 13h2v1h-2zM3 14h2v1h-2z"/><path fill="#3f4889" d="M33 0h1v1h-1zM33 1h1v1h-1zM32 2h1v1h-1zM31 3h1v1h-1zM29 4h1v1h-1zM28 5h1v1h-1zM26 6h1v1h-1zM25 7h1v1h-1zM23 8h1v1h-1zM21 9h1v1h-1zM18 10h2v1h-2zM16 11h1v1h-1zM13 12h1v1h-1zM9 13h2v1h-2zM5 14h2v1h-2zM1 15h2v1h-2z"/><path fill="#3e4a89" d="M34 1h1v1h-1zM30 4h1v1h-1zM29 5h1v1h-1zM27 6h1v1h-1zM26 7h1v1h-1zM24 8h1v1h-1zM22 9h1v1h-1zM20 10h1v1h-1zM17 11h2v1h-2zM14 12h2v1h-2zM11 13h2v1h-2zM7 14h2v1h-2zM3 15h2v1h-2z"/><path fill="#3d4d8a" d="M33 2h1v1h-1zM32 3h1v1h-1zM31 4h1v1h-1zM30 5h1v1h-1zM28 6h1v1h-1zM27 7h1v1h-1zM25 8h1v1h-1zM23 9h2v1h-2zM21 10h2v1h-2zM19 11h1v1h-1zM16 12h2v1h-2zM13 13h2v1h-2zM9 14h2v1h-2zM5 15h2v1h-2zM1 16h2v1h-2z"/><path fill="#3c4f8a" d="M35 1h1v1h-1zM34 2h1v1h-1zM33 3h1v1h-1zM32 4h1v1h-1zM31 5h1v1h-1zM29 6h1v1h-1zM28 7h1v1h-1zM26 8h1v1h-1zM25 9h1v1h-1zM23 10h1v1h-1zM20 11h2v1h-2zM18 12h1v1h-1zM15 13h2v1h-2zM11 14h2v1h-2zM7 15h2v1h-2zM3 16h2v1h-2z"/><path fill="#3b518b" d="M36 1h1v1h-1zM35 2h1v1h-1zM34 3h1v1h-1zM33 4h1v1h-1zM32 5h1v1h-1zM30 6h1v1h-1zM29 7h1v1h-1zM27 8h2v1h-2zM26 9h1v1h-1zM24 10h1v1h-1zM22 11h1v1h-1zM19 12h2v1h-2zM17 13h1v1h-1zM13 14h2v1h-2zM9 15h2v1h-2zM5 16h2v1h-2zM1 17h1v1h-1zM45 92h1v1h-1z"/><path fill="#3a538b" d="M31 6h1v1h-1zM30 7h1v1h-1zM29 8h1v1h-1zM27 9h1v1h-1zM25 10h1v1h-1zM23 11h2v1h-2zM21 12h1v1h-1zM18 13h2v1h-2zM15 14h2v1h-2zM11 15h2v1h-2zM7 16h2v1h-2zM2 17h2v1h-2zM45 91h1v1h-1z"/><path fill="#39558c" d="M37 1h1v1h-1zM36 2h1v1h-1zM35 3h1v1h-1zM34 4h1v1h-1zM33 5h1v1h-1zM32 6h1v1h-1zM31 7h1v1h-1zM30 8h1v1h-1zM28 9h1v1h-1zM26 10h2v1h-2zM25 11h1v1h-1zM22 12h2v1h-2zM20 13h2v1h-2zM17 14h2v1h-2zM13 15h3v1h-3zM9 16h3v1h-3zM4 17h3v1h-3zM1 18h1v1h-1zM45 90h1v1h-1zM44 92h1v1h-1z"/><path fill="#38588c" d="M38 1h1v1h-1zM37 2h1v1h-1zM36 3h1v1h-1zM35 4h1v1h-1zM34 5h1v1h-1zM33 6h1v1h-1zM32 7h1v1h-1zM31 8h1v1h-1zM29 9h1v1h-1zM28 10h1v1h-1zM26 11h1v1h-1zM24 12h1v1h-1zM22 13h1v1h-1zM19 14h2v1h-2zM16 15h2v1h-2zM12 16h2v1h-2zM7 17h2v1h-2zM2 18h2v1h-2zM45 89h1v1h-1zM44 91h1v1h-1z"/><path fill="#375a8c" d="M38 2h1v1h-1zM37 3h1v1h-1zM36 4h1v1h-1zM35 5h1v1h-1zM34 6h1v1h-1zM33 7h1v1h-1zM32 8h1v1h-1zM30 9h1v1h-1zM29 10h1v1h-1zM27 11h1v1h-1zM25 12h2v1h-2zM23 13h2v1h-2zM21 14h1v1h-1zM18 15h2v1h-2zM14 16h2v1h-2zM9 17h3v1h-3zM4 18h3v1h-3zM46 86h1v1h-1zM45 88h1v1h-1zM44 89h1v1h-1zM44 90h1v1h-1zM43 91h1v1h-1zM43 92h1v1h-1z"/><path fill="#365c8d" d="M39 1h1v1h-1zM37 4h1v1h-1zM36 5h1v1h-1zM35 6h1v1h-1zM34 7h1v1h-1zM33 8h1v1h-1zM31 9h1v1h-1zM30 10h1v1h-1zM28 11h2v1h-2zM27 12h1v1h-1zM25 13h1v1h-1zM22 14h2v1h-2zM20 15h2v1h-2zM16 16h2v1h-2zM12 17h3v1h-3zM7 18h3v1h-3zM1 19h2v1h-2zM46 85h1v1h-1zM45 87h1v1h-1zM44 88h1v1h-1zM43 90h1v1h-1zM42 92h1v1h-1z"/><path fill="#355e8d" d="M39 2h1v1h-1zM38 3h1v1h-1zM35 7h1v1h-1zM32 9h1v1h-1zM31 10h1v1h-1zM30 11h1v1h-1zM28 12h1v1h-1zM26 13h2v1h-2zM24 14h2v1h-2zM22 15h1v1h-1zM18 16h3v1h-3zM15 17h2v1h-2zM10 18h3v1h-3zM3 19h4v1h-4zM45 86h1v1h-1zM44 87h1v1h-1zM43 89h1v1h-1zM42 91h1v1h-1zM41 93h1v1h-1z"/><path fill="#34608d" d="M40 1h1v1h-1zM39 3h1v1h-1zM38 4h1v1h-1zM37 5h1v1h-1zM36 6h1v1h-1zM34 8h1v1h-1zM33 9h1v1h-1zM32 10h1v1h-1zM31 11h1v1h-1zM29 12h2v1h-2zM28 13h1v1h-1zM26 14h1v1h-1zM23 15h2v1h-2zM21 16h2v1h-2zM17 17h2v1h-2zM13 18h2v1h-2zM7 19h3v1h-3zM1 20h2v1h-2zM46 84h1v1h-1zM45 85h1v1h-1zM44 86h1v1h-1zM43 88h1v1h-1zM42 90h1v1h-1zM41 92h1v1h-1z"/><path fill="#33628d" d="M41 1h1v1h-1zM40 2h1v1h-1zM39 4h1v1h-1zM38 5h1v1h-1zM37 6h1v1h-1zM36 7h1v1h-1zM35 8h1v1h-1zM34 9h1v1h-1zM33 10h1v1h-1zM32 11h1v1h-1zM31 12h1v1h-1zM29 13h1v1h-1zM27 14h2v1h-2zM25 15h2v1h-2zM23 16h1v1h-1zM19 17h3v1h-3zM15 18h3v1h-3zM10 19h3v1h-3zM3 20h4v1h-4zM46 83h1v1h-1zM45 84h1v1h-1zM44 85h1v1h-1zM43 87h1v1h-1zM42 88h1v1h-1zM42 89h1v1h-1zM41 90h1v1h-1zM41 91h1v1h-1zM40 93h1v1h-1z"/><path fill="#32648e" d="M41 2h1v1h-1zM40 3h1v1h-1zM39 5h1v1h-1zM38 6h1v1h-1zM37 7h1v1h-1zM36 8h1v1h-1zM35 9h1v1h-1zM34 10h1v1h-1zM33 11h1v1h-1zM32 12h1v1h-1zM30 13h2v1h-2zM29 14h1v1h-1zM27 15h1v1h-1zM24 16h2v1h-2zM22 17h2v1h-2zM18 18h3v1h-3zM13 19h3v1h-3zM7 20h4v1h-4zM1 21h2v1h-2zM46 82h1v1h-1zM45 83h1v1h-1zM44 84h1v1h-1zM43 85h1v1h-1zM43 86h1v1h-1zM42 87h1v1h-1zM41 89h1v1h-1zM40 91h1v1h-1zM40 92h1v1h-1z"/><path fill="#31668e" d="M42 1h1v1h-1zM41 3h1v1h-1zM40 4h1v1h-1zM39 6h1v1h-1zM38 7h1v1h-1zM37 8h1v1h-1zM36 9h1v1h-1zM35 10h1v1h-1zM34 11h1v1h-1zM33 12h1v1h-1zM32 13h1v1h-1zM30 14h1v1h-1zM28 15h2v1h-2zM26 16h2v1h-2zM24 17h2v1h-2zM21 18h2v1h-2zM16 19h3v1h-3zM11 20h3v1h-3zM3 21h4v1h-4zM46 81h1v1h-1zM45 82h1v1h-1zM44 83h1v1h-1zM43 84h1v1h-1zM42 86h1v1h-1zM41 88h1v1h-1zM40 90h1v1h-1zM39 93h1v1h-1z"/><path fill="#31688e" d="M42 2h1v1h-1zM41 4h1v1h-1zM40 5h1v1h-1zM39 7h1v1h-1zM38 8h1v1h-1zM37 9h1v1h-1zM36 10h1v1h-1zM35 11h1v1h-1zM34 12h1v1h-1zM33 13h1v1h-1zM31 14h2v1h-2zM30 15h1v1h-1zM28 16h2v1h-2zM26 17h2v1h-2zM23 18h2v1h-2zM19 19h3v1h-3zM14 20h4v1h-4zM7 21h5v1h-5zM1 22h2v1h-2zM46 79h1v1h-1zM46 80h1v1h-1zM45 81h1v1h-1zM44 82h1v1h-1zM43 83h1v1h-1zM42 85h1v1h-1zM41 87h1v1h-1zM40 88h1v1h-1zM40 89h1v1h-1zM39 91h1v1h-1zM39 92h1v1h-1zM38 93h1v1h-1z"/><path fill="#306a8e" d="M43 1h1v1h-1zM43 2h1v1h-1zM42 3h1v1h-1zM41 5h1v1h-1zM40 6h1v1h-1zM39 8h1v1h-1zM38 9h1v1h-1zM37 10h1v1h-1zM36 11h1v1h-1zM35 12h1v1h-1zM34 13h1v1h-1zM33 14h1v1h-1zM31 15h2v1h-2zM30 16h1v1h-1zM28 17h1v1h-1zM25 18h2v1h-2zM22 19h3v1h-3zM18 20h3v1h-3zM12 21h4v1h-4zM3 22h5v1h-5zM46 78h1v1h-1zM45 80h1v1h-1zM44 81h1v1h-1zM43 82h1v1h-1zM42 84h1v1h-1zM41 85h1v1h-1zM41 86h1v1h-1zM40 87h1v1h-1zM39 89h1v1h-1zM39 90h1v1h-1zM38 92h1v1h-1z"/><path fill="#2f6c8e" d="M44 1h1v1h-1zM43 3h1v1h-1zM42 4h1v1h-1zM41 6h1v1h-1zM40 7h1v1h-1zM39 9h1v1h-1zM38 10h1v1h-1zM37 11h1v1h-1zM36 12h1v1h-1zM35 13h1v1h-1zM34 14h1v1h-1zM33 15h1v1h-1zM31 16h2v1h-2zM29 17h2v1h-2zM27 18h2v1h-2zM25 19h2v1h-2zM21 20h3v1h-3zM16 21h4v1h-4zM8 22h5v1h-5zM1 23h2v1h-2zM46 77h1v1h-1zM45 78h1v1h-1zM45 79h1v1h-1zM44 80h1v1h-1zM43 81h1v1h-1zM42 82h1v1h-1zM42 83h1v1h-1zM41 84h1v1h-1zM40 86h1v1h-1zM39 88h1v1h-1zM38 91h1v1h-1zM37 93h1v1h-1z"/><path fill="#2e6e8e" d="M44 2h1v1h-1zM43 4h1v1h-1zM42 5h1v1h-1zM42 6h1v1h-1zM41 7h1v1h-1zM40 8h1v1h-1zM39 10h1v1h-1zM38 11h1v1h-1zM37 12h1v1h-1zM36 13h1v1h-1zM35 14h1v1h-1zM34 15h1v1h-1zM33 16h1v1h-1zM31 17h1v1h-1zM29 18h2v1h-2zM27 19h2v1h-2zM24 20h3v1h-3zM20 21h3v1h-3zM13 22h5v1h-5zM3 23h6v1h-6zM46 76h1v1h-1zM45 77h1v1h-1zM44 78h1v1h-1zM44 79h1v1h-1zM43 80h1v1h-1zM42 81h1v1h-1zM41 83h1v1h-1zM40 85h1v1h-1zM39 87h1v1h-1zM38 89h1v1h-1zM38 90h1v1h-1zM37 92h1v1h-1z"/><path fill="#2d708e" d="M45 1h1v1h-1zM44 3h1v1h-1zM43 5h1v1h-1zM42 7h1v1h-1zM41 8h1v1h-1zM40 9h1v1h-1zM40 10h1v1h-1zM39 11h1v1h-1zM38 12h1v1h-1zM37 13h1v1h-1zM36 14h1v1h-1zM35 15h1v1h-1zM34 16h1v1h-1zM32 17h2v1h-2zM31 18h1v1h-1zM29 19h2v1h-2zM27 20h2v1h-2zM23 21h3v1h-3zM18 22h5v1h-5zM9 23h7v1h-7zM1 24h2v1h-2zM46 75h1v1h-1zM45 76h1v1h-1zM44 77h1v1h-1zM43 78h1v1h-1zM43 79h1v1h-1zM42 80h1v1h-1zM41 81h1v1h-1zM41 82h1v1h-1zM40 83h1v1h-1zM40 84h1v1h-1zM39 85h1v1h-1zM39 86h1v1h-1zM38 87h1v1h-1zM38 88h1v1h-1zM37 90h1v1h-1zM37 91h1v1h-1zM36 93h1v1h-1z"/><path fill="#2c718e" d="M45 2h1v1h-1zM45 3h1v1h-1zM44 4h1v1h-1zM43 6h1v1h-1zM42 8h1v1h-1zM41 9h1v1h-1zM40 11h1v1h-1zM39 12h1v1h-1zM38 13h1v1h-1zM37 14h1v1h-1zM36 15h1v1h-1zM35 16h1v1h-1zM34 17h1v1h-1zM32 18h2v1h-2zM31 19h2v1h-2zM29 20h2v1h-2zM26 21h3v1h-3zM23 22h3v1h-3zM16 23h6v1h-6zM3 24h8v1h-8zM46 73h1v1h-1zM46 74h1v1h-1zM45 75h1v1h-1zM44 76h1v1h-1zM43 77h1v1h-1zM42 78h1v1h-1zM42 79h1v1h-1zM41 80h1v1h-1zM40 82h1v1h-1zM39 84h1v1h-1zM38 86h1v1h-1zM37 88h1v1h-1zM37 89h1v1h-1zM36 92h1v1h-1z"/><path fill="#2c738e" d="M46 1h1v1h-1zM46 2h1v1h-1zM45 4h1v1h-1zM44 5h1v1h-1zM44 6h1v1h-1zM43 7h1v1h-1zM42 9h1v1h-1zM41 10h1v1h-1zM40 12h1v1h-1zM39 13h1v1h-1zM38 14h1v1h-1zM37 15h1v1h-1zM36 16h1v1h-1zM35 17h1v1h-1zM34 18h1v1h-1zM33 19h1v1h-1zM31 20h2v1h-2zM29 21h2v1h-2zM26 22h3v1h-3zM22 23h4v1h-4zM11 24h9v1h-9zM1 25h3v1h-3zM46 72h1v1h-1zM45 73h1v1h-1zM44 74h2v1h-2zM44 75h1v1h-1zM43 76h1v1h-1zM42 77h1v1h-1zM41 79h1v1h-1zM40 80h1v1h-1zM40 81h1v1h-1zM39 82h1v1h-1zM39 83h1v1h-1zM38 85h1v1h-1zM37 87h1v1h-1zM36 90h1v1h-1zM36 91h1v1h-1zM35 93h1v1h-1z"/><path fill="#2b758e" d="M47 1h1v1h-1zM46 3h1v1h-1zM45 5h1v1h-1zM44 7h1v1h-1zM43 8h1v1h-1zM43 9h1v1h-1zM42 10h1v1h-1zM41 11h1v1h-1zM41 12h1v1h-1zM40 13h1v1h-1zM39 14h1v1h-1zM38 15h1v1h-1zM37 16h1v1h-1zM36 17h2v1h-2zM35 18h2v1h-2zM34 19h2v1h-2zM33 20h1v1h-1zM31 21h2v1h-2zM29 22h2v1h-2zM26 23h3v1h-3zM20 24h5v1h-5zM4 25h14v1h-14zM46 71h1v1h-1zM45 72h1v1h-1zM44 73h1v1h-1zM43 74h1v1h-1zM43 75h1v1h-1zM42 76h1v1h-1zM41 77h1v1h-1zM41 78h1v1h-1zM40 79h1v1h-1zM39 81h1v1h-1zM38 83h1v1h-1zM38 84h1v1h-1zM37 85h1v1h-1zM37 86h1v1h-1zM36 88h1v1h-1zM36 89h1v1h-1zM35 91h1v1h-1zM35 92h1v1h-1z"/><path fill="#2a778e" d="M47 2h1v1h-1zM46 4h1v1h-1zM45 6h1v1h-1zM44 8h1v1h-1zM43 10h1v1h-1zM42 11h1v1h-1zM41 13h1v1h-1zM40 14h1v1h-1zM39 15h1v1h-1zM38 16h2v1h-2zM38 17h1v1h-1zM37 18h1v1h-1zM36 19h1v1h-1zM34 20h2v1h-2zM33 21h2v1h-2zM31 22h2v1h-2zM29 23h2v1h-2zM25 24h4v1h-4zM18 25h7v1h-7zM1 26h3v1h-3zM45 70h2v1h-2zM44 71h2v1h-2zM44 72h1v1h-1zM43 73h1v1h-1zM42 74h1v1h-1zM42 75h1v1h-1zM41 76h1v1h-1zM40 77h1v1h-1zM40 78h1v1h-1zM39 79h1v1h-1zM39 80h1v1h-1zM38 82h1v1h-1zM37 84h1v1h-1zM36 86h1v1h-1zM36 87h1v1h-1zM35 89h1v1h-1zM35 90h1v1h-1zM34 93h1v1h-1z"/><path fill="#29798e" d="M47 3h1v1h-1zM47 4h1v1h-1zM46 5h1v1h-1zM46 6h1v1h-1zM45 7h1v1h-1zM45 8h1v1h-1zM44 9h1v1h-1zM43 11h1v1h-1zM42 12h1v1h-1zM42 13h1v1h-1zM41 14h1v1h-1zM40 15h1v1h-1zM40 16h1v1h-1zM39 17h1v1h-1zM38 18h1v1h-1zM37 19h1v1h-1zM36 20h1v1h-1zM35 21h1v1h-1zM33 22h2v1h-2zM31 23h2v1h-2zM29 24h3v1h-3zM25 25h4v1h-4zM4 26h20v1h-20zM46 68h1v1h-1zM45 69h2v1h-2zM44 70h1v1h-1zM43 71h1v1h-1zM42 72h2v1h-2zM42 73h1v1h-1zM41 74h1v1h-1zM41 75h1v1h-1zM40 76h1v1h-1zM39 78h1v1h-1zM38 80h1v1h-1zM38 81h1v1h-1zM37 82h1v1h-1zM37 83h1v1h-1zM36 85h1v1h-1zM35 88h1v1h-1zM34 91h1v1h-1zM34 92h1v1h-1z"/><path fill="#297b8e" d="M47 5h1v1h-1zM47 6h1v1h-1zM46 7h1v1h-1zM45 9h1v1h-1zM44 10h1v1h-1zM44 11h1v1h-1zM43 12h1v1h-1zM42 14h1v1h-1zM41 15h1v1h-1zM41 16h1v1h-1zM40 17h1v1h-1zM39 18h1v1h-1zM38 19h1v1h-1zM37 20h2v1h-2zM36 21h2v1h-2zM35 22h2v1h-2zM33 23h2v1h-2zM32 24h2v1h-2zM29 25h3v1h-3zM24 26h5v1h-5zM1 27h23v1h-23zM45 67h2v1h-2zM44 68h2v1h-2zM44 69h1v1h-1zM43 70h1v1h-1zM42 71h1v1h-1zM41 72h1v1h-1zM41 73h1v1h-1zM40 74h1v1h-1zM40 75h1v1h-1zM39 76h1v1h-1zM39 77h1v1h-1zM38 78h1v1h-1zM38 79h1v1h-1zM37 81h1v1h-1zM36 83h1v1h-1zM36 84h1v1h-1zM35 86h1v1h-1zM35 87h1v1h-1zM34 89h1v1h-1zM34 90h1v1h-1zM33 93h1v1h-1z"/><path fill="#287d8e" d="M47 7h1v1h-1zM46 8h1v1h-1zM46 9h1v1h-1zM45 10h1v1h-1zM44 12h1v1h-1zM43 13h1v1h-1zM43 14h1v1h-1zM42 15h1v1h-1zM41 17h1v1h-1zM40 18h1v1h-1zM39 19h1v1h-1zM39 20h1v1h-1zM38 21h1v1h-1zM37 22h1v1h-1zM35 23h2v1h-2zM34 24h2v1h-2zM32 25h3v1h-3zM29 26h4v1h-4zM24 27h6v1h-6zM19 28h3v1h-3zM46 65h1v1h-1zM45 66h2v1h-2zM44 67h1v1h-1zM43 68h1v1h-1zM42 69h2v1h-2zM42 70h1v1h-1zM41 71h1v1h-1zM40 72h1v1h-1zM40 73h1v1h-1zM39 74h1v1h-1zM39 75h1v1h-1zM38 76h1v1h-1zM38 77h1v1h-1zM37 79h1v1h-1zM37 80h1v1h-1zM36 81h1v1h-1zM36 82h1v1h-1zM35 84h1v1h-1zM35 85h1v1h-1zM34 87h1v1h-1zM34 88h1v1h-1zM33 91h1v1h-1zM33 92h1v1h-1z"/><path fill="#277f8e" d="M47 8h1v1h-1zM47 9h1v1h-1zM46 10h1v1h-1zM45 11h1v1h-1zM45 12h1v1h-1zM44 13h1v1h-1zM44 14h1v1h-1zM43 15h1v1h-1zM42 16h1v1h-1zM42 17h1v1h-1zM41 18h1v1h-1zM40 19h2v1h-2zM40 20h1v1h-1zM39 21h1v1h-1zM38 22h1v1h-1zM37 23h2v1h-2zM36 24h2v1h-2zM35 25h2v1h-2zM33 26h2v1h-2zM30 27h4v1h-4zM1 28h18v1h-18zM22 28h9v1h-9zM46 63h1v1h-1zM45 64h2v1h-2zM44 65h2v1h-2zM43 66h2v1h-2zM43 67h1v1h-1zM42 68h1v1h-1zM41 69h1v1h-1zM41 70h1v1h-1zM40 71h1v1h-1zM39 72h1v1h-1zM39 73h1v1h-1zM38 74h1v1h-1zM38 75h1v1h-1zM37 77h1v1h-1zM37 78h1v1h-1zM36 80h1v1h-1zM35 82h1v1h-1zM35 83h1v1h-1zM34 85h1v1h-1zM34 86h1v1h-1zM33 89h1v1h-1zM33 90h1v1h-1zM32 93h1v1h-1z"/><path fill="#26818e" d="M47 10h1v1h-1zM46 11h2v1h-2zM46 12h1v1h-1zM45 13h1v1h-1zM44 15h1v1h-1zM43 16h1v1h-1zM43 17h1v1h-1zM42 18h1v1h-1zM42 19h1v1h-1zM41 20h1v1h-1zM40 21h1v1h-1zM39 22h2v1h-2zM39 23h1v1h-1zM38 24h1v1h-1zM37 25h1v1h-1zM35 26h3v1h-3zM34 27h2v1h-2zM31 28h4v1h-4zM10 29h22v1h-22zM24 30h2v1h-2zM46 61h1v1h-1zM45 62h2v1h-2zM44 63h2v1h-2zM43 64h2v1h-2zM43 65h1v1h-1zM42 66h1v1h-1zM41 67h2v1h-2zM41 68h1v1h-1zM40 69h1v1h-1zM39 70h2v1h-2zM39 71h1v1h-1zM38 72h1v1h-1zM38 73h1v1h-1zM37 75h1v1h-1zM37 76h1v1h-1zM36 78h1v1h-1zM36 79h1v1h-1zM35 81h1v1h-1zM34 84h1v1h-1zM33 87h1v1h-1zM33 88h1v1h-1zM32 91h1v1h-1zM32 92h1v1h-1z"/><path fill="#26828e" d="M47 12h1v1h-1zM46 13h2v1h-2zM45 14h2v1h-2zM45 15h1v1h-1zM44 16h1v1h-1zM44 17h1v1h-1zM43 18h1v1h-1zM43 19h1v1h-1zM42 20h1v1h-1zM41 21h2v1h-2zM41 22h1v1h-1zM40 23h1v1h-1zM39 24h2v1h-2zM38 25h2v1h-2zM38 26h1v1h-1zM36 27h2v1h-2zM35 28h2v1h-2zM1 29h9v1h-9zM32 29h4v1h-4zM14 30h10v1h-10zM26 30h8v1h-8zM24 31h5v1h-5zM46 59h1v1h-1zM45 60h2v1h-2zM44 61h2v1h-2zM43 62h2v1h-2zM43 63h1v1h-1zM42 64h1v1h-1zM41 65h2v1h-2zM41 66h1v1h-1zM40 67h1v1h-1zM39 68h2v1h-2zM39 69h1v1h-1zM38 70h1v1h-1zM38 71h1v1h-1zM37 73h1v1h-1zM37 74h1v1h-1zM36 76h1v1h-1zM36 77h1v1h-1zM35 79h1v1h-1zM35 80h1v1h-1zM34 82h1v1h-1zM34 83h1v1h-1zM33 85h1v1h-1zM33 86h1v1h-1zM32 89h1v1h-1zM32 90h1v1h-1zM31 93h1v1h-1z"/><path fill="#25848e" d="M47 14h1v1h-1zM46 15h2v1h-2zM45 16h3v1h-3zM44 18h1v1h-1zM44 19h1v1h-1zM43 20h1v1h-1zM43 21h1v1h-1zM42 22h1v1h-1zM41 23h2v1h-2zM41 24h1v1h-1zM40 25h1v1h-1zM39 26h2v1h-2zM38 27h2v1h-2zM37 28h2v1h-2zM36 29h2v1h-2zM7 30h7v1h-7zM34 30h3v1h-3zM16 31h8v1h-8zM29 31h6v1h-6zM23 32h10v1h-10zM46 57h1v1h-1zM45 58h2v1h-2zM44 59h2v1h-2zM43 60h2v1h-2zM42 61h2v1h-2zM42 62h1v1h-1zM41 63h2v1h-2zM40 64h2v1h-2zM40 65h1v1h-1zM39 66h2v1h-2zM39 67h1v1h-1zM38 68h1v1h-1zM38 69h1v1h-1zM37 70h1v1h-1zM37 71h1v1h-1zM37 72h1v1h-1zM36 73h1v1h-1zM36 74h1v1h-1zM36 75h1v1h-1zM35 76h1v1h-1zM35 77h1v1h-1zM35 78h1v1h-1zM34 80h1v1h-1zM34 81h1v1h-1zM33 83h1v1h-1zM33 84h1v1h-1zM32 87h1v1h-1zM32 88h1v1h-1zM31 90h1v1h-1zM31 91h1v1h-1zM31 92h1v1h-1z"/><path fill="#24868e" d="M45 17h3v1h-3zM45 18h3v1h-3zM47 19h1v1h-1zM44 20h1v1h-1zM44 21h1v1h-1zM43 22h1v1h-1zM43 23h1v1h-1zM42 24h1v1h-1zM41 25h2v1h-2zM41 26h1v1h-1zM40 27h2v1h-2zM39 28h2v1h-2zM38 29h2v1h-2zM1 30h6v1h-6zM37 30h3v1h-3zM10 31h6v1h-6zM35 31h4v1h-4zM17 32h6v1h-6zM33 32h4v1h-4zM23 33h13v1h-13zM46 55h1v1h-1zM44 56h3v1h-3zM43 57h3v1h-3zM42 58h3v1h-3zM42 59h2v1h-2zM41 60h2v1h-2zM41 61h1v1h-1zM40 62h2v1h-2zM40 63h1v1h-1zM39 64h1v1h-1zM39 65h1v1h-1zM38 66h1v1h-1zM38 67h1v1h-1zM37 68h1v1h-1zM37 69h1v1h-1zM36 71h1v1h-1zM36 72h1v1h-1zM35 74h1v1h-1zM35 75h1v1h-1zM34 77h1v1h-1zM34 78h1v1h-1zM34 79h1v1h-1zM33 81h1v1h-1zM33 82h1v1h-1zM32 85h1v1h-1zM32 86h1v1h-1zM31 88h1v1h-1zM31 89h1v1h-1zM30 93h1v1h-1z"/><path fill="#23888e" d="M45 19h2v1h-2zM45 20h3v1h-3zM45 21h1v1h-1zM47 21h1v1h-1zM44 22h1v1h-1zM47 22h1v1h-1zM44 23h1v1h-1zM43 24h2v1h-2zM43 25h1v1h-1zM42 26h2v1h-2zM42 27h1v1h-1zM41 28h2v1h-2zM40 29h2v1h-2zM40 30h2v1h-2zM3 31h1v1h-1zM5 31h5v1h-5zM39 31h2v1h-2zM12 32h5v1h-5zM37 32h3v1h-3zM18 33h5v1h-5zM36 33h3v1h-3zM23 34h15v1h-15zM28 35h9v1h-9zM46 52h1v1h-1zM44 53h3v1h-3zM43 54h4v1h-4zM42 55h4v1h-4zM41 56h3v1h-3zM41 57h2v1h-2zM40 58h2v1h-2zM40 59h2v1h-2zM40 60h1v1h-1zM39 61h2v1h-2zM39 62h1v1h-1zM38 63h2v1h-2zM38 64h1v1h-1zM38 65h1v1h-1zM37 66h1v1h-1zM37 67h1v1h-1zM36 68h1v1h-1zM36 69h1v1h-1zM36 70h1v1h-1zM35 71h1v1h-1zM35 72h1v1h-1zM35 73h1v1h-1zM34 75h1v1h-1zM34 76h1v1h-1zM33 79h1v1h-1zM33 80h1v1h-1zM32 82h1v1h-1zM32 83h1v1h-1zM32 84h1v1h-1zM31 86h1v1h-1zM31 87h1v1h-1zM30 90h1v1h-1zM30 91h1v1h-1zM30 92h1v1h-1z"/><path fill="#238a8d" d="M46 21h1v1h-1zM45 22h2v1h-2zM45 23h3v1h-3zM45 24h1v1h-1zM47 24h1v1h-1zM44 25h1v1h-1zM47 25h1v1h-1zM44 26h1v1h-1zM47 26h1v1h-1zM43 27h2v1h-2zM47 27h1v1h-1zM43 28h1v1h-1zM47 28h1v1h-1zM42 29h2v1h-2zM42 30h1v1h-1zM1 31h2v1h-2zM4 31h1v1h-1zM41 31h2v1h-2zM8 32h4v1h-4zM40 32h3v1h-3zM14 33h4v1h-4zM39 33h3v1h-3zM18 34h5v1h-5zM38 34h3v1h-3zM22 35h6v1h-6zM37 35h4v1h-4zM26 36h14v1h-14zM29 37h10v1h-10zM34 38h4v1h-4zM46 49h1v1h-1zM43 50h4v1h-4zM42 51h5v1h-5zM41 52h5v1h-5zM40 53h4v1h-4zM40 54h3v1h-3zM40 55h2v1h-2zM39 56h2v1h-2zM39 57h2v1h-2zM39 58h1v1h-1zM38 59h2v1h-2zM38 60h2v1h-2zM38 61h1v1h-1zM37 62h2v1h-2zM37 63h1v1h-1zM37 64h1v1h-1zM36 65h2v1h-2zM36 66h1v1h-1zM36 67h1v1h-1zM35 68h1v1h-1zM35 69h1v1h-1zM35 70h1v1h-1zM34 72h1v1h-1zM34 73h1v1h-1zM34 74h1v1h-1zM33 76h1v1h-1zM33 77h1v1h-1zM33 78h1v1h-1zM32 80h1v1h-1zM32 81h1v1h-1zM31 84h1v1h-1zM31 85h1v1h-1zM30 88h1v1h-1zM30 89h1v1h-1zM29 93h1v1h-1z"/><path fill="#228c8d" d="M46 24h1v1h-1zM45 25h2v1h-2zM45 26h2v1h-2zM45 27h2v1h-2zM44 28h2v1h-2zM44 29h1v1h-1zM47 29h1v1h-1zM43 30h2v1h-2zM47 30h1v1h-1zM43 31h2v1h-2zM2 32h6v1h-6zM43 32h1v1h-1zM10 33h4v1h-4zM42 33h2v1h-2zM15 34h3v1h-3zM41 34h3v1h-3zM19 35h3v1h-3zM41 35h2v1h-2zM22 36h4v1h-4zM40 36h3v1h-3zM25 37h4v1h-4zM39 37h4v1h-4zM28 38h6v1h-6zM38 38h5v1h-5zM30 39h13v1h-13zM32 40h11v1h-11zM34 41h8v1h-8zM36 42h6v1h-6zM38 43h5v1h-5zM39 44h4v1h-4zM40 45h4v1h-4zM46 45h1v1h-1zM40 46h7v1h-7zM40 47h7v1h-7zM40 48h7v1h-7zM39 49h7v1h-7zM39 50h4v1h-4zM39 51h3v1h-3zM38 52h3v1h-3zM38 53h2v1h-2zM38 54h2v1h-2zM38 55h2v1h-2zM38 56h1v1h-1zM37 57h2v1h-2zM37 58h2v1h-2zM37 59h1v1h-1zM37 60h1v1h-1zM36 61h2v1h-2zM36 62h1v1h-1zM36 63h1v1h-1zM36 64h1v1h-1zM35 65h1v1h-1zM35 66h1v1h-1zM35 67h1v1h-1zM34 69h1v1h-1zM34 70h1v1h-1zM34 71h1v1h-1zM33 73h1v1h-1zM33 74h1v1h-1zM33 75h1v1h-1zM32 77h1v1h-1zM32 78h1v1h-1zM32 79h1v1h-1zM31 82h1v1h-1zM31 83h1v1h-1zM30 86h1v1h-1zM30 87h1v1h-1zM29 91h1v1h-1zM29 92h1v1h-1z"/><path fill="#218e8d" d="M46 28h1v1h-1zM45 29h2v1h-2zM45 30h2v1h-2zM45 31h2v1h-2zM1 32h1v1h-1zM44 32h3v1h-3zM7 33h3v1h-3zM44 33h3v1h-3zM12 34h3v1h-3zM44 34h3v1h-3zM15 35h4v1h-4zM43 35h4v1h-4zM19 36h3v1h-3zM43 36h4v1h-4zM22 37h3v1h-3zM43 37h2v1h-2zM46 37h1v1h-1zM24 38h4v1h-4zM43 38h2v1h-2zM46 38h1v1h-1zM26 39h4v1h-4zM43 39h4v1h-4zM28 40h4v1h-4zM43 40h4v1h-4zM30 41h4v1h-4zM42 41h5v1h-5zM31 42h5v1h-5zM42 42h5v1h-5zM33 43h5v1h-5zM43 43h4v1h-4zM34 44h5v1h-5zM43 44h4v1h-4zM35 45h5v1h-5zM44 45h2v1h-2zM36 46h4v1h-4zM36 47h4v1h-4zM36 48h4v1h-4zM36 49h3v1h-3zM36 50h3v1h-3zM36 51h3v1h-3zM36 52h2v1h-2zM36 53h2v1h-2zM36 54h2v1h-2zM36 55h2v1h-2zM36 56h2v1h-2zM36 57h1v1h-1zM36 58h1v1h-1zM36 59h1v1h-1zM35 60h2v1h-2zM35 61h1v1h-1zM35 62h1v1h-1zM35 63h1v1h-1zM35 64h1v1h-1zM34 65h1v1h-1zM34 66h1v1h-1zM34 67h1v1h-1zM34 68h1v1h-1zM33 70h1v1h-1zM33 71h1v1h-1zM33 72h1v1h-1zM32 74h1v1h-1zM32 75h1v1h-1zM32 76h1v1h-1zM31 79h1v1h-1zM31 80h1v1h-1zM31 81h1v1h-1zM30 84h1v1h-1zM30 85h1v1h-1zM29 88h1v1h-1zM29 89h1v1h-1zM29 90h1v1h-1zM28 94h1v1h-1z"/><path fill="#21908d" d="M2 33h5v1h-5zM8 34h4v1h-4zM13 35h2v1h-2zM16 36h3v1h-3zM19 37h3v1h-3zM45 37h1v1h-1zM21 38h3v1h-3zM45 38h1v1h-1zM23 39h3v1h-3zM25 40h3v1h-3zM27 41h3v1h-3zM28 42h3v1h-3zM30 43h3v1h-3zM31 44h3v1h-3zM32 45h3v1h-3zM33 46h3v1h-3zM33 47h3v1h-3zM34 48h2v1h-2zM34 49h2v1h-2zM34 50h2v1h-2zM34 51h2v1h-2zM34 52h2v1h-2zM35 53h1v1h-1zM35 54h1v1h-1zM35 55h1v1h-1zM34 56h2v1h-2zM34 57h2v1h-2zM34 58h2v1h-2zM34 59h2v1h-2zM34 60h1v1h-1zM34 61h1v1h-1zM34 62h1v1h-1zM34 63h1v1h-1zM34 64h1v1h-1zM33 65h1v1h-1zM33 66h1v1h-1zM33 67h1v1h-1zM33 68h1v1h-1zM33 69h1v1h-1zM32 71h1v1h-1zM32 72h1v1h-1zM32 73h1v1h-1zM31 76h1v1h-1zM31 77h1v1h-1zM31 78h1v1h-1zM30 81h1v1h-1zM30 82h1v1h-1zM30 83h1v1h-1zM29 86h1v1h-1zM29 87h1v1h-1zM28 91h1v1h-1zM28 92h1v1h-1zM28 93h1v1h-1z"/><path fill="#20928c" d="M1 33h1v1h-1zM5 34h3v1h-3zM10 35h3v1h-3zM13 36h3v1h-3zM16 37h3v1h-3zM19 38h2v1h-2zM21 39h2v1h-2zM23 40h2v1h-2zM24 41h3v1h-3zM26 42h2v1h-2zM27 43h3v1h-3zM28 44h3v1h-3zM29 45h3v1h-3zM30 46h3v1h-3zM31 47h2v1h-2zM31 48h3v1h-3zM32 49h2v1h-2zM32 50h2v1h-2zM32 51h2v1h-2zM33 52h1v1h-1zM33 53h2v1h-2zM33 54h2v1h-2zM33 55h2v1h-2zM33 56h1v1h-1zM33 57h1v1h-1zM33 58h1v1h-1zM33 59h1v1h-1zM33 60h1v1h-1zM33 61h1v1h-1zM33 62h1v1h-1zM33 63h1v1h-1zM33 64h1v1h-1zM32 65h1v1h-1zM32 66h1v1h-1zM32 67h1v1h-1zM32 68h1v1h-1zM32 69h1v1h-1zM32 70h1v1h-1zM31 72h1v1h-1zM31 73h1v1h-1zM31 74h1v1h-1zM31 75h1v1h-1zM30 78h1v1h-1zM30 79h1v1h-1zM30 80h1v1h-1zM29 84h1v1h-1zM29 85h1v1h-1zM28 89h1v1h-1zM28 90h1v1h-1zM27 94h1v1h-1z"/><path fill="#20938c" d="M1 34h4v1h-4zM7 35h3v1h-3zM11 36h2v1h-2zM14 37h2v1h-2zM16 38h3v1h-3zM19 39h2v1h-2zM21 40h2v1h-2zM22 41h2v1h-2zM24 42h2v1h-2zM25 43h2v1h-2zM26 44h2v1h-2zM27 45h2v1h-2zM28 46h2v1h-2zM29 47h2v1h-2zM29 48h2v1h-2zM30 49h2v1h-2zM30 50h2v1h-2zM31 51h1v1h-1zM31 52h2v1h-2zM31 53h2v1h-2zM31 54h2v1h-2zM32 55h1v1h-1zM32 56h1v1h-1zM32 57h1v1h-1zM32 58h1v1h-1zM32 59h1v1h-1zM32 60h1v1h-1zM32 61h1v1h-1zM32 62h1v1h-1zM32 63h1v1h-1zM32 64h1v1h-1zM31 66h1v1h-1zM31 67h1v1h-1zM31 68h1v1h-1zM31 69h1v1h-1zM31 70h1v1h-1zM31 71h1v1h-1zM30 74h1v1h-1zM30 75h1v1h-1zM30 76h1v1h-1zM30 77h1v1h-1zM29 80h1v1h-1zM29 81h1v1h-1zM29 82h1v1h-1zM29 83h1v1h-1zM28 86h1v1h-1zM28 87h1v1h-1zM28 88h1v1h-1zM27 92h1v1h-1zM27 93h1v1h-1z"/><path fill="#1f958b" d="M3 35h4v1h-4zM8 36h3v1h-3zM11 37h3v1h-3zM14 38h2v1h-2zM16 39h3v1h-3zM19 40h2v1h-2zM20 41h2v1h-2zM22 42h2v1h-2zM23 43h2v1h-2zM24 44h2v1h-2zM25 45h2v1h-2zM26 46h2v1h-2zM27 47h2v1h-2zM28 48h1v1h-1zM28 49h2v1h-2zM29 50h1v1h-1zM29 51h2v1h-2zM30 52h1v1h-1zM30 53h1v1h-1zM30 54h1v1h-1zM30 55h2v1h-2zM30 56h2v1h-2zM31 57h1v1h-1zM31 58h1v1h-1zM31 59h1v1h-1zM31 60h1v1h-1zM31 61h1v1h-1zM31 62h1v1h-1zM31 63h1v1h-1zM31 64h1v1h-1zM31 65h1v1h-1zM30 68h1v1h-1zM30 69h1v1h-1zM30 70h1v1h-1zM30 71h1v1h-1zM30 72h1v1h-1zM30 73h1v1h-1zM29 76h1v1h-1zM29 77h1v1h-1zM29 78h1v1h-1zM29 79h1v1h-1zM28 83h1v1h-1zM28 84h1v1h-1zM28 85h1v1h-1zM27 89h1v1h-1zM27 90h1v1h-1zM27 91h1v1h-1z"/><path fill="#1f978b" d="M1 35h2v1h-2zM6 36h2v1h-2zM9 37h2v1h-2zM12 38h2v1h-2zM14 39h2v1h-2zM16 40h3v1h-3zM18 41h2v1h-2zM20 42h2v1h-2zM21 43h2v1h-2zM23 44h1v1h-1zM24 45h1v1h-1zM25 46h1v1h-1zM26 47h1v1h-1zM26 48h2v1h-2zM27 49h1v1h-1zM27 50h2v1h-2zM28 51h1v1h-1zM28 52h2v1h-2zM29 53h1v1h-1zM29 54h1v1h-1zM29 55h1v1h-1zM29 56h1v1h-1zM29 57h2v1h-2zM30 58h1v1h-1zM30 59h1v1h-1zM30 60h1v1h-1zM30 61h1v1h-1zM30 62h1v1h-1zM30 63h1v1h-1zM30 64h1v1h-1zM30 65h1v1h-1zM30 66h1v1h-1zM30 67h1v1h-1zM29 71h1v1h-1zM29 72h1v1h-1zM29 73h1v1h-1zM29 74h1v1h-1zM29 75h1v1h-1zM28 79h1v1h-1zM28 80h1v1h-1zM28 81h1v1h-1zM28 82h1v1h-1zM27 86h1v1h-1zM27 87h1v1h-1zM27 88h1v1h-1zM26 92h1v1h-1zM26 93h1v1h-1zM26 94h1v1h-1z"/><path fill="#1f998a" d="M3 36h3v1h-3zM7 37h2v1h-2zM10 38h2v1h-2zM12 39h2v1h-2zM14 40h2v1h-2zM16 41h2v1h-2zM18 42h2v1h-2zM20 43h1v1h-1zM21 44h2v1h-2zM22 45h2v1h-2zM23 46h2v1h-2zM24 47h2v1h-2zM25 48h1v1h-1zM25 49h2v1h-2zM26 50h1v1h-1zM27 51h1v1h-1zM27 52h1v1h-1zM27 53h2v1h-2zM28 54h1v1h-1zM28 55h1v1h-1zM28 56h1v1h-1zM28 57h1v1h-1zM29 58h1v1h-1zM29 59h1v1h-1zM29 60h1v1h-1zM29 61h1v1h-1zM29 62h1v1h-1zM29 63h1v1h-1zM29 64h1v1h-1zM29 65h1v1h-1zM29 66h1v1h-1zM29 67h1v1h-1zM29 68h1v1h-1zM29 69h1v1h-1zM29 70h1v1h-1zM28 74h1v1h-1zM28 75h1v1h-1zM28 76h1v1h-1zM28 77h1v1h-1zM28 78h1v1h-1zM27 83h1v1h-1zM27 84h1v1h-1zM27 85h1v1h-1zM26 89h1v1h-1zM26 90h1v1h-1zM26 91h1v1h-1z"/><path fill="#1e9b8a" d="M1 36h2v1h-2zM5 37h2v1h-2zM8 38h2v1h-2zM10 39h2v1h-2zM13 40h1v1h-1zM15 41h1v1h-1zM16 42h2v1h-2zM18 43h2v1h-2zM19 44h2v1h-2zM21 45h1v1h-1zM22 46h1v1h-1zM23 47h1v1h-1zM23 48h2v1h-2zM24 49h1v1h-1zM25 50h1v1h-1zM25 51h2v1h-2zM26 52h1v1h-1zM26 53h1v1h-1zM27 54h1v1h-1zM27 55h1v1h-1zM27 56h1v1h-1zM27 57h1v1h-1zM28 58h1v1h-1zM28 59h1v1h-1zM28 60h1v1h-1zM28 61h1v1h-1zM28 62h1v1h-1zM28 63h1v1h-1zM28 64h1v1h-1zM28 65h1v1h-1zM28 66h1v1h-1zM28 67h1v1h-1zM28 68h1v1h-1zM28 69h1v1h-1zM28 70h1v1h-1zM28 71h1v1h-1zM28 72h1v1h-1zM28 73h1v1h-1zM27 78h1v1h-1zM27 79h1v1h-1zM27 80h1v1h-1zM27 81h1v1h-1zM27 82h1v1h-1zM26 86h1v1h-1zM26 87h1v1h-1zM26 88h1v1h-1zM25 93h1v1h-1zM25 94h1v1h-1z"/><path fill="#1e9d89" d="M2 37h3v1h-3zM6 38h2v1h-2zM8 39h2v1h-2zM11 40h2v1h-2zM13 41h2v1h-2zM15 42h1v1h-1zM16 43h2v1h-2zM18 44h1v1h-1zM19 45h2v1h-2zM20 46h2v1h-2zM21 47h2v1h-2zM22 48h1v1h-1zM23 49h1v1h-1zM23 50h2v1h-2zM24 51h1v1h-1zM25 52h1v1h-1zM25 53h1v1h-1zM25 54h2v1h-2zM26 55h1v1h-1zM26 56h1v1h-1zM26 57h1v1h-1zM27 58h1v1h-1zM27 59h1v1h-1zM27 60h1v1h-1zM27 61h1v1h-1zM27 62h1v1h-1zM27 63h1v1h-1zM27 64h1v1h-1zM27 65h1v1h-1zM27 66h1v1h-1zM27 67h1v1h-1zM27 68h1v1h-1zM27 69h1v1h-1zM27 70h1v1h-1zM27 71h1v1h-1zM27 72h1v1h-1zM27 73h1v1h-1zM27 74h1v1h-1zM27 75h1v1h-1zM27 76h1v1h-1zM27 77h1v1h-1zM26 83h1v1h-1zM26 84h1v1h-1zM26 85h1v1h-1zM25 90h1v1h-1zM25 91h1v1h-1zM25 92h1v1h-1z"/><path fill="#1f9f88" d="M1 37h1v1h-1zM3 38h3v1h-3zM7 39h1v1h-1zM9 40h2v1h-2zM11 41h2v1h-2zM13 42h2v1h-2zM15 43h1v1h-1zM16 44h2v1h-2zM18 45h1v1h-1zM19 46h1v1h-1zM20 47h1v1h-1zM21 48h1v1h-1zM22 49h1v1h-1zM22 50h1v1h-1zM23 51h1v1h-1zM23 52h2v1h-2zM24 53h1v1h-1zM24 54h1v1h-1zM25 55h1v1h-1zM25 56h1v1h-1zM25 57h1v1h-1zM26 58h1v1h-1zM26 59h1v1h-1zM26 60h1v1h-1zM26 61h1v1h-1zM26 62h1v1h-1zM26 63h1v1h-1zM26 76h1v1h-1zM26 77h1v1h-1zM26 78h1v1h-1zM26 79h1v1h-1zM26 80h1v1h-1zM26 81h1v1h-1zM26 82h1v1h-1zM25 87h1v1h-1zM25 88h1v1h-1zM25 89h1v1h-1zM24 94h1v1h-1z"/><path fill="#1fa188" d="M1 38h2v1h-2zM5 39h2v1h-2zM7 40h2v1h-2zM9 41h2v1h-2zM11 42h2v1h-2zM13 43h2v1h-2zM15 44h1v1h-1zM16 45h2v1h-2zM17 46h2v1h-2zM19 47h1v1h-1zM19 48h2v1h-2zM20 49h2v1h-2zM21 50h1v1h-1zM22 51h1v1h-1zM22 52h1v1h-1zM23 53h1v1h-1zM23 54h1v1h-1zM24 55h1v1h-1zM24 56h1v1h-1zM24 57h1v1h-1zM25 58h1v1h-1zM25 59h1v1h-1zM25 60h1v1h-1zM25 61h1v1h-1zM26 64h1v1h-1zM26 65h1v1h-1zM26 66h1v1h-1zM26 67h1v1h-1zM26 68h1v1h-1zM26 69h1v1h-1zM26 70h1v1h-1zM26 71h1v1h-1zM26 72h1v1h-1zM26 73h1v1h-1zM26 74h1v1h-1zM26 75h1v1h-1zM25 82h1v1h-1zM25 83h1v1h-1zM25 84h1v1h-1zM25 85h1v1h-1zM25 86h1v1h-1zM24 91h1v1h-1zM24 92h1v1h-1zM24 93h1v1h-1z"/><path fill="#1fa287" d="M3 39h2v1h-2zM6 40h1v1h-1zM8 41h1v1h-1zM10 42h1v1h-1zM12 43h1v1h-1zM13 44h2v1h-2zM15 45h1v1h-1zM16 46h1v1h-1zM17 47h2v1h-2zM18 48h1v1h-1zM19 49h1v1h-1zM20 50h1v1h-1zM21 51h1v1h-1zM21 52h1v1h-1zM22 53h1v1h-1zM22 54h1v1h-1zM23 55h1v1h-1zM23 56h1v1h-1zM24 58h1v1h-1zM24 59h1v1h-1zM24 60h1v1h-1zM25 62h1v1h-1zM25 63h1v1h-1zM25 64h1v1h-1zM25 65h1v1h-1zM25 66h1v1h-1zM25 67h1v1h-1zM25 68h1v1h-1zM25 69h1v1h-1zM25 70h1v1h-1zM25 71h1v1h-1zM25 72h1v1h-1zM25 73h1v1h-1zM25 74h1v1h-1zM25 75h1v1h-1zM25 76h1v1h-1zM25 77h1v1h-1zM25 78h1v1h-1zM25 79h1v1h-1zM25 80h1v1h-1zM25 81h1v1h-1zM24 87h1v1h-1zM24 88h1v1h-1zM24 89h1v1h-1zM24 90h1v1h-1z"/><path fill="#20a486" d="M1 39h2v1h-2zM4 40h2v1h-2zM6 41h2v1h-2zM8 42h2v1h-2zM10 43h2v1h-2zM12 44h1v1h-1zM13 45h2v1h-2zM15 46h1v1h-1zM16 47h1v1h-1zM17 48h1v1h-1zM18 49h1v1h-1zM19 50h1v1h-1zM20 51h1v1h-1zM20 52h1v1h-1zM21 53h1v1h-1zM21 54h1v1h-1zM22 55h1v1h-1zM22 56h1v1h-1zM23 57h1v1h-1zM23 58h1v1h-1zM23 59h1v1h-1zM23 60h1v1h-1zM24 61h1v1h-1zM24 62h1v1h-1zM24 63h1v1h-1zM24 64h1v1h-1zM24 65h1v1h-1zM24 66h1v1h-1zM24 82h1v1h-1zM24 83h1v1h-1zM24 84h1v1h-1zM24 85h1v1h-1zM24 86h1v1h-1zM23 92h1v1h-1zM23 93h1v1h-1zM23 94h1v1h-1z"/><path fill="#21a685" d="M2 40h2v1h-2zM5 41h1v1h-1zM7 42h1v1h-1zM9 43h1v1h-1zM11 44h1v1h-1zM12 45h1v1h-1zM14 46h1v1h-1zM15 47h1v1h-1zM16 48h1v1h-1zM17 49h1v1h-1zM18 50h1v1h-1zM18 51h2v1h-2zM19 52h1v1h-1zM20 53h1v1h-1zM20 54h1v1h-1zM21 55h1v1h-1zM21 56h1v1h-1zM22 57h1v1h-1zM22 58h1v1h-1zM22 59h1v1h-1zM23 61h1v1h-1zM23 62h1v1h-1zM23 63h1v1h-1zM23 64h1v1h-1zM24 67h1v1h-1zM24 68h1v1h-1zM24 69h1v1h-1zM24 70h1v1h-1zM24 71h1v1h-1zM24 72h1v1h-1zM24 73h1v1h-1zM24 74h1v1h-1zM24 75h1v1h-1zM24 76h1v1h-1zM24 77h1v1h-1zM24 78h1v1h-1zM24 79h1v1h-1zM24 80h1v1h-1zM24 81h1v1h-1zM23 88h1v1h-1zM23 89h1v1h-1zM23 90h1v1h-1zM23 91h1v1h-1z"/><path fill="#22a884" d="M1 40h1v1h-1zM3 41h2v1h-2zM5 42h2v1h-2zM7 43h2v1h-2zM9 44h2v1h-2zM11 45h1v1h-1zM12 46h2v1h-2zM14 47h1v1h-1zM15 48h1v1h-1zM16 49h1v1h-1zM17 50h1v1h-1zM17 51h1v1h-1zM18 52h1v1h-1zM19 53h1v1h-1zM19 54h1v1h-1zM20 55h1v1h-1zM20 56h1v1h-1zM21 57h1v1h-1zM21 58h1v1h-1zM22 60h1v1h-1zM22 61h1v1h-1zM22 62h1v1h-1zM23 65h1v1h-1zM23 66h1v1h-1zM23 67h1v1h-1zM23 68h1v1h-1zM23 69h1v1h-1zM23 70h1v1h-1zM23 82h1v1h-1zM23 83h1v1h-1zM23 84h1v1h-1zM23 85h1v1h-1zM23 86h1v1h-1zM23 87h1v1h-1zM22 94h1v1h-1z"/><path fill="#24aa83" d="M1 41h2v1h-2zM4 42h1v1h-1zM6 43h1v1h-1zM8 44h1v1h-1zM9 45h2v1h-2zM11 46h1v1h-1zM12 47h2v1h-2zM14 48h1v1h-1zM15 49h1v1h-1zM15 50h2v1h-2zM16 51h1v1h-1zM17 52h1v1h-1zM18 53h1v1h-1zM18 54h1v1h-1zM19 55h1v1h-1zM20 57h1v1h-1zM20 58h1v1h-1zM21 59h1v1h-1zM21 60h1v1h-1zM21 61h1v1h-1zM22 63h1v1h-1zM22 64h1v1h-1zM22 65h1v1h-1zM22 66h1v1h-1zM23 71h1v1h-1zM23 72h1v1h-1zM23 73h1v1h-1zM23 74h1v1h-1zM23 75h1v1h-1zM23 76h1v1h-1zM23 77h1v1h-1zM23 78h1v1h-1zM23 79h1v1h-1zM23 80h1v1h-1zM23 81h1v1h-1zM22 89h1v1h-1zM22 90h1v1h-1zM22 91h1v1h-1zM22 92h1v1h-1zM22 93h1v1h-1z"/><path fill="#25ac82" d="M2 42h2v1h-2zM4 43h2v1h-2zM6 44h2v1h-2zM8 45h1v1h-1zM10 46h1v1h-1zM11 47h1v1h-1zM12 48h2v1h-2zM13 49h2v1h-2zM14 50h1v1h-1zM15 51h1v1h-1zM16 52h1v1h-1zM17 53h1v1h-1zM17 54h1v1h-1zM18 55h1v1h-1zM19 56h1v1h-1zM19 57h1v1h-1zM19 58h1v1h-1zM20 59h1v1h-1zM20 60h1v1h-1zM20 61h1v1h-1zM21 62h1v1h-1zM21 63h1v1h-1zM21 64h1v1h-1zM21 65h1v1h-1zM22 67h1v1h-1zM22 68h1v1h-1zM22 69h1v1h-1zM22 70h1v1h-1zM22 71h1v1h-1zM22 72h1v1h-1zM22 73h1v1h-1zM22 74h1v1h-1zM22 75h1v1h-1zM22 76h1v1h-1zM22 81h1v1h-1zM22 82h1v1h-1zM22 83h1v1h-1zM22 84h1v1h-1zM22 85h1v1h-1zM22 86h1v1h-1zM22 87h1v1h-1zM22 88h1v1h-1z"/><path fill="#27ad81" d="M1 42h1v1h-1zM3 43h1v1h-1zM5 44h1v1h-1zM7 45h1v1h-1zM8 46h2v1h-2zM10 47h1v1h-1zM11 48h1v1h-1zM12 49h1v1h-1zM13 50h1v1h-1zM14 51h1v1h-1zM15 52h1v1h-1zM16 53h1v1h-1zM16 54h1v1h-1zM17 55h1v1h-1zM18 56h1v1h-1zM18 57h1v1h-1zM19 59h1v1h-1zM19 60h1v1h-1zM20 62h1v1h-1zM20 63h1v1h-1zM21 66h1v1h-1zM21 67h1v1h-1zM21 68h1v1h-1zM21 69h1v1h-1zM22 77h1v1h-1zM22 78h1v1h-1zM22 79h1v1h-1zM22 80h1v1h-1zM21 91h1v1h-1zM21 92h1v1h-1zM21 93h1v1h-1zM21 94h1v1h-1z"/><path fill="#29af7f" d="M2 43h1v1h-1zM4 44h1v1h-1zM6 45h1v1h-1zM7 46h1v1h-1zM9 47h1v1h-1zM10 48h1v1h-1zM11 49h1v1h-1zM12 50h1v1h-1zM13 51h1v1h-1zM14 52h1v1h-1zM15 53h1v1h-1zM16 55h1v1h-1zM17 56h1v1h-1zM17 57h1v1h-1zM18 58h1v1h-1zM18 59h1v1h-1zM19 61h1v1h-1zM19 62h1v1h-1zM20 64h1v1h-1zM20 65h1v1h-1zM20 66h1v1h-1zM20 67h1v1h-1zM21 70h1v1h-1zM21 71h1v1h-1zM21 72h1v1h-1zM21 73h1v1h-1zM21 74h1v1h-1zM21 75h1v1h-1zM21 76h1v1h-1zM21 77h1v1h-1zM21 78h1v1h-1zM21 79h1v1h-1zM21 80h1v1h-1zM21 81h1v1h-1zM21 82h1v1h-1zM21 83h1v1h-1zM21 84h1v1h-1zM21 85h1v1h-1zM21 86h1v1h-1zM21 87h1v1h-1zM21 88h1v1h-1zM21 89h1v1h-1zM21 90h1v1h-1z"/><path fill="#2cb17e" d="M1 43h1v1h-1zM3 44h1v1h-1zM4 45h2v1h-2zM6 46h1v1h-1zM7 47h2v1h-2zM9 48h1v1h-1zM10 49h1v1h-1zM11 50h1v1h-1zM12 51h1v1h-1zM13 52h1v1h-1zM14 53h1v1h-1zM15 54h1v1h-1zM15 55h1v1h-1zM16 56h1v1h-1zM16 57h1v1h-1zM17 58h1v1h-1zM17 59h1v1h-1zM18 60h1v1h-1zM18 61h1v1h-1zM19 63h1v1h-1zM19 64h1v1h-1zM19 65h1v1h-1zM20 68h1v1h-1zM20 69h1v1h-1zM20 70h1v1h-1zM20 71h1v1h-1zM20 94h1v1h-1z"/><path fill="#2eb37c" d="M1 44h2v1h-2zM3 45h1v1h-1zM5 46h1v1h-1zM6 47h1v1h-1zM8 48h1v1h-1zM9 49h1v1h-1zM10 50h1v1h-1zM11 51h1v1h-1zM12 52h1v1h-1zM13 53h1v1h-1zM14 54h1v1h-1zM14 55h1v1h-1zM15 56h1v1h-1zM16 58h1v1h-1zM17 60h1v1h-1zM17 61h1v1h-1zM18 62h1v1h-1zM18 63h1v1h-1zM18 64h1v1h-1zM19 66h1v1h-1zM19 67h1v1h-1zM19 68h1v1h-1zM20 72h1v1h-1zM20 73h1v1h-1zM20 74h1v1h-1zM20 75h1v1h-1zM20 76h1v1h-1zM20 77h1v1h-1zM20 78h1v1h-1zM20 79h1v1h-1zM20 80h1v1h-1zM20 81h1v1h-1zM20 82h1v1h-1zM20 83h1v1h-1zM20 84h1v1h-1zM20 85h1v1h-1zM20 86h1v1h-1zM20 87h1v1h-1zM20 88h1v1h-1zM20 89h1v1h-1zM20 90h1v1h-1zM20 91h1v1h-1zM20 92h1v1h-1zM20 93h1v1h-1z"/><path fill="#31b57b" d="M2 45h1v1h-1zM4 46h1v1h-1zM5 47h1v1h-1zM7 48h1v1h-1zM8 49h1v1h-1zM9 50h1v1h-1zM10 51h1v1h-1zM11 52h1v1h-1zM12 53h1v1h-1zM13 54h1v1h-1zM14 56h1v1h-1zM15 57h1v1h-1zM15 58h1v1h-1zM16 59h1v1h-1zM16 60h1v1h-1zM17 62h1v1h-1zM17 63h1v1h-1zM18 65h1v1h-1zM18 66h1v1h-1zM19 69h1v1h-1zM19 70h1v1h-1zM19 71h1v1h-1zM19 72h1v1h-1z"/><path fill="#34b679" d="M1 45h1v1h-1zM2 46h2v1h-2zM4 47h1v1h-1zM6 48h1v1h-1zM7 49h1v1h-1zM8 50h1v1h-1zM9 51h1v1h-1zM10 52h1v1h-1zM11 53h1v1h-1zM12 54h1v1h-1zM13 55h1v1h-1zM13 56h1v1h-1zM14 57h1v1h-1zM14 58h1v1h-1zM15 59h1v1h-1zM15 60h1v1h-1zM16 61h1v1h-1zM16 62h1v1h-1zM17 64h1v1h-1zM17 65h1v1h-1zM18 67h1v1h-1zM18 68h1v1h-1zM18 69h1v1h-1zM19 73h1v1h-1zM19 74h1v1h-1zM19 75h1v1h-1zM19 76h1v1h-1zM19 77h1v1h-1zM19 78h1v1h-1zM19 79h1v1h-1zM19 80h1v1h-1zM19 90h1v1h-1zM19 91h1v1h-1zM19 92h1v1h-1zM19 93h1v1h-1zM19 94h1v1h-1z"/><path fill="#37b878" d="M1 46h1v1h-1zM3 47h1v1h-1zM4 48h2v1h-2zM6 49h1v1h-1zM7 50h1v1h-1zM8 51h1v1h-1zM9 52h1v1h-1zM10 53h1v1h-1zM11 54h1v1h-1zM12 55h1v1h-1zM12 56h1v1h-1zM13 57h1v1h-1zM14 59h1v1h-1zM15 61h1v1h-1zM16 63h1v1h-1zM16 64h1v1h-1zM17 66h1v1h-1zM17 67h1v1h-1zM18 70h1v1h-1zM18 71h1v1h-1zM18 72h1v1h-1zM18 73h1v1h-1zM18 74h1v1h-1zM19 81h1v1h-1zM19 82h1v1h-1zM19 83h1v1h-1zM19 84h1v1h-1zM19 85h1v1h-1zM19 86h1v1h-1zM19 87h1v1h-1zM19 88h1v1h-1zM19 89h1v1h-1z"/><path fill="#3aba76" d="M2 47h1v1h-1zM3 48h1v1h-1zM5 49h1v1h-1zM6 50h1v1h-1zM7 51h1v1h-1zM8 52h1v1h-1zM9 53h1v1h-1zM10 54h1v1h-1zM11 55h1v1h-1zM12 57h1v1h-1zM13 58h1v1h-1zM13 59h1v1h-1zM14 60h1v1h-1zM14 61h1v1h-1zM15 62h1v1h-1zM15 63h1v1h-1zM16 65h1v1h-1zM16 66h1v1h-1zM17 68h1v1h-1zM17 69h1v1h-1zM17 70h1v1h-1zM18 75h1v1h-1zM18 76h1v1h-1zM18 77h1v1h-1zM18 78h1v1h-1zM18 79h1v1h-1zM18 80h1v1h-1z"/><path fill="#3dbc74" d="M1 47h1v1h-1zM2 48h1v1h-1zM4 49h1v1h-1zM5 50h1v1h-1zM6 51h1v1h-1zM7 52h1v1h-1zM8 53h1v1h-1zM9 54h1v1h-1zM10 55h1v1h-1zM11 56h1v1h-1zM12 58h1v1h-1zM13 60h1v1h-1zM14 62h1v1h-1zM15 64h1v1h-1zM15 65h1v1h-1zM16 67h1v1h-1zM16 68h1v1h-1zM17 71h1v1h-1zM17 72h1v1h-1zM17 73h1v1h-1zM17 74h1v1h-1zM18 81h1v1h-1zM18 82h1v1h-1zM18 83h1v1h-1zM18 84h1v1h-1zM18 85h1v1h-1zM18 86h1v1h-1zM18 87h1v1h-1zM18 88h1v1h-1zM18 89h1v1h-1zM18 90h1v1h-1zM18 91h1v1h-1zM18 92h1v1h-1zM18 93h1v1h-1zM18 94h1v1h-1z"/><path fill="#40bd72" d="M1 48h1v1h-1zM3 49h1v1h-1zM4 50h1v1h-1zM5 51h1v1h-1zM6 52h1v1h-1zM7 53h1v1h-1zM8 54h1v1h-1zM9 55h1v1h-1zM10 56h1v1h-1zM11 57h1v1h-1zM11 58h1v1h-1zM12 59h1v1h-1zM13 61h1v1h-1zM14 63h1v1h-1zM14 64h1v1h-1zM15 66h1v1h-1zM15 67h1v1h-1zM16 69h1v1h-1zM16 70h1v1h-1zM16 71h1v1h-1zM17 75h1v1h-1zM17 76h1v1h-1zM17 77h1v1h-1zM17 78h1v1h-1zM17 79h1v1h-1z"/><path fill="#44bf70" d="M1 49h2v1h-2zM3 50h1v1h-1zM4 51h1v1h-1zM5 52h1v1h-1zM6 53h1v1h-1zM7 54h1v1h-1zM8 55h1v1h-1zM9 56h1v1h-1zM10 57h1v1h-1zM11 59h1v1h-1zM12 60h1v1h-1zM12 61h1v1h-1zM13 62h1v1h-1zM13 63h1v1h-1zM14 65h1v1h-1zM14 66h1v1h-1zM15 68h1v1h-1zM15 69h1v1h-1zM16 72h1v1h-1zM16 73h1v1h-1zM16 74h1v1h-1zM16 75h1v1h-1zM17 80h1v1h-1zM17 81h1v1h-1zM17 82h1v1h-1zM17 83h1v1h-1zM17 84h1v1h-1zM17 85h1v1h-1zM17 86h1v1h-1zM17 87h1v1h-1zM17 88h1v1h-1zM17 89h1v1h-1zM17 90h1v1h-1zM17 91h1v1h-1zM17 92h1v1h-1zM17 93h1v1h-1zM17 94h1v1h-1z"/><path fill="#48c16e" d="M2 50h1v1h-1zM3 51h1v1h-1zM4 52h1v1h-1zM7 55h1v1h-1zM8 56h1v1h-1zM9 57h1v1h-1zM10 58h1v1h-1zM10 59h1v1h-1zM11 60h1v1h-1zM12 62h1v1h-1zM13 64h1v1h-1zM13 65h1v1h-1zM14 67h1v1h-1zM14 68h1v1h-1zM15 70h1v1h-1zM15 71h1v1h-1zM15 72h1v1h-1zM16 76h1v1h-1zM16 77h1v1h-1zM16 78h1v1h-1zM16 79h1v1h-1z"/><path fill="#4cc26c" d="M1 50h1v1h-1zM2 51h1v1h-1zM3 52h1v1h-1zM5 53h1v1h-1zM6 54h1v1h-1zM7 56h1v1h-1zM8 57h1v1h-1zM9 58h1v1h-1zM10 60h1v1h-1zM11 61h1v1h-1zM11 62h1v1h-1zM12 63h1v1h-1zM12 64h1v1h-1zM13 66h1v1h-1zM14 69h1v1h-1zM14 70h1v1h-1zM15 73h1v1h-1zM15 74h1v1h-1zM15 75h1v1h-1zM16 80h1v1h-1zM16 81h1v1h-1zM16 82h1v1h-1zM16 83h1v1h-1zM16 84h1v1h-1zM16 85h1v1h-1zM16 86h1v1h-1z"/><path fill="#50c46a" d="M1 51h1v1h-1zM2 52h1v1h-1zM4 53h1v1h-1zM5 54h1v1h-1zM6 55h1v1h-1zM7 57h1v1h-1zM8 58h1v1h-1zM9 59h1v1h-1zM10 61h1v1h-1zM11 63h1v1h-1zM12 65h1v1h-1zM13 67h1v1h-1zM13 68h1v1h-1zM14 71h1v1h-1zM14 72h1v1h-1zM15 76h1v1h-1zM15 77h1v1h-1zM15 78h1v1h-1zM16 87h1v1h-1zM16 88h1v1h-1zM16 89h1v1h-1zM16 90h1v1h-1zM16 91h1v1h-1zM16 92h1v1h-1zM16 93h1v1h-1zM16 94h1v1h-1z"/><path fill="#54c568" d="M3 53h1v1h-1zM4 54h1v1h-1zM5 55h1v1h-1zM6 56h1v1h-1zM7 58h1v1h-1zM8 59h1v1h-1zM9 60h1v1h-1zM9 61h1v1h-1zM10 62h1v1h-1zM11 64h1v1h-1zM11 65h1v1h-1zM12 66h1v1h-1zM12 67h1v1h-1zM13 69h1v1h-1zM13 70h1v1h-1zM14 73h1v1h-1zM14 74h1v1h-1zM14 75h1v1h-1zM15 79h1v1h-1zM15 80h1v1h-1zM15 81h1v1h-1zM15 82h1v1h-1zM15 83h1v1h-1zM15 84h1v1h-1z"/><path fill="#58c765" d="M1 52h1v1h-1zM2 53h1v1h-1zM3 54h1v1h-1zM4 55h1v1h-1zM5 56h1v1h-1zM6 57h1v1h-1zM7 59h1v1h-1zM8 60h1v1h-1zM9 62h1v1h-1zM10 63h1v1h-1zM10 64h1v1h-1zM11 66h1v1h-1zM12 68h1v1h-1zM12 69h1v1h-1zM13 71h1v1h-1zM13 72h1v1h-1zM13 73h1v1h-1zM14 76h1v1h-1zM14 77h1v1h-1zM14 78h1v1h-1zM15 85h1v1h-1zM15 86h1v1h-1zM15 87h1v1h-1zM15 88h1v1h-1zM15 89h1v1h-1zM15 90h1v1h-1zM15 91h1v1h-1zM15 92h1v1h-1zM15 93h1v1h-1zM15 94h1v1h-1zM15 95h1v1h-1z"/><path fill="#5cc863" d="M1 53h1v1h-1zM2 54h1v1h-1zM3 55h1v1h-1zM4 56h1v1h-1zM5 57h1v1h-1zM6 58h1v1h-1zM7 60h1v1h-1zM8 61h1v1h-1zM9 63h1v1h-1zM10 65h1v1h-1zM11 67h1v1h-1zM11 68h1v1h-1zM12 70h1v1h-1zM12 71h1v1h-1zM13 74h1v1h-1zM13 75h1v1h-1zM14 79h1v1h-1zM14 80h1v1h-1zM14 81h1v1h-1zM14 82h1v1h-1z"/><path fill="#60ca60" d="M1 54h1v1h-1zM2 55h1v1h-1zM3 56h1v1h-1zM4 57h1v1h-1zM5 58h1v1h-1zM6 59h1v1h-1zM7 61h1v1h-1zM8 62h1v1h-1zM8 63h1v1h-1zM9 64h1v1h-1zM10 66h1v1h-1zM10 67h1v1h-1zM11 69h1v1h-1zM12 72h1v1h-1zM12 73h1v1h-1zM13 76h1v1h-1zM13 77h1v1h-1zM13 78h1v1h-1zM14 83h1v1h-1zM14 84h1v1h-1zM14 85h1v1h-1zM14 86h1v1h-1zM14 87h1v1h-1zM14 88h1v1h-1zM14 89h1v1h-1z"/><path fill="#65cb5e" d="M1 55h1v1h-1zM2 56h1v1h-1zM3 57h1v1h-1zM4 58h1v1h-1zM5 59h1v1h-1zM6 60h1v1h-1zM7 62h1v1h-1zM8 64h1v1h-1zM9 65h1v1h-1zM9 66h1v1h-1zM10 68h1v1h-1zM11 70h1v1h-1zM11 71h1v1h-1zM12 74h1v1h-1zM12 75h1v1h-1zM13 79h1v1h-1zM13 80h1v1h-1zM13 81h1v1h-1zM14 90h1v1h-1zM14 91h1v1h-1zM14 92h1v1h-1zM14 93h1v1h-1zM14 94h1v1h-1zM14 95h1v1h-1z"/><path fill="#69cd5b" d="M4 59h1v1h-1zM5 60h1v1h-1zM6 61h1v1h-1zM7 63h1v1h-1zM8 65h1v1h-1zM9 67h1v1h-1zM10 69h1v1h-1zM10 70h1v1h-1zM11 72h1v1h-1zM11 73h1v1h-1zM12 76h1v1h-1zM12 77h1v1h-1zM12 78h1v1h-1zM13 82h1v1h-1zM13 83h1v1h-1zM13 84h1v1h-1zM13 85h1v1h-1zM13 86h1v1h-1z"/><path fill="#6ece58" d="M1 56h1v1h-1zM2 57h1v1h-1zM3 58h1v1h-1zM4 60h1v1h-1zM5 61h1v1h-1zM6 62h1v1h-1zM6 63h1v1h-1zM7 64h1v1h-1zM8 66h1v1h-1zM9 68h1v1h-1zM9 69h1v1h-1zM10 71h1v1h-1zM10 72h1v1h-1zM11 74h1v1h-1zM11 75h1v1h-1zM12 79h1v1h-1zM12 80h1v1h-1zM12 81h1v1h-1zM13 87h1v1h-1zM13 88h1v1h-1zM13 89h1v1h-1zM13 90h1v1h-1zM13 91h1v1h-1zM13 92h1v1h-1zM13 93h1v1h-1z"/><path fill="#73d056" d="M1 57h1v1h-1zM2 58h1v1h-1zM3 59h1v1h-1zM4 61h1v1h-1zM5 62h1v1h-1zM6 64h1v1h-1zM7 65h1v1h-1zM7 66h1v1h-1zM8 67h1v1h-1zM8 68h1v1h-1zM9 70h1v1h-1zM10 73h1v1h-1zM10 74h1v1h-1zM11 76h1v1h-1zM11 77h1v1h-1zM11 78h1v1h-1zM12 82h1v1h-1zM12 83h1v1h-1zM12 84h1v1h-1zM13 94h1v1h-1z"/><path fill="#77d153" d="M1 58h1v1h-1zM2 59h1v1h-1zM3 60h1v1h-1zM4 62h1v1h-1zM5 63h1v1h-1zM6 65h1v1h-1zM7 67h1v1h-1zM8 69h1v1h-1zM9 71h1v1h-1zM9 72h1v1h-1zM10 75h1v1h-1zM10 76h1v1h-1zM11 79h1v1h-1zM11 80h1v1h-1zM12 85h1v1h-1zM12 86h1v1h-1zM12 87h1v1h-1zM12 88h1v1h-1zM12 89h1v1h-1z"/><path fill="#7cd250" d="M1 59h1v1h-1zM2 60h1v1h-1zM3 61h1v1h-1zM4 63h1v1h-1zM5 64h1v1h-1zM6 66h1v1h-1zM7 68h1v1h-1zM8 70h1v1h-1zM8 71h1v1h-1zM9 73h1v1h-1zM9 74h1v1h-1zM10 77h1v1h-1zM10 78h1v1h-1zM11 81h1v1h-1zM11 82h1v1h-1zM11 83h1v1h-1zM12 90h1v1h-1zM12 91h1v1h-1zM12 92h1v1h-1zM12 93h1v1h-1zM12 94h1v1h-1z"/><path fill="#81d34d" d="M1 60h1v1h-1zM2 61h1v1h-1zM3 62h1v1h-1zM4 64h1v1h-1zM5 65h1v1h-1zM6 67h1v1h-1zM7 69h1v1h-1zM7 70h1v1h-1zM8 72h1v1h-1zM9 75h1v1h-1zM9 76h1v1h-1zM10 79h1v1h-1zM10 80h1v1h-1zM11 84h1v1h-1zM11 85h1v1h-1zM11 86h1v1h-1zM11 87h1v1h-1z"/><path fill="#86d549" d="M1 61h1v1h-1zM2 62h1v1h-1zM3 63h1v1h-1zM4 65h1v1h-1zM5 66h1v1h-1zM6 68h1v1h-1zM7 71h1v1h-1zM8 73h1v1h-1zM8 74h1v1h-1zM9 77h1v1h-1zM9 78h1v1h-1zM10 81h1v1h-1zM10 82h1v1h-1zM11 88h1v1h-1zM11 89h1v1h-1zM11 90h1v1h-1zM11 91h1v1h-1zM11 92h1v1h-1z"/><path fill="#8bd646" d="M1 62h1v1h-1zM2 63h1v1h-1zM3 64h1v1h-1zM4 66h1v1h-1zM5 67h1v1h-1zM5 68h1v1h-1zM6 69h1v1h-1zM6 70h1v1h-1zM7 72h1v1h-1zM8 75h1v1h-1zM8 76h1v1h-1zM9 79h1v1h-1zM9 80h1v1h-1zM10 83h1v1h-1zM10 84h1v1h-1zM10 85h1v1h-1zM11 93h1v1h-1zM11 94h1v1h-1z"/><path fill="#90d743" d="M2 64h1v1h-1zM3 65h1v1h-1zM4 67h1v1h-1zM5 69h1v1h-1zM6 71h1v1h-1zM7 73h1v1h-1zM7 74h1v1h-1zM8 77h1v1h-1zM9 81h1v1h-1zM9 82h1v1h-1zM10 86h1v1h-1zM10 87h1v1h-1zM10 88h1v1h-1zM10 89h1v1h-1z"/><path fill="#95d840" d="M1 63h1v1h-1zM2 65h1v1h-1zM3 66h1v1h-1zM4 68h1v1h-1zM5 70h1v1h-1zM6 72h1v1h-1zM6 73h1v1h-1zM7 75h1v1h-1zM7 76h1v1h-1zM8 78h1v1h-1zM8 79h1v1h-1zM9 83h1v1h-1zM9 84h1v1h-1zM10 90h1v1h-1zM10 91h1v1h-1zM10 92h1v1h-1zM10 93h1v1h-1z"/><path fill="#9bd93c" d="M1 64h1v1h-1zM2 66h1v1h-1zM3 67h1v1h-1zM4 69h1v1h-1zM5 71h1v1h-1zM6 74h1v1h-1zM7 77h1v1h-1zM8 80h1v1h-1zM8 81h1v1h-1zM9 85h1v1h-1zM9 86h1v1h-1zM9 87h1v1h-1z"/><path fill="#a0da39" d="M1 65h1v1h-1zM2 67h1v1h-1zM3 68h1v1h-1zM4 70h1v1h-1zM5 72h1v1h-1zM5 73h1v1h-1zM6 75h1v1h-1zM6 76h1v1h-1zM7 78h1v1h-1zM7 79h1v1h-1zM8 82h1v1h-1zM8 83h1v1h-1zM9 88h1v1h-1zM9 89h1v1h-1zM9 90h1v1h-1zM9 91h1v1h-1z"/><path fill="#a5db36" d="M1 66h1v1h-1zM2 68h1v1h-1zM3 69h1v1h-1zM4 71h1v1h-1zM4 72h1v1h-1zM5 74h1v1h-1zM6 77h1v1h-1zM7 80h1v1h-1zM7 81h1v1h-1zM8 84h1v1h-1zM8 85h1v1h-1zM8 86h1v1h-1zM9 92h1v1h-1zM9 93h1v1h-1z"/><path fill="#aadc32" d="M1 67h1v1h-1zM2 69h1v1h-1zM3 70h1v1h-1zM3 71h1v1h-1zM4 73h1v1h-1zM5 75h1v1h-1zM5 76h1v1h-1zM6 78h1v1h-1zM6 79h1v1h-1zM7 82h1v1h-1zM7 83h1v1h-1zM8 87h1v1h-1zM8 88h1v1h-1zM8 89h1v1h-1z"/><path fill="#b0dd2f" d="M1 68h1v1h-1zM2 70h1v1h-1zM3 72h1v1h-1zM4 74h1v1h-1zM5 77h1v1h-1zM6 80h1v1h-1zM6 81h1v1h-1zM7 84h1v1h-1zM7 85h1v1h-1zM8 90h1v1h-1zM8 91h1v1h-1zM8 92h1v1h-1zM8 93h1v1h-1z"/><path fill="#b5de2b" d="M1 69h1v1h-1zM2 71h1v1h-1zM3 73h1v1h-1zM4 75h1v1h-1zM4 76h1v1h-1zM5 78h1v1h-1zM5 79h1v1h-1zM6 82h1v1h-1zM7 86h1v1h-1zM7 87h1v1h-1z"/><path fill="#bade28" d="M1 70h1v1h-1zM2 72h1v1h-1zM3 74h1v1h-1zM4 77h1v1h-1zM5 80h1v1h-1zM6 83h1v1h-1zM6 84h1v1h-1zM7 88h1v1h-1zM7 89h1v1h-1zM7 90h1v1h-1z"/><path fill="#c0df25" d="M1 71h1v1h-1zM2 73h1v1h-1zM3 75h1v1h-1zM4 78h1v1h-1zM5 81h1v1h-1zM5 82h1v1h-1zM6 85h1v1h-1zM6 86h1v1h-1zM7 91h1v1h-1zM7 92h1v1h-1z"/><path fill="#c5e021" d="M1 72h1v1h-1zM2 74h1v1h-1zM3 76h1v1h-1zM3 77h1v1h-1zM4 79h1v1h-1zM4 80h1v1h-1zM5 83h1v1h-1zM5 84h1v1h-1zM6 87h1v1h-1zM6 88h1v1h-1zM6 89h1v1h-1z"/><path fill="#cae11f" d="M1 73h1v1h-1zM2 75h1v1h-1zM3 78h1v1h-1zM4 81h1v1h-1zM5 85h1v1h-1zM6 90h1v1h-1zM6 91h1v1h-1z"/><path fill="#d0e11c" d="M1 74h1v1h-1zM2 76h1v1h-1zM2 77h1v1h-1zM3 79h1v1h-1zM3 80h1v1h-1zM4 82h1v1h-1zM4 83h1v1h-1zM5 86h1v1h-1zM5 87h1v1h-1zM6 92h1v1h-1z"/><path fill="#d5e21a" d="M1 75h1v1h-1zM1 76h1v1h-1zM2 78h1v1h-1zM3 81h1v1h-1zM4 84h1v1h-1zM4 85h1v1h-1zM5 88h1v1h-1zM5 89h1v1h-1zM5 90h1v1h-1z"/><path fill="#dae319" d="M1 77h1v1h-1zM2 79h1v1h-1zM3 82h1v1h-1zM3 83h1v1h-1zM4 86h1v1h-1zM5 91h1v1h-1zM5 92h1v1h-1z"/><path fill="#dfe318" d="M1 78h1v1h-1zM2 80h1v1h-1zM2 81h1v1h-1zM3 84h1v1h-1zM4 87h1v1h-1zM4 88h1v1h-1z"/><path fill="#e5e419" d="M1 79h1v1h-1zM2 82h1v1h-1zM3 85h1v1h-1zM3 86h1v1h-1zM4 89h1v1h-1zM4 90h1v1h-1zM4 91h1v1h-1z"/><path fill="#eae51a" d="M0 80h2v1h-2zM2 83h1v1h-1zM2 84h1v1h-1zM3 87h1v1h-1z"/><path fill="#efe51c" d="M0 81h2v1h-2zM0 82h2v1h-2zM2 85h1v1h-1zM3 88h1v1h-1zM3 89h1v1h-1z"/><path fill="#f4e61e" d="M0 83h2v1h-2zM2 86h1v1h-1zM2 87h1v1h-1zM3 90h1v1h-1zM3 91h1v1h-1z"/><path fill="#f8e621" d="M0 84h2v1h-2zM0 85h2v1h-2zM2 88h1v1h-1z"/><path fill="#fde725" d="M0 86h2v1h-2zM0 87h2v1h-2zM0 88h2v1h-2zM0 89h3v1h-3zM0 90h3v1h-3z"/></g>
<use href="#pp" x="0.00" y="673.50"/>
<rect class="s" x="80.5" y="752.5" width="279.0" height="546.0"/><text class="t" text-anchor="middle" x="85.5" y="1318.9">0</text><text class="t" text-anchor="middle" x="151.5" y="1318.9">500</text><text class="t" text-anchor="middle" x="216.5" y="1318.9">1000</text><text class="t" text-anchor="middle" x="282.5" y="1318.9">1500</text><text class="t" text-anchor="middle" x="347.5" y="1318.9">2000</text><text class="t" text-anchor="end" x="70.0" y="1299.6">0</text><text class="t" text-anchor="end" x="70.0" y="1233.6">500</text><text class="t" text-anchor="end" x="70.0" y="1168.6">1000</text><text class="t" text-anchor="end" x="70.0" y="1102.6">1500</text><text class="t" text-anchor="end" x="70.0" y="1037.6">2000</text><text class="t" text-anchor="end" x="70.0" y="971.6">2500</text><text class="t" text-anchor="end" x="70.0" y="906.6">3000</text><text class="t" text-anchor="end" x="70.0" y="840.6">3500</text><text class="t" text-anchor="end" x="70.0" y="775.6">4000</text><path class="k" d="M85.5 1298.5v4.86M151.5 1298.5v4.86M216.5 1298.5v4.86M282.5 1298.5v4.86M347.5 1298.5v4.86M80.5 1294.5h-4.86M80.5 1228.5h-4.86M80.5 1163.5h-4.86M80.5 1097.5h-4.86M80.5 1032.5h-4.86M80.5 966.5h-4.86M80.5 901.5h-4.86M80.5 835.5h-4.86M80.5 770.5h-4.86"/><text class="t" text-anchor="middle" x="220.0" y="1339.1">X</text><text class="t" text-anchor="middle" transform="translate(24.5,1025.5) rotate(-90)">Y</text><text class="h" text-anchor="middle" x="220.0" y="744.2">science_psfSize[pixels]</text>
<rect x="375.5" y="804.5" width="22.0" height="443.0" fill="url(#vg)" class="k"/><text class="t" x="406.6" y="1241.5">2.78</text><text class="t" x="406.6" y="1187.5">2.79</text><text class="t" x="406.6" y="1134.5">2.80</text><text class="t" x="406.6" y="1081.5">2.81</text><text class="t" x="406.6" y="1028.5">2.82</text><text class="t" x="406.6" y="975.5">2.83</text><text class="t" x="406.6" y="922.5">2.84</text><text class="t" x="406.6" y="869.5">2.85</text><text class="t" x="406.6" y="816.5">2.86</text><path class="k" d="M397.5 1236.5h4.86M397.5 1182.5h4.86M397.5 1129.5h4.86M397.5 1076.5h4.86M397.5 1023.5h4.86M397.5 970.5h4.86M397.5 917.5h4.86M397.5 864.5h4.86M397.5 811.5h4.86"/>
<g transform="translate(464.00,763.00) scale(5.5780,5.4640)" shape-rendering="crispEdges"><path fill="#440256" d="M23 10h2v1h-2zM22 11h3v1h-3zM22 12h3v1h-3zM21 13h3v1h-3zM22 14h2v1h-2z"/><path fill="#450559" d="M24 13h1v1h-1zM21 14h1v1h-1zM44 92h2v1h-2z"/><path fill="#46085c" d="M21 12h1v1h-1zM22 15h1v1h-1zM44 91h2v1h-2zM42 92h2v1h-2zM40 93h2v1h-2z"/><path fill="#460b5e" d="M44 90h2v1h-2zM43 91h1v1h-1zM40 92h2v1h-2zM37 93h3v1h-3z"/><path fill="#470e61" d="M24 9h1v1h-1zM25 10h1v1h-1zM24 14h1v1h-1zM44 89h2v1h-2zM43 90h1v1h-1zM41 91h2v1h-2zM37 92h3v1h-3zM35 93h2v1h-2z"/><path fill="#471164" d="M25 9h1v1h-1zM22 10h1v1h-1zM25 11h1v1h-1zM21 15h1v1h-1zM23 15h1v1h-1zM44 88h2v1h-2zM42 89h2v1h-2zM42 90h1v1h-1zM38 91h3v1h-3zM35 92h2v1h-2zM34 93h1v1h-1z"/><path fill="#481467" d="M46 86h1v1h-1zM44 87h2v1h-2zM42 88h2v1h-2zM41 89h1v1h-1zM40 90h2v1h-2zM35 91h3v1h-3zM32 92h3v1h-3zM32 93h2v1h-2z"/><path fill="#481769" d="M25 12h1v1h-1zM46 85h1v1h-1zM44 86h2v1h-2zM42 87h2v1h-2zM41 88h1v1h-1zM40 89h1v1h-1zM38 90h2v1h-2zM30 91h5v1h-5zM30 92h2v1h-2zM31 93h1v1h-1z"/><path fill="#481a6c" d="M21 11h1v1h-1zM22 16h1v1h-1zM46 84h1v1h-1zM44 85h2v1h-2zM42 86h2v1h-2zM41 87h1v1h-1zM39 88h2v1h-2zM30 89h1v1h-1zM39 89h1v1h-1zM29 90h9v1h-9zM29 91h1v1h-1zM29 92h1v1h-1zM30 93h1v1h-1z"/><path fill="#481c6e" d="M23 9h1v1h-1zM25 13h1v1h-1zM46 83h1v1h-1zM44 84h2v1h-2zM42 85h2v1h-2zM40 86h2v1h-2zM39 87h2v1h-2zM29 88h2v1h-2zM38 88h1v1h-1zM28 89h2v1h-2zM31 89h3v1h-3zM35 89h4v1h-4zM28 90h1v1h-1zM28 91h1v1h-1zM28 92h1v1h-1zM29 93h1v1h-1z"/><path fill="#481f70" d="M24 15h1v1h-1zM45 82h2v1h-2zM43 83h3v1h-3zM42 84h2v1h-2zM40 85h2v1h-2zM39 86h1v1h-1zM27 87h4v1h-4zM38 87h1v1h-1zM27 88h2v1h-2zM31 88h2v1h-2zM37 88h1v1h-1zM27 89h1v1h-1zM34 89h1v1h-1zM27 90h1v1h-1zM27 91h1v1h-1zM27 92h1v1h-1zM28 93h1v1h-1zM28 94h1v1h-1z"/><path fill="#482173" d="M21 16h1v1h-1zM23 16h1v1h-1zM45 81h2v1h-2zM43 82h2v1h-2zM42 83h1v1h-1zM40 84h2v1h-2zM27 85h1v1h-1zM39 85h1v1h-1zM26 86h4v1h-4zM38 86h1v1h-1zM26 87h1v1h-1zM31 87h2v1h-2zM36 87h2v1h-2zM26 88h1v1h-1zM33 88h4v1h-4zM26 89h1v1h-1zM26 90h1v1h-1zM26 91h1v1h-1zM27 93h1v1h-1zM27 94h1v1h-1z"/><path fill="#482475" d="M25 8h1v1h-1zM25 14h1v1h-1zM46 79h1v1h-1zM44 80h3v1h-3zM42 81h3v1h-3zM41 82h2v1h-2zM40 83h2v1h-2zM24 84h4v1h-4zM39 84h1v1h-1zM24 85h3v1h-3zM28 85h2v1h-2zM38 85h1v1h-1zM24 86h2v1h-2zM30 86h3v1h-3zM36 86h2v1h-2zM25 87h1v1h-1zM33 87h3v1h-3zM25 88h1v1h-1zM25 89h1v1h-1zM25 90h1v1h-1zM26 92h1v1h-1zM26 93h1v1h-1zM25 94h2v1h-2z"/><path fill="#482677" d="M26 9h1v1h-1zM26 10h1v1h-1zM46 77h1v1h-1zM44 78h3v1h-3zM43 79h3v1h-3zM42 80h2v1h-2zM41 81h1v1h-1zM40 82h1v1h-1zM23 83h4v1h-4zM38 83h2v1h-2zM23 84h1v1h-1zM28 84h2v1h-2zM37 84h2v1h-2zM23 85h1v1h-1zM30 85h2v1h-2zM36 85h2v1h-2zM23 86h1v1h-1zM33 86h3v1h-3zM23 87h2v1h-2zM24 88h1v1h-1zM24 89h1v1h-1zM25 91h1v1h-1zM25 92h1v1h-1zM24 93h2v1h-2zM24 94h1v1h-1z"/><path fill="#482979" d="M26 8h1v1h-1zM20 13h1v1h-1zM20 14h1v1h-1zM46 75h1v1h-1zM44 76h3v1h-3zM43 77h3v1h-3zM42 78h2v1h-2zM41 79h2v1h-2zM40 80h2v1h-2zM39 81h2v1h-2zM23 82h3v1h-3zM38 82h2v1h-2zM27 83h2v1h-2zM37 83h1v1h-1zM22 84h1v1h-1zM30 84h1v1h-1zM36 84h1v1h-1zM22 85h1v1h-1zM32 85h4v1h-4zM22 86h1v1h-1zM22 87h1v1h-1zM15 88h1v1h-1zM23 88h1v1h-1zM15 89h2v1h-2zM23 89h1v1h-1zM15 90h1v1h-1zM24 90h1v1h-1zM24 91h1v1h-1zM23 92h2v1h-2zM23 93h1v1h-1zM21 94h3v1h-3z"/><path fill="#472c7a" d="M26 11h1v1h-1zM22 17h1v1h-1zM47 25h1v1h-1zM47 26h1v1h-1zM47 27h1v1h-1zM47 28h1v1h-1zM47 29h1v1h-1zM47 30h1v1h-1zM45 72h2v1h-2zM43 73h4v1h-4zM42 74h5v1h-5zM41 75h5v1h-5zM40 76h4v1h-4zM40 77h3v1h-3zM39 78h3v1h-3zM39 79h2v1h-2zM38 80h2v1h-2zM38 81h1v1h-1zM26 82h2v1h-2zM37 82h1v1h-1zM22 83h1v1h-1zM29 83h2v1h-2zM36 83h1v1h-1zM31 84h5v1h-5zM21 85h1v1h-1zM21 86h1v1h-1zM15 87h1v1h-1zM21 87h1v1h-1zM14 88h1v1h-1zM16 88h2v1h-2zM21 88h2v1h-2zM14 89h1v1h-1zM17 89h1v1h-1zM22 89h1v1h-1zM13 90h2v1h-2zM16 90h2v1h-2zM22 90h2v1h-2zM13 91h4v1h-4zM22 91h2v1h-2zM13 92h4v1h-4zM21 92h2v1h-2zM13 93h10v1h-10zM14 94h7v1h-7zM14 95h2v1h-2z"/><path fill="#472e7c" d="M26 12h1v1h-1zM25 15h1v1h-1zM24 16h1v1h-1zM23 17h1v1h-1zM47 22h1v1h-1zM47 23h1v1h-1zM47 24h1v1h-1zM25 30h2v1h-2zM44 69h3v1h-3zM43 70h4v1h-4zM42 71h5v1h-5zM41 72h4v1h-4zM37 73h6v1h-6zM37 74h5v1h-5zM37 75h4v1h-4zM38 76h2v1h-2zM38 77h2v1h-2zM38 78h1v1h-1zM37 79h2v1h-2zM37 80h1v1h-1zM23 81h4v1h-4zM36 81h2v1h-2zM22 82h1v1h-1zM28 82h1v1h-1zM35 82h2v1h-2zM31 83h5v1h-5zM21 84h1v1h-1zM20 86h1v1h-1zM14 87h1v1h-1zM16 87h5v1h-5zM13 88h1v1h-1zM18 88h3v1h-3zM13 89h1v1h-1zM18 89h4v1h-4zM12 90h1v1h-1zM18 90h4v1h-4zM12 91h1v1h-1zM17 91h5v1h-5zM12 92h1v1h-1zM17 92h4v1h-4z"/><path fill="#46307e" d="M20 12h1v1h-1zM20 15h1v1h-1zM21 17h1v1h-1zM47 20h1v1h-1zM47 21h1v1h-1zM25 29h1v1h-1zM26 31h1v1h-1zM44 66h3v1h-3zM43 67h4v1h-4zM42 68h5v1h-5zM40 69h4v1h-4zM39 70h4v1h-4zM35 71h7v1h-7zM35 72h6v1h-6zM35 73h2v1h-2zM35 74h2v1h-2zM35 75h2v1h-2zM36 76h2v1h-2zM36 77h2v1h-2zM36 78h2v1h-2zM36 79h1v1h-1zM36 80h1v1h-1zM27 81h1v1h-1zM35 81h1v1h-1zM29 82h3v1h-3zM33 82h2v1h-2zM21 83h1v1h-1zM20 84h1v1h-1zM20 85h1v1h-1zM16 86h4v1h-4zM13 87h1v1h-1zM12 88h1v1h-1zM12 89h1v1h-1z"/><path fill="#46337f" d="M26 13h1v1h-1zM24 17h1v1h-1zM23 18h2v1h-2zM47 18h1v1h-1zM47 19h1v1h-1zM27 26h1v1h-1zM27 27h1v1h-1zM24 29h1v1h-1zM26 29h1v1h-1zM24 30h1v1h-1zM27 30h1v1h-1zM25 31h1v1h-1zM27 31h1v1h-1zM45 63h2v1h-2zM44 64h3v1h-3zM43 65h4v1h-4zM25 66h1v1h-1zM41 66h3v1h-3zM25 67h1v1h-1zM40 67h3v1h-3zM38 68h4v1h-4zM33 69h7v1h-7zM30 70h2v1h-2zM33 70h6v1h-6zM29 71h2v1h-2zM33 71h2v1h-2zM28 72h1v1h-1zM33 72h2v1h-2zM33 73h2v1h-2zM34 74h1v1h-1zM34 75h1v1h-1zM34 76h2v1h-2zM35 77h1v1h-1zM35 78h1v1h-1zM35 79h1v1h-1zM24 80h3v1h-3zM34 80h2v1h-2zM22 81h1v1h-1zM28 81h2v1h-2zM33 81h2v1h-2zM21 82h1v1h-1zM32 82h1v1h-1zM18 85h2v1h-2zM14 86h2v1h-2zM11 89h1v1h-1zM11 90h1v1h-1z"/><path fill="#453581" d="M47 16h1v1h-1zM47 17h1v1h-1zM23 19h3v1h-3zM27 24h1v1h-1zM26 25h3v1h-3zM26 26h1v1h-1zM28 26h2v1h-2zM26 27h1v1h-1zM28 27h2v1h-2zM24 28h5v1h-5zM27 29h1v1h-1zM28 31h1v1h-1zM45 59h2v1h-2zM43 60h4v1h-4zM42 61h5v1h-5zM41 62h6v1h-6zM41 63h4v1h-4zM25 64h1v1h-1zM40 64h4v1h-4zM25 65h2v1h-2zM38 65h5v1h-5zM26 66h1v1h-1zM37 66h4v1h-4zM26 67h1v1h-1zM33 67h7v1h-7zM25 68h2v1h-2zM32 68h6v1h-6zM25 69h1v1h-1zM31 69h2v1h-2zM28 70h2v1h-2zM32 70h1v1h-1zM27 71h2v1h-2zM31 71h2v1h-2zM27 72h1v1h-1zM29 72h1v1h-1zM31 72h2v1h-2zM27 73h1v1h-1zM32 73h1v1h-1zM32 74h2v1h-2zM33 75h1v1h-1zM33 76h1v1h-1zM33 77h2v1h-2zM34 78h1v1h-1zM33 79h2v1h-2zM23 80h1v1h-1zM27 80h1v1h-1zM33 80h1v1h-1zM30 81h3v1h-3zM20 83h1v1h-1zM19 84h1v1h-1zM16 85h2v1h-2zM13 86h1v1h-1zM12 87h1v1h-1zM11 88h1v1h-1z"/><path fill="#453882" d="M27 8h1v1h-1zM27 9h1v1h-1zM27 10h1v1h-1zM26 14h1v1h-1zM47 15h1v1h-1zM25 16h1v1h-1zM22 18h1v1h-1zM25 18h1v1h-1zM27 23h2v1h-2zM26 24h1v1h-1zM28 24h2v1h-2zM29 25h1v1h-1zM25 26h1v1h-1zM25 27h1v1h-1zM29 28h1v1h-1zM28 29h2v1h-2zM28 30h1v1h-1zM24 31h1v1h-1zM26 32h1v1h-1zM46 55h1v1h-1zM42 56h5v1h-5zM40 57h7v1h-7zM40 58h7v1h-7zM40 59h5v1h-5zM39 60h4v1h-4zM39 61h3v1h-3zM25 62h1v1h-1zM38 62h3v1h-3zM25 63h2v1h-2zM37 63h4v1h-4zM26 64h1v1h-1zM37 64h3v1h-3zM24 65h1v1h-1zM34 65h4v1h-4zM24 66h1v1h-1zM33 66h4v1h-4zM24 67h1v1h-1zM32 67h1v1h-1zM24 68h1v1h-1zM27 68h1v1h-1zM31 68h1v1h-1zM26 69h5v1h-5zM25 70h3v1h-3zM25 71h2v1h-2zM26 72h1v1h-1zM30 72h1v1h-1zM26 73h1v1h-1zM28 73h1v1h-1zM30 73h2v1h-2zM26 74h1v1h-1zM31 74h1v1h-1zM32 75h1v1h-1zM32 76h1v1h-1zM32 77h1v1h-1zM32 78h2v1h-2zM24 79h4v1h-4zM32 79h1v1h-1zM22 80h1v1h-1zM28 80h5v1h-5zM21 81h1v1h-1zM18 84h1v1h-1zM15 85h1v1h-1zM11 91h1v1h-1z"/><path fill="#443a83" d="M27 7h1v1h-1zM21 10h1v1h-1zM27 11h1v1h-1zM45 13h1v1h-1zM47 13h1v1h-1zM45 14h1v1h-1zM47 14h1v1h-1zM44 15h2v1h-2zM44 16h2v1h-2zM25 17h1v1h-1zM44 17h2v1h-2zM44 18h2v1h-2zM26 19h1v1h-1zM43 19h3v1h-3zM24 20h2v1h-2zM43 20h3v1h-3zM43 21h3v1h-3zM27 22h2v1h-2zM43 22h3v1h-3zM26 23h1v1h-1zM29 23h2v1h-2zM43 23h3v1h-3zM25 24h1v1h-1zM30 24h1v1h-1zM43 24h4v1h-4zM25 25h1v1h-1zM30 25h1v1h-1zM43 25h2v1h-2zM46 25h1v1h-1zM30 26h1v1h-1zM43 26h2v1h-2zM46 26h1v1h-1zM24 27h1v1h-1zM30 27h1v1h-1zM46 27h1v1h-1zM30 28h1v1h-1zM46 28h1v1h-1zM23 29h1v1h-1zM46 29h1v1h-1zM29 30h1v1h-1zM46 30h1v1h-1zM29 31h1v1h-1zM46 31h1v1h-1zM25 32h1v1h-1zM27 32h1v1h-1zM46 32h1v1h-1zM46 33h1v1h-1zM24 40h2v1h-2zM24 41h3v1h-3zM24 42h3v1h-3zM46 47h1v1h-1zM46 48h1v1h-1zM46 49h1v1h-1zM46 50h1v1h-1zM46 51h1v1h-1zM43 52h4v1h-4zM41 53h6v1h-6zM39 54h8v1h-8zM38 55h8v1h-8zM38 56h4v1h-4zM37 57h3v1h-3zM37 58h3v1h-3zM37 59h3v1h-3zM37 60h2v1h-2zM25 61h1v1h-1zM36 61h3v1h-3zM26 62h1v1h-1zM36 62h2v1h-2zM35 63h2v1h-2zM24 64h1v1h-1zM33 64h4v1h-4zM27 65h1v1h-1zM32 65h2v1h-2zM27 66h1v1h-1zM32 66h1v1h-1zM27 67h2v1h-2zM30 67h2v1h-2zM28 68h3v1h-3zM24 69h1v1h-1zM24 70h1v1h-1zM25 72h1v1h-1zM29 73h1v1h-1zM27 74h1v1h-1zM29 74h2v1h-2zM30 75h2v1h-2zM30 76h2v1h-2zM31 77h1v1h-1zM25 78h2v1h-2zM31 78h1v1h-1zM23 79h1v1h-1zM28 79h4v1h-4zM20 82h1v1h-1zM19 83h1v1h-1zM17 84h1v1h-1zM14 85h1v1h-1zM12 86h1v1h-1zM11 87h1v1h-1zM10 89h1v1h-1z"/><path fill="#433d84" d="M28 8h1v1h-1zM28 9h1v1h-1zM28 10h1v1h-1zM42 10h3v1h-3zM42 11h4v1h-4zM27 12h1v1h-1zM43 12h3v1h-3zM47 12h1v1h-1zM43 13h2v1h-2zM43 14h2v1h-2zM26 15h1v1h-1zM43 15h1v1h-1zM20 16h1v1h-1zM42 16h2v1h-2zM42 17h2v1h-2zM26 18h1v1h-1zM41 18h3v1h-3zM46 18h1v1h-1zM22 19h1v1h-1zM27 19h1v1h-1zM41 19h2v1h-2zM46 19h1v1h-1zM23 20h1v1h-1zM26 20h1v1h-1zM41 20h2v1h-2zM46 20h1v1h-1zM24 21h5v1h-5zM40 21h3v1h-3zM46 21h1v1h-1zM25 22h2v1h-2zM29 22h2v1h-2zM40 22h3v1h-3zM46 22h1v1h-1zM25 23h1v1h-1zM31 23h1v1h-1zM40 23h3v1h-3zM46 23h1v1h-1zM31 24h1v1h-1zM40 24h3v1h-3zM31 25h1v1h-1zM40 25h3v1h-3zM45 25h1v1h-1zM24 26h1v1h-1zM31 26h1v1h-1zM40 26h3v1h-3zM45 26h1v1h-1zM31 27h1v1h-1zM40 27h6v1h-6zM23 28h1v1h-1zM41 28h5v1h-5zM30 29h1v1h-1zM41 29h5v1h-5zM23 30h1v1h-1zM30 30h1v1h-1zM42 30h4v1h-4zM43 31h3v1h-3zM24 32h1v1h-1zM28 32h1v1h-1zM44 32h2v1h-2zM46 34h1v1h-1zM46 35h1v1h-1zM46 36h1v1h-1zM46 37h1v1h-1zM46 38h1v1h-1zM23 39h3v1h-3zM46 39h1v1h-1zM23 40h1v1h-1zM26 40h1v1h-1zM46 40h1v1h-1zM23 41h1v1h-1zM46 41h1v1h-1zM27 42h1v1h-1zM46 42h1v1h-1zM24 43h4v1h-4zM46 43h1v1h-1zM25 44h2v1h-2zM45 44h2v1h-2zM44 45h3v1h-3zM43 46h4v1h-4zM42 47h4v1h-4zM42 48h4v1h-4zM41 49h5v1h-5zM40 50h6v1h-6zM39 51h7v1h-7zM37 52h6v1h-6zM36 53h5v1h-5zM36 54h3v1h-3zM35 55h3v1h-3zM35 56h3v1h-3zM35 57h2v1h-2zM35 58h2v1h-2zM35 59h2v1h-2zM25 60h2v1h-2zM34 60h3v1h-3zM26 61h1v1h-1zM34 61h2v1h-2zM33 62h3v1h-3zM24 63h1v1h-1zM27 63h1v1h-1zM33 63h2v1h-2zM27 64h2v1h-2zM32 64h1v1h-1zM28 65h1v1h-1zM31 65h1v1h-1zM28 66h4v1h-4zM29 67h1v1h-1zM25 73h1v1h-1zM25 74h1v1h-1zM28 74h1v1h-1zM26 75h4v1h-4zM28 76h2v1h-2zM25 77h6v1h-6zM24 78h1v1h-1zM27 78h4v1h-4zM18 83h1v1h-1zM16 84h1v1h-1zM10 88h1v1h-1z"/><path fill="#423f85" d="M26 7h1v1h-1zM24 8h1v1h-1zM29 8h2v1h-2zM39 8h5v1h-5zM29 9h3v1h-3zM36 9h10v1h-10zM29 10h3v1h-3zM36 10h6v1h-6zM45 10h3v1h-3zM28 11h1v1h-1zM37 11h2v1h-2zM40 11h2v1h-2zM46 11h2v1h-2zM41 12h2v1h-2zM46 12h1v1h-1zM41 13h2v1h-2zM46 13h1v1h-1zM41 14h2v1h-2zM46 14h1v1h-1zM41 15h2v1h-2zM46 15h1v1h-1zM40 16h2v1h-2zM46 16h1v1h-1zM40 17h2v1h-2zM46 17h1v1h-1zM21 18h1v1h-1zM39 18h2v1h-2zM39 19h2v1h-2zM27 20h1v1h-1zM38 20h3v1h-3zM23 21h1v1h-1zM29 21h2v1h-2zM38 21h2v1h-2zM24 22h1v1h-1zM31 22h1v1h-1zM37 22h3v1h-3zM24 23h1v1h-1zM32 23h1v1h-1zM37 23h3v1h-3zM32 24h1v1h-1zM37 24h3v1h-3zM24 25h1v1h-1zM32 25h2v1h-2zM37 25h3v1h-3zM32 26h2v1h-2zM37 26h3v1h-3zM32 27h1v1h-1zM38 27h2v1h-2zM31 28h2v1h-2zM38 28h3v1h-3zM31 29h1v1h-1zM39 29h2v1h-2zM31 30h1v1h-1zM39 30h3v1h-3zM23 31h1v1h-1zM30 31h1v1h-1zM40 31h3v1h-3zM23 32h1v1h-1zM29 32h1v1h-1zM40 32h4v1h-4zM24 33h3v1h-3zM40 33h6v1h-6zM40 34h6v1h-6zM39 35h7v1h-7zM39 36h7v1h-7zM38 37h8v1h-8zM23 38h2v1h-2zM37 38h9v1h-9zM37 39h9v1h-9zM37 40h9v1h-9zM27 41h1v1h-1zM37 41h9v1h-9zM23 42h1v1h-1zM28 42h1v1h-1zM38 42h8v1h-8zM23 43h1v1h-1zM28 43h1v1h-1zM38 43h8v1h-8zM24 44h1v1h-1zM27 44h2v1h-2zM38 44h7v1h-7zM24 45h4v1h-4zM38 45h6v1h-6zM25 46h1v1h-1zM38 46h5v1h-5zM38 47h4v1h-4zM38 48h4v1h-4zM37 49h4v1h-4zM24 50h1v1h-1zM26 50h1v1h-1zM36 50h4v1h-4zM24 51h5v1h-5zM35 51h4v1h-4zM25 52h1v1h-1zM27 52h3v1h-3zM33 52h4v1h-4zM27 53h4v1h-4zM32 53h4v1h-4zM28 54h8v1h-8zM28 55h7v1h-7zM29 56h6v1h-6zM29 57h6v1h-6zM26 58h1v1h-1zM29 58h6v1h-6zM26 59h1v1h-1zM29 59h6v1h-6zM27 60h7v1h-7zM27 61h7v1h-7zM24 62h1v1h-1zM27 62h6v1h-6zM28 63h5v1h-5zM29 64h3v1h-3zM29 65h2v1h-2zM24 71h1v1h-1zM25 75h1v1h-1zM25 76h3v1h-3zM24 77h1v1h-1zM22 79h1v1h-1zM21 80h1v1h-1zM20 81h1v1h-1zM19 82h1v1h-1zM15 84h1v1h-1zM13 85h1v1h-1z"/><path fill="#424186" d="M28 7h16v1h-16zM31 8h8v1h-8zM44 8h3v1h-3zM32 9h4v1h-4zM46 9h2v1h-2zM32 10h4v1h-4zM29 11h8v1h-8zM39 11h1v1h-1zM28 12h1v1h-1zM35 12h6v1h-6zM27 13h1v1h-1zM36 13h5v1h-5zM38 14h3v1h-3zM38 15h3v1h-3zM26 16h1v1h-1zM38 16h2v1h-2zM26 17h1v1h-1zM37 17h3v1h-3zM37 18h2v1h-2zM28 19h1v1h-1zM37 19h2v1h-2zM28 20h2v1h-2zM36 20h2v1h-2zM31 21h7v1h-7zM32 22h5v1h-5zM33 23h4v1h-4zM24 24h1v1h-1zM33 24h4v1h-4zM34 25h3v1h-3zM34 26h3v1h-3zM23 27h1v1h-1zM33 27h5v1h-5zM33 28h5v1h-5zM32 29h7v1h-7zM32 30h7v1h-7zM31 31h2v1h-2zM36 31h4v1h-4zM30 32h2v1h-2zM36 32h4v1h-4zM23 33h1v1h-1zM27 33h5v1h-5zM36 33h4v1h-4zM23 34h3v1h-3zM30 34h2v1h-2zM35 34h5v1h-5zM23 35h1v1h-1zM31 35h8v1h-8zM23 36h2v1h-2zM31 36h8v1h-8zM23 37h3v1h-3zM30 37h8v1h-8zM25 38h1v1h-1zM30 38h7v1h-7zM26 39h1v1h-1zM29 39h8v1h-8zM22 40h1v1h-1zM27 40h1v1h-1zM29 40h8v1h-8zM22 41h1v1h-1zM28 41h9v1h-9zM22 42h1v1h-1zM29 42h9v1h-9zM22 43h1v1h-1zM29 43h9v1h-9zM22 44h2v1h-2zM29 44h9v1h-9zM23 45h1v1h-1zM28 45h10v1h-10zM23 46h2v1h-2zM26 46h12v1h-12zM23 47h15v1h-15zM24 48h14v1h-14zM24 49h13v1h-13zM23 50h1v1h-1zM25 50h1v1h-1zM27 50h9v1h-9zM23 51h1v1h-1zM29 51h6v1h-6zM24 52h1v1h-1zM26 52h1v1h-1zM30 52h3v1h-3zM25 53h2v1h-2zM31 53h1v1h-1zM26 54h2v1h-2zM27 55h1v1h-1zM27 56h2v1h-2zM26 57h3v1h-3zM27 58h2v1h-2zM25 59h1v1h-1zM27 59h2v1h-2zM24 72h1v1h-1zM23 78h1v1h-1zM17 83h1v1h-1zM11 86h1v1h-1zM10 87h1v1h-1z"/><path fill="#414487" d="M28 6h1v1h-1zM40 6h2v1h-2zM44 7h3v1h-3zM47 8h1v1h-1zM32 12h3v1h-3zM34 13h2v1h-2zM27 14h1v1h-1zM35 14h3v1h-3zM35 15h3v1h-3zM35 16h3v1h-3zM35 17h2v1h-2zM27 18h1v1h-1zM35 18h2v1h-2zM29 19h1v1h-1zM35 19h2v1h-2zM22 20h1v1h-1zM30 20h6v1h-6zM23 22h1v1h-1zM33 31h3v1h-3zM32 32h4v1h-4zM32 33h4v1h-4zM26 34h4v1h-4zM32 34h3v1h-3zM24 35h7v1h-7zM25 36h6v1h-6zM22 37h1v1h-1zM26 37h4v1h-4zM22 38h1v1h-1zM26 38h4v1h-4zM22 39h1v1h-1zM27 39h2v1h-2zM28 40h1v1h-1zM22 45h1v1h-1zM22 46h1v1h-1zM23 48h1v1h-1zM23 49h1v1h-1zM23 52h1v1h-1zM24 53h1v1h-1zM26 55h1v1h-1zM26 56h1v1h-1zM25 58h1v1h-1zM24 61h1v1h-1zM23 65h1v1h-1zM23 66h1v1h-1zM23 67h1v1h-1zM23 68h1v1h-1zM24 73h1v1h-1zM24 75h1v1h-1zM24 76h1v1h-1zM18 82h1v1h-1zM10 90h1v1h-1z"/><path fill="#404688" d="M27 6h1v1h-1zM29 6h11v1h-11zM42 6h6v1h-6zM47 7h1v1h-1zM20 11h1v1h-1zM29 12h3v1h-3zM28 13h1v1h-1zM33 13h1v1h-1zM34 14h1v1h-1zM34 15h1v1h-1zM34 16h1v1h-1zM34 17h1v1h-1zM33 18h2v1h-2zM30 19h5v1h-5zM23 23h1v1h-1zM23 24h1v1h-1zM23 26h1v1h-1zM22 31h1v1h-1zM22 32h1v1h-1zM22 33h1v1h-1zM22 34h1v1h-1zM22 35h1v1h-1zM22 36h1v1h-1zM22 47h1v1h-1zM22 48h1v1h-1zM25 54h1v1h-1zM24 60h1v1h-1zM23 64h1v1h-1zM23 69h1v1h-1zM24 74h1v1h-1zM23 77h1v1h-1zM22 78h1v1h-1zM19 81h1v1h-1zM16 83h1v1h-1zM14 84h1v1h-1zM12 85h1v1h-1zM9 88h1v1h-1z"/><path fill="#3f4889" d="M25 1h1v1h-1zM26 2h2v1h-2zM41 5h7v1h-7zM22 9h1v1h-1zM29 13h1v1h-1zM32 13h1v1h-1zM33 14h1v1h-1zM27 15h1v1h-1zM33 15h1v1h-1zM32 16h2v1h-2zM27 17h1v1h-1zM31 17h3v1h-3zM28 18h5v1h-5zM21 19h1v1h-1zM22 21h1v1h-1zM23 25h1v1h-1zM22 29h1v1h-1zM22 30h1v1h-1zM21 42h1v1h-1zM21 43h1v1h-1zM21 44h1v1h-1zM21 45h1v1h-1zM22 49h1v1h-1zM22 50h1v1h-1zM23 53h1v1h-1zM25 57h1v1h-1zM21 79h1v1h-1zM20 80h1v1h-1zM10 86h1v1h-1zM9 87h1v1h-1z"/><path fill="#3e4a89" d="M23 1h2v1h-2zM26 1h1v1h-1zM25 2h1v1h-1zM45 4h3v1h-3zM27 5h4v1h-4zM35 5h6v1h-6zM26 6h1v1h-1zM30 13h2v1h-2zM28 14h1v1h-1zM32 14h1v1h-1zM32 15h1v1h-1zM27 16h1v1h-1zM31 16h1v1h-1zM20 17h1v1h-1zM30 17h1v1h-1zM22 28h1v1h-1zM21 39h1v1h-1zM21 40h1v1h-1zM21 41h1v1h-1zM21 46h1v1h-1zM22 51h1v1h-1zM24 54h1v1h-1zM25 55h1v1h-1zM25 56h1v1h-1zM24 59h1v1h-1zM23 63h1v1h-1zM23 70h1v1h-1zM23 76h1v1h-1zM17 82h1v1h-1zM13 84h1v1h-1zM11 85h1v1h-1z"/><path fill="#3d4d8a" d="M22 1h1v1h-1zM27 1h1v1h-1zM26 3h2v1h-2zM47 3h1v1h-1zM27 4h1v1h-1zM42 4h3v1h-3zM26 5h1v1h-1zM31 5h4v1h-4zM19 14h1v1h-1zM29 14h1v1h-1zM31 14h1v1h-1zM31 15h1v1h-1zM28 17h2v1h-2zM22 22h1v1h-1zM21 38h1v1h-1zM21 47h1v1h-1zM22 52h1v1h-1zM23 62h1v1h-1zM23 71h1v1h-1zM22 77h1v1h-1zM15 83h1v1h-1z"/><path fill="#3c4f8a" d="M24 2h1v1h-1zM28 2h1v1h-1zM47 2h1v1h-1zM44 3h3v1h-3zM26 4h1v1h-1zM28 4h1v1h-1zM40 4h2v1h-2zM25 7h1v1h-1zM30 14h1v1h-1zM28 15h1v1h-1zM28 16h1v1h-1zM30 16h1v1h-1zM21 20h1v1h-1zM22 27h1v1h-1zM21 37h1v1h-1zM21 48h1v1h-1zM21 49h1v1h-1zM23 54h1v1h-1zM24 58h1v1h-1zM23 72h1v1h-1zM23 74h1v1h-1zM23 75h1v1h-1zM21 78h1v1h-1zM18 81h1v1h-1z"/><path fill="#3b518b" d="M47 1h1v1h-1zM46 2h1v1h-1zM25 3h1v1h-1zM28 3h1v1h-1zM43 3h1v1h-1zM29 4h2v1h-2zM38 4h2v1h-2zM19 13h1v1h-1zM19 15h1v1h-1zM29 15h2v1h-2zM29 16h1v1h-1zM22 23h1v1h-1zM21 35h1v1h-1zM21 36h1v1h-1zM22 53h1v1h-1zM24 55h1v1h-1zM23 61h1v1h-1zM23 73h1v1h-1zM20 79h1v1h-1zM19 80h1v1h-1zM16 82h1v1h-1zM12 84h1v1h-1zM9 86h1v1h-1z"/><path fill="#3a538b" d="M28 1h1v1h-1zM46 1h1v1h-1zM45 2h1v1h-1zM42 3h1v1h-1zM25 4h1v1h-1zM31 4h7v1h-7zM25 5h1v1h-1zM20 18h1v1h-1zM22 24h1v1h-1zM21 33h1v1h-1zM21 34h1v1h-1zM20 43h1v1h-1zM20 44h1v1h-1zM20 45h1v1h-1zM21 50h1v1h-1zM24 56h1v1h-1zM24 57h1v1h-1zM22 65h1v1h-1zM22 66h1v1h-1zM22 67h1v1h-1zM22 76h1v1h-1zM14 83h1v1h-1zM10 85h1v1h-1z"/><path fill="#39558c" d="M21 1h1v1h-1zM23 2h1v1h-1zM44 2h1v1h-1zM29 3h1v1h-1zM41 3h1v1h-1zM25 6h1v1h-1zM21 21h1v1h-1zM22 25h1v1h-1zM22 26h1v1h-1zM21 31h1v1h-1zM21 32h1v1h-1zM20 39h1v1h-1zM20 40h1v1h-1zM20 41h1v1h-1zM20 42h1v1h-1zM20 46h1v1h-1zM20 47h1v1h-1zM21 51h1v1h-1zM23 60h1v1h-1zM22 64h1v1h-1zM22 68h1v1h-1zM8 87h1v1h-1z"/><path fill="#38588c" d="M45 1h1v1h-1zM29 2h1v1h-1zM43 2h1v1h-1zM24 3h1v1h-1zM39 3h2v1h-2zM20 19h1v1h-1zM21 29h1v1h-1zM21 30h1v1h-1zM20 38h1v1h-1zM20 48h1v1h-1zM22 54h1v1h-1zM22 69h1v1h-1zM21 77h1v1h-1zM17 81h1v1h-1zM11 84h1v1h-1z"/><path fill="#375a8c" d="M29 1h1v1h-1zM44 1h1v1h-1zM42 2h1v1h-1zM30 3h5v1h-5zM37 3h2v1h-2zM21 52h1v1h-1zM23 55h1v1h-1zM23 59h1v1h-1zM22 63h1v1h-1zM22 75h1v1h-1zM20 78h1v1h-1zM13 83h1v1h-1zM8 86h1v1h-1z"/><path fill="#365c8d" d="M43 1h1v1h-1zM41 2h1v1h-1zM35 3h2v1h-2zM24 4h1v1h-1zM19 16h1v1h-1zM20 20h1v1h-1zM21 22h1v1h-1zM20 37h1v1h-1zM20 49h1v1h-1zM21 53h1v1h-1zM23 58h1v1h-1zM22 70h1v1h-1zM22 73h1v1h-1zM22 74h1v1h-1zM19 79h1v1h-1zM18 80h1v1h-1zM15 82h1v1h-1zM9 85h1v1h-1z"/><path fill="#355e8d" d="M22 2h1v1h-1zM40 2h1v1h-1zM24 7h1v1h-1zM21 28h1v1h-1zM23 56h1v1h-1zM23 57h1v1h-1zM22 62h1v1h-1zM22 71h1v1h-1zM22 72h1v1h-1zM21 76h1v1h-1zM12 83h1v1h-1zM10 84h1v1h-1z"/><path fill="#34608d" d="M42 1h1v1h-1zM30 2h1v1h-1zM39 2h1v1h-1zM23 3h1v1h-1zM24 5h1v1h-1zM19 12h1v1h-1zM21 23h1v1h-1zM20 36h1v1h-1zM20 50h1v1h-1zM22 55h1v1h-1zM16 81h1v1h-1z"/><path fill="#33628d" d="M30 1h1v1h-1zM41 1h1v1h-1zM31 2h3v1h-3zM37 2h2v1h-2zM24 6h1v1h-1zM23 8h1v1h-1zM21 24h1v1h-1zM21 27h1v1h-1zM20 35h1v1h-1zM19 39h1v1h-1zM19 40h1v1h-1zM19 41h1v1h-1zM19 42h1v1h-1zM19 43h1v1h-1zM19 44h1v1h-1zM19 45h1v1h-1zM19 46h1v1h-1zM19 47h1v1h-1zM19 48h1v1h-1zM21 54h1v1h-1zM22 61h1v1h-1zM20 77h1v1h-1zM14 82h1v1h-1z"/><path fill="#32648e" d="M34 2h3v1h-3zM20 21h1v1h-1zM21 25h1v1h-1zM20 33h1v1h-1zM20 34h1v1h-1zM19 38h1v1h-1zM19 49h1v1h-1zM20 51h1v1h-1zM22 60h1v1h-1zM21 75h1v1h-1zM19 78h1v1h-1zM11 83h1v1h-1zM8 85h1v1h-1zM7 86h1v1h-1z"/><path fill="#31668e" d="M20 1h1v1h-1zM40 1h1v1h-1zM21 2h1v1h-1zM19 17h1v1h-1zM21 26h1v1h-1zM20 30h1v1h-1zM20 32h1v1h-1zM21 65h1v1h-1zM21 66h1v1h-1zM21 67h1v1h-1zM17 80h1v1h-1zM13 82h1v1h-1zM9 84h1v1h-1z"/><path fill="#31688e" d="M39 1h1v1h-1zM23 4h1v1h-1zM19 19h1v1h-1zM20 31h1v1h-1zM19 37h1v1h-1zM19 50h1v1h-1zM20 52h1v1h-1zM21 55h1v1h-1zM22 59h1v1h-1zM21 64h1v1h-1zM21 68h1v1h-1zM21 74h1v1h-1zM18 79h1v1h-1zM15 81h1v1h-1z"/><path fill="#306a8e" d="M31 0h1v1h-1zM31 1h1v1h-1zM38 1h1v1h-1zM20 10h1v1h-1zM19 18h1v1h-1zM19 20h1v1h-1zM20 22h1v1h-1zM20 29h1v1h-1zM22 56h1v1h-1zM22 57h1v1h-1zM22 58h1v1h-1zM21 63h1v1h-1zM21 69h1v1h-1zM21 73h1v1h-1zM20 76h1v1h-1zM10 83h1v1h-1z"/><path fill="#2f6c8e" d="M32 0h2v1h-2zM32 1h6v1h-6zM20 2h1v1h-1zM22 3h1v1h-1zM19 36h1v1h-1zM20 53h1v1h-1zM21 70h1v1h-1zM21 72h1v1h-1zM19 77h1v1h-1zM12 82h1v1h-1zM7 85h1v1h-1z"/><path fill="#2e6e8e" d="M23 5h1v1h-1zM23 7h1v1h-1zM18 40h1v1h-1zM18 41h1v1h-1zM18 42h1v1h-1zM18 47h1v1h-1zM18 48h1v1h-1zM19 51h1v1h-1zM21 62h1v1h-1zM21 71h1v1h-1zM16 80h1v1h-1zM8 84h1v1h-1z"/><path fill="#2d708e" d="M18 15h1v1h-1zM19 21h1v1h-1zM20 23h1v1h-1zM20 28h1v1h-1zM19 35h1v1h-1zM18 39h1v1h-1zM18 43h1v1h-1zM18 44h1v1h-1zM18 45h1v1h-1zM18 46h1v1h-1zM18 49h1v1h-1zM20 54h1v1h-1zM20 75h1v1h-1zM14 81h1v1h-1z"/><path fill="#2c718e" d="M19 1h1v1h-1zM19 2h1v1h-1zM23 6h1v1h-1zM18 14h1v1h-1zM19 34h1v1h-1zM18 38h1v1h-1zM18 50h1v1h-1zM21 56h1v1h-1zM21 61h1v1h-1zM18 78h1v1h-1zM17 79h1v1h-1zM11 82h1v1h-1zM9 83h1v1h-1z"/><path fill="#2c738e" d="M20 24h1v1h-1zM19 33h1v1h-1zM18 37h1v1h-1zM19 52h1v1h-1zM20 55h1v1h-1zM21 60h1v1h-1zM20 74h1v1h-1zM19 76h1v1h-1zM13 81h1v1h-1zM7 84h1v1h-1zM6 85h1v1h-1z"/><path fill="#2b758e" d="M18 2h1v1h-1zM22 4h1v1h-1zM22 8h1v1h-1zM21 9h1v1h-1zM18 16h1v1h-1zM20 25h1v1h-1zM20 27h1v1h-1zM19 31h1v1h-1zM19 32h1v1h-1zM18 51h1v1h-1zM21 59h1v1h-1zM20 73h1v1h-1zM15 80h1v1h-1z"/><path fill="#2a778e" d="M21 3h1v1h-1zM19 11h1v1h-1zM19 22h1v1h-1zM20 26h1v1h-1zM19 30h1v1h-1zM18 36h1v1h-1zM21 57h1v1h-1zM21 58h1v1h-1zM20 65h1v1h-1zM20 66h1v1h-1zM20 67h1v1h-1zM18 77h1v1h-1zM10 82h1v1h-1zM8 83h1v1h-1z"/><path fill="#29798e" d="M17 2h1v1h-1zM18 20h1v1h-1zM17 41h1v1h-1zM17 42h1v1h-1zM17 48h1v1h-1zM17 49h1v1h-1zM19 53h1v1h-1zM20 64h1v1h-1zM20 68h1v1h-1zM20 72h1v1h-1zM19 75h1v1h-1zM12 81h1v1h-1z"/><path fill="#297b8e" d="M18 19h1v1h-1zM18 21h1v1h-1zM19 29h1v1h-1zM18 35h1v1h-1zM17 39h1v1h-1zM17 40h1v1h-1zM17 43h1v1h-1zM17 44h1v1h-1zM17 45h1v1h-1zM17 46h1v1h-1zM17 47h1v1h-1zM17 50h1v1h-1zM18 52h1v1h-1zM20 56h1v1h-1zM20 63h1v1h-1zM20 69h1v1h-1zM20 70h1v1h-1zM20 71h1v1h-1zM17 78h1v1h-1zM16 79h1v1h-1zM14 80h1v1h-1zM6 84h1v1h-1z"/><path fill="#287d8e" d="M16 2h1v1h-1zM18 17h1v1h-1zM18 18h1v1h-1zM19 23h1v1h-1zM17 38h1v1h-1zM17 51h1v1h-1zM20 62h1v1h-1zM18 76h1v1h-1zM9 82h1v1h-1zM7 83h1v1h-1z"/><path fill="#277f8e" d="M15 2h1v1h-1zM22 5h1v1h-1zM18 13h1v1h-1zM18 34h1v1h-1zM17 37h1v1h-1zM19 54h1v1h-1zM20 61h1v1h-1zM19 74h1v1h-1zM11 81h1v1h-1z"/><path fill="#26818e" d="M22 7h1v1h-1zM9 9h1v1h-1zM8 10h1v1h-1zM17 52h1v1h-1zM18 53h1v1h-1zM19 73h1v1h-1zM13 80h1v1h-1zM5 84h1v1h-1z"/><path fill="#26828e" d="M14 2h1v1h-1zM20 3h1v1h-1zM22 6h1v1h-1zM9 8h1v1h-1zM8 9h1v1h-1zM9 10h1v1h-1zM18 22h1v1h-1zM19 24h1v1h-1zM19 28h1v1h-1zM18 33h1v1h-1zM17 36h1v1h-1zM19 55h1v1h-1zM20 57h1v1h-1zM20 59h1v1h-1zM20 60h1v1h-1zM18 75h1v1h-1zM15 79h1v1h-1zM10 81h1v1h-1zM8 82h1v1h-1zM6 83h1v1h-1z"/><path fill="#25848e" d="M13 2h1v1h-1zM9 7h1v1h-1zM8 8h1v1h-1zM7 10h1v1h-1zM8 11h2v1h-2zM5 26h2v1h-2zM5 27h2v1h-2zM3 28h4v1h-4zM3 29h2v1h-2zM3 30h2v1h-2zM3 31h1v1h-1zM18 31h1v1h-1zM18 32h1v1h-1zM16 48h1v1h-1zM16 49h1v1h-1zM16 50h1v1h-1zM20 58h1v1h-1zM19 72h1v1h-1zM17 77h1v1h-1zM16 78h1v1h-1z"/><path fill="#24868e" d="M12 2h1v1h-1zM21 4h1v1h-1zM8 7h1v1h-1zM7 8h1v1h-1zM10 8h1v1h-1zM7 9h1v1h-1zM10 9h1v1h-1zM10 10h1v1h-1zM7 11h1v1h-1zM5 25h2v1h-2zM19 25h1v1h-1zM4 26h1v1h-1zM7 26h1v1h-1zM3 27h2v1h-2zM7 27h1v1h-1zM19 27h1v1h-1zM7 28h1v1h-1zM5 29h2v1h-2zM5 30h1v1h-1zM4 31h2v1h-2zM3 32h2v1h-2zM17 35h1v1h-1zM16 40h1v1h-1zM16 41h1v1h-1zM16 42h1v1h-1zM16 43h1v1h-1zM16 44h1v1h-1zM16 46h1v1h-1zM16 47h1v1h-1zM16 51h1v1h-1zM17 53h1v1h-1zM18 54h1v1h-1zM19 56h1v1h-1zM12 80h1v1h-1zM7 82h1v1h-1zM5 83h1v1h-1z"/><path fill="#23888e" d="M19 3h1v1h-1zM8 6h2v1h-2zM7 7h1v1h-1zM10 7h1v1h-1zM10 11h1v1h-1zM8 12h1v1h-1zM17 20h1v1h-1zM17 21h1v1h-1zM18 23h1v1h-1zM5 24h2v1h-2zM7 25h1v1h-1zM3 26h1v1h-1zM19 26h1v1h-1zM7 29h1v1h-1zM6 30h1v1h-1zM18 30h1v1h-1zM6 31h1v1h-1zM5 32h1v1h-1zM3 33h2v1h-2zM16 39h1v1h-1zM16 45h1v1h-1zM16 52h1v1h-1zM19 64h1v1h-1zM19 65h1v1h-1zM19 66h1v1h-1zM19 71h1v1h-1zM18 74h1v1h-1zM14 79h1v1h-1zM9 81h1v1h-1zM6 82h1v1h-1z"/><path fill="#238a8d" d="M11 2h1v1h-1zM9 5h1v1h-1zM7 12h1v1h-1zM9 12h1v1h-1zM7 24h1v1h-1zM4 25h1v1h-1zM8 26h1v1h-1zM8 27h1v1h-1zM8 28h1v1h-1zM7 30h1v1h-1zM7 31h1v1h-1zM6 32h1v1h-1zM5 33h1v1h-1zM4 34h1v1h-1zM17 34h1v1h-1zM4 35h1v1h-1zM16 38h1v1h-1zM19 63h1v1h-1zM19 67h1v1h-1zM19 68h1v1h-1zM19 69h1v1h-1zM19 70h1v1h-1zM17 76h1v1h-1zM11 80h1v1h-1z"/><path fill="#228c8d" d="M10 2h1v1h-1zM10 3h2v1h-2zM18 3h1v1h-1zM9 4h2v1h-2zM8 5h1v1h-1zM10 5h1v1h-1zM7 6h1v1h-1zM10 6h1v1h-1zM6 8h1v1h-1zM21 8h1v1h-1zM6 9h1v1h-1zM6 10h1v1h-1zM6 11h1v1h-1zM10 12h1v1h-1zM17 16h1v1h-1zM17 19h1v1h-1zM17 22h1v1h-1zM5 23h3v1h-3zM4 24h1v1h-1zM3 25h1v1h-1zM8 25h1v1h-1zM8 29h1v1h-1zM8 30h1v1h-1zM7 32h1v1h-1zM6 33h1v1h-1zM3 34h1v1h-1zM5 34h1v1h-1zM4 36h1v1h-1zM16 37h1v1h-1zM16 53h1v1h-1zM19 57h1v1h-1zM18 73h1v1h-1zM8 81h1v1h-1zM4 82h2v1h-2z"/><path fill="#218e8d" d="M9 3h1v1h-1zM12 3h2v1h-2zM17 3h1v1h-1zM8 4h1v1h-1zM6 7h1v1h-1zM11 9h1v1h-1zM11 10h1v1h-1zM8 13h2v1h-2zM17 15h1v1h-1zM7 21h2v1h-2zM6 22h3v1h-3zM8 23h1v1h-1zM8 24h1v1h-1zM18 29h1v1h-1zM8 31h1v1h-1zM7 33h1v1h-1zM17 33h1v1h-1zM6 34h1v1h-1zM5 35h1v1h-1zM16 36h1v1h-1zM4 37h1v1h-1zM15 49h1v1h-1zM15 50h1v1h-1zM15 51h1v1h-1zM17 54h1v1h-1zM18 55h1v1h-1zM19 62h1v1h-1zM17 75h1v1h-1zM16 77h1v1h-1zM15 78h1v1h-1zM13 79h1v1h-1zM10 80h1v1h-1zM7 81h1v1h-1z"/><path fill="#21908d" d="M9 2h1v1h-1zM8 3h1v1h-1zM14 3h3v1h-3zM11 4h1v1h-1zM7 5h1v1h-1zM21 5h1v1h-1zM11 8h1v1h-1zM11 11h1v1h-1zM6 12h1v1h-1zM7 13h1v1h-1zM10 13h1v1h-1zM17 17h1v1h-1zM17 18h1v1h-1zM8 19h2v1h-2zM7 20h3v1h-3zM6 21h1v1h-1zM5 22h1v1h-1zM9 22h1v1h-1zM4 23h1v1h-1zM9 23h1v1h-1zM3 24h1v1h-1zM9 24h1v1h-1zM18 24h1v1h-1zM9 25h1v1h-1zM9 26h1v1h-1zM9 27h1v1h-1zM9 28h1v1h-1zM9 29h1v1h-1zM8 32h1v1h-1zM17 32h1v1h-1zM7 34h1v1h-1zM3 35h1v1h-1zM6 35h1v1h-1zM16 35h1v1h-1zM5 36h1v1h-1zM4 38h1v1h-1zM15 43h1v1h-1zM15 44h1v1h-1zM15 47h1v1h-1zM15 48h1v1h-1zM15 52h1v1h-1zM19 58h1v1h-1zM19 59h1v1h-1zM19 60h1v1h-1zM19 61h1v1h-1zM18 72h1v1h-1zM3 81h4v1h-4z"/><path fill="#20928c" d="M7 4h1v1h-1zM11 5h1v1h-1zM6 6h1v1h-1zM11 6h1v1h-1zM11 7h1v1h-1zM11 12h1v1h-1zM18 12h1v1h-1zM6 13h1v1h-1zM7 14h1v1h-1zM7 18h2v1h-2zM7 19h1v1h-1zM10 19h1v1h-1zM6 20h1v1h-1zM10 20h1v1h-1zM9 21h1v1h-1zM9 30h1v1h-1zM9 31h1v1h-1zM17 31h1v1h-1zM8 33h1v1h-1zM7 35h1v1h-1zM6 36h1v1h-1zM5 37h1v1h-1zM4 39h1v1h-1zM15 40h1v1h-1zM15 41h1v1h-1zM15 42h1v1h-1zM15 45h1v1h-1zM15 46h1v1h-1zM15 53h1v1h-1zM16 54h1v1h-1zM17 74h1v1h-1zM12 79h1v1h-1zM3 80h1v1h-1zM9 80h1v1h-1z"/><path fill="#20938c" d="M8 2h1v1h-1zM5 9h1v1h-1zM5 10h1v1h-1zM11 13h1v1h-1zM6 14h1v1h-1zM8 14h1v1h-1zM17 14h1v1h-1zM7 15h1v1h-1zM9 18h1v1h-1zM6 19h1v1h-1zM11 20h1v1h-1zM5 21h1v1h-1zM10 21h1v1h-1zM16 21h1v1h-1zM4 22h1v1h-1zM10 22h1v1h-1zM10 23h1v1h-1zM17 23h1v1h-1zM10 24h1v1h-1zM10 25h1v1h-1zM18 28h1v1h-1zM9 32h1v1h-1zM8 34h1v1h-1zM16 34h1v1h-1zM3 36h1v1h-1zM7 36h1v1h-1zM6 37h1v1h-1zM5 38h1v1h-1zM15 39h1v1h-1zM18 56h1v1h-1zM5 60h1v1h-1zM4 61h2v1h-2zM5 62h1v1h-1zM18 71h1v1h-1zM14 78h1v1h-1zM3 79h1v1h-1zM4 80h2v1h-2zM7 80h2v1h-2z"/><path fill="#1f958b" d="M7 2h1v1h-1zM7 3h1v1h-1zM12 4h1v1h-1zM20 4h1v1h-1zM6 5h1v1h-1zM21 6h1v1h-1zM21 7h1v1h-1zM5 8h1v1h-1zM20 9h1v1h-1zM5 11h1v1h-1zM9 14h1v1h-1zM6 15h1v1h-1zM8 15h1v1h-1zM7 16h1v1h-1zM7 17h1v1h-1zM6 18h1v1h-1zM11 19h1v1h-1zM5 20h1v1h-1zM16 20h1v1h-1zM11 21h1v1h-1zM16 22h1v1h-1zM3 23h1v1h-1zM18 25h1v1h-1zM10 26h1v1h-1zM10 27h1v1h-1zM10 28h1v1h-1zM10 29h1v1h-1zM10 30h1v1h-1zM9 33h1v1h-1zM9 34h1v1h-1zM8 35h1v1h-1zM7 37h1v1h-1zM15 37h1v1h-1zM6 38h1v1h-1zM15 38h1v1h-1zM5 39h1v1h-1zM4 40h1v1h-1zM14 51h1v1h-1zM14 52h1v1h-1zM14 53h1v1h-1zM15 54h1v1h-1zM17 55h1v1h-1zM4 60h1v1h-1zM6 60h1v1h-1zM6 61h1v1h-1zM4 62h1v1h-1zM6 62h1v1h-1zM18 64h1v1h-1zM18 65h1v1h-1zM17 73h1v1h-1zM16 76h1v1h-1zM15 77h1v1h-1zM3 78h1v1h-1zM4 79h1v1h-1zM11 79h1v1h-1zM6 80h1v1h-1z"/><path fill="#1f978b" d="M5 7h1v1h-1zM19 10h1v1h-1zM10 14h1v1h-1zM6 16h1v1h-1zM8 16h1v1h-1zM6 17h1v1h-1zM8 17h1v1h-1zM10 18h1v1h-1zM12 20h1v1h-1zM4 21h1v1h-1zM12 21h1v1h-1zM11 22h1v1h-1zM11 23h1v1h-1zM18 26h1v1h-1zM18 27h1v1h-1zM10 31h1v1h-1zM10 32h1v1h-1zM10 33h1v1h-1zM16 33h1v1h-1zM9 35h1v1h-1zM8 36h1v1h-1zM15 36h1v1h-1zM3 37h1v1h-1zM8 37h1v1h-1zM7 38h1v1h-1zM6 39h2v1h-2zM5 40h2v1h-2zM4 41h2v1h-2zM14 47h1v1h-1zM14 48h1v1h-1zM14 49h1v1h-1zM14 50h1v1h-1zM14 54h1v1h-1zM18 57h1v1h-1zM4 59h3v1h-3zM7 60h1v1h-1zM6 63h1v1h-1zM18 63h1v1h-1zM18 66h1v1h-1zM18 67h1v1h-1zM18 68h1v1h-1zM18 69h1v1h-1zM18 70h1v1h-1zM3 76h1v1h-1zM3 77h1v1h-1zM5 79h1v1h-1zM10 79h1v1h-1z"/><path fill="#1f998a" d="M6 4h1v1h-1zM5 6h1v1h-1zM12 10h1v1h-1zM12 11h1v1h-1zM5 12h1v1h-1zM12 12h1v1h-1zM12 13h1v1h-1zM11 14h1v1h-1zM9 15h1v1h-1zM5 19h1v1h-1zM16 19h1v1h-1zM13 21h1v1h-1zM3 22h1v1h-1zM12 22h1v1h-1zM11 24h1v1h-1zM17 24h1v1h-1zM11 25h1v1h-1zM17 30h1v1h-1zM16 32h1v1h-1zM10 34h1v1h-1zM10 35h1v1h-1zM15 35h1v1h-1zM9 36h1v1h-1zM9 37h1v1h-1zM3 38h1v1h-1zM8 38h1v1h-1zM7 40h1v1h-1zM14 40h1v1h-1zM6 41h2v1h-2zM14 41h1v1h-1zM6 42h1v1h-1zM14 42h1v1h-1zM14 43h1v1h-1zM14 44h1v1h-1zM14 45h1v1h-1zM14 46h1v1h-1zM12 52h2v1h-2zM12 53h2v1h-2zM16 55h1v1h-1zM6 58h3v1h-3zM7 59h2v1h-2zM3 60h1v1h-1zM8 60h1v1h-1zM3 61h1v1h-1zM7 61h1v1h-1zM3 62h1v1h-1zM7 62h1v1h-1zM4 63h2v1h-2zM7 63h1v1h-1zM4 64h1v1h-1zM3 65h2v1h-2zM3 66h1v1h-1zM3 67h1v1h-1zM3 68h1v1h-1zM3 69h1v1h-1zM3 70h1v1h-1zM2 71h2v1h-2zM3 72h1v1h-1zM17 72h1v1h-1zM3 73h1v1h-1zM3 74h1v1h-1zM3 75h1v1h-1zM16 75h1v1h-1zM4 77h1v1h-1zM4 78h1v1h-1zM13 78h1v1h-1zM6 79h1v1h-1zM9 79h1v1h-1z"/><path fill="#1e9b8a" d="M6 2h1v1h-1zM6 3h1v1h-1zM13 4h1v1h-1zM12 5h1v1h-1zM12 9h1v1h-1zM5 13h1v1h-1zM17 13h1v1h-1zM12 14h1v1h-1zM9 16h1v1h-1zM9 17h1v1h-1zM11 18h1v1h-1zM12 19h1v1h-1zM13 20h1v1h-1zM14 21h2v1h-2zM13 22h3v1h-3zM12 23h1v1h-1zM16 23h1v1h-1zM11 26h1v1h-1zM11 27h1v1h-1zM11 28h1v1h-1zM11 29h1v1h-1zM11 30h1v1h-1zM11 31h1v1h-1zM11 32h1v1h-1zM11 33h1v1h-1zM11 34h1v1h-1zM15 34h1v1h-1zM10 36h1v1h-1zM10 37h1v1h-1zM14 37h1v1h-1zM9 38h1v1h-1zM14 38h1v1h-1zM8 39h1v1h-1zM14 39h1v1h-1zM8 40h1v1h-1zM8 41h1v1h-1zM4 42h2v1h-2zM7 42h2v1h-2zM6 43h3v1h-3zM7 44h2v1h-2zM10 49h2v1h-2zM13 49h1v1h-1zM10 50h4v1h-4zM10 51h4v1h-4zM11 52h1v1h-1zM11 53h1v1h-1zM10 54h4v1h-4zM10 55h6v1h-6zM9 56h3v1h-3zM17 56h1v1h-1zM8 57h3v1h-3zM5 58h1v1h-1zM9 58h1v1h-1zM18 58h1v1h-1zM9 59h1v1h-1zM9 60h1v1h-1zM8 61h1v1h-1zM8 62h1v1h-1zM18 62h1v1h-1zM3 63h1v1h-1zM3 64h1v1h-1zM5 64h2v1h-2zM5 65h1v1h-1zM4 66h2v1h-2zM4 67h1v1h-1zM4 68h1v1h-1zM4 69h1v1h-1zM16 74h1v1h-1zM4 76h1v1h-1zM14 77h1v1h-1zM5 78h1v1h-1zM7 79h2v1h-2z"/><path fill="#1e9d89" d="M19 4h1v1h-1zM5 5h1v1h-1zM12 6h1v1h-1zM5 14h1v1h-1zM10 15h1v1h-1zM16 15h1v1h-1zM16 16h1v1h-1zM16 17h1v1h-1zM5 18h1v1h-1zM16 18h1v1h-1zM4 20h1v1h-1zM15 20h1v1h-1zM13 23h1v1h-1zM15 23h1v1h-1zM12 24h1v1h-1zM15 33h1v1h-1zM11 35h1v1h-1zM14 35h1v1h-1zM11 36h1v1h-1zM14 36h1v1h-1zM11 37h1v1h-1zM10 38h1v1h-1zM3 39h1v1h-1zM9 39h2v1h-2zM9 40h1v1h-1zM5 43h1v1h-1zM9 43h1v1h-1zM6 44h1v1h-1zM9 44h1v1h-1zM7 45h3v1h-3zM8 46h3v1h-3zM9 47h2v1h-2zM13 47h1v1h-1zM9 48h5v1h-5zM9 49h1v1h-1zM12 49h1v1h-1zM10 52h1v1h-1zM10 53h1v1h-1zM9 54h1v1h-1zM9 55h1v1h-1zM8 56h1v1h-1zM12 56h1v1h-1zM7 57h1v1h-1zM11 57h1v1h-1zM4 58h1v1h-1zM10 58h1v1h-1zM3 59h1v1h-1zM10 59h1v1h-1zM18 59h1v1h-1zM18 60h1v1h-1zM9 61h1v1h-1zM18 61h1v1h-1zM8 63h1v1h-1zM7 64h1v1h-1zM6 65h1v1h-1zM6 66h1v1h-1zM5 67h1v1h-1zM5 68h1v1h-1zM17 69h1v1h-1zM4 70h1v1h-1zM17 70h1v1h-1zM4 71h1v1h-1zM17 71h1v1h-1zM4 72h1v1h-1zM4 73h1v1h-1zM16 73h1v1h-1zM4 74h1v1h-1zM4 75h1v1h-1zM15 76h1v1h-1zM5 77h1v1h-1zM6 78h1v1h-1zM12 78h1v1h-1z"/><path fill="#1f9f88" d="M12 7h1v1h-1zM12 8h1v1h-1zM13 11h1v1h-1zM13 12h1v1h-1zM13 13h1v1h-1zM16 14h1v1h-1zM5 15h1v1h-1zM11 15h1v1h-1zM5 16h1v1h-1zM10 16h1v1h-1zM5 17h1v1h-1zM10 17h1v1h-1zM12 18h1v1h-1zM13 19h1v1h-1zM14 20h1v1h-1zM14 23h1v1h-1zM13 24h1v1h-1zM12 25h1v1h-1zM17 25h1v1h-1zM12 26h1v1h-1zM17 29h1v1h-1zM12 31h1v1h-1zM16 31h1v1h-1zM12 32h1v1h-1zM12 33h1v1h-1zM12 34h3v1h-3zM12 35h2v1h-2zM12 36h2v1h-2zM12 37h2v1h-2zM11 38h3v1h-3zM11 39h3v1h-3zM10 40h4v1h-4zM9 41h1v1h-1zM13 41h1v1h-1zM9 42h1v1h-1zM13 42h1v1h-1zM4 43h1v1h-1zM13 43h1v1h-1zM5 44h1v1h-1zM10 44h1v1h-1zM13 44h1v1h-1zM6 45h1v1h-1zM10 45h1v1h-1zM13 45h1v1h-1zM7 46h1v1h-1zM11 46h3v1h-3zM8 47h1v1h-1zM11 47h2v1h-2zM8 48h1v1h-1zM9 50h1v1h-1zM9 51h1v1h-1zM9 52h1v1h-1zM9 53h1v1h-1zM8 55h1v1h-1zM7 56h1v1h-1zM13 56h1v1h-1zM16 56h1v1h-1zM6 57h1v1h-1zM12 57h1v1h-1zM17 57h1v1h-1zM11 58h1v1h-1zM10 60h1v1h-1zM9 62h1v1h-1zM8 64h1v1h-1zM7 65h1v1h-1zM17 66h1v1h-1zM6 67h1v1h-1zM17 67h1v1h-1zM17 68h1v1h-1zM5 69h1v1h-1zM5 70h1v1h-1zM15 75h1v1h-1zM5 76h1v1h-1zM13 77h1v1h-1zM7 78h1v1h-1zM11 78h1v1h-1z"/><path fill="#1fa188" d="M5 4h1v1h-1zM14 4h1v1h-1zM4 8h1v1h-1zM4 9h1v1h-1zM18 11h1v1h-1zM14 13h1v1h-1zM13 14h1v1h-1zM15 14h1v1h-1zM12 15h1v1h-1zM15 15h1v1h-1zM4 19h1v1h-1zM14 19h2v1h-2zM3 21h1v1h-1zM14 24h1v1h-1zM16 24h1v1h-1zM13 25h1v1h-1zM12 29h1v1h-1zM12 30h1v1h-1zM15 32h1v1h-1zM13 33h2v1h-2zM3 40h1v1h-1zM10 41h3v1h-3zM10 42h3v1h-3zM10 43h1v1h-1zM12 43h1v1h-1zM11 44h2v1h-2zM11 45h2v1h-2zM7 47h1v1h-1zM8 49h1v1h-1zM8 50h1v1h-1zM8 51h1v1h-1zM8 52h1v1h-1zM8 53h1v1h-1zM8 54h1v1h-1zM14 56h2v1h-2zM5 57h1v1h-1zM13 57h1v1h-1zM12 58h1v1h-1zM11 59h1v1h-1zM10 61h1v1h-1zM9 63h1v1h-1zM17 63h1v1h-1zM17 64h1v1h-1zM8 65h1v1h-1zM17 65h1v1h-1zM7 66h1v1h-1zM6 68h1v1h-1zM5 71h1v1h-1zM5 72h1v1h-1zM16 72h1v1h-1zM5 74h1v1h-1zM15 74h1v1h-1zM5 75h1v1h-1zM14 76h1v1h-1zM6 77h1v1h-1zM8 78h3v1h-3z"/><path fill="#1fa287" d="M5 3h1v1h-1zM18 4h1v1h-1zM20 5h1v1h-1zM4 7h1v1h-1zM4 10h1v1h-1zM13 10h1v1h-1zM14 12h1v1h-1zM15 13h2v1h-2zM14 14h1v1h-1zM13 15h2v1h-2zM11 16h1v1h-1zM15 16h1v1h-1zM11 17h1v1h-1zM13 18h1v1h-1zM15 18h1v1h-1zM15 24h1v1h-1zM17 26h1v1h-1zM12 27h1v1h-1zM12 28h1v1h-1zM17 28h1v1h-1zM13 31h1v1h-1zM13 32h2v1h-2zM11 43h1v1h-1zM5 45h1v1h-1zM6 46h1v1h-1zM7 54h1v1h-1zM7 55h1v1h-1zM14 57h1v1h-1zM3 58h1v1h-1zM13 58h2v1h-2zM17 58h1v1h-1zM12 59h1v1h-1zM11 60h1v1h-1zM17 61h1v1h-1zM2 62h1v1h-1zM10 62h1v1h-1zM17 62h1v1h-1zM2 63h1v1h-1zM2 64h1v1h-1zM9 64h1v1h-1zM8 66h1v1h-1zM7 67h1v1h-1zM7 68h1v1h-1zM6 69h1v1h-1zM6 70h1v1h-1zM16 71h1v1h-1zM5 73h1v1h-1zM15 73h1v1h-1zM14 75h1v1h-1zM6 76h1v1h-1zM12 77h1v1h-1z"/><path fill="#20a486" d="M15 4h1v1h-1zM17 4h1v1h-1zM4 6h1v1h-1zM17 12h1v1h-1zM15 17h1v1h-1zM14 18h1v1h-1zM17 27h1v1h-1zM13 30h1v1h-1zM16 30h1v1h-1zM14 31h2v1h-2zM3 41h1v1h-1zM4 44h1v1h-1zM7 48h1v1h-1zM7 51h1v1h-1zM7 52h1v1h-1zM7 53h1v1h-1zM6 56h1v1h-1zM15 57h2v1h-2zM15 58h1v1h-1zM13 59h1v1h-1zM15 59h1v1h-1zM17 59h1v1h-1zM12 60h1v1h-1zM17 60h1v1h-1zM2 61h1v1h-1zM11 61h1v1h-1zM10 63h1v1h-1zM2 65h1v1h-1zM9 65h1v1h-1zM8 67h1v1h-1zM7 69h1v1h-1zM16 69h1v1h-1zM16 70h1v1h-1zM6 71h1v1h-1zM6 72h1v1h-1zM15 72h1v1h-1zM6 75h1v1h-1zM13 76h1v1h-1zM7 77h1v1h-1zM11 77h1v1h-1z"/><path fill="#21a685" d="M16 4h1v1h-1zM4 5h1v1h-1zM20 8h1v1h-1zM4 11h1v1h-1zM14 11h1v1h-1zM12 16h3v1h-3zM12 17h1v1h-1zM14 17h1v1h-1zM3 20h1v1h-1zM14 25h1v1h-1zM16 25h1v1h-1zM13 26h1v1h-1zM13 29h1v1h-1zM6 47h1v1h-1zM7 49h1v1h-1zM7 50h1v1h-1zM4 57h1v1h-1zM16 58h1v1h-1zM14 59h1v1h-1zM16 59h1v1h-1zM15 60h2v1h-2zM12 61h1v1h-1zM16 61h1v1h-1zM11 62h1v1h-1zM16 62h1v1h-1zM10 64h1v1h-1zM16 65h1v1h-1zM2 66h1v1h-1zM9 66h1v1h-1zM16 66h1v1h-1zM16 67h1v1h-1zM8 68h1v1h-1zM16 68h1v1h-1zM7 70h1v1h-1zM7 71h1v1h-1zM15 71h1v1h-1zM7 72h1v1h-1zM6 73h1v1h-1zM6 74h1v1h-1zM14 74h1v1h-1zM7 76h1v1h-1zM8 77h3v1h-3z"/><path fill="#22a884" d="M15 12h1v1h-1zM13 17h1v1h-1zM4 18h1v1h-1zM15 25h1v1h-1zM13 28h1v1h-1zM14 30h2v1h-2zM3 42h1v1h-1zM4 45h1v1h-1zM5 46h1v1h-1zM6 55h1v1h-1zM2 60h1v1h-1zM13 60h2v1h-2zM15 61h1v1h-1zM11 63h1v1h-1zM16 63h1v1h-1zM16 64h1v1h-1zM10 65h1v1h-1zM10 66h1v1h-1zM2 67h1v1h-1zM9 67h1v1h-1zM8 69h1v1h-1zM15 69h1v1h-1zM15 70h1v1h-1zM7 73h1v1h-1zM14 73h1v1h-1zM7 75h1v1h-1zM13 75h1v1h-1zM12 76h1v1h-1z"/><path fill="#24aa83" d="M4 4h1v1h-1zM13 5h1v1h-1zM13 9h1v1h-1zM4 12h1v1h-1zM16 12h1v1h-1zM14 26h1v1h-1zM16 26h1v1h-1zM13 27h1v1h-1zM14 29h1v1h-1zM16 29h1v1h-1zM6 48h1v1h-1zM6 54h1v1h-1zM5 56h1v1h-1zM13 61h2v1h-2zM12 62h1v1h-1zM15 62h1v1h-1zM11 64h1v1h-1zM11 65h1v1h-1zM15 65h1v1h-1zM11 66h1v1h-1zM15 66h1v1h-1zM10 67h1v1h-1zM15 67h1v1h-1zM9 68h1v1h-1zM15 68h1v1h-1zM9 69h1v1h-1zM8 70h1v1h-1zM8 71h1v1h-1zM14 71h1v1h-1zM8 72h1v1h-1zM14 72h1v1h-1zM8 73h1v1h-1zM13 73h1v1h-1zM7 74h1v1h-1zM13 74h1v1h-1zM12 75h1v1h-1zM8 76h4v1h-4z"/><path fill="#25ac82" d="M4 3h1v1h-1zM20 6h1v1h-1zM20 7h1v1h-1zM4 13h1v1h-1zM15 26h1v1h-1zM16 28h1v1h-1zM15 29h1v1h-1zM3 43h1v1h-1zM5 47h1v1h-1zM6 52h1v1h-1zM6 53h1v1h-1zM3 57h1v1h-1zM13 62h2v1h-2zM12 63h1v1h-1zM15 63h1v1h-1zM12 64h1v1h-1zM15 64h1v1h-1zM12 65h1v1h-1zM12 66h1v1h-1zM14 66h1v1h-1zM11 67h2v1h-2zM14 67h1v1h-1zM2 68h1v1h-1zM10 68h5v1h-5zM2 69h1v1h-1zM10 69h1v1h-1zM14 69h1v1h-1zM2 70h1v1h-1zM9 70h1v1h-1zM14 70h1v1h-1zM9 71h1v1h-1zM9 72h2v1h-2zM13 72h1v1h-1zM9 73h1v1h-1zM12 73h1v1h-1zM8 74h1v1h-1zM12 74h1v1h-1zM8 75h2v1h-2zM11 75h1v1h-1z"/><path fill="#27ad81" d="M14 10h1v1h-1zM15 11h1v1h-1zM4 14h1v1h-1zM3 19h1v1h-1zM14 27h1v1h-1zM16 27h1v1h-1zM14 28h1v1h-1zM4 46h1v1h-1zM6 50h1v1h-1zM6 51h1v1h-1zM2 59h1v1h-1zM13 63h2v1h-2zM13 64h2v1h-2zM13 65h2v1h-2zM13 66h1v1h-1zM13 67h1v1h-1zM11 69h3v1h-3zM10 70h4v1h-4zM10 71h4v1h-4zM11 72h2v1h-2zM10 73h2v1h-2zM9 74h3v1h-3zM10 75h1v1h-1z"/><path fill="#29af7f" d="M19 5h1v1h-1zM13 6h1v1h-1zM17 11h1v1h-1zM4 15h1v1h-1zM4 16h1v1h-1zM4 17h1v1h-1zM15 27h1v1h-1zM15 28h1v1h-1zM6 49h1v1h-1z"/><path fill="#2cb17e" d="M3 5h1v1h-1zM3 6h1v1h-1zM3 7h1v1h-1zM13 7h1v1h-1zM13 8h1v1h-1zM19 9h1v1h-1zM3 44h1v1h-1zM5 48h1v1h-1zM5 55h1v1h-1zM4 56h1v1h-1z"/><path fill="#2eb37c" d="M3 4h1v1h-1zM14 5h1v1h-1zM3 8h1v1h-1zM18 10h1v1h-1zM16 11h1v1h-1zM4 47h1v1h-1zM5 54h1v1h-1z"/><path fill="#31b57b" d="M3 3h1v1h-1zM3 9h1v1h-1zM2 58h1v1h-1z"/><path fill="#34b679" d="M18 5h1v1h-1zM2 23h1v1h-1zM2 24h1v1h-1zM3 45h1v1h-1zM5 53h1v1h-1z"/><path fill="#37b878" d="M15 5h1v1h-1zM15 10h1v1h-1zM3 18h1v1h-1zM2 22h1v1h-1zM2 25h1v1h-1zM2 26h1v1h-1zM2 29h1v1h-1zM4 48h1v1h-1zM5 49h1v1h-1zM5 51h1v1h-1zM5 52h1v1h-1zM3 56h1v1h-1z"/><path fill="#3aba76" d="M16 5h2v1h-2zM14 9h1v1h-1zM3 10h1v1h-1zM2 21h1v1h-1zM2 27h1v1h-1zM2 28h1v1h-1zM2 30h1v1h-1zM2 31h1v1h-1zM3 46h1v1h-1zM5 50h1v1h-1z"/><path fill="#3dbc74" d="M19 6h1v1h-1zM2 32h1v1h-1zM4 55h1v1h-1z"/><path fill="#40bd72" d="M17 10h1v1h-1zM3 11h1v1h-1zM2 33h1v1h-1zM2 57h1v1h-1z"/><path fill="#44bf70" d="M2 3h1v1h-1zM2 4h1v1h-1zM19 8h1v1h-1zM16 10h1v1h-1zM3 12h1v1h-1zM2 20h1v1h-1zM2 34h1v1h-1zM3 47h1v1h-1zM4 49h1v1h-1zM4 54h1v1h-1z"/><path fill="#48c16e" d="M2 5h1v1h-1zM14 6h1v1h-1zM19 7h1v1h-1zM3 17h1v1h-1z"/><path fill="#4cc26c" d="M3 13h1v1h-1zM2 35h1v1h-1zM4 53h1v1h-1z"/><path fill="#50c46a" d="M2 6h1v1h-1zM14 8h1v1h-1zM3 14h1v1h-1zM3 15h1v1h-1zM3 16h1v1h-1zM2 19h1v1h-1zM2 36h1v1h-1zM3 48h1v1h-1zM4 52h1v1h-1z"/><path fill="#54c568" d="M18 6h1v1h-1zM14 7h1v1h-1zM4 50h1v1h-1zM3 55h1v1h-1z"/><path fill="#58c765" d="M2 7h1v1h-1zM15 9h1v1h-1zM18 9h1v1h-1zM2 37h1v1h-1zM4 51h1v1h-1zM2 56h1v1h-1z"/><path fill="#5cc863" d="M15 6h1v1h-1zM2 38h1v1h-1z"/><path fill="#60ca60" d="M17 6h1v1h-1zM2 8h1v1h-1zM2 18h1v1h-1zM3 49h1v1h-1z"/><path fill="#65cb5e" d="M16 6h1v1h-1zM2 39h1v1h-1z"/><path fill="#69cd5b" d="M18 7h1v1h-1zM3 54h1v1h-1z"/><path fill="#6ece58" d="M18 8h1v1h-1zM2 9h1v1h-1zM2 40h1v1h-1zM3 50h1v1h-1z"/><path fill="#73d056" d="M16 9h2v1h-2zM2 41h1v1h-1zM3 53h1v1h-1z"/><path fill="#77d153" d="M15 7h1v1h-1zM15 8h1v1h-1zM2 10h1v1h-1zM2 55h1v1h-1z"/><path fill="#7cd250" d="M2 17h1v1h-1zM2 42h1v1h-1zM3 52h1v1h-1z"/><path fill="#81d34d" d="M17 7h1v1h-1zM2 11h1v1h-1zM2 43h1v1h-1zM3 51h1v1h-1z"/><path fill="#86d549" d="M16 7h1v1h-1zM2 44h1v1h-1z"/><path fill="#8bd646" d="M17 8h1v1h-1zM2 12h1v1h-1z"/><path fill="#90d743" d="M16 8h1v1h-1zM2 13h1v1h-1zM2 16h1v1h-1zM2 45h1v1h-1z"/><path fill="#95d840" d="M2 14h1v1h-1zM2 15h1v1h-1zM2 46h1v1h-1zM2 54h1v1h-1z"/><path fill="#9bd93c" d="M2 47h1v1h-1z"/><path fill="#a0da39" d="M2 48h1v1h-1z"/><path fill="#a5db36" d="M2 49h1v1h-1z"/><path fill="#aadc32" d="M2 50h1v1h-1zM2 53h1v1h-1z"/><path fill="#b0dd2f" d="M2 51h1v1h-1z"/><path fill="#b5de2b" d="M2 52h1v1h-1z"/><path fill="#fde725" d="M1 10h1v1h-1zM1 11h1v1h-1zM1 12h1v1h-1zM1 13h1v1h-1zM1 14h1v1h-1zM1 15h1v1h-1zM1 16h1v1h-1zM1 17h1v1h-1zM1 18h1v1h-1zM1 19h1v1h-1zM1 20h1v1h-1zM1 21h1v1h-1zM1 22h1v1h-1zM1 23h1v1h-1zM1 24h1v1h-1zM1 25h1v1h-1zM1 26h1v1h-1zM1 27h1v1h-1zM1 28h1v1h-1zM1 29h1v1h-1zM1 30h1v1h-1zM1 31h1v1h-1zM1 32h1v1h-1zM1 33h1v1h-1zM1 34h1v1h-1zM1 35h1v1h-1zM1 36h1v1h-1zM1 37h1v1h-1zM1 38h1v1h-1zM1 39h1v1h-1zM1 40h1v1h-1zM1 41h1v1h-1zM1 42h1v1h-1zM1 43h1v1h-1zM1 44h1v1h-1zM1 45h1v1h-1zM1 46h1v1h-1zM1 47h1v1h-1zM1 48h1v1h-1zM1 49h1v1h-1zM1 50h1v1h-1zM1 51h1v1h-1z"/></g>
<g class="p" transform="translate(378.60,673.50)"><circle cx="96.5" cy="105.5" r="2.15"/><circle cx="135.3" cy="116.6" r="2.15"/><circle cx="154.4" cy="111.7" r="2.15"/><circle cx="208.4" cy="98.4" r="2.15"/><circle cx="266.5" cy="92.4" r="2.15"/><circle cx="351.4" cy="96.5" r="2.15"/><circle cx="324.5" cy="118.5" r="2.15"/><circle cx="312.4" cy="131.6" r="2.15"/><circle cx="243.4" cy="125.7" r="2.15"/><circle cx="150.3" cy="138.4" r="2.15"/><circle cx="193.4" cy="144.6" r="2.15"/><circle cx="200.4" cy="151.6" r="2.15"/><circle cx="119.5" cy="155.6" r="2.15"/><circle cx="308.4" cy="157.5" r="2.15"/><circle cx="279.5" cy="164.7" r="2.15"/><circle cx="337.4" cy="171.5" r="2.15"/><circle cx="92.4" cy="177.5" r="2.15"/><circle cx="235.4" cy="175.6" r="2.15"/><circle cx="177.5" cy="184.5" r="2.15"/><circle cx="121.5" cy="190.6" r="2.15"/><circle cx="206.5" cy="195.5" r="2.15"/><circle cx="250.6" cy="197.4" r="2.15"/><circle cx="293.5" cy="204.6" r="2.15"/><circle cx="104.5" cy="210.5" r="2.15"/><circle cx="169.4" cy="215.6" r="2.15"/><circle cx="274.4" cy="217.5" r="2.15"/><circle cx="328.7" cy="223.7" r="2.15"/><circle cx="220.3" cy="230.5" r="2.15"/><circle cx="306.4" cy="234.7" r="2.15"/><circle cx="183.4" cy="237.7" r="2.15"/><circle cx="144.4" cy="243.6" r="2.15"/><circle cx="212.5" cy="250.4" r="2.15"/><circle cx="299.6" cy="256.6" r="2.15"/><circle cx="260.4" cy="263.6" r="2.15"/><circle cx="171.3" cy="270.4" r="2.15"/><circle cx="152.4" cy="274.4" r="2.15"/><circle cx="341.4" cy="276.5" r="2.15"/><circle cx="229.3" cy="283.5" r="2.15"/><circle cx="287.4" cy="289.5" r="2.15"/><circle cx="268.3" cy="294.5" r="2.15"/><circle cx="125.5" cy="296.6" r="2.15"/><circle cx="210.4" cy="303.5" r="2.15"/><circle cx="113.4" cy="309.4" r="2.15"/><circle cx="283.4" cy="316.6" r="2.15"/><circle cx="326.4" cy="322.5" r="2.15"/><circle cx="333.6" cy="329.5" r="2.15"/><circle cx="252.4" cy="333.4" r="2.15"/><circle cx="108.5" cy="335.5" r="2.15"/><circle cx="162.4" cy="342.5" r="2.15"/><circle cx="137.6" cy="349.5" r="2.15"/><circle cx="202.5" cy="353.5" r="2.15"/><circle cx="225.4" cy="355.6" r="2.15"/><circle cx="310.5" cy="362.4" r="2.15"/><circle cx="254.5" cy="368.6" r="2.15"/><circle cx="216.5" cy="375.6" r="2.15"/><circle cx="94.5" cy="382.4" r="2.15"/><circle cx="237.3" cy="388.5" r="2.15"/><circle cx="301.4" cy="393.6" r="2.15"/><circle cx="158.6" cy="395.5" r="2.15"/><circle cx="129.5" cy="401.4" r="2.15"/><circle cx="187.4" cy="408.6" r="2.15"/><circle cx="106.4" cy="412.5" r="2.15"/><circle cx="316.4" cy="414.6" r="2.15"/><circle cx="276.4" cy="421.4" r="2.15"/><circle cx="345.5" cy="428.6" r="2.15"/><circle cx="100.5" cy="434.5" r="2.15"/><circle cx="185.3" cy="441.5" r="2.15"/><circle cx="133.4" cy="447.5" r="2.15"/><circle cx="218.4" cy="452.5" r="2.15"/><circle cx="241.3" cy="454.5" r="2.15"/><circle cx="295.4" cy="461.5" r="2.15"/><circle cx="270.4" cy="467.6" r="2.15"/><circle cx="335.5" cy="472.5" r="2.15"/><circle cx="191.5" cy="474.6" r="2.15"/><circle cx="110.5" cy="480.4" r="2.15"/><circle cx="179.4" cy="487.5" r="2.15"/><circle cx="349.5" cy="494.4" r="2.15"/><circle cx="227.5" cy="500.3" r="2.15"/><circle cx="233.5" cy="507.5" r="2.15"/><circle cx="318.5" cy="511.5" r="2.15"/><circle cx="175.4" cy="513.5" r="2.15"/><circle cx="146.5" cy="520.5" r="2.15"/><circle cx="204.4" cy="527.5" r="2.15"/><circle cx="102.4" cy="531.5" r="2.15"/><circle cx="291.4" cy="533.4" r="2.15"/><circle cx="262.4" cy="540.6" r="2.15"/><circle cx="320.4" cy="546.5" r="2.15"/><circle cx="239.4" cy="551.6" r="2.15"/><circle cx="117.4" cy="553.4" r="2.15"/><circle cx="160.3" cy="559.5" r="2.15"/><circle cx="303.5" cy="566.5" r="2.15"/><circle cx="285.4" cy="571.6" r="2.15"/><circle cx="142.5" cy="573.5" r="2.15"/><circle cx="196.6" cy="579.5" r="2.15"/><circle cx="173.4" cy="590.5" r="2.15"/><circle cx="258.3" cy="592.4" r="2.15"/><circle cx="343.4" cy="599.6" r="2.15"/><circle cx="245.4" cy="606.4" r="2.15"/><circle cx="166.4" cy="612.4" r="2.15"/></g>
<rect class="s" x="458.5" y="752.5" width="279.0" height="546.0"/><text class="t" text-anchor="middle" x="464.5" y="1318.9">0</text><text class="t" text-anchor="middle" x="529.5" y="1318.9">500</text><text class="t" text-anchor="middle" x="595.5" y="1318.9">1000</text><text class="t" text-anchor="middle" x="660.5" y="1318.9">1500</text><text class="t" text-anchor="middle" x="726.5" y="1318.9">2000</text><path class="k" d="M464.5 1298.5v4.86M529.5 1298.5v4.86M595.5 1298.5v4.86M660.5 1298.5v4.86M726.5 1298.5v4.86M458.5 1294.5h-4.86M458.5 1228.5h-4.86M458.5 1163.5h-4.86M458.5 1097.5h-4.86M458.5 1032.5h-4.86M458.5 966.5h-4.86M458.5 901.5h-4.86M458.5 835.5h-4.86M458.5 770.5h-4.86"/><text class="t" text-anchor="middle" x="598.0" y="1339.1">X</text><text class="h" text-anchor="middle" x="598.0" y="744.2">template_psfSize[pixels]</text>
<rect x="753.5" y="804.5" width="22.0" height="443.0" fill="url(#vg)" class="k"/><text class="t" x="784.6" y="1251.5">3.40</text><text class="t" x="784.6" y="1196.5">3.45</text><text class="t" x="784.6" y="1142.5">3.50</text><text class="t" x="784.6" y="1087.5">3.55</text><text class="t" x="784.6" y="1032.5">3.60</text><text class="t" x="784.6" y="977.5">3.65</text><text class="t" x="784.6" y="923.5">3.70</text><text class="t" x="784.6" y="868.5">3.75</text><text class="t" x="784.6" y="813.5">3.80</text><path class="k" d="M775.5 1246.5h4.86M775.5 1191.5h4.86M775.5 1137.5h4.86M775.5 1082.5h4.86M775.5 1027.5h4.86M775.5 972.5h4.86M775.5 918.5h4.86M775.5 863.5h4.86M775.5 808.5h4.86"/>
<g transform="translate(842.60,763.00) scale(5.5780,5.4640)" shape-rendering="crispEdges"><path fill="#440256" d="M7 52h2v1h-2zM6 53h3v1h-3zM6 54h3v1h-3zM4 73h1v1h-1zM4 74h1v1h-1zM4 75h2v1h-2zM4 76h2v1h-2z"/><path fill="#450559" d="M7 51h2v1h-2zM6 52h1v1h-1zM5 53h1v1h-1zM5 54h1v1h-1zM7 55h1v1h-1zM5 74h1v1h-1zM4 77h1v1h-1z"/><path fill="#46085c" d="M9 52h1v1h-1zM9 53h1v1h-1zM6 55h1v1h-1zM3 75h1v1h-1zM6 76h1v1h-1zM5 77h1v1h-1z"/><path fill="#460b5e" d="M5 52h1v1h-1zM4 54h1v1h-1zM9 54h1v1h-1zM5 55h1v1h-1zM8 55h1v1h-1zM1 62h1v1h-1zM1 63h1v1h-1zM1 64h1v1h-1zM1 65h1v1h-1zM1 66h1v1h-1zM1 67h1v1h-1zM3 74h1v1h-1zM6 75h1v1h-1zM3 76h1v1h-1z"/><path fill="#470e61" d="M8 50h1v1h-1zM6 51h1v1h-1zM9 51h1v1h-1zM4 53h1v1h-1zM1 61h1v1h-1zM19 64h1v1h-1zM1 68h1v1h-1zM1 69h1v1h-1zM4 72h1v1h-1zM3 73h1v1h-1zM19 74h2v1h-2zM6 77h1v1h-1z"/><path fill="#471164" d="M7 50h1v1h-1zM4 55h1v1h-1zM9 55h1v1h-1zM3 56h1v1h-1zM1 60h1v1h-1zM19 63h1v1h-1zM20 64h1v1h-1zM19 65h2v1h-2zM1 70h1v1h-1zM19 73h1v1h-1zM18 74h1v1h-1zM19 75h2v1h-2z"/><path fill="#481467" d="M9 50h1v1h-1zM5 51h1v1h-1zM4 52h1v1h-1zM10 53h1v1h-1zM3 54h1v1h-1zM10 54h1v1h-1zM3 55h1v1h-1zM2 56h1v1h-1zM4 56h4v1h-4zM2 57h2v1h-2zM2 58h1v1h-1zM1 59h2v1h-2zM1 71h1v1h-1zM3 72h1v1h-1zM5 73h1v1h-1zM18 73h1v1h-1zM20 73h1v1h-1zM21 74h1v1h-1zM18 75h1v1h-1zM21 75h1v1h-1zM7 76h1v1h-1zM3 77h1v1h-1zM7 77h1v1h-1zM4 78h1v1h-1z"/><path fill="#481769" d="M8 49h1v1h-1zM6 50h1v1h-1zM10 52h1v1h-1zM3 53h1v1h-1zM2 55h1v1h-1zM1 58h1v1h-1zM2 60h1v1h-1zM2 61h1v1h-1zM18 63h1v1h-1zM18 64h1v1h-1zM20 66h1v1h-1zM6 74h1v1h-1zM19 76h2v1h-2zM5 78h1v1h-1z"/><path fill="#481a6c" d="M8 33h1v1h-1zM8 34h1v1h-1zM8 35h1v1h-1zM7 49h1v1h-1zM10 51h1v1h-1zM11 52h1v1h-1zM11 53h1v1h-1zM10 55h1v1h-1zM8 56h1v1h-1zM1 57h1v1h-1zM4 57h1v1h-1zM3 58h1v1h-1zM2 62h1v1h-1zM18 62h2v1h-2zM20 63h1v1h-1zM21 65h1v1h-1zM19 66h1v1h-1zM1 72h1v1h-1zM17 73h1v1h-1zM21 73h1v1h-1zM17 74h1v1h-1zM22 74h1v1h-1zM7 75h1v1h-1zM17 75h1v1h-1zM22 75h1v1h-1zM18 76h1v1h-1zM21 76h1v1h-1zM8 77h1v1h-1zM6 78h1v1h-1z"/><path fill="#481c6e" d="M7 32h2v1h-2zM7 33h1v1h-1zM9 33h1v1h-1zM7 34h1v1h-1zM9 34h1v1h-1zM7 35h1v1h-1zM9 35h1v1h-1zM8 36h1v1h-1zM6 49h1v1h-1zM9 49h1v1h-1zM5 50h1v1h-1zM10 50h1v1h-1zM4 51h1v1h-1zM11 51h1v1h-1zM3 52h1v1h-1zM15 52h1v1h-1zM12 53h1v1h-1zM14 53h2v1h-2zM2 54h1v1h-1zM11 54h1v1h-1zM14 54h1v1h-1zM1 56h1v1h-1zM18 61h1v1h-1zM2 63h1v1h-1zM21 64h1v1h-1zM18 65h1v1h-1zM21 66h1v1h-1zM3 71h1v1h-1zM18 72h2v1h-2zM1 73h1v1h-1zM8 76h1v1h-1zM20 77h1v1h-1zM3 78h1v1h-1zM7 78h1v1h-1z"/><path fill="#481f70" d="M7 31h2v1h-2zM9 32h1v1h-1zM7 36h1v1h-1zM9 36h1v1h-1zM8 37h1v1h-1zM5 49h1v1h-1zM4 50h1v1h-1zM11 50h1v1h-1zM12 52h1v1h-1zM16 52h1v1h-1zM2 53h1v1h-1zM13 53h1v1h-1zM16 53h1v1h-1zM12 54h2v1h-2zM15 54h1v1h-1zM1 55h1v1h-1zM11 55h1v1h-1zM9 56h1v1h-1zM5 57h1v1h-1zM19 61h1v1h-1zM2 64h1v1h-1zM19 67h2v1h-2zM20 72h1v1h-1zM16 74h1v1h-1zM23 74h1v1h-1zM16 75h1v1h-1zM23 75h1v1h-1zM17 76h1v1h-1zM22 76h1v1h-1zM9 77h1v1h-1zM19 77h1v1h-1zM8 78h1v1h-1z"/><path fill="#482173" d="M9 31h1v1h-1zM6 32h1v1h-1zM6 33h1v1h-1zM9 37h1v1h-1zM8 38h1v1h-1zM6 48h4v1h-4zM10 49h1v1h-1zM3 51h1v1h-1zM16 51h2v1h-2zM14 52h1v1h-1zM17 52h1v1h-1zM16 54h1v1h-1zM12 55h4v1h-4zM18 60h1v1h-1zM17 61h1v1h-1zM17 62h1v1h-1zM20 62h1v1h-1zM2 65h1v1h-1zM22 65h1v1h-1zM18 66h1v1h-1zM19 68h1v1h-1zM4 71h1v1h-1zM18 71h1v1h-1zM17 72h1v1h-1zM22 73h1v1h-1zM1 74h1v1h-1zM16 76h1v1h-1zM18 77h1v1h-1zM21 77h1v1h-1zM9 78h1v1h-1zM22 91h2v1h-2z"/><path fill="#482475" d="M25 12h1v1h-1zM7 30h3v1h-3zM6 31h1v1h-1zM10 32h1v1h-1zM10 33h1v1h-1zM6 34h1v1h-1zM10 34h1v1h-1zM10 35h1v1h-1zM10 36h1v1h-1zM7 37h1v1h-1zM9 38h1v1h-1zM5 48h1v1h-1zM4 49h1v1h-1zM3 50h1v1h-1zM12 51h1v1h-1zM15 51h1v1h-1zM2 52h1v1h-1zM13 52h1v1h-1zM17 53h1v1h-1zM1 54h1v1h-1zM16 55h1v1h-1zM10 56h1v1h-1zM6 57h1v1h-1zM3 59h1v1h-1zM18 59h1v1h-1zM17 60h1v1h-1zM19 60h1v1h-1zM20 61h1v1h-1zM21 62h1v1h-1zM21 63h1v1h-1zM22 66h1v1h-1zM18 67h1v1h-1zM21 67h1v1h-1zM20 68h1v1h-1zM19 69h1v1h-1zM3 70h1v1h-1zM19 70h1v1h-1zM19 71h3v1h-3zM21 72h2v1h-2zM16 73h1v1h-1zM23 73h1v1h-1zM1 75h1v1h-1zM15 75h1v1h-1zM24 75h1v1h-1zM9 76h1v1h-1zM13 76h3v1h-3zM23 76h1v1h-1zM10 77h2v1h-2zM22 77h1v1h-1zM10 78h1v1h-1zM20 78h1v1h-1zM4 79h3v1h-3zM21 90h4v1h-4zM20 91h2v1h-2zM24 91h2v1h-2zM20 92h6v1h-6z"/><path fill="#482677" d="M25 10h3v1h-3zM24 11h4v1h-4zM23 12h2v1h-2zM26 12h1v1h-1zM23 13h4v1h-4zM7 29h3v1h-3zM6 30h1v1h-1zM10 30h1v1h-1zM10 31h1v1h-1zM6 35h1v1h-1zM10 37h1v1h-1zM10 38h1v1h-1zM8 39h2v1h-2zM7 47h2v1h-2zM10 48h1v1h-1zM11 49h1v1h-1zM17 50h2v1h-2zM2 51h1v1h-1zM14 51h1v1h-1zM18 51h1v1h-1zM1 53h1v1h-1zM17 54h1v1h-1zM13 56h4v1h-4zM16 57h1v1h-1zM4 58h1v1h-1zM17 58h1v1h-1zM17 59h1v1h-1zM19 59h2v1h-2zM20 60h2v1h-2zM21 61h1v1h-1zM22 62h1v1h-1zM17 63h1v1h-1zM22 63h1v1h-1zM22 64h1v1h-1zM2 66h1v1h-1zM22 67h1v1h-1zM18 68h1v1h-1zM21 68h1v1h-1zM18 69h1v1h-1zM20 69h3v1h-3zM18 70h1v1h-1zM20 70h3v1h-3zM17 71h1v1h-1zM22 71h2v1h-2zM5 72h1v1h-1zM23 72h2v1h-2zM24 73h1v1h-1zM15 74h1v1h-1zM24 74h1v1h-1zM8 75h1v1h-1zM14 75h1v1h-1zM10 76h1v1h-1zM12 76h1v1h-1zM24 76h1v1h-1zM12 77h6v1h-6zM23 77h1v1h-1zM11 78h1v1h-1zM19 78h1v1h-1zM21 78h1v1h-1zM3 79h1v1h-1zM7 79h2v1h-2zM21 89h4v1h-4zM20 90h1v1h-1zM25 90h1v1h-1zM19 91h1v1h-1zM26 91h1v1h-1zM32 91h3v1h-3zM19 92h1v1h-1zM26 92h1v1h-1zM31 92h5v1h-5zM20 93h7v1h-7z"/><path fill="#482979" d="M25 9h3v1h-3zM24 10h1v1h-1zM28 10h1v1h-1zM34 10h4v1h-4zM22 11h2v1h-2zM28 11h1v1h-1zM35 11h3v1h-3zM22 12h1v1h-1zM27 12h1v1h-1zM22 13h1v1h-1zM27 13h1v1h-1zM23 14h4v1h-4zM33 25h2v1h-2zM33 26h2v1h-2zM33 27h1v1h-1zM6 29h1v1h-1zM10 29h2v1h-2zM11 30h3v1h-3zM11 31h1v1h-1zM13 31h1v1h-1zM11 32h1v1h-1zM11 33h1v1h-1zM11 34h1v1h-1zM11 35h1v1h-1zM7 38h1v1h-1zM10 39h1v1h-1zM6 47h1v1h-1zM9 47h1v1h-1zM4 48h1v1h-1zM3 49h1v1h-1zM12 50h1v1h-1zM16 50h1v1h-1zM13 51h1v1h-1zM18 52h1v1h-1zM18 53h1v1h-1zM17 55h1v1h-1zM11 56h1v1h-1zM17 56h1v1h-1zM7 57h1v1h-1zM14 57h2v1h-2zM17 57h2v1h-2zM15 58h2v1h-2zM18 58h3v1h-3zM16 59h1v1h-1zM21 59h2v1h-2zM16 60h1v1h-1zM22 60h1v1h-1zM22 61h2v1h-2zM23 62h1v1h-1zM23 63h1v1h-1zM23 64h1v1h-1zM23 65h1v1h-1zM23 66h1v1h-1zM2 67h1v1h-1zM2 68h1v1h-1zM22 68h2v1h-2zM23 69h1v1h-1zM23 70h1v1h-1zM24 71h1v1h-1zM25 72h1v1h-1zM6 73h1v1h-1zM25 73h1v1h-1zM7 74h1v1h-1zM25 74h1v1h-1zM13 75h1v1h-1zM25 75h1v1h-1zM1 76h1v1h-1zM11 76h1v1h-1zM25 76h1v1h-1zM24 77h1v1h-1zM12 78h1v1h-1zM18 78h1v1h-1zM22 78h2v1h-2zM9 79h1v1h-1zM23 88h2v1h-2zM20 89h1v1h-1zM25 89h2v1h-2zM30 89h6v1h-6zM19 90h1v1h-1zM26 90h2v1h-2zM29 90h9v1h-9zM17 91h2v1h-2zM27 91h5v1h-5zM35 91h4v1h-4zM18 92h1v1h-1zM27 92h4v1h-4zM36 92h4v1h-4zM18 93h2v1h-2zM27 93h7v1h-7zM23 94h3v1h-3z"/><path fill="#472c7a" d="M43 3h3v1h-3zM41 4h5v1h-5zM39 5h7v1h-7zM36 6h10v1h-10zM33 7h13v1h-13zM47 7h1v1h-1zM25 8h20v1h-20zM47 8h1v1h-1zM23 9h2v1h-2zM28 9h17v1h-17zM47 9h1v1h-1zM22 10h2v1h-2zM29 10h5v1h-5zM38 10h2v1h-2zM41 10h4v1h-4zM47 10h1v1h-1zM21 11h1v1h-1zM29 11h6v1h-6zM38 11h1v1h-1zM47 11h1v1h-1zM21 12h1v1h-1zM28 12h2v1h-2zM33 12h5v1h-5zM47 12h1v1h-1zM21 13h1v1h-1zM28 13h1v1h-1zM47 13h1v1h-1zM21 14h2v1h-2zM47 14h1v1h-1zM21 15h5v1h-5zM47 15h1v1h-1zM47 16h1v1h-1zM47 17h1v1h-1zM47 18h1v1h-1zM19 19h2v1h-2zM47 19h1v1h-1zM18 20h2v1h-2zM47 20h1v1h-1zM18 21h2v1h-2zM47 21h1v1h-1zM47 22h1v1h-1zM47 23h1v1h-1zM33 24h3v1h-3zM47 24h1v1h-1zM32 25h1v1h-1zM35 25h2v1h-2zM47 25h1v1h-1zM21 26h2v1h-2zM31 26h2v1h-2zM35 26h2v1h-2zM47 26h1v1h-1zM10 27h2v1h-2zM22 27h1v1h-1zM31 27h2v1h-2zM34 27h2v1h-2zM47 27h1v1h-1zM7 28h8v1h-8zM31 28h4v1h-4zM47 28h1v1h-1zM12 29h6v1h-6zM32 29h2v1h-2zM47 29h1v1h-1zM14 30h6v1h-6zM47 30h1v1h-1zM12 31h1v1h-1zM14 31h5v1h-5zM12 32h7v1h-7zM12 33h6v1h-6zM12 34h1v1h-1zM6 36h1v1h-1zM11 36h1v1h-1zM11 37h1v1h-1zM8 40h2v1h-2zM8 46h1v1h-1zM5 47h1v1h-1zM18 49h2v1h-2zM2 50h1v1h-1zM15 50h1v1h-1zM19 50h1v1h-1zM21 50h1v1h-1zM19 51h1v1h-1zM1 52h1v1h-1zM19 52h1v1h-1zM18 54h1v1h-1zM18 55h2v1h-2zM12 56h1v1h-1zM18 56h3v1h-3zM19 57h4v1h-4zM21 58h3v1h-3zM23 59h1v1h-1zM23 60h2v1h-2zM16 61h1v1h-1zM24 61h1v1h-1zM24 62h1v1h-1zM24 63h1v1h-1zM17 64h1v1h-1zM24 64h1v1h-1zM23 67h1v1h-1zM2 69h1v1h-1zM24 69h1v1h-1zM26 69h2v1h-2zM2 70h1v1h-1zM17 70h1v1h-1zM24 70h4v1h-4zM2 71h1v1h-1zM25 71h3v1h-3zM2 72h1v1h-1zM26 72h3v1h-3zM30 72h1v1h-1zM2 73h1v1h-1zM26 73h4v1h-4zM14 74h1v1h-1zM26 74h4v1h-4zM26 75h3v1h-3zM26 76h2v1h-2zM1 77h1v1h-1zM25 77h2v1h-2zM13 78h1v1h-1zM17 78h1v1h-1zM24 78h2v1h-2zM10 79h1v1h-1zM20 79h4v1h-4zM5 80h4v1h-4zM38 84h1v1h-1zM36 85h5v1h-5zM34 86h7v1h-7zM24 87h2v1h-2zM31 87h11v1h-11zM21 88h2v1h-2zM25 88h2v1h-2zM29 88h13v1h-13zM27 89h3v1h-3zM36 89h6v1h-6zM18 90h1v1h-1zM28 90h1v1h-1zM38 90h4v1h-4zM16 91h1v1h-1zM39 91h2v1h-2zM16 92h2v1h-2zM40 92h2v1h-2zM17 93h1v1h-1zM34 93h5v1h-5zM18 94h5v1h-5zM26 94h3v1h-3z"/><path fill="#472e7c" d="M19 1h1v1h-1zM22 1h1v1h-1zM45 1h3v1h-3zM12 2h11v1h-11zM42 2h6v1h-6zM39 3h4v1h-4zM46 3h2v1h-2zM37 4h4v1h-4zM46 4h2v1h-2zM33 5h6v1h-6zM46 5h2v1h-2zM24 6h12v1h-12zM46 6h2v1h-2zM23 7h10v1h-10zM46 7h1v1h-1zM23 8h2v1h-2zM45 8h2v1h-2zM22 9h1v1h-1zM45 9h2v1h-2zM21 10h1v1h-1zM40 10h1v1h-1zM45 10h2v1h-2zM20 11h1v1h-1zM39 11h8v1h-8zM20 12h1v1h-1zM30 12h3v1h-3zM38 12h9v1h-9zM19 13h2v1h-2zM29 13h2v1h-2zM33 13h14v1h-14zM19 14h2v1h-2zM27 14h1v1h-1zM36 14h1v1h-1zM41 14h5v1h-5zM19 15h2v1h-2zM26 15h1v1h-1zM42 15h4v1h-4zM19 16h6v1h-6zM41 16h5v1h-5zM19 17h4v1h-4zM41 17h5v1h-5zM9 18h2v1h-2zM18 18h4v1h-4zM40 18h5v1h-5zM9 19h4v1h-4zM17 19h2v1h-2zM21 19h1v1h-1zM40 19h5v1h-5zM10 20h4v1h-4zM16 20h2v1h-2zM20 20h2v1h-2zM39 20h6v1h-6zM11 21h7v1h-7zM20 21h2v1h-2zM39 21h6v1h-6zM12 22h10v1h-10zM39 22h6v1h-6zM12 23h11v1h-11zM33 23h4v1h-4zM41 23h4v1h-4zM11 24h12v1h-12zM32 24h1v1h-1zM36 24h1v1h-1zM43 24h2v1h-2zM9 25h15v1h-15zM30 25h2v1h-2zM44 25h1v1h-1zM9 26h12v1h-12zM23 26h3v1h-3zM29 26h2v1h-2zM8 27h2v1h-2zM12 27h10v1h-10zM23 27h8v1h-8zM36 27h1v1h-1zM6 28h1v1h-1zM15 28h16v1h-16zM35 28h2v1h-2zM18 29h14v1h-14zM34 29h2v1h-2zM5 30h1v1h-1zM20 30h15v1h-15zM19 31h3v1h-3zM28 31h6v1h-6zM19 32h2v1h-2zM30 32h4v1h-4zM18 33h3v1h-3zM31 33h4v1h-4zM13 34h7v1h-7zM31 34h5v1h-5zM12 35h2v1h-2zM15 35h5v1h-5zM31 35h6v1h-6zM12 36h1v1h-1zM31 36h8v1h-8zM31 37h9v1h-9zM11 38h1v1h-1zM30 38h11v1h-11zM7 39h1v1h-1zM29 39h14v1h-14zM46 39h1v1h-1zM10 40h1v1h-1zM29 40h16v1h-16zM46 40h1v1h-1zM9 41h1v1h-1zM26 41h19v1h-19zM46 41h1v1h-1zM27 42h20v1h-20zM26 43h20v1h-20zM24 44h22v1h-22zM23 45h23v1h-23zM7 46h1v1h-1zM9 46h1v1h-1zM22 46h24v1h-24zM4 47h1v1h-1zM10 47h1v1h-1zM21 47h8v1h-8zM31 47h15v1h-15zM3 48h1v1h-1zM11 48h1v1h-1zM20 48h7v1h-7zM34 48h12v1h-12zM12 49h1v1h-1zM17 49h1v1h-1zM20 49h6v1h-6zM37 49h9v1h-9zM13 50h2v1h-2zM20 50h1v1h-1zM22 50h4v1h-4zM38 50h8v1h-8zM1 51h1v1h-1zM20 51h5v1h-5zM40 51h6v1h-6zM20 52h5v1h-5zM41 52h5v1h-5zM19 53h5v1h-5zM42 53h3v1h-3zM19 54h5v1h-5zM20 55h4v1h-4zM21 56h4v1h-4zM8 57h1v1h-1zM23 57h2v1h-2zM14 58h1v1h-1zM24 58h2v1h-2zM15 59h1v1h-1zM24 59h2v1h-2zM25 60h1v1h-1zM25 61h1v1h-1zM25 62h1v1h-1zM25 63h1v1h-1zM25 64h1v1h-1zM17 65h1v1h-1zM24 65h2v1h-2zM28 65h5v1h-5zM24 66h2v1h-2zM27 66h7v1h-7zM24 67h10v1h-10zM24 68h10v1h-10zM3 69h1v1h-1zM17 69h1v1h-1zM25 69h1v1h-1zM28 69h7v1h-7zM28 70h8v1h-8zM28 71h9v1h-9zM16 72h1v1h-1zM29 72h1v1h-1zM31 72h7v1h-7zM15 73h1v1h-1zM30 73h9v1h-9zM2 74h1v1h-1zM30 74h11v1h-11zM2 75h1v1h-1zM9 75h1v1h-1zM12 75h1v1h-1zM29 75h15v1h-15zM2 76h1v1h-1zM28 76h16v1h-16zM27 77h17v1h-17zM1 78h1v1h-1zM14 78h3v1h-3zM26 78h18v1h-18zM11 79h1v1h-1zM19 79h1v1h-1zM24 79h8v1h-8zM33 79h10v1h-10zM4 80h1v1h-1zM9 80h1v1h-1zM23 80h1v1h-1zM29 80h14v1h-14zM30 81h13v1h-13zM30 82h14v1h-14zM31 83h13v1h-13zM31 84h7v1h-7zM39 84h5v1h-5zM30 85h6v1h-6zM41 85h3v1h-3zM25 86h2v1h-2zM28 86h6v1h-6zM41 86h3v1h-3zM22 87h2v1h-2zM26 87h5v1h-5zM42 87h2v1h-2zM20 88h1v1h-1zM27 88h2v1h-2zM42 88h2v1h-2zM19 89h1v1h-1zM42 89h2v1h-2zM17 90h1v1h-1zM42 90h2v1h-2zM41 91h4v1h-4zM15 92h1v1h-1zM42 92h2v1h-2zM15 93h2v1h-2zM39 93h3v1h-3zM16 94h2v1h-2z"/><path fill="#46307e" d="M21 1h1v1h-1zM23 1h3v1h-3zM42 1h3v1h-3zM8 2h4v1h-4zM23 2h5v1h-5zM39 2h3v1h-3zM10 3h18v1h-18zM36 3h3v1h-3zM8 4h21v1h-21zM31 4h6v1h-6zM7 5h5v1h-5zM18 5h15v1h-15zM7 6h5v1h-5zM19 6h5v1h-5zM7 7h5v1h-5zM20 7h3v1h-3zM6 8h6v1h-6zM20 8h3v1h-3zM6 9h6v1h-6zM19 9h3v1h-3zM6 10h6v1h-6zM19 10h2v1h-2zM5 11h6v1h-6zM18 11h2v1h-2zM5 12h6v1h-6zM18 12h2v1h-2zM5 13h5v1h-5zM18 13h1v1h-1zM31 13h2v1h-2zM5 14h5v1h-5zM18 14h1v1h-1zM28 14h2v1h-2zM34 14h2v1h-2zM37 14h4v1h-4zM46 14h1v1h-1zM5 15h6v1h-6zM17 15h2v1h-2zM35 15h7v1h-7zM46 15h1v1h-1zM6 16h6v1h-6zM17 16h2v1h-2zM25 16h1v1h-1zM37 16h4v1h-4zM46 16h1v1h-1zM6 17h9v1h-9zM16 17h3v1h-3zM23 17h1v1h-1zM37 17h4v1h-4zM46 17h1v1h-1zM6 18h3v1h-3zM11 18h7v1h-7zM22 18h1v1h-1zM38 18h2v1h-2zM45 18h2v1h-2zM7 19h2v1h-2zM13 19h4v1h-4zM22 19h1v1h-1zM38 19h2v1h-2zM45 19h2v1h-2zM7 20h3v1h-3zM14 20h2v1h-2zM22 20h1v1h-1zM37 20h2v1h-2zM45 20h2v1h-2zM8 21h3v1h-3zM22 21h1v1h-1zM37 21h2v1h-2zM45 21h2v1h-2zM8 22h4v1h-4zM22 22h1v1h-1zM34 22h5v1h-5zM45 22h2v1h-2zM8 23h4v1h-4zM23 23h1v1h-1zM32 23h1v1h-1zM37 23h4v1h-4zM45 23h2v1h-2zM8 24h3v1h-3zM23 24h1v1h-1zM30 24h2v1h-2zM37 24h1v1h-1zM39 24h4v1h-4zM45 24h2v1h-2zM8 25h1v1h-1zM24 25h6v1h-6zM37 25h1v1h-1zM42 25h2v1h-2zM45 25h2v1h-2zM8 26h1v1h-1zM26 26h3v1h-3zM37 26h1v1h-1zM43 26h4v1h-4zM7 27h1v1h-1zM37 27h1v1h-1zM43 27h4v1h-4zM5 28h1v1h-1zM37 28h1v1h-1zM44 28h1v1h-1zM46 28h1v1h-1zM5 29h1v1h-1zM36 29h1v1h-1zM44 29h1v1h-1zM46 29h1v1h-1zM35 30h2v1h-2zM46 30h1v1h-1zM5 31h1v1h-1zM22 31h6v1h-6zM34 31h2v1h-2zM46 31h1v1h-1zM21 32h9v1h-9zM34 32h3v1h-3zM46 32h1v1h-1zM21 33h10v1h-10zM35 33h2v1h-2zM46 33h1v1h-1zM20 34h11v1h-11zM36 34h3v1h-3zM45 34h2v1h-2zM14 35h1v1h-1zM20 35h11v1h-11zM37 35h10v1h-10zM13 36h1v1h-1zM16 36h15v1h-15zM39 36h8v1h-8zM12 37h1v1h-1zM19 37h12v1h-12zM40 37h7v1h-7zM22 38h8v1h-8zM41 38h6v1h-6zM11 39h1v1h-1zM22 39h7v1h-7zM43 39h3v1h-3zM22 40h7v1h-7zM45 40h1v1h-1zM8 41h1v1h-1zM10 41h1v1h-1zM22 41h4v1h-4zM45 41h1v1h-1zM8 42h2v1h-2zM22 42h5v1h-5zM22 43h4v1h-4zM46 43h1v1h-1zM21 44h3v1h-3zM46 44h1v1h-1zM8 45h2v1h-2zM21 45h2v1h-2zM46 45h1v1h-1zM6 46h1v1h-1zM21 46h1v1h-1zM46 46h1v1h-1zM20 47h1v1h-1zM29 47h2v1h-2zM46 47h1v1h-1zM19 48h1v1h-1zM27 48h7v1h-7zM46 48h1v1h-1zM2 49h1v1h-1zM16 49h1v1h-1zM26 49h11v1h-11zM46 49h1v1h-1zM26 50h12v1h-12zM46 50h1v1h-1zM25 51h5v1h-5zM32 51h8v1h-8zM46 51h1v1h-1zM25 52h4v1h-4zM34 52h7v1h-7zM46 52h1v1h-1zM24 53h4v1h-4zM36 53h6v1h-6zM45 53h2v1h-2zM24 54h4v1h-4zM37 54h10v1h-10zM24 55h4v1h-4zM38 55h9v1h-9zM25 56h3v1h-3zM39 56h8v1h-8zM13 57h1v1h-1zM25 57h3v1h-3zM39 57h8v1h-8zM5 58h1v1h-1zM26 58h2v1h-2zM40 58h7v1h-7zM26 59h3v1h-3zM39 59h8v1h-8zM3 60h1v1h-1zM26 60h10v1h-10zM41 60h6v1h-6zM26 61h11v1h-11zM43 61h4v1h-4zM26 62h11v1h-11zM45 62h2v1h-2zM26 63h11v1h-11zM26 64h11v1h-11zM26 65h2v1h-2zM33 65h4v1h-4zM17 66h1v1h-1zM26 66h1v1h-1zM34 66h3v1h-3zM17 67h1v1h-1zM34 67h4v1h-4zM17 68h1v1h-1zM34 68h5v1h-5zM35 69h11v1h-11zM36 70h10v1h-10zM37 71h10v1h-10zM38 72h9v1h-9zM39 73h8v1h-8zM41 74h6v1h-6zM10 75h2v1h-2zM44 75h3v1h-3zM44 76h3v1h-3zM2 77h1v1h-1zM44 77h3v1h-3zM2 78h1v1h-1zM44 78h3v1h-3zM1 79h1v1h-1zM12 79h1v1h-1zM18 79h1v1h-1zM32 79h1v1h-1zM43 79h4v1h-4zM3 80h1v1h-1zM20 80h3v1h-3zM24 80h5v1h-5zM43 80h4v1h-4zM5 81h3v1h-3zM23 81h7v1h-7zM43 81h4v1h-4zM28 82h2v1h-2zM44 82h3v1h-3zM28 83h3v1h-3zM44 83h3v1h-3zM27 84h4v1h-4zM44 84h3v1h-3zM25 85h5v1h-5zM44 85h3v1h-3zM22 86h3v1h-3zM27 86h1v1h-1zM44 86h3v1h-3zM21 87h1v1h-1zM44 87h2v1h-2zM44 88h2v1h-2zM44 89h2v1h-2zM44 90h2v1h-2zM15 91h1v1h-1zM45 91h1v1h-1zM14 92h1v1h-1zM44 92h2v1h-2zM14 93h1v1h-1zM15 94h1v1h-1z"/><path fill="#46337f" d="M26 1h3v1h-3zM39 1h3v1h-3zM6 2h2v1h-2zM28 2h1v1h-1zM36 2h3v1h-3zM3 3h7v1h-7zM28 3h8v1h-8zM2 4h6v1h-6zM29 4h2v1h-2zM2 5h5v1h-5zM12 5h6v1h-6zM2 6h5v1h-5zM12 6h7v1h-7zM2 7h5v1h-5zM12 7h8v1h-8zM2 8h4v1h-4zM12 8h8v1h-8zM2 9h4v1h-4zM12 9h7v1h-7zM1 10h5v1h-5zM12 10h7v1h-7zM1 11h4v1h-4zM11 11h7v1h-7zM1 12h4v1h-4zM11 12h7v1h-7zM1 13h4v1h-4zM10 13h8v1h-8zM3 14h2v1h-2zM10 14h8v1h-8zM30 14h4v1h-4zM4 15h1v1h-1zM11 15h6v1h-6zM27 15h1v1h-1zM4 16h2v1h-2zM12 16h5v1h-5zM35 16h2v1h-2zM5 17h1v1h-1zM15 17h1v1h-1zM24 17h1v1h-1zM36 17h1v1h-1zM5 18h1v1h-1zM23 18h1v1h-1zM36 18h2v1h-2zM6 19h1v1h-1zM36 19h2v1h-2zM6 20h1v1h-1zM36 20h1v1h-1zM7 21h1v1h-1zM36 21h1v1h-1zM7 22h1v1h-1zM23 22h1v1h-1zM7 23h1v1h-1zM31 23h1v1h-1zM7 24h1v1h-1zM24 24h1v1h-1zM28 24h2v1h-2zM38 24h1v1h-1zM7 25h1v1h-1zM38 25h4v1h-4zM7 26h1v1h-1zM38 26h1v1h-1zM41 26h2v1h-2zM5 27h2v1h-2zM38 27h1v1h-1zM42 27h1v1h-1zM43 28h1v1h-1zM45 28h1v1h-1zM37 29h1v1h-1zM43 29h1v1h-1zM45 29h1v1h-1zM37 30h1v1h-1zM44 30h2v1h-2zM36 31h2v1h-2zM44 31h2v1h-2zM37 32h2v1h-2zM44 32h2v1h-2zM37 33h9v1h-9zM39 34h6v1h-6zM14 36h2v1h-2zM6 37h1v1h-1zM13 37h1v1h-1zM16 37h3v1h-3zM12 38h1v1h-1zM19 38h3v1h-3zM21 39h1v1h-1zM7 40h1v1h-1zM11 40h1v1h-1zM21 40h1v1h-1zM21 41h1v1h-1zM10 42h1v1h-1zM21 42h1v1h-1zM8 43h2v1h-2zM21 43h1v1h-1zM8 44h2v1h-2zM7 45h1v1h-1zM20 45h1v1h-1zM5 46h1v1h-1zM10 46h1v1h-1zM20 46h1v1h-1zM3 47h1v1h-1zM11 47h1v1h-1zM19 47h1v1h-1zM18 48h1v1h-1zM15 49h1v1h-1zM1 50h1v1h-1zM30 51h2v1h-2zM29 52h5v1h-5zM28 53h8v1h-8zM28 54h9v1h-9zM28 55h10v1h-10zM28 56h11v1h-11zM9 57h1v1h-1zM28 57h11v1h-11zM28 58h12v1h-12zM29 59h10v1h-10zM15 60h1v1h-1zM36 60h5v1h-5zM37 61h6v1h-6zM16 62h1v1h-1zM37 62h8v1h-8zM37 63h10v1h-10zM37 64h10v1h-10zM37 65h10v1h-10zM37 66h10v1h-10zM38 67h9v1h-9zM39 68h8v1h-8zM46 69h1v1h-1zM46 70h1v1h-1zM8 74h1v1h-1zM13 74h1v1h-1zM2 79h1v1h-1zM17 79h1v1h-1zM0 80h2v1h-2zM10 80h1v1h-1zM19 80h1v1h-1zM4 81h1v1h-1zM8 81h1v1h-1zM21 81h2v1h-2zM5 82h2v1h-2zM23 82h5v1h-5zM24 83h4v1h-4zM24 84h3v1h-3zM22 85h3v1h-3zM21 86h1v1h-1zM20 87h1v1h-1zM19 88h1v1h-1zM18 89h1v1h-1zM16 90h1v1h-1zM13 94h2v1h-2zM15 95h1v1h-1z"/><path fill="#453581" d="M29 1h1v1h-1zM36 1h3v1h-3zM29 2h7v1h-7zM2 3h1v1h-1zM1 14h2v1h-2zM1 15h3v1h-3zM28 15h1v1h-1zM34 15h1v1h-1zM3 16h1v1h-1zM26 16h1v1h-1zM3 17h2v1h-2zM35 17h1v1h-1zM4 18h1v1h-1zM5 19h1v1h-1zM23 20h1v1h-1zM6 21h1v1h-1zM23 21h1v1h-1zM35 21h1v1h-1zM6 22h1v1h-1zM33 22h1v1h-1zM24 23h1v1h-1zM27 24h1v1h-1zM6 26h1v1h-1zM39 26h2v1h-2zM39 27h3v1h-3zM38 28h5v1h-5zM38 29h5v1h-5zM38 30h6v1h-6zM38 31h6v1h-6zM5 32h1v1h-1zM39 32h5v1h-5zM14 37h2v1h-2zM17 38h2v1h-2zM12 39h1v1h-1zM19 39h2v1h-2zM20 40h1v1h-1zM7 41h1v1h-1zM11 41h1v1h-1zM20 42h1v1h-1zM10 43h1v1h-1zM20 43h1v1h-1zM7 44h1v1h-1zM10 44h1v1h-1zM20 44h1v1h-1zM10 45h1v1h-1zM4 46h1v1h-1zM19 46h1v1h-1zM2 48h1v1h-1zM12 48h1v1h-1zM17 48h1v1h-1zM1 49h1v1h-1zM13 49h2v1h-2zM3 68h1v1h-1zM16 71h1v1h-1zM13 79h2v1h-2zM16 79h1v1h-1zM2 80h1v1h-1zM0 81h2v1h-2zM3 81h1v1h-1zM9 81h1v1h-1zM20 81h1v1h-1zM0 82h2v1h-2zM4 82h1v1h-1zM7 82h1v1h-1zM21 82h2v1h-2zM4 83h2v1h-2zM21 83h3v1h-3zM4 84h1v1h-1zM21 84h3v1h-3zM4 85h1v1h-1zM21 85h1v1h-1zM20 86h1v1h-1zM4 89h3v1h-3zM4 90h5v1h-5zM4 91h7v1h-7zM14 91h1v1h-1zM6 92h8v1h-8zM9 93h5v1h-5zM11 94h2v1h-2zM14 95h1v1h-1z"/><path fill="#453882" d="M31 0h3v1h-3zM20 1h1v1h-1zM30 1h6v1h-6zM29 15h2v1h-2zM1 16h2v1h-2zM34 16h1v1h-1zM25 17h1v1h-1zM24 18h1v1h-1zM35 18h1v1h-1zM4 19h1v1h-1zM23 19h1v1h-1zM35 19h1v1h-1zM5 20h1v1h-1zM5 21h1v1h-1zM24 22h1v1h-1zM6 23h1v1h-1zM30 23h1v1h-1zM6 24h1v1h-1zM25 24h2v1h-2zM6 25h1v1h-1zM5 26h1v1h-1zM6 38h1v1h-1zM13 38h4v1h-4zM17 39h2v1h-2zM12 40h1v1h-1zM19 40h1v1h-1zM20 41h1v1h-1zM7 42h1v1h-1zM11 42h1v1h-1zM7 43h1v1h-1zM19 44h1v1h-1zM19 45h1v1h-1zM11 46h1v1h-1zM2 47h1v1h-1zM18 47h1v1h-1zM1 48h1v1h-1zM16 48h1v1h-1zM10 57h1v1h-1zM6 58h1v1h-1zM4 59h1v1h-1zM14 59h1v1h-1zM4 70h1v1h-1zM15 72h1v1h-1zM7 73h1v1h-1zM14 73h1v1h-1zM12 74h1v1h-1zM15 79h1v1h-1zM11 80h1v1h-1zM18 80h1v1h-1zM2 81h1v1h-1zM3 82h1v1h-1zM8 82h1v1h-1zM20 82h1v1h-1zM0 83h2v1h-2zM6 83h1v1h-1zM20 83h1v1h-1zM5 84h1v1h-1zM20 84h1v1h-1zM3 85h1v1h-1zM5 85h1v1h-1zM20 85h1v1h-1zM3 86h3v1h-3zM3 87h3v1h-3zM19 87h1v1h-1zM2 88h5v1h-5zM2 89h2v1h-2zM7 89h2v1h-2zM17 89h1v1h-1zM2 90h2v1h-2zM9 90h1v1h-1zM15 90h1v1h-1zM3 91h1v1h-1zM11 91h1v1h-1zM13 91h1v1h-1zM5 92h1v1h-1zM8 93h1v1h-1z"/><path fill="#443a83" d="M31 15h3v1h-3zM27 16h1v1h-1zM1 17h2v1h-2zM34 17h1v1h-1zM3 18h1v1h-1zM4 20h1v1h-1zM35 20h1v1h-1zM34 21h1v1h-1zM5 22h1v1h-1zM32 22h1v1h-1zM29 23h1v1h-1zM5 25h1v1h-1zM13 39h4v1h-4zM18 40h1v1h-1zM12 41h1v1h-1zM19 41h1v1h-1zM19 42h1v1h-1zM11 43h1v1h-1zM19 43h1v1h-1zM11 44h1v1h-1zM6 45h1v1h-1zM11 45h1v1h-1zM3 46h1v1h-1zM18 46h1v1h-1zM1 47h1v1h-1zM12 47h1v1h-1zM17 47h1v1h-1zM13 48h1v1h-1zM15 48h1v1h-1zM9 74h1v1h-1zM11 74h1v1h-1zM12 80h1v1h-1zM17 80h1v1h-1zM10 81h1v1h-1zM19 81h1v1h-1zM2 82h1v1h-1zM3 83h1v1h-1zM7 83h1v1h-1zM0 84h2v1h-2zM3 84h1v1h-1zM6 84h1v1h-1zM6 85h1v1h-1zM19 86h1v1h-1zM2 87h1v1h-1zM6 87h1v1h-1zM7 88h1v1h-1zM18 88h1v1h-1zM0 89h2v1h-2zM9 89h1v1h-1zM0 90h2v1h-2zM10 90h1v1h-1zM14 90h1v1h-1zM12 91h1v1h-1z"/><path fill="#433d84" d="M26 17h1v1h-1zM1 18h2v1h-2zM34 18h1v1h-1zM3 19h1v1h-1zM24 19h1v1h-1zM4 21h1v1h-1zM24 21h1v1h-1zM5 23h1v1h-1zM25 23h1v1h-1zM28 23h1v1h-1zM5 24h1v1h-1zM5 33h1v1h-1zM6 39h1v1h-1zM13 40h1v1h-1zM15 40h3v1h-3zM18 41h1v1h-1zM12 42h1v1h-1zM5 45h1v1h-1zM18 45h1v1h-1zM1 46h2v1h-2zM14 48h1v1h-1zM11 57h2v1h-2zM13 58h1v1h-1zM3 61h1v1h-1zM15 61h1v1h-1zM16 63h1v1h-1zM16 70h1v1h-1zM5 71h1v1h-1zM6 72h1v1h-1zM10 74h1v1h-1zM16 80h1v1h-1zM9 82h1v1h-1zM19 82h1v1h-1zM2 83h1v1h-1zM19 84h1v1h-1zM0 85h2v1h-2zM19 85h1v1h-1zM0 86h3v1h-3zM6 86h1v1h-1zM0 87h2v1h-2zM7 87h1v1h-1zM0 88h2v1h-2zM8 88h1v1h-1zM16 89h1v1h-1zM11 90h3v1h-3z"/><path fill="#423f85" d="M28 16h1v1h-1zM33 16h1v1h-1zM25 18h1v1h-1zM1 19h2v1h-2zM34 19h1v1h-1zM3 20h1v1h-1zM24 20h1v1h-1zM34 20h1v1h-1zM33 21h1v1h-1zM4 22h1v1h-1zM31 22h1v1h-1zM4 24h1v1h-1zM4 25h1v1h-1zM4 26h1v1h-1zM14 40h1v1h-1zM13 41h1v1h-1zM16 41h2v1h-2zM18 42h1v1h-1zM12 43h1v1h-1zM18 43h1v1h-1zM6 44h1v1h-1zM12 44h1v1h-1zM18 44h1v1h-1zM1 45h2v1h-2zM4 45h1v1h-1zM12 45h1v1h-1zM12 46h1v1h-1zM17 46h1v1h-1zM13 47h1v1h-1zM16 47h1v1h-1zM3 67h1v1h-1zM13 73h1v1h-1zM13 80h1v1h-1zM11 81h1v1h-1zM18 81h1v1h-1zM8 83h1v1h-1zM19 83h1v1h-1zM2 84h1v1h-1zM7 84h1v1h-1zM2 85h1v1h-1zM7 86h1v1h-1zM18 87h1v1h-1zM10 89h1v1h-1z"/><path fill="#424186" d="M29 16h1v1h-1zM33 17h1v1h-1zM1 20h2v1h-2zM1 21h1v1h-1zM3 21h1v1h-1zM25 22h1v1h-1zM30 22h1v1h-1zM4 23h1v1h-1zM26 23h2v1h-2zM4 27h1v1h-1zM6 40h1v1h-1zM14 41h2v1h-2zM13 42h1v1h-1zM17 42h1v1h-1zM1 43h1v1h-1zM13 43h1v1h-1zM17 43h1v1h-1zM1 44h1v1h-1zM17 44h1v1h-1zM3 45h1v1h-1zM17 45h1v1h-1zM16 46h1v1h-1zM14 47h2v1h-2zM7 58h1v1h-1zM14 72h1v1h-1zM14 80h2v1h-2zM7 85h1v1h-1zM18 86h1v1h-1zM8 87h1v1h-1zM9 88h1v1h-1zM17 88h1v1h-1zM11 89h1v1h-1z"/><path fill="#414487" d="M30 16h3v1h-3zM27 17h1v1h-1zM33 18h1v1h-1zM25 21h1v1h-1zM32 21h1v1h-1zM1 22h1v1h-1zM3 22h1v1h-1zM1 23h1v1h-1zM5 34h1v1h-1zM6 41h1v1h-1zM1 42h1v1h-1zM6 42h1v1h-1zM14 42h3v1h-3zM6 43h1v1h-1zM14 43h1v1h-1zM16 43h1v1h-1zM2 44h1v1h-1zM13 44h1v1h-1zM13 45h1v1h-1zM16 45h1v1h-1zM13 46h3v1h-3zM16 69h1v1h-1zM8 73h1v1h-1zM17 81h1v1h-1zM10 82h1v1h-1zM18 82h1v1h-1zM18 85h1v1h-1zM8 86h1v1h-1zM12 89h1v1h-1zM15 89h1v1h-1z"/><path fill="#404688" d="M26 18h1v1h-1zM25 19h1v1h-1zM33 19h1v1h-1zM25 20h1v1h-1zM33 20h1v1h-1zM2 21h1v1h-1zM29 22h1v1h-1zM1 24h1v1h-1zM1 25h1v1h-1zM1 40h1v1h-1zM1 41h1v1h-1zM2 43h1v1h-1zM15 43h1v1h-1zM14 44h3v1h-3zM14 45h2v1h-2zM5 59h1v1h-1zM14 60h1v1h-1zM3 66h1v1h-1zM12 73h1v1h-1zM12 81h1v1h-1zM16 81h1v1h-1zM9 83h1v1h-1zM18 83h1v1h-1zM8 84h1v1h-1zM18 84h1v1h-1zM9 87h1v1h-1zM17 87h1v1h-1zM10 88h1v1h-1zM13 89h2v1h-2z"/><path fill="#3f4889" d="M28 17h1v1h-1zM32 17h1v1h-1zM31 21h1v1h-1zM26 22h1v1h-1zM3 23h1v1h-1zM1 26h1v1h-1zM1 27h1v1h-1zM4 28h1v1h-1zM1 37h1v1h-1zM1 38h1v1h-1zM1 39h1v1h-1zM3 44h3v1h-3zM3 62h1v1h-1zM16 64h1v1h-1zM16 68h1v1h-1zM9 73h1v1h-1zM13 81h1v1h-1zM15 81h1v1h-1zM11 82h1v1h-1zM8 85h1v1h-1zM16 88h1v1h-1z"/><path fill="#3e4a89" d="M29 17h1v1h-1zM32 18h1v1h-1zM26 21h1v1h-1zM2 22h1v1h-1zM27 22h2v1h-2zM3 24h1v1h-1zM1 28h1v1h-1zM1 29h1v1h-1zM1 30h1v1h-1zM1 31h1v1h-1zM1 32h1v1h-1zM1 33h1v1h-1zM1 34h1v1h-1zM1 35h1v1h-1zM5 35h1v1h-1zM1 36h1v1h-1zM2 42h1v1h-1zM8 58h1v1h-1zM4 60h1v1h-1zM15 62h1v1h-1zM7 72h1v1h-1zM13 72h1v1h-1zM10 73h2v1h-2zM14 81h1v1h-1zM17 82h1v1h-1zM10 83h1v1h-1zM17 86h1v1h-1zM11 88h1v1h-1z"/><path fill="#3d4d8a" d="M30 17h2v1h-2zM27 18h1v1h-1zM26 19h1v1h-1zM32 19h1v1h-1zM26 20h1v1h-1zM32 20h1v1h-1zM30 21h1v1h-1zM3 25h1v1h-1zM2 41h1v1h-1zM3 43h1v1h-1zM13 59h1v1h-1zM3 65h1v1h-1zM16 67h1v1h-1zM4 69h1v1h-1zM16 82h1v1h-1zM17 83h1v1h-1zM9 84h1v1h-1zM17 85h1v1h-1zM9 86h1v1h-1zM10 87h1v1h-1zM12 88h1v1h-1zM15 88h1v1h-1z"/><path fill="#3c4f8a" d="M2 23h1v1h-1zM5 36h1v1h-1zM2 40h1v1h-1zM9 58h1v1h-1zM12 58h1v1h-1zM16 65h1v1h-1zM16 66h1v1h-1zM12 82h1v1h-1zM17 84h1v1h-1zM9 85h1v1h-1zM16 87h1v1h-1zM13 88h2v1h-2z"/><path fill="#3b518b" d="M28 18h1v1h-1zM31 18h1v1h-1zM27 19h1v1h-1zM31 19h1v1h-1zM31 20h1v1h-1zM27 21h1v1h-1zM29 21h1v1h-1zM3 26h1v1h-1zM4 29h1v1h-1zM2 39h1v1h-1zM5 43h1v1h-1zM3 63h1v1h-1zM3 64h1v1h-1zM6 71h1v1h-1zM15 71h1v1h-1zM12 72h1v1h-1zM13 82h3v1h-3zM11 83h1v1h-1z"/><path fill="#3a538b" d="M29 18h2v1h-2zM27 20h1v1h-1zM30 20h1v1h-1zM28 21h1v1h-1zM2 24h1v1h-1zM2 37h1v1h-1zM5 37h1v1h-1zM2 38h1v1h-1zM3 42h1v1h-1zM4 43h1v1h-1zM6 59h1v1h-1zM8 72h1v1h-1zM16 83h1v1h-1zM10 84h1v1h-1zM10 86h1v1h-1zM16 86h1v1h-1zM11 87h1v1h-1z"/><path fill="#39558c" d="M28 19h1v1h-1zM30 19h1v1h-1zM28 20h1v1h-1zM3 27h1v1h-1zM2 36h1v1h-1zM5 38h1v1h-1zM5 42h1v1h-1zM10 58h1v1h-1zM14 61h1v1h-1zM12 83h1v1h-1zM16 84h1v1h-1zM10 85h1v1h-1zM16 85h1v1h-1zM15 87h1v1h-1z"/><path fill="#38588c" d="M29 19h1v1h-1zM29 20h1v1h-1zM2 25h1v1h-1zM4 30h1v1h-1zM2 35h1v1h-1zM5 39h1v1h-1zM5 40h1v1h-1zM3 41h1v1h-1zM5 41h1v1h-1zM9 72h1v1h-1zM11 72h1v1h-1zM13 83h1v1h-1zM15 83h1v1h-1zM11 84h1v1h-1zM12 87h1v1h-1zM14 87h1v1h-1z"/><path fill="#375a8c" d="M3 28h1v1h-1zM2 33h1v1h-1zM2 34h1v1h-1zM11 58h1v1h-1zM10 72h1v1h-1zM14 83h1v1h-1zM15 84h1v1h-1zM15 85h1v1h-1zM11 86h1v1h-1zM15 86h1v1h-1zM13 87h1v1h-1z"/><path fill="#365c8d" d="M2 26h1v1h-1zM2 30h1v1h-1zM2 31h1v1h-1zM2 32h1v1h-1zM3 40h1v1h-1zM4 42h1v1h-1zM15 63h1v1h-1zM12 84h1v1h-1zM11 85h1v1h-1z"/><path fill="#355e8d" d="M2 27h1v1h-1zM2 28h1v1h-1zM2 29h2v1h-2zM4 31h1v1h-1zM7 59h1v1h-1zM4 61h1v1h-1zM4 68h1v1h-1zM7 71h1v1h-1zM13 84h2v1h-2zM12 85h1v1h-1zM14 85h1v1h-1zM12 86h3v1h-3z"/><path fill="#34608d" d="M3 39h1v1h-1zM5 60h1v1h-1zM13 60h1v1h-1zM5 70h1v1h-1zM15 70h1v1h-1zM14 71h1v1h-1zM13 85h1v1h-1z"/><path fill="#33628d" d="M3 30h1v1h-1z"/><path fill="#32648e" d="M3 31h1v1h-1zM4 32h1v1h-1zM3 38h1v1h-1zM4 41h1v1h-1zM12 59h1v1h-1z"/><path fill="#31668e" d="M3 32h1v1h-1zM8 71h1v1h-1zM13 71h1v1h-1z"/><path fill="#31688e" d="M3 33h2v1h-2zM3 37h1v1h-1zM4 40h1v1h-1zM8 59h1v1h-1zM14 62h1v1h-1zM15 64h1v1h-1zM15 69h1v1h-1z"/><path fill="#306a8e" d="M3 34h2v1h-2zM3 35h1v1h-1zM3 36h1v1h-1zM12 71h1v1h-1z"/><path fill="#2f6c8e" d="M4 35h1v1h-1zM4 39h1v1h-1zM4 67h1v1h-1zM9 71h1v1h-1z"/><path fill="#2e6e8e" d="M4 36h1v1h-1zM4 37h1v1h-1zM4 38h1v1h-1zM15 68h1v1h-1zM10 71h2v1h-2z"/><path fill="#2d708e" d="M9 59h1v1h-1zM6 60h1v1h-1zM4 62h1v1h-1z"/><path fill="#2c718e" d="M13 61h1v1h-1zM15 65h1v1h-1zM15 67h1v1h-1z"/><path fill="#2c738e" d="M11 59h1v1h-1zM15 66h1v1h-1z"/><path fill="#2b758e" d="M10 59h1v1h-1z"/><path fill="#2a778e" d="M12 60h1v1h-1zM5 61h1v1h-1zM4 66h1v1h-1zM6 70h1v1h-1z"/><path fill="#29798e" d="M14 63h1v1h-1z"/><path fill="#297b8e" d="M7 60h1v1h-1zM5 69h1v1h-1z"/><path fill="#287d8e" d="M14 70h1v1h-1z"/><path fill="#277f8e" d="M4 63h1v1h-1z"/><path fill="#26818e" d="M4 65h1v1h-1z"/><path fill="#26828e" d="M4 64h1v1h-1z"/><path fill="#25848e" d="M13 62h1v1h-1z"/><path fill="#24868e" d="M8 60h1v1h-1zM7 70h1v1h-1z"/><path fill="#23888e" d="M14 64h1v1h-1z"/><path fill="#238a8d" d="M11 60h1v1h-1z"/><path fill="#228c8d" d="M6 61h1v1h-1zM12 61h1v1h-1zM13 70h1v1h-1z"/><path fill="#218e8d" d="M9 60h1v1h-1zM5 62h1v1h-1zM14 69h1v1h-1z"/><path fill="#21908d" d="M5 68h1v1h-1zM8 70h1v1h-1z"/><path fill="#20928c" d="M10 60h1v1h-1z"/><path fill="#20938c" d="M14 65h1v1h-1z"/><path fill="#1f958b" d="M14 68h1v1h-1zM9 70h1v1h-1zM12 70h1v1h-1z"/><path fill="#1f978b" d="M13 63h1v1h-1zM14 66h1v1h-1zM14 67h1v1h-1z"/><path fill="#1f998a" d="M7 61h1v1h-1zM10 70h2v1h-2z"/><path fill="#1e9b8a" d="M6 69h1v1h-1z"/><path fill="#1fa188" d="M11 61h1v1h-1zM12 62h1v1h-1zM5 67h1v1h-1z"/><path fill="#1fa287" d="M5 63h1v1h-1z"/><path fill="#20a486" d="M8 61h1v1h-1z"/><path fill="#21a685" d="M6 62h1v1h-1z"/><path fill="#22a884" d="M13 64h1v1h-1z"/><path fill="#24aa83" d="M5 66h1v1h-1zM13 69h1v1h-1z"/><path fill="#27ad81" d="M9 61h2v1h-2zM5 64h1v1h-1z"/><path fill="#29af7f" d="M5 65h1v1h-1z"/><path fill="#2cb17e" d="M7 69h1v1h-1z"/><path fill="#2eb37c" d="M12 63h1v1h-1z"/><path fill="#31b57b" d="M13 65h1v1h-1z"/><path fill="#34b679" d="M7 62h1v1h-1zM11 62h1v1h-1z"/><path fill="#37b878" d="M6 68h1v1h-1zM13 68h1v1h-1z"/><path fill="#3aba76" d="M12 69h1v1h-1z"/><path fill="#3dbc74" d="M6 63h1v1h-1zM13 66h1v1h-1z"/><path fill="#40bd72" d="M13 67h1v1h-1zM8 69h1v1h-1z"/><path fill="#48c16e" d="M8 62h1v1h-1z"/><path fill="#4cc26c" d="M9 69h1v1h-1zM11 69h1v1h-1z"/><path fill="#50c46a" d="M12 64h1v1h-1zM10 69h1v1h-1z"/><path fill="#54c568" d="M10 62h1v1h-1z"/><path fill="#5cc863" d="M9 62h1v1h-1zM11 63h1v1h-1z"/><path fill="#60ca60" d="M6 67h1v1h-1z"/><path fill="#69cd5b" d="M7 63h1v1h-1zM6 64h1v1h-1z"/><path fill="#73d056" d="M12 65h1v1h-1zM7 68h1v1h-1zM12 68h1v1h-1z"/><path fill="#77d153" d="M6 65h1v1h-1zM6 66h1v1h-1z"/><path fill="#86d549" d="M12 66h1v1h-1z"/><path fill="#8bd646" d="M8 63h1v1h-1zM10 63h1v1h-1zM11 64h1v1h-1zM12 67h1v1h-1z"/><path fill="#9bd93c" d="M8 68h1v1h-1zM11 68h1v1h-1z"/><path fill="#a0da39" d="M9 63h1v1h-1z"/><path fill="#a5db36" d="M7 64h1v1h-1z"/><path fill="#b0dd2f" d="M9 68h2v1h-2z"/><path fill="#b5de2b" d="M7 67h1v1h-1z"/><path fill="#bade28" d="M11 65h1v1h-1z"/><path fill="#c0df25" d="M10 64h1v1h-1z"/><path fill="#cae11f" d="M8 64h1v1h-1z"/><path fill="#d0e11c" d="M7 65h1v1h-1zM11 67h1v1h-1z"/><path fill="#d5e21a" d="M7 66h1v1h-1zM11 66h1v1h-1z"/><path fill="#dae319" d="M9 64h1v1h-1z"/><path fill="#eae51a" d="M8 67h1v1h-1z"/><path fill="#efe51c" d="M10 65h1v1h-1z"/><path fill="#f4e61e" d="M10 67h1v1h-1z"/><path fill="#f8e621" d="M9 67h1v1h-1z"/><path fill="#fde725" d="M8 65h2v1h-2zM8 66h3v1h-3z"/></g>
<use href="#pp" x="757.20" y="673.50"/>
<rect class="s" x="837.5" y="752.5" width="279.0" height="546.0"/><text class="t" text-anchor="middle" x="842.5" y="1318.9">0</text><text class="t" text-anchor="middle" x="908.5" y="1318.9">500</text><text class="t" text-anchor="middle" x="973.5" y="1318.9">1000</text><text class="t" text-anchor="middle" x="1039.5" y="1318.9">1500</text><text class="t" text-anchor="middle" x="1104.5" y="1318.9">2000</text><path class="k" d="M842.5 1298.5v4.86M908.5 1298.5v4.86M973.5 1298.5v4.86M1039.5 1298.5v4.86M1104.5 1298.5v4.86M837.5 1294.5h-4.86M837.5 1228.5h-4.86M837.5 1163.5h-4.86M837.5 1097.5h-4.86M837.5 1032.5h-4.86M837.5 966.5h-4.86M837.5 901.5h-4.86M837.5 835.5h-4.86M837.5 770.5h-4.86"/><text class="t" text-anchor="middle" x="977.0" y="1339.1">X</text><text class="h" text-anchor="middle" x="977.0" y="744.2">detected_mask_fraction[px_frac]</text>
<rect x="1132.5" y="804.5" width="22.0" height="443.0" fill="url(#vg)" class="k"/><text class="t" x="1163.6" y="1198.5">0.00</text><text class="t" x="1163.6" y="1126.5">0.02</text><text class="t" x="1163.6" y="1053.5">0.04</text><text class="t" x="1163.6" y="981.5">0.06</text><text class="t" x="1163.6" y="908.5">0.08</text><text class="t" x="1163.6" y="835.5">0.10</text><path class="k" d="M1154.5 1193.5h4.86M1154.5 1121.5h4.86M1154.5 1048.5h4.86M1154.5 976.5h4.86M1154.5 903.5h4.86M1154.5 830.5h4.86"/>
<g transform="translate(1221.20,763.00) scale(5.5780,5.4640)" shape-rendering="crispEdges"><path fill="#440256" d="M47 25h1v1h-1zM47 26h1v1h-1zM47 27h1v1h-1zM47 28h1v1h-1zM47 29h1v1h-1zM47 30h1v1h-1zM6 50h3v1h-3zM6 51h3v1h-3zM5 52h4v1h-4zM6 53h3v1h-3zM6 54h2v1h-2zM4 75h1v1h-1z"/><path fill="#450559" d="M47 24h1v1h-1zM5 51h1v1h-1zM5 53h1v1h-1zM8 54h1v1h-1zM4 74h1v1h-1z"/><path fill="#46085c" d="M8 33h1v1h-1zM8 34h1v1h-1zM8 35h1v1h-1zM6 49h2v1h-2zM5 54h1v1h-1zM4 76h1v1h-1z"/><path fill="#460b5e" d="M47 23h1v1h-1zM7 33h1v1h-1zM7 34h1v1h-1zM8 49h1v1h-1zM5 50h1v1h-1zM9 51h1v1h-1zM9 52h1v1h-1zM9 53h1v1h-1zM4 73h1v1h-1zM5 75h1v1h-1zM5 76h1v1h-1z"/><path fill="#470e61" d="M7 32h2v1h-2zM9 33h1v1h-1zM9 34h1v1h-1zM7 35h1v1h-1zM4 52h1v1h-1zM4 53h1v1h-1zM6 55h2v1h-2z"/><path fill="#471164" d="M9 32h1v1h-1zM9 35h1v1h-1zM8 36h1v1h-1zM7 48h1v1h-1zM5 49h1v1h-1zM9 50h1v1h-1zM4 51h1v1h-1zM4 54h1v1h-1zM9 54h1v1h-1zM8 55h1v1h-1zM5 74h1v1h-1zM4 77h1v1h-1z"/><path fill="#481467" d="M47 22h1v1h-1zM7 31h2v1h-2zM6 48h1v1h-1zM4 50h1v1h-1zM5 55h1v1h-1zM3 75h1v1h-1zM5 77h1v1h-1z"/><path fill="#481769" d="M9 31h1v1h-1zM7 36h1v1h-1zM9 36h1v1h-1zM8 48h1v1h-1zM3 74h1v1h-1zM3 76h1v1h-1zM6 76h1v1h-1z"/><path fill="#481a6c" d="M47 21h1v1h-1zM8 30h1v1h-1zM6 32h1v1h-1zM6 33h1v1h-1zM8 37h1v1h-1zM9 49h1v1h-1zM3 52h1v1h-1zM3 53h1v1h-1zM10 53h1v1h-1zM3 54h1v1h-1zM4 55h1v1h-1zM4 72h1v1h-1zM3 73h1v1h-1zM19 74h1v1h-1zM6 75h1v1h-1zM6 77h1v1h-1z"/><path fill="#481c6e" d="M7 30h1v1h-1zM9 30h1v1h-1zM6 31h1v1h-1zM10 33h1v1h-1zM6 34h1v1h-1zM10 34h1v1h-1zM5 48h1v1h-1zM4 49h1v1h-1zM3 51h1v1h-1zM10 52h1v1h-1zM3 55h1v1h-1zM9 55h1v1h-1zM3 56h1v1h-1zM19 64h1v1h-1zM19 73h1v1h-1zM18 74h1v1h-1zM20 74h1v1h-1zM19 75h2v1h-2zM3 77h1v1h-1z"/><path fill="#481f70" d="M26 10h1v1h-1zM25 11h1v1h-1zM10 32h1v1h-1zM10 35h1v1h-1zM9 37h1v1h-1zM7 47h1v1h-1zM10 51h1v1h-1zM10 54h1v1h-1zM2 55h1v1h-1zM2 56h1v1h-1zM4 56h4v1h-4zM2 57h1v1h-1zM19 63h1v1h-1zM20 64h1v1h-1zM19 65h2v1h-2zM3 72h1v1h-1zM5 73h1v1h-1zM18 73h1v1h-1zM20 73h1v1h-1zM21 74h1v1h-1zM18 75h1v1h-1zM21 75h1v1h-1zM7 76h1v1h-1zM7 77h1v1h-1zM4 78h1v1h-1z"/><path fill="#482173" d="M25 9h3v1h-3zM24 10h2v1h-2zM27 10h1v1h-1zM24 11h1v1h-1zM26 11h1v1h-1zM24 12h2v1h-2zM47 20h1v1h-1zM33 27h1v1h-1zM6 30h1v1h-1zM10 31h1v1h-1zM7 37h1v1h-1zM8 47h1v1h-1zM3 50h1v1h-1zM2 54h1v1h-1zM8 56h1v1h-1zM3 57h1v1h-1zM2 58h1v1h-1zM1 61h1v1h-1zM1 62h1v1h-1zM1 63h1v1h-1zM18 63h1v1h-1zM1 64h1v1h-1zM18 64h1v1h-1zM1 65h1v1h-1zM1 66h1v1h-1zM1 67h1v1h-1zM1 68h1v1h-1zM19 76h2v1h-2zM5 78h1v1h-1z"/><path fill="#482475" d="M41 5h1v1h-1zM26 8h2v1h-2zM24 9h1v1h-1zM23 10h1v1h-1zM23 11h1v1h-1zM27 11h1v1h-1zM23 12h1v1h-1zM26 12h1v1h-1zM33 26h2v1h-2zM32 27h1v1h-1zM34 27h1v1h-1zM32 28h2v1h-2zM7 29h3v1h-3zM10 30h1v1h-1zM6 35h1v1h-1zM10 36h1v1h-1zM8 38h1v1h-1zM6 47h1v1h-1zM9 48h1v1h-1zM10 50h1v1h-1zM2 52h1v1h-1zM2 53h1v1h-1zM10 55h1v1h-1zM1 58h1v1h-1zM1 59h2v1h-2zM1 60h2v1h-2zM18 62h2v1h-2zM20 63h1v1h-1zM21 65h1v1h-1zM19 66h2v1h-2zM1 69h1v1h-1zM1 70h1v1h-1zM17 73h1v1h-1zM21 73h1v1h-1zM6 74h1v1h-1zM17 74h1v1h-1zM22 74h1v1h-1zM7 75h1v1h-1zM17 75h1v1h-1zM22 75h1v1h-1zM21 76h1v1h-1zM8 77h1v1h-1zM3 78h1v1h-1zM6 78h1v1h-1z"/><path fill="#482677" d="M42 5h1v1h-1zM41 6h2v1h-2zM25 8h1v1h-1zM28 8h1v1h-1zM23 9h1v1h-1zM28 9h1v1h-1zM28 10h1v1h-1zM22 11h1v1h-1zM22 12h1v1h-1zM23 13h3v1h-3zM33 25h2v1h-2zM32 26h1v1h-1zM34 28h1v1h-1zM6 29h1v1h-1zM10 29h1v1h-1zM32 29h2v1h-2zM11 52h1v1h-1zM11 53h1v1h-1zM11 54h1v1h-1zM1 57h1v1h-1zM4 57h1v1h-1zM2 61h1v1h-1zM18 61h1v1h-1zM2 62h1v1h-1zM21 64h1v1h-1zM18 65h1v1h-1zM21 66h1v1h-1zM1 71h1v1h-1zM3 71h1v1h-1zM18 72h2v1h-2zM8 76h1v1h-1zM18 76h1v1h-1zM7 78h1v1h-1z"/><path fill="#482979" d="M9 4h1v1h-1zM40 4h2v1h-2zM40 5h1v1h-1zM26 7h3v1h-3zM24 8h1v1h-1zM29 8h1v1h-1zM29 9h1v1h-1zM22 10h1v1h-1zM29 10h1v1h-1zM28 11h1v1h-1zM27 12h1v1h-1zM22 13h1v1h-1zM26 13h1v1h-1zM47 19h1v1h-1zM32 25h1v1h-1zM35 25h1v1h-1zM31 26h1v1h-1zM35 26h1v1h-1zM31 27h1v1h-1zM35 27h1v1h-1zM9 28h2v1h-2zM31 28h1v1h-1zM11 29h1v1h-1zM31 29h1v1h-1zM34 29h1v1h-1zM11 30h1v1h-1zM32 30h1v1h-1zM11 31h1v1h-1zM11 32h1v1h-1zM11 33h1v1h-1zM9 38h1v1h-1zM4 48h1v1h-1zM10 49h1v1h-1zM2 51h1v1h-1zM1 55h1v1h-1zM1 56h1v1h-1zM9 56h1v1h-1zM5 57h1v1h-1zM3 58h1v1h-1zM19 61h1v1h-1zM20 62h1v1h-1zM2 63h1v1h-1zM19 67h2v1h-2zM1 72h1v1h-1zM20 72h1v1h-1zM16 74h1v1h-1zM23 74h1v1h-1zM16 75h1v1h-1zM23 75h1v1h-1zM17 76h1v1h-1zM22 76h1v1h-1zM9 77h1v1h-1zM19 77h2v1h-2zM8 78h1v1h-1z"/><path fill="#472c7a" d="M10 3h4v1h-4zM8 4h1v1h-1zM10 4h3v1h-3zM40 6h1v1h-1zM25 7h1v1h-1zM29 7h1v1h-1zM41 7h2v1h-2zM23 8h1v1h-1zM30 8h2v1h-2zM22 9h1v1h-1zM30 9h2v1h-2zM21 10h1v1h-1zM30 10h1v1h-1zM21 11h1v1h-1zM29 11h1v1h-1zM21 12h1v1h-1zM21 13h1v1h-1zM23 14h1v1h-1zM9 18h2v1h-2zM10 19h2v1h-2zM18 20h1v1h-1zM17 21h2v1h-2zM17 22h2v1h-2zM18 23h1v1h-1zM34 24h1v1h-1zM20 25h3v1h-3zM19 26h5v1h-5zM30 26h1v1h-1zM30 27h1v1h-1zM8 28h1v1h-1zM11 28h3v1h-3zM30 28h1v1h-1zM35 28h1v1h-1zM12 29h3v1h-3zM12 30h2v1h-2zM33 30h1v1h-1zM12 31h1v1h-1zM11 34h1v1h-1zM10 37h1v1h-1zM5 47h1v1h-1zM3 49h1v1h-1zM11 51h1v1h-1zM1 54h1v1h-1zM11 55h1v1h-1zM18 60h1v1h-1zM17 61h1v1h-1zM17 62h1v1h-1zM21 63h1v1h-1zM2 64h1v1h-1zM22 65h1v1h-1zM18 66h1v1h-1zM19 68h1v1h-1zM4 71h1v1h-1zM18 71h2v1h-2zM17 72h1v1h-1zM1 73h1v1h-1zM22 73h1v1h-1zM16 76h1v1h-1zM18 77h1v1h-1zM21 77h1v1h-1zM9 78h1v1h-1zM4 79h1v1h-1z"/><path fill="#472e7c" d="M8 3h2v1h-2zM14 3h1v1h-1zM7 4h1v1h-1zM13 4h2v1h-2zM39 4h1v1h-1zM7 5h5v1h-5zM26 6h2v1h-2zM23 7h2v1h-2zM30 7h2v1h-2zM40 7h1v1h-1zM22 8h1v1h-1zM32 8h1v1h-1zM21 9h1v1h-1zM32 9h1v1h-1zM31 10h2v1h-2zM20 11h1v1h-1zM20 12h1v1h-1zM28 12h1v1h-1zM20 13h1v1h-1zM20 14h3v1h-3zM24 14h2v1h-2zM8 17h3v1h-3zM8 18h1v1h-1zM11 18h2v1h-2zM8 19h2v1h-2zM12 19h1v1h-1zM18 19h2v1h-2zM9 20h5v1h-5zM17 20h1v1h-1zM19 20h2v1h-2zM10 21h7v1h-7zM19 21h1v1h-1zM12 22h5v1h-5zM19 22h1v1h-1zM13 23h5v1h-5zM19 23h2v1h-2zM14 24h9v1h-9zM33 24h1v1h-1zM35 24h1v1h-1zM13 25h7v1h-7zM23 25h1v1h-1zM31 25h1v1h-1zM36 25h1v1h-1zM10 26h9v1h-9zM24 26h1v1h-1zM29 26h1v1h-1zM36 26h1v1h-1zM9 27h15v1h-15zM29 27h1v1h-1zM36 27h1v1h-1zM7 28h1v1h-1zM14 28h4v1h-4zM29 28h1v1h-1zM15 29h3v1h-3zM30 29h1v1h-1zM35 29h1v1h-1zM14 30h3v1h-3zM31 30h1v1h-1zM34 30h1v1h-1zM13 31h2v1h-2zM12 32h1v1h-1zM11 35h1v1h-1zM7 38h1v1h-1zM7 46h2v1h-2zM9 47h1v1h-1zM22 48h1v1h-1zM1 53h1v1h-1zM12 54h1v1h-1zM10 56h1v1h-1zM6 57h1v1h-1zM17 59h2v1h-2zM17 60h1v1h-1zM19 60h2v1h-2zM20 61h2v1h-2zM21 62h1v1h-1zM17 63h1v1h-1zM2 65h1v1h-1zM22 66h1v1h-1zM18 67h1v1h-1zM21 67h1v1h-1zM20 68h1v1h-1zM19 69h2v1h-2zM3 70h1v1h-1zM18 70h3v1h-3zM20 71h2v1h-2zM21 72h3v1h-3zM16 73h1v1h-1zM23 73h1v1h-1zM1 74h1v1h-1zM24 74h1v1h-1zM15 75h1v1h-1zM24 75h1v1h-1zM9 76h1v1h-1zM14 76h2v1h-2zM23 76h1v1h-1zM10 77h1v1h-1zM22 77h1v1h-1zM10 78h1v1h-1zM20 78h1v1h-1zM3 79h1v1h-1zM5 79h3v1h-3z"/><path fill="#46307e" d="M7 2h1v1h-1zM7 3h1v1h-1zM15 3h1v1h-1zM6 4h1v1h-1zM15 4h1v1h-1zM42 4h1v1h-1zM6 5h1v1h-1zM12 5h2v1h-2zM39 5h1v1h-1zM7 6h4v1h-4zM24 6h2v1h-2zM28 6h2v1h-2zM39 6h1v1h-1zM43 6h1v1h-1zM32 7h2v1h-2zM39 7h1v1h-1zM43 7h1v1h-1zM21 8h1v1h-1zM33 8h2v1h-2zM41 8h2v1h-2zM33 9h2v1h-2zM20 10h1v1h-1zM33 10h2v1h-2zM30 11h2v1h-2zM19 13h1v1h-1zM27 13h1v1h-1zM19 14h1v1h-1zM19 15h4v1h-4zM7 16h3v1h-3zM19 16h3v1h-3zM7 17h1v1h-1zM11 17h2v1h-2zM19 17h2v1h-2zM7 18h1v1h-1zM13 18h1v1h-1zM17 18h4v1h-4zM47 18h1v1h-1zM13 19h2v1h-2zM16 19h2v1h-2zM20 19h1v1h-1zM8 20h1v1h-1zM14 20h3v1h-3zM9 21h1v1h-1zM20 21h1v1h-1zM9 22h3v1h-3zM20 22h2v1h-2zM9 23h4v1h-4zM21 23h2v1h-2zM9 24h5v1h-5zM23 24h1v1h-1zM32 24h1v1h-1zM9 25h4v1h-4zM24 25h1v1h-1zM30 25h1v1h-1zM9 26h1v1h-1zM25 26h4v1h-4zM24 27h5v1h-5zM6 28h1v1h-1zM18 28h3v1h-3zM27 28h2v1h-2zM36 28h1v1h-1zM18 29h1v1h-1zM29 29h1v1h-1zM17 30h1v1h-1zM30 30h1v1h-1zM15 31h2v1h-2zM32 31h2v1h-2zM13 32h2v1h-2zM12 33h1v1h-1zM22 46h2v1h-2zM22 47h2v1h-2zM21 48h1v1h-1zM23 48h1v1h-1zM21 49h3v1h-3zM2 50h1v1h-1zM21 50h2v1h-2zM1 52h1v1h-1zM12 53h1v1h-1zM15 53h1v1h-1zM14 54h2v1h-2zM12 55h4v1h-4zM17 58h2v1h-2zM16 59h1v1h-1zM19 59h2v1h-2zM16 60h1v1h-1zM21 60h1v1h-1zM22 61h1v1h-1zM22 62h1v1h-1zM22 63h1v1h-1zM22 64h1v1h-1zM2 66h1v1h-1zM22 67h1v1h-1zM18 68h1v1h-1zM21 68h2v1h-2zM18 69h1v1h-1zM21 69h2v1h-2zM21 70h2v1h-2zM17 71h1v1h-1zM22 71h2v1h-2zM5 72h1v1h-1zM24 72h1v1h-1zM24 73h1v1h-1zM15 74h1v1h-1zM25 74h1v1h-1zM1 75h1v1h-1zM8 75h1v1h-1zM14 75h1v1h-1zM25 75h1v1h-1zM12 76h2v1h-2zM24 76h1v1h-1zM11 77h7v1h-7zM23 77h1v1h-1zM11 78h1v1h-1zM19 78h1v1h-1zM21 78h1v1h-1zM8 79h2v1h-2zM22 90h2v1h-2zM21 91h4v1h-4zM20 92h5v1h-5zM20 93h5v1h-5zM22 94h1v1h-1z"/><path fill="#46337f" d="M6 2h1v1h-1zM10 2h6v1h-6zM6 3h1v1h-1zM16 3h1v1h-1zM16 4h1v1h-1zM14 5h3v1h-3zM43 5h1v1h-1zM6 6h1v1h-1zM11 6h2v1h-2zM23 6h1v1h-1zM30 6h3v1h-3zM38 6h1v1h-1zM7 7h3v1h-3zM21 7h2v1h-2zM34 7h5v1h-5zM35 8h6v1h-6zM43 8h1v1h-1zM20 9h1v1h-1zM35 9h2v1h-2zM19 10h1v1h-1zM35 10h1v1h-1zM19 11h1v1h-1zM32 11h3v1h-3zM19 12h1v1h-1zM29 12h1v1h-1zM18 14h1v1h-1zM26 14h1v1h-1zM7 15h2v1h-2zM18 15h1v1h-1zM23 15h1v1h-1zM6 16h1v1h-1zM10 16h2v1h-2zM18 16h1v1h-1zM22 16h1v1h-1zM6 17h1v1h-1zM13 17h2v1h-2zM17 17h2v1h-2zM21 17h1v1h-1zM14 18h3v1h-3zM21 18h1v1h-1zM7 19h1v1h-1zM15 19h1v1h-1zM21 19h1v1h-1zM7 20h1v1h-1zM21 20h1v1h-1zM8 21h1v1h-1zM21 21h1v1h-1zM8 22h1v1h-1zM22 22h1v1h-1zM8 23h1v1h-1zM23 23h1v1h-1zM34 23h2v1h-2zM8 24h1v1h-1zM31 24h1v1h-1zM36 24h1v1h-1zM25 25h5v1h-5zM8 27h1v1h-1zM21 28h2v1h-2zM26 28h1v1h-1zM19 29h1v1h-1zM28 29h1v1h-1zM18 30h1v1h-1zM29 30h1v1h-1zM35 30h1v1h-1zM17 31h1v1h-1zM31 31h1v1h-1zM34 31h1v1h-1zM15 32h2v1h-2zM13 33h1v1h-1zM12 34h1v1h-1zM6 36h1v1h-1zM8 39h1v1h-1zM22 43h1v1h-1zM32 43h1v1h-1zM22 44h2v1h-2zM30 44h4v1h-4zM22 45h3v1h-3zM30 45h4v1h-4zM6 46h1v1h-1zM21 46h1v1h-1zM24 46h1v1h-1zM30 46h5v1h-5zM21 47h1v1h-1zM24 47h1v1h-1zM32 47h2v1h-2zM24 48h1v1h-1zM24 49h1v1h-1zM23 50h1v1h-1zM1 51h1v1h-1zM21 51h3v1h-3zM16 52h1v1h-1zM21 52h2v1h-2zM16 53h1v1h-1zM21 53h1v1h-1zM16 54h1v1h-1zM16 55h1v1h-1zM11 56h1v1h-1zM13 56h5v1h-5zM7 57h1v1h-1zM14 57h7v1h-7zM4 58h1v1h-1zM15 58h2v1h-2zM19 58h4v1h-4zM3 59h1v1h-1zM21 59h2v1h-2zM22 60h2v1h-2zM16 61h1v1h-1zM23 61h1v1h-1zM23 62h1v1h-1zM23 63h1v1h-1zM23 64h1v1h-1zM23 65h1v1h-1zM23 66h1v1h-1zM2 67h1v1h-1zM23 67h1v1h-1zM23 68h1v1h-1zM23 69h1v1h-1zM23 70h2v1h-2zM24 71h2v1h-2zM25 72h2v1h-2zM6 73h1v1h-1zM25 73h2v1h-2zM7 74h1v1h-1zM26 74h1v1h-1zM13 75h1v1h-1zM26 75h1v1h-1zM1 76h1v1h-1zM10 76h2v1h-2zM25 76h1v1h-1zM24 77h1v1h-1zM12 78h1v1h-1zM18 78h1v1h-1zM22 78h2v1h-2zM10 79h1v1h-1zM5 80h3v1h-3zM22 89h2v1h-2zM20 90h2v1h-2zM24 90h1v1h-1zM19 91h2v1h-2zM25 91h1v1h-1zM19 92h1v1h-1zM25 92h1v1h-1zM18 93h2v1h-2zM25 93h2v1h-2zM19 94h3v1h-3zM23 94h3v1h-3z"/><path fill="#453581" d="M8 2h2v1h-2zM16 2h1v1h-1zM5 3h1v1h-1zM17 3h1v1h-1zM5 4h1v1h-1zM17 4h1v1h-1zM5 5h1v1h-1zM17 5h1v1h-1zM24 5h4v1h-4zM13 6h5v1h-5zM22 6h1v1h-1zM33 6h5v1h-5zM6 7h1v1h-1zM10 7h2v1h-2zM20 7h1v1h-1zM7 8h2v1h-2zM19 8h2v1h-2zM19 9h1v1h-1zM37 9h3v1h-3zM41 9h1v1h-1zM18 10h1v1h-1zM36 10h3v1h-3zM18 11h1v1h-1zM35 11h2v1h-2zM18 12h1v1h-1zM30 12h2v1h-2zM17 13h2v1h-2zM28 13h1v1h-1zM7 14h2v1h-2zM17 14h1v1h-1zM6 15h1v1h-1zM9 15h2v1h-2zM17 15h1v1h-1zM24 15h1v1h-1zM12 16h6v1h-6zM15 17h2v1h-2zM22 17h1v1h-1zM6 18h1v1h-1zM7 21h1v1h-1zM22 21h1v1h-1zM33 23h1v1h-1zM30 24h1v1h-1zM8 25h1v1h-1zM37 25h1v1h-1zM8 26h1v1h-1zM37 26h1v1h-1zM7 27h1v1h-1zM37 27h1v1h-1zM23 28h3v1h-3zM5 29h1v1h-1zM20 29h1v1h-1zM27 29h1v1h-1zM36 29h1v1h-1zM5 30h1v1h-1zM19 30h1v1h-1zM18 31h1v1h-1zM30 31h1v1h-1zM32 32h2v1h-2zM14 33h2v1h-2zM11 36h1v1h-1zM10 38h1v1h-1zM9 39h1v1h-1zM31 41h2v1h-2zM22 42h2v1h-2zM30 42h4v1h-4zM21 43h1v1h-1zM23 43h1v1h-1zM30 43h2v1h-2zM33 43h2v1h-2zM21 44h1v1h-1zM24 44h2v1h-2zM28 44h2v1h-2zM34 44h1v1h-1zM8 45h1v1h-1zM21 45h1v1h-1zM25 45h5v1h-5zM34 45h2v1h-2zM25 46h5v1h-5zM35 46h1v1h-1zM4 47h1v1h-1zM25 47h7v1h-7zM34 47h2v1h-2zM3 48h1v1h-1zM25 48h1v1h-1zM30 48h5v1h-5zM2 49h1v1h-1zM20 49h1v1h-1zM25 49h1v1h-1zM1 50h1v1h-1zM20 50h1v1h-1zM24 50h2v1h-2zM20 51h1v1h-1zM24 51h1v1h-1zM17 52h1v1h-1zM20 52h1v1h-1zM23 52h2v1h-2zM17 53h1v1h-1zM20 53h1v1h-1zM22 53h2v1h-2zM13 54h1v1h-1zM17 54h1v1h-1zM19 54h4v1h-4zM17 55h6v1h-6zM12 56h1v1h-1zM18 56h5v1h-5zM21 57h3v1h-3zM23 58h2v1h-2zM15 59h1v1h-1zM23 59h2v1h-2zM24 60h1v1h-1zM24 61h1v1h-1zM24 62h1v1h-1zM24 63h1v1h-1zM17 64h1v1h-1zM24 64h1v1h-1zM24 65h1v1h-1zM2 68h1v1h-1zM24 68h1v1h-1zM2 69h1v1h-1zM24 69h4v1h-4zM2 70h1v1h-1zM17 70h1v1h-1zM25 70h4v1h-4zM2 71h1v1h-1zM26 71h3v1h-3zM2 72h1v1h-1zM16 72h1v1h-1zM27 72h2v1h-2zM30 72h1v1h-1zM2 73h1v1h-1zM15 73h1v1h-1zM27 73h3v1h-3zM2 74h1v1h-1zM14 74h1v1h-1zM27 74h3v1h-3zM2 75h1v1h-1zM27 75h3v1h-3zM2 76h1v1h-1zM26 76h3v1h-3zM1 77h1v1h-1zM25 77h3v1h-3zM13 78h2v1h-2zM16 78h2v1h-2zM24 78h3v1h-3zM20 79h5v1h-5zM4 80h1v1h-1zM8 80h1v1h-1zM23 88h2v1h-2zM21 89h1v1h-1zM24 89h2v1h-2zM19 90h1v1h-1zM25 90h1v1h-1zM18 91h1v1h-1zM26 91h1v1h-1zM18 92h1v1h-1zM26 92h1v1h-1zM17 93h1v1h-1zM27 93h1v1h-1zM17 94h2v1h-2zM26 94h2v1h-2z"/><path fill="#453882" d="M17 2h1v1h-1zM18 3h1v1h-1zM4 4h1v1h-1zM18 4h1v1h-1zM18 5h2v1h-2zM22 5h2v1h-2zM28 5h1v1h-1zM38 5h1v1h-1zM5 6h1v1h-1zM18 6h4v1h-4zM12 7h8v1h-8zM6 8h1v1h-1zM9 8h2v1h-2zM17 8h2v1h-2zM7 9h2v1h-2zM18 9h1v1h-1zM40 9h1v1h-1zM42 9h2v1h-2zM17 10h1v1h-1zM17 11h1v1h-1zM37 11h1v1h-1zM17 12h1v1h-1zM32 12h5v1h-5zM6 13h5v1h-5zM16 13h1v1h-1zM6 14h1v1h-1zM9 14h4v1h-4zM16 14h1v1h-1zM5 15h1v1h-1zM11 15h6v1h-6zM25 15h1v1h-1zM5 16h1v1h-1zM23 16h1v1h-1zM5 17h1v1h-1zM22 18h1v1h-1zM6 19h1v1h-1zM22 20h1v1h-1zM7 22h1v1h-1zM23 22h1v1h-1zM36 23h1v1h-1zM24 24h1v1h-1zM29 24h1v1h-1zM37 28h1v1h-1zM21 29h1v1h-1zM26 29h1v1h-1zM28 30h1v1h-1zM36 30h1v1h-1zM5 31h1v1h-1zM35 31h1v1h-1zM17 32h1v1h-1zM31 32h1v1h-1zM34 32h1v1h-1zM16 33h1v1h-1zM13 34h1v1h-1zM7 39h1v1h-1zM32 39h2v1h-2zM31 40h3v1h-3zM22 41h1v1h-1zM30 41h1v1h-1zM33 41h2v1h-2zM21 42h1v1h-1zM24 42h1v1h-1zM34 42h1v1h-1zM24 43h6v1h-6zM35 43h1v1h-1zM26 44h2v1h-2zM35 44h1v1h-1zM36 45h1v1h-1zM36 46h1v1h-1zM36 47h1v1h-1zM10 48h1v1h-1zM20 48h1v1h-1zM26 48h4v1h-4zM35 48h2v1h-2zM1 49h1v1h-1zM26 49h8v1h-8zM11 50h1v1h-1zM19 50h1v1h-1zM26 50h1v1h-1zM17 51h3v1h-3zM25 51h2v1h-2zM18 52h2v1h-2zM25 52h1v1h-1zM14 53h1v1h-1zM18 53h2v1h-2zM24 53h2v1h-2zM18 54h1v1h-1zM23 54h2v1h-2zM23 55h2v1h-2zM23 56h3v1h-3zM8 57h1v1h-1zM13 57h1v1h-1zM24 57h2v1h-2zM14 58h1v1h-1zM25 58h1v1h-1zM25 59h1v1h-1zM25 60h1v1h-1zM25 61h1v1h-1zM25 62h1v1h-1zM25 63h1v1h-1zM25 64h1v1h-1zM28 64h12v1h-12zM17 65h1v1h-1zM25 65h15v1h-15zM24 66h17v1h-17zM24 67h17v1h-17zM17 68h1v1h-1zM25 68h17v1h-17zM3 69h1v1h-1zM17 69h1v1h-1zM28 69h14v1h-14zM29 70h13v1h-13zM29 71h14v1h-14zM29 72h1v1h-1zM31 72h12v1h-12zM30 73h13v1h-13zM30 74h13v1h-13zM9 75h1v1h-1zM12 75h1v1h-1zM30 75h13v1h-13zM29 76h14v1h-14zM2 77h1v1h-1zM28 77h15v1h-15zM1 78h2v1h-2zM15 78h1v1h-1zM27 78h16v1h-16zM11 79h1v1h-1zM18 79h2v1h-2zM25 79h18v1h-18zM3 80h1v1h-1zM9 80h1v1h-1zM21 80h21v1h-21zM4 81h4v1h-4zM28 81h13v1h-13zM29 82h11v1h-11zM30 83h9v1h-9zM32 84h6v1h-6zM33 85h4v1h-4zM23 87h3v1h-3zM21 88h2v1h-2zM25 88h2v1h-2zM20 89h1v1h-1zM26 89h1v1h-1zM18 90h1v1h-1zM26 90h1v1h-1zM17 91h1v1h-1zM27 91h1v1h-1zM16 92h2v1h-2zM27 92h1v1h-1zM15 93h2v1h-2zM28 93h1v1h-1zM16 94h1v1h-1zM28 94h1v1h-1z"/><path fill="#443a83" d="M18 2h1v1h-1zM4 3h1v1h-1zM19 3h1v1h-1zM39 3h2v1h-2zM19 4h2v1h-2zM38 4h1v1h-1zM4 5h1v1h-1zM20 5h2v1h-2zM29 5h2v1h-2zM37 5h1v1h-1zM5 7h1v1h-1zM5 8h1v1h-1zM11 8h6v1h-6zM6 9h1v1h-1zM9 9h2v1h-2zM16 9h2v1h-2zM6 10h4v1h-4zM16 10h1v1h-1zM39 10h1v1h-1zM6 11h4v1h-4zM16 11h1v1h-1zM38 11h1v1h-1zM6 12h5v1h-5zM16 12h1v1h-1zM37 12h1v1h-1zM5 13h1v1h-1zM11 13h2v1h-2zM15 13h1v1h-1zM29 13h1v1h-1zM5 14h1v1h-1zM13 14h3v1h-3zM27 14h1v1h-1zM47 17h1v1h-1zM5 18h1v1h-1zM22 19h1v1h-1zM6 20h1v1h-1zM7 23h1v1h-1zM32 23h1v1h-1zM7 24h1v1h-1zM28 24h1v1h-1zM37 24h1v1h-1zM6 27h1v1h-1zM5 28h1v1h-1zM22 29h1v1h-1zM25 29h1v1h-1zM37 29h1v1h-1zM20 30h1v1h-1zM19 31h1v1h-1zM29 31h1v1h-1zM18 32h1v1h-1zM17 33h1v1h-1zM32 33h2v1h-2zM16 34h2v1h-2zM12 35h1v1h-1zM32 37h1v1h-1zM32 38h2v1h-2zM31 39h1v1h-1zM34 39h1v1h-1zM8 40h1v1h-1zM22 40h1v1h-1zM34 40h1v1h-1zM21 41h1v1h-1zM23 41h2v1h-2zM35 41h1v1h-1zM25 42h3v1h-3zM35 42h1v1h-1zM36 43h1v1h-1zM36 44h1v1h-1zM7 45h1v1h-1zM37 45h1v1h-1zM5 46h1v1h-1zM9 46h1v1h-1zM37 46h1v1h-1zM37 47h1v1h-1zM1 48h1v1h-1zM37 48h2v1h-2zM44 48h1v1h-1zM19 49h1v1h-1zM34 49h4v1h-4zM44 49h1v1h-1zM18 50h1v1h-1zM27 50h10v1h-10zM44 50h1v1h-1zM27 51h4v1h-4zM44 51h2v1h-2zM15 52h1v1h-1zM26 52h3v1h-3zM44 52h2v1h-2zM26 53h2v1h-2zM44 53h2v1h-2zM25 54h3v1h-3zM45 54h1v1h-1zM25 55h3v1h-3zM45 55h1v1h-1zM26 56h2v1h-2zM45 56h1v1h-1zM26 57h2v1h-2zM5 58h1v1h-1zM26 58h2v1h-2zM26 59h3v1h-3zM37 59h6v1h-6zM15 60h1v1h-1zM26 60h18v1h-18zM26 61h18v1h-18zM16 62h1v1h-1zM26 62h18v1h-18zM26 63h18v1h-18zM26 64h2v1h-2zM40 64h4v1h-4zM40 65h4v1h-4zM17 66h1v1h-1zM41 66h4v1h-4zM17 67h1v1h-1zM41 67h4v1h-4zM42 68h3v1h-3zM42 69h3v1h-3zM42 70h3v1h-3zM43 71h3v1h-3zM43 72h3v1h-3zM43 73h3v1h-3zM43 74h3v1h-3zM10 75h2v1h-2zM43 75h2v1h-2zM43 76h2v1h-2zM43 77h2v1h-2zM43 78h2v1h-2zM1 79h2v1h-2zM12 79h1v1h-1zM17 79h1v1h-1zM43 79h1v1h-1zM10 80h1v1h-1zM20 80h1v1h-1zM42 80h2v1h-2zM3 81h1v1h-1zM8 81h1v1h-1zM22 81h6v1h-6zM41 81h3v1h-3zM4 82h3v1h-3zM25 82h4v1h-4zM40 82h3v1h-3zM26 83h4v1h-4zM39 83h4v1h-4zM26 84h6v1h-6zM38 84h4v1h-4zM25 85h8v1h-8zM37 85h4v1h-4zM23 86h5v1h-5zM29 86h12v1h-12zM21 87h2v1h-2zM26 87h2v1h-2zM31 87h9v1h-9zM20 88h1v1h-1zM27 88h1v1h-1zM34 88h4v1h-4zM19 89h1v1h-1zM27 89h2v1h-2zM17 90h1v1h-1zM27 90h2v1h-2zM16 91h1v1h-1zM28 91h1v1h-1zM15 92h1v1h-1zM28 92h1v1h-1zM14 93h1v1h-1zM29 93h1v1h-1zM14 94h2v1h-2zM14 95h2v1h-2z"/><path fill="#433d84" d="M19 1h1v1h-1zM19 2h1v1h-1zM3 3h1v1h-1zM20 3h1v1h-1zM38 3h1v1h-1zM41 3h1v1h-1zM21 4h6v1h-6zM43 4h1v1h-1zM31 5h6v1h-6zM4 6h1v1h-1zM4 7h1v1h-1zM4 8h1v1h-1zM4 9h2v1h-2zM11 9h5v1h-5zM4 10h2v1h-2zM10 10h6v1h-6zM40 10h2v1h-2zM4 11h2v1h-2zM10 11h2v1h-2zM14 11h2v1h-2zM4 12h2v1h-2zM11 12h5v1h-5zM13 13h2v1h-2zM30 13h7v1h-7zM4 16h1v1h-1zM24 16h1v1h-1zM23 17h1v1h-1zM6 21h1v1h-1zM34 22h3v1h-3zM31 23h1v1h-1zM37 23h1v1h-1zM27 24h1v1h-1zM7 25h1v1h-1zM38 25h1v1h-1zM7 26h1v1h-1zM38 26h1v1h-1zM38 27h1v1h-1zM23 29h2v1h-2zM21 30h1v1h-1zM27 30h1v1h-1zM36 31h1v1h-1zM19 32h1v1h-1zM35 32h1v1h-1zM18 33h1v1h-1zM31 33h1v1h-1zM34 33h1v1h-1zM14 34h2v1h-2zM18 34h1v1h-1zM32 34h1v1h-1zM17 35h2v1h-2zM32 35h1v1h-1zM32 36h2v1h-2zM11 37h1v1h-1zM33 37h1v1h-1zM31 38h1v1h-1zM34 38h1v1h-1zM21 39h2v1h-2zM21 40h1v1h-1zM23 40h1v1h-1zM30 40h1v1h-1zM35 40h1v1h-1zM25 41h1v1h-1zM29 42h1v1h-1zM36 42h1v1h-1zM37 43h1v1h-1zM8 44h1v1h-1zM37 44h1v1h-1zM38 45h1v1h-1zM38 46h1v1h-1zM1 47h1v1h-1zM20 47h1v1h-1zM38 47h2v1h-2zM44 47h1v1h-1zM2 48h1v1h-1zM39 48h1v1h-1zM43 48h1v1h-1zM38 49h2v1h-2zM43 49h1v1h-1zM45 49h1v1h-1zM37 50h3v1h-3zM43 50h1v1h-1zM45 50h1v1h-1zM31 51h9v1h-9zM43 51h1v1h-1zM12 52h1v1h-1zM29 52h12v1h-12zM43 52h1v1h-1zM28 53h8v1h-8zM40 53h1v1h-1zM43 53h1v1h-1zM28 54h7v1h-7zM40 54h2v1h-2zM44 54h1v1h-1zM28 55h7v1h-7zM39 55h3v1h-3zM44 55h1v1h-1zM28 56h15v1h-15zM44 56h1v1h-1zM9 57h1v1h-1zM28 57h18v1h-18zM28 58h18v1h-18zM29 59h8v1h-8zM43 59h3v1h-3zM3 60h1v1h-1zM44 60h3v1h-3zM44 61h3v1h-3zM44 62h3v1h-3zM44 63h3v1h-3zM44 64h3v1h-3zM44 65h3v1h-3zM45 66h2v1h-2zM45 67h2v1h-2zM45 68h2v1h-2zM45 69h2v1h-2zM45 70h2v1h-2zM46 71h1v1h-1zM46 72h1v1h-1zM46 73h1v1h-1zM8 74h1v1h-1zM13 74h1v1h-1zM46 74h1v1h-1zM45 75h2v1h-2zM45 76h2v1h-2zM45 77h2v1h-2zM45 78h1v1h-1zM13 79h2v1h-2zM16 79h1v1h-1zM44 79h2v1h-2zM0 80h3v1h-3zM11 80h1v1h-1zM19 80h1v1h-1zM44 80h2v1h-2zM0 81h2v1h-2zM9 81h1v1h-1zM20 81h2v1h-2zM44 81h1v1h-1zM7 82h1v1h-1zM22 82h3v1h-3zM43 82h2v1h-2zM4 83h3v1h-3zM23 83h3v1h-3zM43 83h2v1h-2zM4 84h2v1h-2zM23 84h3v1h-3zM42 84h2v1h-2zM4 85h1v1h-1zM22 85h3v1h-3zM41 85h3v1h-3zM21 86h2v1h-2zM28 86h1v1h-1zM41 86h2v1h-2zM20 87h1v1h-1zM28 87h3v1h-3zM40 87h2v1h-2zM19 88h1v1h-1zM28 88h6v1h-6zM38 88h3v1h-3zM18 89h1v1h-1zM29 89h11v1h-11zM5 90h3v1h-3zM29 90h2v1h-2zM6 91h4v1h-4zM15 91h1v1h-1zM29 91h2v1h-2zM8 92h4v1h-4zM14 92h1v1h-1zM29 92h2v1h-2zM9 93h5v1h-5zM30 93h2v1h-2zM11 94h3v1h-3z"/><path fill="#423f85" d="M21 3h1v1h-1zM3 4h1v1h-1zM27 4h1v1h-1zM3 5h1v1h-1zM3 6h1v1h-1zM3 7h1v1h-1zM3 8h1v1h-1zM3 9h1v1h-1zM3 10h1v1h-1zM42 10h2v1h-2zM3 11h1v1h-1zM12 11h2v1h-2zM39 11h1v1h-1zM3 12h1v1h-1zM38 12h1v1h-1zM4 13h1v1h-1zM37 13h1v1h-1zM4 14h1v1h-1zM28 14h1v1h-1zM4 15h1v1h-1zM26 15h1v1h-1zM4 17h1v1h-1zM23 18h1v1h-1zM5 19h1v1h-1zM23 21h1v1h-1zM6 22h1v1h-1zM37 22h1v1h-1zM24 23h1v1h-1zM38 23h1v1h-1zM25 24h2v1h-2zM38 24h1v1h-1zM5 27h1v1h-1zM38 28h1v1h-1zM37 30h1v1h-1zM20 31h1v1h-1zM30 32h1v1h-1zM19 33h1v1h-1zM19 34h1v1h-1zM31 34h1v1h-1zM33 34h1v1h-1zM13 35h1v1h-1zM16 35h1v1h-1zM19 35h1v1h-1zM33 35h1v1h-1zM18 36h2v1h-2zM6 37h1v1h-1zM19 37h2v1h-2zM31 37h1v1h-1zM34 37h1v1h-1zM20 38h2v1h-2zM10 39h1v1h-1zM30 39h1v1h-1zM35 39h1v1h-1zM7 40h1v1h-1zM24 40h1v1h-1zM8 41h1v1h-1zM26 41h1v1h-1zM29 41h1v1h-1zM36 41h1v1h-1zM8 42h1v1h-1zM28 42h1v1h-1zM37 42h1v1h-1zM8 43h1v1h-1zM38 43h1v1h-1zM7 44h1v1h-1zM38 44h1v1h-1zM20 45h1v1h-1zM39 45h1v1h-1zM44 45h1v1h-1zM1 46h1v1h-1zM20 46h1v1h-1zM39 46h2v1h-2zM44 46h1v1h-1zM40 47h4v1h-4zM40 48h3v1h-3zM45 48h1v1h-1zM40 49h3v1h-3zM40 50h3v1h-3zM16 51h1v1h-1zM40 51h3v1h-3zM41 52h2v1h-2zM13 53h1v1h-1zM36 53h4v1h-4zM41 53h2v1h-2zM35 54h5v1h-5zM42 54h2v1h-2zM35 55h4v1h-4zM42 55h2v1h-2zM43 56h1v1h-1zM46 57h1v1h-1zM46 58h1v1h-1zM14 59h1v1h-1zM46 59h1v1h-1zM3 68h1v1h-1zM16 71h1v1h-1zM14 73h1v1h-1zM46 78h1v1h-1zM15 79h1v1h-1zM46 79h1v1h-1zM18 80h1v1h-1zM46 80h1v1h-1zM2 81h1v1h-1zM45 81h2v1h-2zM0 82h2v1h-2zM3 82h1v1h-1zM8 82h1v1h-1zM20 82h2v1h-2zM45 82h2v1h-2zM3 83h1v1h-1zM7 83h1v1h-1zM21 83h2v1h-2zM45 83h1v1h-1zM3 84h1v1h-1zM6 84h1v1h-1zM21 84h2v1h-2zM44 84h2v1h-2zM3 85h1v1h-1zM5 85h1v1h-1zM21 85h1v1h-1zM44 85h1v1h-1zM3 86h3v1h-3zM20 86h1v1h-1zM43 86h2v1h-2zM3 87h3v1h-3zM42 87h2v1h-2zM3 88h3v1h-3zM41 88h2v1h-2zM3 89h5v1h-5zM40 89h2v1h-2zM3 90h2v1h-2zM8 90h2v1h-2zM16 90h1v1h-1zM31 90h10v1h-10zM4 91h2v1h-2zM10 91h1v1h-1zM14 91h1v1h-1zM31 91h5v1h-5zM5 92h3v1h-3zM12 92h2v1h-2zM31 92h3v1h-3zM8 93h1v1h-1zM32 93h2v1h-2z"/><path fill="#424186" d="M20 2h1v1h-1zM2 3h1v1h-1zM22 3h2v1h-2zM2 4h1v1h-1zM2 5h1v1h-1zM2 6h1v1h-1zM2 7h1v1h-1zM2 8h1v1h-1zM2 9h1v1h-1zM1 10h2v1h-2zM2 11h1v1h-1zM40 11h1v1h-1zM39 12h1v1h-1zM3 13h1v1h-1zM3 14h1v1h-1zM35 14h2v1h-2zM25 16h1v1h-1zM47 16h1v1h-1zM24 17h1v1h-1zM4 18h1v1h-1zM5 20h1v1h-1zM38 22h1v1h-1zM6 23h1v1h-1zM39 23h1v1h-1zM39 24h1v1h-1zM6 26h1v1h-1zM38 29h1v1h-1zM22 30h1v1h-1zM26 30h1v1h-1zM21 31h1v1h-1zM28 31h1v1h-1zM37 31h1v1h-1zM20 32h1v1h-1zM36 32h1v1h-1zM35 33h1v1h-1zM34 34h1v1h-1zM20 35h1v1h-1zM31 35h1v1h-1zM34 35h1v1h-1zM12 36h1v1h-1zM17 36h1v1h-1zM20 36h1v1h-1zM31 36h1v1h-1zM34 36h1v1h-1zM21 37h1v1h-1zM22 38h1v1h-1zM20 39h1v1h-1zM23 39h1v1h-1zM9 40h1v1h-1zM36 40h1v1h-1zM37 41h1v1h-1zM38 42h1v1h-1zM39 43h1v1h-1zM20 44h1v1h-1zM39 44h1v1h-1zM44 44h1v1h-1zM1 45h1v1h-1zM9 45h1v1h-1zM40 45h2v1h-2zM43 45h1v1h-1zM41 46h3v1h-3zM3 47h1v1h-1zM45 47h1v1h-1zM17 50h1v1h-1zM46 53h1v1h-1zM46 54h1v1h-1zM46 55h1v1h-1zM46 56h1v1h-1zM10 57h1v1h-1zM4 59h1v1h-1zM4 70h1v1h-1zM15 72h1v1h-1zM7 73h1v1h-1zM12 74h1v1h-1zM12 80h1v1h-1zM17 80h1v1h-1zM10 81h1v1h-1zM19 81h1v1h-1zM2 82h1v1h-1zM9 82h1v1h-1zM0 83h2v1h-2zM20 83h1v1h-1zM46 83h1v1h-1zM0 84h2v1h-2zM20 84h1v1h-1zM46 84h1v1h-1zM6 85h1v1h-1zM20 85h1v1h-1zM45 85h2v1h-2zM6 86h1v1h-1zM45 86h1v1h-1zM2 87h1v1h-1zM6 87h1v1h-1zM19 87h1v1h-1zM44 87h2v1h-2zM2 88h1v1h-1zM6 88h2v1h-2zM43 88h2v1h-2zM0 89h3v1h-3zM8 89h1v1h-1zM17 89h1v1h-1zM42 89h2v1h-2zM0 90h3v1h-3zM10 90h1v1h-1zM41 90h2v1h-2zM3 91h1v1h-1zM11 91h3v1h-3zM36 91h6v1h-6zM34 92h4v1h-4zM34 93h2v1h-2z"/><path fill="#414487" d="M21 2h1v1h-1zM24 3h2v1h-2zM42 3h1v1h-1zM28 4h1v1h-1zM37 4h1v1h-1zM44 7h1v1h-1zM44 8h1v1h-1zM41 11h2v1h-2zM2 12h1v1h-1zM2 13h1v1h-1zM38 13h1v1h-1zM29 14h1v1h-1zM34 14h1v1h-1zM37 14h1v1h-1zM3 15h1v1h-1zM3 16h1v1h-1zM23 20h1v1h-1zM38 20h1v1h-1zM36 21h4v1h-4zM33 22h1v1h-1zM39 22h1v1h-1zM30 23h1v1h-1zM39 25h1v1h-1zM39 26h1v1h-1zM39 27h1v1h-1zM25 30h1v1h-1zM38 30h1v1h-1zM5 32h1v1h-1zM20 33h1v1h-1zM30 33h1v1h-1zM20 34h1v1h-1zM35 34h1v1h-1zM14 35h2v1h-2zM21 36h1v1h-1zM18 37h1v1h-1zM22 37h1v1h-1zM11 38h1v1h-1zM19 38h1v1h-1zM30 38h1v1h-1zM35 38h1v1h-1zM36 39h1v1h-1zM25 40h1v1h-1zM29 40h1v1h-1zM7 41h1v1h-1zM27 41h1v1h-1zM7 43h1v1h-1zM20 43h1v1h-1zM40 43h1v1h-1zM1 44h1v1h-1zM40 44h4v1h-4zM42 45h1v1h-1zM4 46h1v1h-1zM45 46h1v1h-1zM2 47h1v1h-1zM10 47h1v1h-1zM19 48h1v1h-1zM46 48h1v1h-1zM18 49h1v1h-1zM46 49h1v1h-1zM46 50h1v1h-1zM46 51h1v1h-1zM46 52h1v1h-1zM11 57h2v1h-2zM6 58h1v1h-1zM13 58h1v1h-1zM15 61h1v1h-1zM16 63h1v1h-1zM6 72h1v1h-1zM9 74h1v1h-1zM11 74h1v1h-1zM13 80h1v1h-1zM16 80h1v1h-1zM19 82h1v1h-1zM2 83h1v1h-1zM8 83h1v1h-1zM7 84h1v1h-1zM0 85h2v1h-2zM19 85h1v1h-1zM0 86h3v1h-3zM7 86h1v1h-1zM19 86h1v1h-1zM46 86h1v1h-1zM7 87h1v1h-1zM0 88h2v1h-2zM8 88h1v1h-1zM18 88h1v1h-1zM45 88h1v1h-1zM9 89h1v1h-1zM44 89h2v1h-2zM11 90h1v1h-1zM14 90h2v1h-2zM43 90h2v1h-2zM42 91h2v1h-2zM38 92h4v1h-4zM36 93h3v1h-3z"/><path fill="#404688" d="M22 2h1v1h-1zM26 3h1v1h-1zM37 3h1v1h-1zM29 4h1v1h-1zM44 6h1v1h-1zM44 9h1v1h-1zM1 11h1v1h-1zM1 12h1v1h-1zM40 12h1v1h-1zM39 13h1v1h-1zM2 14h1v1h-1zM30 14h4v1h-4zM38 14h1v1h-1zM27 15h1v1h-1zM35 15h3v1h-3zM3 17h1v1h-1zM23 19h1v1h-1zM37 19h2v1h-2zM37 20h1v1h-1zM39 20h1v1h-1zM5 21h1v1h-1zM35 21h1v1h-1zM40 21h1v1h-1zM24 22h1v1h-1zM40 22h1v1h-1zM40 23h1v1h-1zM6 24h1v1h-1zM40 24h1v1h-1zM6 25h1v1h-1zM40 25h1v1h-1zM5 26h1v1h-1zM39 28h1v1h-1zM39 29h1v1h-1zM24 30h1v1h-1zM22 31h1v1h-1zM27 31h1v1h-1zM21 32h1v1h-1zM29 32h1v1h-1zM37 32h1v1h-1zM21 33h1v1h-1zM36 33h1v1h-1zM21 34h1v1h-1zM21 35h1v1h-1zM35 35h1v1h-1zM22 36h1v1h-1zM35 36h1v1h-1zM30 37h1v1h-1zM35 37h1v1h-1zM20 40h1v1h-1zM37 40h1v1h-1zM20 41h1v1h-1zM28 41h1v1h-1zM38 41h1v1h-1zM7 42h1v1h-1zM20 42h1v1h-1zM39 42h1v1h-1zM1 43h1v1h-1zM41 43h1v1h-1zM43 43h2v1h-2zM46 43h1v1h-1zM46 44h1v1h-1zM6 45h1v1h-1zM45 45h2v1h-2zM46 46h1v1h-1zM46 47h1v1h-1zM11 49h1v1h-1zM16 70h1v1h-1zM5 71h1v1h-1zM13 73h1v1h-1zM10 74h1v1h-1zM14 80h2v1h-2zM11 81h1v1h-1zM18 81h1v1h-1zM19 83h1v1h-1zM2 84h1v1h-1zM19 84h1v1h-1zM2 85h1v1h-1zM7 85h1v1h-1zM0 87h2v1h-2zM18 87h1v1h-1zM10 89h1v1h-1zM16 89h1v1h-1zM12 90h2v1h-2zM45 90h1v1h-1zM44 91h2v1h-2zM42 92h3v1h-3zM39 93h3v1h-3z"/><path fill="#3f4889" d="M23 2h1v1h-1zM27 3h1v1h-1zM30 4h3v1h-3zM35 4h2v1h-2zM44 5h1v1h-1zM44 10h1v1h-1zM43 11h1v1h-1zM41 12h1v1h-1zM1 13h1v1h-1zM40 13h1v1h-1zM39 14h1v1h-1zM2 15h1v1h-1zM38 15h1v1h-1zM35 16h4v1h-4zM36 17h3v1h-3zM36 18h4v1h-4zM4 19h1v1h-1zM36 19h1v1h-1zM39 19h2v1h-2zM36 20h1v1h-1zM40 20h1v1h-1zM29 23h1v1h-1zM40 26h1v1h-1zM40 27h1v1h-1zM23 30h1v1h-1zM39 30h1v1h-1zM38 31h1v1h-1zM22 32h1v1h-1zM30 34h1v1h-1zM36 34h1v1h-1zM22 35h1v1h-1zM13 36h1v1h-1zM16 36h1v1h-1zM30 36h1v1h-1zM17 37h1v1h-1zM46 37h1v1h-1zM18 38h1v1h-1zM36 38h1v1h-1zM46 38h1v1h-1zM19 39h1v1h-1zM24 39h1v1h-1zM29 39h1v1h-1zM37 39h1v1h-1zM46 39h1v1h-1zM26 40h1v1h-1zM38 40h1v1h-1zM46 40h1v1h-1zM39 41h1v1h-1zM46 41h1v1h-1zM1 42h1v1h-1zM40 42h2v1h-2zM44 42h1v1h-1zM46 42h1v1h-1zM42 43h1v1h-1zM9 44h1v1h-1zM45 44h1v1h-1zM2 46h1v1h-1zM14 52h1v1h-1zM3 61h1v1h-1zM3 67h1v1h-1zM14 72h1v1h-1zM12 81h1v1h-1zM17 81h1v1h-1zM10 82h1v1h-1zM18 82h1v1h-1zM9 83h1v1h-1zM8 84h1v1h-1zM8 86h1v1h-1zM18 86h1v1h-1zM8 87h1v1h-1zM9 88h1v1h-1zM17 88h1v1h-1zM11 89h1v1h-1zM45 92h1v1h-1z"/><path fill="#3e4a89" d="M24 2h1v1h-1zM33 4h2v1h-2zM42 12h1v1h-1zM1 14h1v1h-1zM40 14h1v1h-1zM28 15h1v1h-1zM34 15h1v1h-1zM39 15h1v1h-1zM47 15h1v1h-1zM2 16h1v1h-1zM26 16h1v1h-1zM39 16h1v1h-1zM39 17h2v1h-2zM3 18h1v1h-1zM40 18h1v1h-1zM41 20h1v1h-1zM41 21h1v1h-1zM5 22h1v1h-1zM41 22h1v1h-1zM41 23h1v1h-1zM41 24h1v1h-1zM41 25h1v1h-1zM40 28h1v1h-1zM40 29h1v1h-1zM39 31h1v1h-1zM46 31h1v1h-1zM38 32h1v1h-1zM46 32h1v1h-1zM22 33h1v1h-1zM37 33h1v1h-1zM46 33h1v1h-1zM22 34h1v1h-1zM46 34h1v1h-1zM30 35h1v1h-1zM36 35h1v1h-1zM46 35h1v1h-1zM36 36h1v1h-1zM46 36h1v1h-1zM12 37h1v1h-1zM36 37h1v1h-1zM6 38h1v1h-1zM23 38h1v1h-1zM29 38h1v1h-1zM10 40h1v1h-1zM1 41h1v1h-1zM9 41h1v1h-1zM40 41h1v1h-1zM44 41h1v1h-1zM42 42h2v1h-2zM9 43h1v1h-1zM45 43h1v1h-1zM12 51h1v1h-1zM15 51h1v1h-1zM7 58h1v1h-1zM14 60h1v1h-1zM16 69h1v1h-1zM8 73h1v1h-1zM16 81h1v1h-1zM18 83h1v1h-1zM18 84h1v1h-1zM8 85h1v1h-1zM18 85h1v1h-1zM9 87h1v1h-1zM10 88h1v1h-1zM12 89h1v1h-1zM15 89h1v1h-1z"/><path fill="#3d4d8a" d="M25 2h1v1h-1zM44 11h1v1h-1zM43 12h1v1h-1zM41 13h1v1h-1zM41 14h1v1h-1zM1 15h1v1h-1zM40 15h1v1h-1zM40 16h1v1h-1zM25 17h1v1h-1zM35 17h1v1h-1zM24 18h1v1h-1zM41 18h1v1h-1zM41 19h1v1h-1zM4 20h1v1h-1zM24 21h1v1h-1zM32 22h1v1h-1zM42 22h1v1h-1zM5 23h1v1h-1zM25 23h1v1h-1zM42 23h1v1h-1zM5 25h1v1h-1zM41 26h1v1h-1zM41 27h1v1h-1zM41 28h1v1h-1zM46 29h1v1h-1zM40 30h1v1h-1zM46 30h1v1h-1zM26 31h1v1h-1zM28 32h1v1h-1zM38 33h1v1h-1zM37 34h1v1h-1zM14 36h2v1h-2zM37 38h1v1h-1zM1 39h1v1h-1zM38 39h1v1h-1zM1 40h1v1h-1zM27 40h2v1h-2zM39 40h1v1h-1zM41 41h3v1h-3zM9 42h1v1h-1zM45 42h1v1h-1zM5 45h1v1h-1zM19 47h1v1h-1zM13 52h1v1h-1zM12 73h1v1h-1zM13 81h3v1h-3zM11 82h1v1h-1zM17 82h1v1h-1zM17 87h1v1h-1zM16 88h1v1h-1zM13 89h2v1h-2z"/><path fill="#3c4f8a" d="M22 1h1v1h-1zM26 2h1v1h-1zM28 3h1v1h-1zM43 3h1v1h-1zM42 13h1v1h-1zM29 15h1v1h-1zM41 15h1v1h-1zM1 16h1v1h-1zM41 16h1v1h-1zM2 17h1v1h-1zM41 17h1v1h-1zM35 18h1v1h-1zM42 19h1v1h-1zM42 20h1v1h-1zM34 21h1v1h-1zM42 21h1v1h-1zM28 23h1v1h-1zM5 24h1v1h-1zM42 24h1v1h-1zM42 25h1v1h-1zM42 26h1v1h-1zM42 27h1v1h-1zM46 27h1v1h-1zM46 28h1v1h-1zM41 29h1v1h-1zM41 30h1v1h-1zM40 31h1v1h-1zM39 32h1v1h-1zM29 33h1v1h-1zM37 35h1v1h-1zM37 36h1v1h-1zM29 37h1v1h-1zM37 37h1v1h-1zM1 38h1v1h-1zM38 38h1v1h-1zM11 39h1v1h-1zM25 39h1v1h-1zM39 39h1v1h-1zM19 40h1v1h-1zM40 40h5v1h-5zM45 41h1v1h-1zM2 45h1v1h-1zM3 46h1v1h-1zM10 46h1v1h-1zM16 50h1v1h-1zM5 59h1v1h-1zM15 62h1v1h-1zM16 64h1v1h-1zM3 66h1v1h-1zM16 68h1v1h-1zM10 83h1v1h-1zM9 84h1v1h-1zM9 86h1v1h-1zM17 86h1v1h-1zM11 88h1v1h-1z"/><path fill="#3b518b" d="M23 1h1v1h-1zM44 4h1v1h-1zM44 12h1v1h-1zM42 14h1v1h-1zM30 15h1v1h-1zM42 15h1v1h-1zM34 16h1v1h-1zM42 16h1v1h-1zM42 17h1v1h-1zM42 18h1v1h-1zM3 19h1v1h-1zM35 19h1v1h-1zM35 20h1v1h-1zM4 21h1v1h-1zM43 23h1v1h-1zM43 24h1v1h-1zM43 25h1v1h-1zM43 26h1v1h-1zM46 26h1v1h-1zM42 28h1v1h-1zM42 29h1v1h-1zM23 31h1v1h-1zM41 31h1v1h-1zM40 32h1v1h-1zM5 33h1v1h-1zM39 33h1v1h-1zM38 34h1v1h-1zM38 35h1v1h-1zM38 36h1v1h-1zM1 37h1v1h-1zM16 37h1v1h-1zM23 37h1v1h-1zM38 37h1v1h-1zM17 38h1v1h-1zM39 38h1v1h-1zM18 39h1v1h-1zM28 39h1v1h-1zM40 39h6v1h-6zM45 40h1v1h-1zM19 46h1v1h-1zM8 58h1v1h-1zM13 59h1v1h-1zM3 62h1v1h-1zM16 67h1v1h-1zM7 72h1v1h-1zM13 72h1v1h-1zM9 73h3v1h-3zM12 82h1v1h-1zM16 82h1v1h-1zM17 83h1v1h-1zM17 84h1v1h-1zM9 85h1v1h-1zM17 85h1v1h-1zM10 87h1v1h-1zM12 88h1v1h-1zM15 88h1v1h-1z"/><path fill="#3a538b" d="M27 2h1v1h-1zM36 3h1v1h-1zM43 13h1v1h-1zM47 14h1v1h-1zM31 15h1v1h-1zM33 15h1v1h-1zM27 16h1v1h-1zM1 17h1v1h-1zM2 18h1v1h-1zM24 20h1v1h-1zM43 20h1v1h-1zM43 21h1v1h-1zM31 22h1v1h-1zM43 22h1v1h-1zM26 23h2v1h-2zM46 25h1v1h-1zM43 27h1v1h-1zM43 28h1v1h-1zM42 30h1v1h-1zM25 31h1v1h-1zM42 31h1v1h-1zM41 32h1v1h-1zM40 33h2v1h-2zM29 34h1v1h-1zM39 34h2v1h-2zM1 35h1v1h-1zM29 35h1v1h-1zM39 35h1v1h-1zM1 36h1v1h-1zM29 36h1v1h-1zM39 36h1v1h-1zM13 37h1v1h-1zM39 37h2v1h-2zM12 38h1v1h-1zM24 38h1v1h-1zM40 38h6v1h-6zM6 39h1v1h-1zM26 39h1v1h-1zM10 41h1v1h-1zM2 44h1v1h-1zM6 44h1v1h-1zM19 45h1v1h-1zM11 48h1v1h-1zM18 48h1v1h-1zM17 49h1v1h-1zM12 58h1v1h-1zM16 66h1v1h-1zM4 69h1v1h-1zM13 82h3v1h-3zM11 83h1v1h-1zM10 84h1v1h-1zM16 87h1v1h-1zM13 88h1v1h-1z"/><path fill="#39558c" d="M21 1h1v1h-1zM24 1h1v1h-1zM38 2h2v1h-2zM29 3h1v1h-1zM43 14h1v1h-1zM32 15h1v1h-1zM43 15h1v1h-1zM34 17h1v1h-1zM43 17h1v1h-1zM43 18h1v1h-1zM24 19h1v1h-1zM43 19h1v1h-1zM4 22h1v1h-1zM25 22h1v1h-1zM46 24h1v1h-1zM4 25h1v1h-1zM4 26h1v1h-1zM44 27h1v1h-1zM44 28h1v1h-1zM43 29h1v1h-1zM43 30h1v1h-1zM24 31h1v1h-1zM43 31h1v1h-1zM23 32h1v1h-1zM27 32h1v1h-1zM42 32h1v1h-1zM42 33h1v1h-1zM1 34h1v1h-1zM41 34h1v1h-1zM40 35h2v1h-2zM23 36h1v1h-1zM40 36h3v1h-3zM41 37h5v1h-5zM28 38h1v1h-1zM27 39h1v1h-1zM19 41h1v1h-1zM19 44h1v1h-1zM4 45h1v1h-1zM9 58h1v1h-1zM4 60h1v1h-1zM3 65h1v1h-1zM16 65h1v1h-1zM16 83h1v1h-1zM10 86h1v1h-1zM16 86h1v1h-1zM11 87h1v1h-1zM14 88h1v1h-1z"/><path fill="#38588c" d="M37 2h1v1h-1zM40 2h1v1h-1zM30 3h2v1h-2zM35 3h1v1h-1zM44 13h1v1h-1zM43 16h1v1h-1zM1 18h1v1h-1zM3 20h1v1h-1zM33 21h1v1h-1zM4 23h1v1h-1zM44 23h1v1h-1zM4 24h1v1h-1zM44 24h1v1h-1zM44 25h1v1h-1zM44 26h1v1h-1zM44 29h1v1h-1zM44 30h1v1h-1zM44 31h1v1h-1zM1 32h1v1h-1zM43 32h2v1h-2zM1 33h1v1h-1zM23 33h1v1h-1zM28 33h1v1h-1zM43 33h2v1h-2zM42 34h3v1h-3zM23 35h1v1h-1zM42 35h3v1h-3zM43 36h3v1h-3zM14 37h2v1h-2zM28 37h1v1h-1zM11 40h1v1h-1zM19 42h1v1h-1zM6 43h1v1h-1zM19 43h1v1h-1zM10 45h1v1h-1zM12 50h1v1h-1zM14 51h1v1h-1zM6 71h1v1h-1zM15 71h1v1h-1zM12 72h1v1h-1zM12 83h1v1h-1zM15 83h1v1h-1zM11 84h1v1h-1zM16 84h1v1h-1zM10 85h1v1h-1zM16 85h1v1h-1zM15 87h1v1h-1z"/><path fill="#375a8c" d="M28 2h1v1h-1zM36 2h1v1h-1zM32 3h3v1h-3zM44 14h1v1h-1zM26 17h1v1h-1zM25 18h1v1h-1zM34 18h1v1h-1zM2 19h1v1h-1zM44 20h1v1h-1zM44 21h1v1h-1zM30 22h1v1h-1zM44 22h1v1h-1zM46 23h1v1h-1zM4 27h1v1h-1zM1 30h1v1h-1zM1 31h1v1h-1zM45 31h1v1h-1zM45 32h1v1h-1zM45 33h1v1h-1zM23 34h1v1h-1zM45 34h1v1h-1zM45 35h1v1h-1zM16 38h1v1h-1zM25 38h1v1h-1zM17 39h1v1h-1zM6 40h1v1h-1zM18 40h1v1h-1zM2 43h1v1h-1zM3 45h1v1h-1zM10 58h1v1h-1zM14 61h1v1h-1zM3 63h1v1h-1zM3 64h1v1h-1zM8 72h1v1h-1zM13 83h2v1h-2zM11 86h1v1h-1zM15 86h1v1h-1zM12 87h1v1h-1zM14 87h1v1h-1z"/><path fill="#365c8d" d="M25 1h1v1h-1zM41 2h1v1h-1zM47 13h1v1h-1zM44 15h1v1h-1zM28 16h1v1h-1zM33 16h1v1h-1zM44 16h1v1h-1zM44 17h1v1h-1zM44 18h1v1h-1zM1 19h1v1h-1zM34 19h1v1h-1zM44 19h1v1h-1zM1 20h1v1h-1zM34 20h1v1h-1zM1 21h1v1h-1zM3 21h1v1h-1zM46 22h1v1h-1zM1 27h1v1h-1zM1 28h1v1h-1zM1 29h1v1h-1zM45 30h1v1h-1zM26 32h1v1h-1zM28 36h1v1h-1zM24 37h1v1h-1zM13 38h1v1h-1zM27 38h1v1h-1zM12 39h1v1h-1zM6 41h1v1h-1zM6 42h1v1h-1zM10 42h1v1h-1zM10 44h1v1h-1zM13 51h1v1h-1zM11 58h1v1h-1zM6 59h1v1h-1zM11 72h1v1h-1zM12 84h1v1h-1zM15 84h1v1h-1zM11 85h1v1h-1zM15 85h1v1h-1zM13 87h1v1h-1z"/><path fill="#355e8d" d="M2 20h1v1h-1zM25 21h1v1h-1zM1 22h1v1h-1zM1 23h1v1h-1zM1 24h1v1h-1zM1 25h1v1h-1zM1 26h1v1h-1zM45 28h1v1h-1zM45 29h1v1h-1zM28 34h1v1h-1zM28 35h1v1h-1zM26 38h1v1h-1zM2 42h1v1h-1zM11 47h1v1h-1zM18 47h1v1h-1zM15 50h1v1h-1zM9 72h2v1h-2zM13 84h2v1h-2zM12 85h1v1h-1zM12 86h1v1h-1zM14 86h1v1h-1z"/><path fill="#34608d" d="M26 1h1v1h-1zM29 16h1v1h-1zM32 21h1v1h-1zM46 21h1v1h-1zM3 22h1v1h-1zM29 22h1v1h-1zM45 26h1v1h-1zM45 27h1v1h-1zM24 32h2v1h-2zM27 33h1v1h-1zM5 34h1v1h-1zM27 37h1v1h-1zM15 38h1v1h-1zM11 41h1v1h-1zM10 43h1v1h-1zM15 63h1v1h-1zM13 85h2v1h-2zM13 86h1v1h-1z"/><path fill="#33628d" d="M29 2h1v1h-1zM42 2h1v1h-1zM44 3h1v1h-1zM45 10h1v1h-1zM45 11h1v1h-1zM45 12h1v1h-1zM45 13h1v1h-1zM45 14h1v1h-1zM45 15h1v1h-1zM45 16h1v1h-1zM33 17h1v1h-1zM25 19h1v1h-1zM25 20h1v1h-1zM46 20h1v1h-1zM26 22h1v1h-1zM45 23h1v1h-1zM45 24h1v1h-1zM45 25h1v1h-1zM14 38h1v1h-1zM2 41h1v1h-1zM18 41h1v1h-1zM5 44h1v1h-1zM17 48h1v1h-1zM16 49h1v1h-1zM13 60h1v1h-1zM7 71h1v1h-1z"/><path fill="#32648e" d="M35 2h1v1h-1zM45 8h1v1h-1zM45 9h1v1h-1zM47 12h1v1h-1zM30 16h1v1h-1zM32 16h1v1h-1zM27 17h1v1h-1zM45 17h1v1h-1zM45 18h1v1h-1zM45 19h2v1h-2zM45 20h1v1h-1zM45 21h1v1h-1zM45 22h1v1h-1zM24 36h1v1h-1zM27 36h1v1h-1zM25 37h2v1h-2zM16 39h1v1h-1zM12 40h1v1h-1zM17 40h1v1h-1zM12 49h1v1h-1zM4 68h1v1h-1zM5 70h1v1h-1zM14 71h1v1h-1z"/><path fill="#31668e" d="M20 1h1v1h-1zM27 1h1v1h-1zM45 6h1v1h-1zM45 7h1v1h-1zM31 16h1v1h-1zM26 18h1v1h-1zM33 18h1v1h-1zM46 18h1v1h-1zM33 20h1v1h-1zM2 21h1v1h-1zM28 22h1v1h-1zM3 23h1v1h-1zM4 28h1v1h-1zM26 33h1v1h-1zM27 34h1v1h-1zM27 35h1v1h-1zM13 39h1v1h-1zM2 40h1v1h-1zM18 42h1v1h-1zM3 44h1v1h-1zM18 46h1v1h-1zM7 59h1v1h-1zM12 59h1v1h-1zM4 61h1v1h-1zM15 70h1v1h-1z"/><path fill="#31688e" d="M30 2h1v1h-1zM46 17h1v1h-1zM33 19h1v1h-1zM31 21h1v1h-1zM27 22h1v1h-1zM24 33h1v1h-1zM24 35h1v1h-1zM4 44h1v1h-1zM18 45h1v1h-1zM11 46h1v1h-1zM14 50h1v1h-1zM5 60h1v1h-1z"/><path fill="#306a8e" d="M28 1h1v1h-1zM31 2h4v1h-4zM45 5h1v1h-1zM46 16h1v1h-1zM26 21h1v1h-1zM25 33h1v1h-1zM24 34h1v1h-1zM25 36h2v1h-2zM15 39h1v1h-1zM11 42h1v1h-1zM18 43h1v1h-1zM18 44h1v1h-1zM13 50h1v1h-1zM14 62h1v1h-1zM8 71h1v1h-1z"/><path fill="#2f6c8e" d="M43 2h1v1h-1zM46 14h1v1h-1zM46 15h1v1h-1zM28 17h1v1h-1zM32 17h1v1h-1zM3 24h1v1h-1zM26 34h1v1h-1zM5 35h1v1h-1zM26 35h1v1h-1zM2 39h1v1h-1zM14 39h1v1h-1zM16 40h1v1h-1zM17 41h1v1h-1zM15 64h1v1h-1zM15 69h1v1h-1zM13 71h1v1h-1z"/><path fill="#2e6e8e" d="M47 11h1v1h-1zM46 13h1v1h-1zM2 22h1v1h-1zM12 41h1v1h-1zM11 45h1v1h-1zM12 48h1v1h-1zM15 49h1v1h-1zM8 59h1v1h-1zM12 71h1v1h-1z"/><path fill="#2d708e" d="M45 4h1v1h-1zM46 12h1v1h-1zM26 19h1v1h-1zM26 20h1v1h-1zM32 20h1v1h-1zM30 21h1v1h-1zM25 34h1v1h-1zM25 35h1v1h-1zM2 38h1v1h-1zM13 40h1v1h-1zM3 43h1v1h-1zM11 43h1v1h-1zM17 47h1v1h-1zM15 68h1v1h-1zM9 71h1v1h-1z"/><path fill="#2c718e" d="M29 1h1v1h-1zM46 11h1v1h-1zM29 17h1v1h-1zM27 18h1v1h-1zM32 18h1v1h-1zM32 19h1v1h-1zM11 44h1v1h-1zM16 48h1v1h-1zM4 67h1v1h-1zM10 71h2v1h-2z"/><path fill="#2c738e" d="M30 17h2v1h-2zM27 21h1v1h-1zM3 25h1v1h-1zM2 37h1v1h-1zM15 40h1v1h-1zM17 42h1v1h-1zM5 43h1v1h-1zM9 59h1v1h-1zM11 59h1v1h-1zM13 61h1v1h-1zM15 67h1v1h-1z"/><path fill="#2b758e" d="M35 1h4v1h-4zM46 10h2v1h-2zM29 21h1v1h-1zM2 23h1v1h-1zM5 36h1v1h-1zM14 40h1v1h-1zM16 41h1v1h-1zM12 42h1v1h-1zM6 60h1v1h-1zM4 62h1v1h-1zM15 65h1v1h-1zM15 66h1v1h-1z"/><path fill="#2a778e" d="M30 1h1v1h-1zM34 1h1v1h-1zM39 1h1v1h-1zM28 21h1v1h-1zM4 29h1v1h-1zM13 41h1v1h-1zM17 43h1v1h-1zM17 46h1v1h-1zM12 47h1v1h-1zM13 49h2v1h-2zM10 59h1v1h-1zM12 60h1v1h-1z"/><path fill="#29798e" d="M46 9h1v1h-1zM28 18h1v1h-1zM31 18h1v1h-1zM27 19h1v1h-1zM31 20h1v1h-1zM3 26h1v1h-1zM2 36h1v1h-1z"/><path fill="#297b8e" d="M40 1h1v1h-1zM44 2h1v1h-1zM45 3h1v1h-1zM31 19h1v1h-1zM27 20h1v1h-1zM15 41h1v1h-1zM3 42h1v1h-1zM4 43h1v1h-1zM12 43h1v1h-1zM17 44h1v1h-1zM17 45h1v1h-1zM14 63h1v1h-1zM4 66h1v1h-1zM6 70h1v1h-1z"/><path fill="#287d8e" d="M31 0h3v1h-3zM31 1h3v1h-3zM46 8h1v1h-1zM29 18h1v1h-1zM30 20h1v1h-1zM2 35h1v1h-1zM5 37h1v1h-1zM14 41h1v1h-1zM5 42h1v1h-1zM16 42h1v1h-1zM12 46h1v1h-1zM16 47h1v1h-1zM15 48h1v1h-1zM5 61h1v1h-1z"/><path fill="#277f8e" d="M47 9h1v1h-1zM30 18h1v1h-1zM2 24h1v1h-1zM13 42h1v1h-1zM5 69h1v1h-1zM14 70h1v1h-1z"/><path fill="#26818e" d="M41 1h1v1h-1zM28 19h1v1h-1zM28 20h1v1h-1zM3 27h1v1h-1zM2 34h1v1h-1zM5 38h1v1h-1zM12 44h1v1h-1zM12 45h1v1h-1zM7 60h1v1h-1z"/><path fill="#26828e" d="M46 7h1v1h-1zM30 19h1v1h-1zM29 20h1v1h-1zM5 41h1v1h-1zM15 42h1v1h-1zM16 43h1v1h-1zM13 48h1v1h-1zM4 63h1v1h-1z"/><path fill="#25848e" d="M29 19h1v1h-1zM2 33h1v1h-1zM5 39h1v1h-1zM5 40h1v1h-1zM3 41h1v1h-1zM14 42h1v1h-1zM14 48h1v1h-1zM13 62h1v1h-1zM4 65h1v1h-1z"/><path fill="#24868e" d="M42 1h1v1h-1zM2 25h1v1h-1zM4 30h1v1h-1zM13 43h1v1h-1zM16 44h1v1h-1zM16 46h1v1h-1zM4 64h1v1h-1z"/><path fill="#23888e" d="M47 8h1v1h-1zM2 32h1v1h-1zM16 45h1v1h-1zM15 47h1v1h-1zM7 70h1v1h-1z"/><path fill="#238a8d" d="M46 6h1v1h-1zM3 28h1v1h-1zM15 43h1v1h-1zM13 44h1v1h-1zM13 47h1v1h-1zM8 60h1v1h-1zM11 60h1v1h-1zM14 64h1v1h-1z"/><path fill="#228c8d" d="M2 31h1v1h-1zM4 42h1v1h-1zM14 43h1v1h-1zM12 61h1v1h-1z"/><path fill="#218e8d" d="M45 2h1v1h-1zM2 26h1v1h-1zM2 30h1v1h-1zM3 40h1v1h-1zM15 44h1v1h-1zM13 45h1v1h-1zM13 46h1v1h-1zM14 47h1v1h-1zM14 69h1v1h-1zM13 70h1v1h-1z"/><path fill="#21908d" d="M43 1h1v1h-1zM46 5h1v1h-1zM47 7h1v1h-1zM2 29h2v1h-2zM14 44h1v1h-1zM15 46h1v1h-1zM9 60h1v1h-1zM6 61h1v1h-1z"/><path fill="#20928c" d="M2 27h1v1h-1zM2 28h1v1h-1zM4 31h1v1h-1zM15 45h1v1h-1zM10 60h1v1h-1zM5 62h1v1h-1zM8 70h1v1h-1z"/><path fill="#20938c" d="M14 45h1v1h-1zM14 46h1v1h-1zM5 68h1v1h-1z"/><path fill="#1f958b" d="M46 4h1v1h-1zM14 65h1v1h-1zM14 68h1v1h-1z"/><path fill="#1f978b" d="M3 30h1v1h-1zM3 39h1v1h-1zM13 63h1v1h-1zM9 70h1v1h-1zM12 70h1v1h-1z"/><path fill="#1f998a" d="M4 41h1v1h-1zM14 66h1v1h-1zM14 67h1v1h-1zM10 70h2v1h-2z"/><path fill="#1e9b8a" d="M44 1h1v1h-1zM46 3h1v1h-1zM47 6h1v1h-1z"/><path fill="#1e9d89" d="M4 32h1v1h-1zM7 61h1v1h-1zM6 69h1v1h-1z"/><path fill="#1f9f88" d="M3 31h1v1h-1zM3 38h1v1h-1zM11 61h1v1h-1zM12 62h1v1h-1z"/><path fill="#1fa287" d="M3 32h1v1h-1zM5 67h1v1h-1z"/><path fill="#20a486" d="M47 5h1v1h-1zM4 33h1v1h-1zM4 40h1v1h-1zM5 63h1v1h-1z"/><path fill="#21a685" d="M46 2h1v1h-1zM3 37h1v1h-1z"/><path fill="#22a884" d="M3 33h1v1h-1zM8 61h1v1h-1zM6 62h1v1h-1zM13 64h1v1h-1z"/><path fill="#24aa83" d="M45 1h1v1h-1zM3 34h2v1h-2zM3 35h1v1h-1zM3 36h1v1h-1zM13 69h1v1h-1z"/><path fill="#25ac82" d="M4 39h1v1h-1zM10 61h1v1h-1zM5 66h1v1h-1z"/><path fill="#27ad81" d="M4 35h1v1h-1zM9 61h1v1h-1z"/><path fill="#29af7f" d="M47 4h1v1h-1zM4 38h1v1h-1zM5 64h1v1h-1zM5 65h1v1h-1z"/><path fill="#2cb17e" d="M4 36h1v1h-1zM4 37h1v1h-1zM12 63h1v1h-1zM7 69h1v1h-1z"/><path fill="#31b57b" d="M11 62h1v1h-1zM13 65h1v1h-1z"/><path fill="#34b679" d="M13 68h1v1h-1z"/><path fill="#37b878" d="M47 3h1v1h-1zM7 62h1v1h-1zM6 68h1v1h-1zM12 69h1v1h-1z"/><path fill="#3aba76" d="M46 1h1v1h-1zM13 66h1v1h-1z"/><path fill="#3dbc74" d="M13 67h1v1h-1zM8 69h1v1h-1z"/><path fill="#40bd72" d="M6 63h1v1h-1z"/><path fill="#48c16e" d="M8 62h1v1h-1zM11 69h1v1h-1z"/><path fill="#4cc26c" d="M47 2h1v1h-1zM10 62h1v1h-1zM12 64h1v1h-1zM9 69h2v1h-2z"/><path fill="#58c765" d="M9 62h1v1h-1zM11 63h1v1h-1z"/><path fill="#5cc863" d="M6 67h1v1h-1z"/><path fill="#65cb5e" d="M6 64h1v1h-1z"/><path fill="#69cd5b" d="M47 1h1v1h-1zM7 63h1v1h-1zM12 65h1v1h-1zM12 68h1v1h-1z"/><path fill="#6ece58" d="M7 68h1v1h-1z"/><path fill="#73d056" d="M6 66h1v1h-1z"/><path fill="#77d153" d="M6 65h1v1h-1z"/><path fill="#81d34d" d="M10 63h1v1h-1zM11 64h1v1h-1zM12 66h1v1h-1zM12 67h1v1h-1z"/><path fill="#86d549" d="M8 63h1v1h-1z"/><path fill="#90d743" d="M11 68h1v1h-1z"/><path fill="#95d840" d="M9 63h1v1h-1zM8 68h1v1h-1z"/><path fill="#a0da39" d="M7 64h1v1h-1z"/><path fill="#a5db36" d="M9 68h2v1h-2z"/><path fill="#aadc32" d="M11 65h1v1h-1zM7 67h1v1h-1z"/><path fill="#b5de2b" d="M10 64h1v1h-1z"/><path fill="#c5e021" d="M8 64h1v1h-1zM7 65h1v1h-1zM11 66h1v1h-1zM11 67h1v1h-1z"/><path fill="#cae11f" d="M9 64h1v1h-1zM7 66h1v1h-1z"/><path fill="#dae319" d="M8 67h1v1h-1z"/><path fill="#dfe318" d="M10 65h1v1h-1z"/><path fill="#e5e419" d="M10 67h1v1h-1z"/><path fill="#eae51a" d="M9 67h1v1h-1z"/><path fill="#efe51c" d="M8 65h1v1h-1z"/><path fill="#f8e621" d="M9 65h1v1h-1zM10 66h1v1h-1z"/><path fill="#fde725" d="M8 66h2v1h-2z"/></g>
<use href="#pp" x="1135.80" y="673.50"/>
<rect class="s" x="1216.5" y="752.5" width="279.0" height="546.0"/><text class="t" text-anchor="middle" x="1221.5" y="1318.9">0</text><text class="t" text-anchor="middle" x="1287.5" y="1318.9">500</text><text class="t" text-anchor="middle" x="1352.5" y="1318.9">1000</text><text class="t" text-anchor="middle" x="1418.5" y="1318.9">1500</text><text class="t" text-anchor="middle" x="1483.5" y="1318.9">2000</text><path class="k" d="M1221.5 1298.5v4.86M1287.5 1298.5v4.86M1352.5 1298.5v4.86M1418.5 1298.5v4.86M1483.5 1298.5v4.86M1216.5 1294.5h-4.86M1216.5 1228.5h-4.86M1216.5 1163.5h-4.86M1216.5 1097.5h-4.86M1216.5 1032.5h-4.86M1216.5 966.5h-4.86M1216.5 901.5h-4.86M1216.5 835.5h-4.86M1216.5 770.5h-4.86"/><text class="t" text-anchor="middle" x="1356.0" y="1339.1">X</text><text class="h" text-anchor="middle" x="1356.0" y="744.2">detected_negative_mask_fraction[px_frac]</text>
<rect x="1510.5" y="804.5" width="23.0" height="443.0" fill="url(#vg)" class="k"/><text class="t" x="1542.6" y="1187.5">0.00</text><text class="t" x="1542.6" y="1121.5">0.01</text><text class="t" x="1542.6" y="1055.5">0.02</text><text class="t" x="1542.6" y="989.5">0.03</text><text class="t" x="1542.6" y="922.5">0.04</text><text class="t" x="1542.6" y="856.5">0.05</text><path class="k" d="M1533.5 1182.5h4.86M1533.5 1116.5h4.86M1533.5 1050.5h4.86M1533.5 984.5h4.86M1533.5 917.5h4.86M1533.5 851.5h4.86"/>
</svg></body></html>
